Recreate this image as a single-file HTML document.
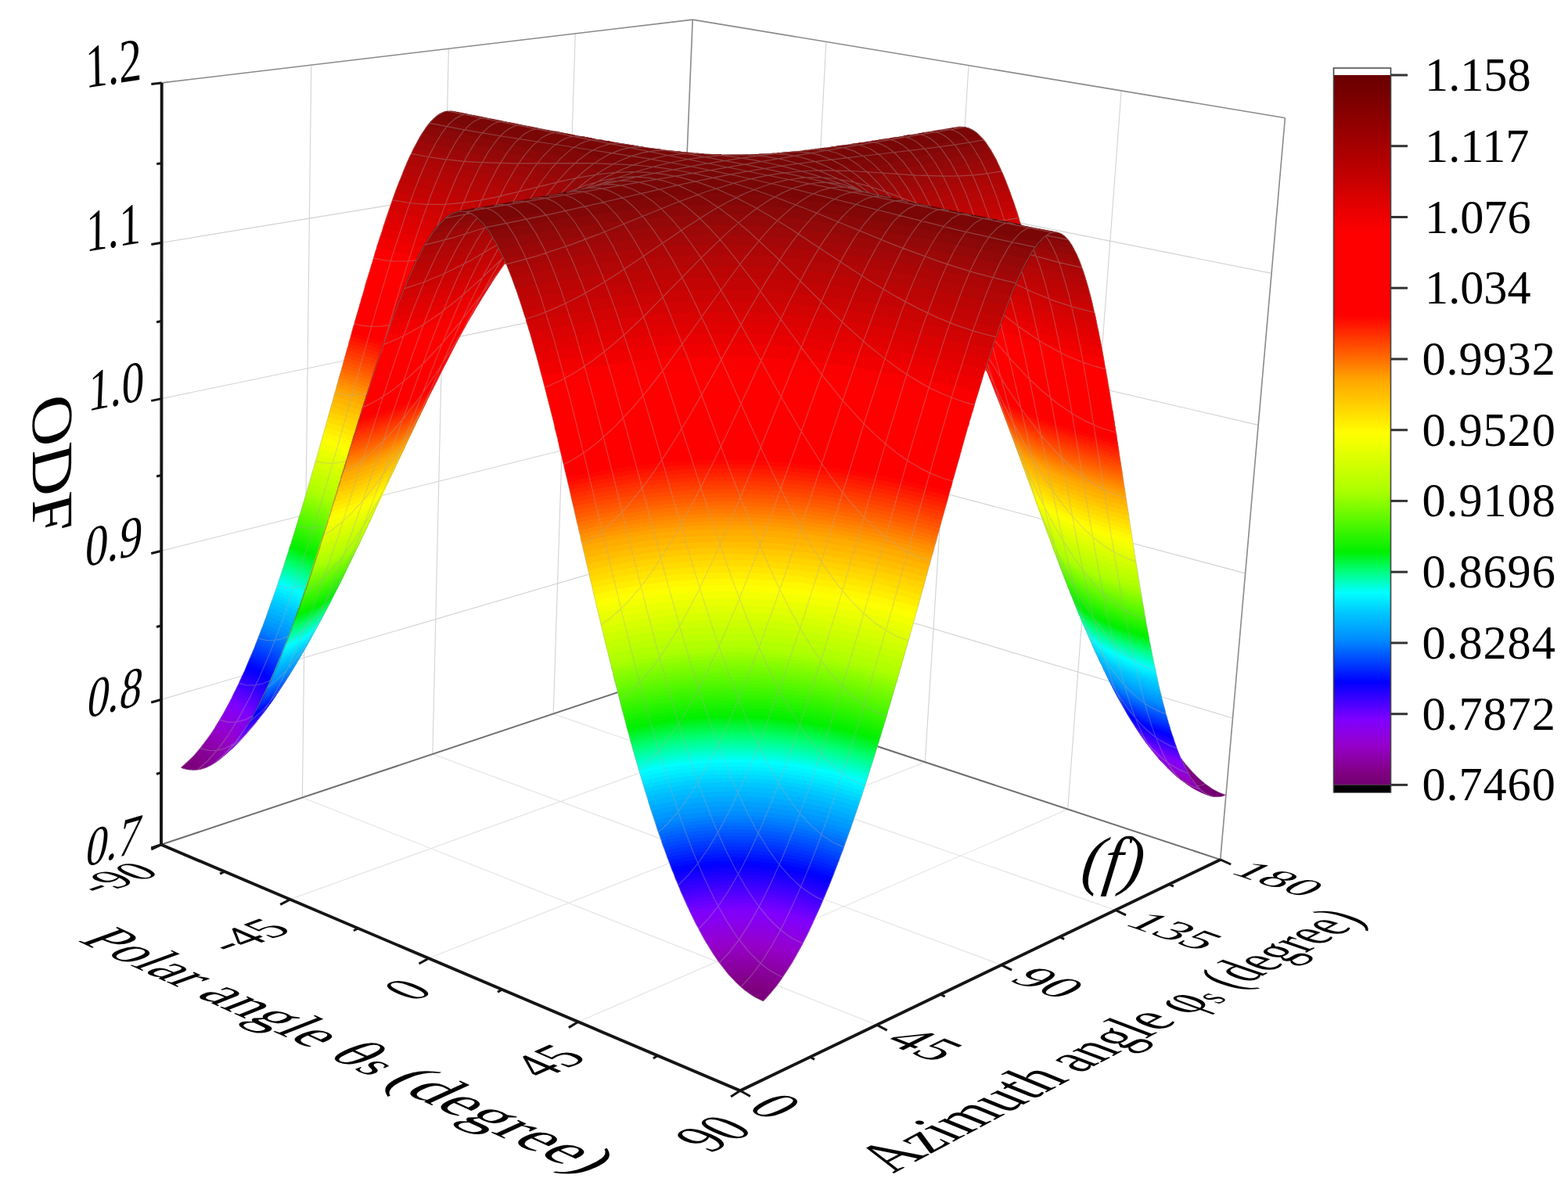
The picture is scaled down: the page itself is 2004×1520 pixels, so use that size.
<!DOCTYPE html>
<html lang="en"><head><meta charset="utf-8"><title>ODF surface plot (f)</title>
<style>html,body{margin:0;padding:0;background:#fff}svg{display:block}text{font-family:"Liberation Serif","Times New Roman",Times,serif}</style></head>
<body>
<svg xmlns="http://www.w3.org/2000/svg" width="2004" height="1520" viewBox="0 0 2004 1520">
<rect width="2004" height="1520" fill="#fff"/>
<g id="frame"><g fill="none"><line x1="206.2" y1="894.2" x2="857.2" y2="703.6" stroke="#d2d2d2" stroke-width="1.1"/><line x1="857.2" y1="703.6" x2="1575.5" y2="918" stroke="#d2d2d2" stroke-width="1.1"/><line x1="206.3" y1="704.2" x2="864" y2="539.2" stroke="#d2d2d2" stroke-width="1.1"/><line x1="864" y1="539.2" x2="1591.6" y2="732.9" stroke="#d2d2d2" stroke-width="1.1"/><line x1="206.5" y1="509.6" x2="870.9" y2="371.4" stroke="#d2d2d2" stroke-width="1.1"/><line x1="870.9" y1="371.4" x2="1608.1" y2="543.4" stroke="#d2d2d2" stroke-width="1.1"/><line x1="206.6" y1="310.2" x2="878" y2="200" stroke="#d2d2d2" stroke-width="1.1"/><line x1="878" y1="200" x2="1625" y2="349.4" stroke="#d2d2d2" stroke-width="1.1"/><line x1="386.4" y1="1019.6" x2="397.8" y2="83.1" stroke="#d2d2d2" stroke-width="1.1"/><line x1="1011.2" y1="917.8" x2="1055.8" y2="53.4" stroke="#d2d2d2" stroke-width="1.1"/><line x1="370.7" y1="1149.8" x2="1011.2" y2="917.8" stroke="#e2e2e2" stroke-width="1.1"/><line x1="386.4" y1="1019.6" x2="1120.5" y2="1310.2" stroke="#e2e2e2" stroke-width="1.1"/><line x1="552.9" y1="964" x2="573.4" y2="62.2" stroke="#d2d2d2" stroke-width="1.1"/><line x1="1182.3" y1="974.3" x2="1238" y2="83.6" stroke="#d2d2d2" stroke-width="1.1"/><line x1="547.9" y1="1225.1" x2="1182.3" y2="974.3" stroke="#e2e2e2" stroke-width="1.1"/><line x1="552.9" y1="964" x2="1279.8" y2="1233.6" stroke="#e2e2e2" stroke-width="1.1"/><line x1="707.2" y1="912.6" x2="735.3" y2="42.9" stroke="#d2d2d2" stroke-width="1.1"/><line x1="1364.7" y1="1034.5" x2="1433.1" y2="116" stroke="#d2d2d2" stroke-width="1.1"/><line x1="739.1" y1="1306.3" x2="1364.7" y2="1034.5" stroke="#e2e2e2" stroke-width="1.1"/><line x1="707.2" y1="912.6" x2="1425.6" y2="1163.4" stroke="#e2e2e2" stroke-width="1.1"/></g>
<g fill="none"><line x1="206.7" y1="105.9" x2="885.2" y2="25.1" stroke="#8a8a8a" stroke-width="1.6"/><line x1="885.2" y1="25.1" x2="1642.4" y2="150.7" stroke="#8a8a8a" stroke-width="1.6"/><line x1="850.5" y1="864.7" x2="885.2" y2="25.1" stroke="#8a8a8a" stroke-width="1.6"/><line x1="1559.7" y1="1098.9" x2="1642.4" y2="150.7" stroke="#8a8a8a" stroke-width="1.6"/><line x1="206" y1="1079.8" x2="850.5" y2="864.7" stroke="#6e6e6e" stroke-width="2.0"/><line x1="850.5" y1="864.7" x2="1559.7" y2="1098.9" stroke="#6e6e6e" stroke-width="2.0"/></g></g>
<g id="surface"><path fill="#720072" d="M959.8 1271.2l0 0.6l6.4 4l8.6 4l1 0l3.4-3.6l0-0.4l-1.4 0l-1.6-1l-6.4-2zM1531.2 1003.8l0 3l4.6 4.4l5.4 4l4 2l5.6 1.6l9 0l4-1l3-1.6l-9-3.4l-7.6-4l-9-6l-4.4-4l-4 2.4zM231.2 981.2l3 1.6l8.6 1.4l-1.6-2.4l-6-3.6z"/>
<path fill="#770077" d="M947.8 1262.2l3 3l12 8.6l12 6l1 0l10-11l-1.6 0l-6-2.6l-2 0l-8.4-2.4l-11.6-1l-0.4-0.6zM1524.8 996.8l0 2l2.4 3.4l8.6 9l4 3l-0.6 0.6l0.6 0.4l8.4 3l5.6 0.6l-1-1l-5.6-2l-5-4.6l0.6-3l3-2.4l-6.6-4.6l-9-8l-2.4 1zM231.2 981.2l3 1.6l6.6 1.4l5 0l0.4 0.6l5.6-0.6l0-3.4l-1.6-2.6l-5-4l-3.4-1.4l-1 0z"/>
<path fill="#7c007c" d="M940.2 1255.8l10.6 9.4l9 6.6l9 1.4l10 3.6l11.4-13.6l-14-4.4l-10.4-2l-8-0.6l-0.6-0.4l-10 0l-0.4-0.6zM1531.8 1011.2l8 4l8.4 3l0-1l-6.4-3l-2 0zM1524.2 988.8l-3.4 2.4l0 1.6l6.4 9.4l3.6 4l1 0l0-1.4l1.4-2.6l4-3l-4.4-3.4l-7-7zM234.2 978.8l6 3.4l1.6 2l4 0l0.4 0.6l10-1l1.6-1l0.4-1.6l-0.4-4.4l-2-3l-3-2.6l-7-3.4z"/>
<path fill="#800081" d="M934.8 1249.8l13 13l7 0l0.4 0.4l11.6 1l8.4 2.6l2 0l6 2.4l2 0l9-11l-9.4-3.4l-15.6-3.6l-13-1l-0.4-0.4zM1526.2 1008.2l10 5.6l8 3l-0.4-1.6l-4-2.4l-2 0zM1519.8 984.8l-2 1.4l0 1l6.4 10.6l1 0l2-2l3.6-2l-9-9.6zM240.2 973.2l2 0.6l5 3l3.6 4l0.4 3.4l2.6 0l7.4-2l2-3l0-5l-2.4-4l-4.6-3.4l-6-3z"/>
<path fill="#830089" d="M930.2 1244.8l10.6 11.4l15.4 0l0.6 0.6l8 0.4l10.4 2l2 1l7 1.6l4.6 2l1 0l2-2l6-8.6l-11-4l-19.6-4l-8.4-0.4l-0.6-0.6l-9.4 0l-0.6-0.4l-8.4 0l-0.6 0.4l-8.4 0zM1517.8 1003.2l9.4 6l9 4.6l5 1.4l0-1.4l-4-3l-2.4 0l-5.6-2l-9-4.6l-1 0l-0.4-1zM1515.2 981.2l0 1.6l5 9l1.6 0l3.4-2.6l1 0l-8-9zM253.2 959.8l-8 9l4 1.4l6 4.6l1.6 2l1 3l-1 3.4l1.4 0l7-2.4l2-2.6l1-2.4l0-3.6l-2-4.4l-6-5z"/>
<path fill="#850090" d="M925.8 1239.2l5.4 7l4 4l19.6 0l0.4 0.6l13 1l15.6 3.4l9 3.6l1 0l7.4-10.6l-5-2l-14.4-4l-5-0.4l-2.6-1l-3.4 0l-3-1l-3.6 0l-0.4-0.6l-16.6-0.4l-0.4-0.6l-8.6 0l-0.4 0.6zM1514.2 1000.8l13 8.4l5 2.6l4.6 1.4l2 0l0-1l-4-3.4l-2 0l-8.6-3l-9-5zM1512.8 976.8l0 1l4.4 9l1.6 0l3.4-2l-7.4-8.6zM256.2 955.8l-7 8.4l9 5l3.6 4l1 2l0 3l-1.6 2.6l0 1.4l4-1.4l5-3l2-3.6l0.6-4.4l-1-3.6l-4.6-5l-3.4-2.4l-5-2.6z"/>
<path fill="#870098" d="M921.8 1234.2l9 11l1-0.4l15.4-0.6l0.6 0.6l9.4 0l0.6 0.4l8.4 0.6l19.6 4l11 4l1.4-1l6-9.6l-1.4 0l-5.6-2.4l-13-3.6l-5-0.4l-5.4-1.6l-10.6-1l-0.4-0.4l-5.6 0l-0.4-0.6l-25 0l-0.6 0.6zM1508.8 996.8l15 10.4l8.4 3.6l4 1l0-1.6l-3.4-3.4l-2 0l-8.6-3l-4.4-2.6l-1 0l-5.6-3.4l-1 0l-0.4-1zM1510.8 972.2l4 9.6l2 0l2-1l-3-3l-4-5.6zM259.2 951.8l-6.4 8.4l6.4 3l6.6 5.6l1.4 3l0.6 3l-1 2.4l-2 2.6l0 1l6.4-3l3.6-3.6l2-4l0-4.4l-2-4.6l-4-4l-9-5z"/>
<path fill="#8a009f" d="M918.2 1229.2l8 10.6l16.6-0.6l0.4-0.4l19.6 1l0.4 0.4l3.6 0l3 1l11 1.6l14.4 4l4.6 2l1 0l6.4-9.6l0-0.4l-3.4-1.6l-11.6-3.4l-11-2.6l-2.4 0l-9.6-2l-3.4 0l-0.6-0.4l-13.4-0.6l-0.6-0.4l-16 0l-0.4 0.4l-8 0l-0.6 0.6zM1505.8 994.2l12.4 9.6l5 2.4l11 3.6l0-1.6l-3-3l-12-4l-9-4.4l-3.4-2.6zM1509.8 969.8l0.4 2.4l2.6 5l2.4-0.4zM262.2 947.8l-6.4 8.4l8.4 4l7 7l1 4l-0.4 2l-3.6 5l0 1l7.6-4.4l3.4-4l1.6-4l0-4.6l-2-4l-4.6-4.4l-5.4-3.6z"/>
<path fill="#8c00a7" d="M914.8 1224.8l7.4 10l10-0.6l0.6-0.4l29 0.4l0.4 0.6l3.6 0l0.4 0.4l6.6 0.6l5.4 1.4l5 0.6l13 3.4l7.6 3l6.4-10l-8-3l-1.4 0l-11-3.4l-4.6-0.6l-5-1.4l-3 0l-10.4-2l-4.6 0l-0.4-0.6l-29.6-0.4l-0.4 0.4l-7 0l-0.6 0.6l-4.4 0zM1502.2 991.2l7 6l6.6 4.6l1 0l7 3.4l5.4 1.6l1.6 1l1.4 0l0-1.6l-3-3.4l-2 0l-12-4.6l-7-3.4l-5-3.6zM265.2 943.8l-6 8.4l10.6 5.6l5.4 6l1 3l0 2.4l-2 4l-3 3l0 1l8-5l3.6-4l1.4-3l0-7l-1.4-3l-5-5l-5.6-3.4z"/>
<path fill="#8e00ae" d="M911.8 1219.8l7 10.4l0.4-0.4l8-0.6l0.6-0.4l9 0l0.4-0.6l13 0l0.6 0.6l13.4 0.4l0.6 0.6l7 0.4l17.4 3.6l13.6 4l4 2l6-9.6l-0.6-1l-15.4-5l-2 0l-2-1l-2 0l-9.6-2.4l-3 0l-0.4-0.6l-10-1l-0.6-0.4l-11.4-0.6l-0.6-0.4l-25.4 0l-0.6 0.4l-5.4 0l-0.6 0.6zM1498.2 987.8l11 9.4l14 6.6l7.6 2l-0.6-2l-2.4-3l-2 0l-1.6-1l-10.4-3.6l-9-4.4l-5.6-4zM267.8 940.2l-3.6 5.6l-2 2l0 1l5.6 2l8 5.4l3.4 4.6l1 2.4l-0.4 4.6l-2.6 4l-3 3l0 1l7-5l4.6-4.6l2-4l0.4-5l-1.4-4.4l-4.6-5l-5-3.6l-6-3z"/>
<path fill="#9000b6" d="M908.8 1215.2l6.4 10l5-0.4l0.6-0.6l4.4 0l0.6-0.4l7 0l0.4-0.6l20 0l0.6 0.6l12 0.4l0.4 0.6l13 1.4l5 1.6l4.6 0.4l11 3.6l1.4 0l7.6 3l1 0l1-1l5-8.6l-12.6-4.4l-14-3.6l-8-1.4l-3 0l-0.4-0.6l-3 0l-3.6-1l-3 0l-0.4-0.4l-4.6 0l-0.4-0.6l-33.6-0.4l-0.4 0.4l-6 0l-0.6 0.6l-4.4 0l-0.6 0.4l-3.4 0zM1495.8 985.2l8.4 8l3 2l14.6 6.6l4.4 1.4l2.6 0l0-1l-2.6-3.4l-6-1.6l-10-4l-7-3.4l-6.4-4.6zM270.8 936.2l-5.6 7.6l0 1l6 2.4l5.6 3.6l5.4 5.4l1.6 3l0 5l-3 5l-3.6 3l0 1.6l8-6.6l5-5.4l1.6-5.6l-0.6-4l-2-4l-4.4-4.4l-7-4.6z"/>
<path fill="#9300bd" d="M905.8 1210.8l6.4 10l3.6-1l14.4-1l0.6-0.6l30.4 0.6l0.6 0.4l4.4 0l0.6 0.6l13.4 1.4l9.6 2.6l2 0l2 1l7.4 1.4l1.6 1l1.4 0l7.6 3l1 0l5.4-9.4l-9-3.6l-17-4.4l-13.4-2l-0.6-0.6l-10-1l-0.4-0.4l-5 0l-0.6-0.6l-33-0.4l-0.4 0.4l-6.6 0l-0.4 0.6l-8.6 0.4zM1490.8 980.2l9.4 9.6l3.6 2.4l14 6.6l5.4 1.4l1.6 1l2.4 0l0-1l-3-4l-7.4-2l-11-4.4l-1-1l-1 0l-4.6-2.6zM272.8 932.8l-5 8l8.4 4l5 3.4l5 5.6l1.6 4.4l-1 4.6l-1.6 2.4l-5.4 5l0 1.6l4.4-3.6l9.6-10l1-2.4l0-6l-2.6-5l-4.4-4.6l-7-4.4l-4-2z"/>
<path fill="#9500c5" d="M902.8 1205.2l6.4 10.6l9-1l0.6-0.6l4.4 0l0.6-0.4l6 0l0.4-0.6l31.6 0.6l0.4 0.4l4.6 0l0.4 0.6l3 0l0.6 0.4l17.4 2.6l14 3.4l12 4.6l1.6-0.6l5.4-10l-6.4-2l-1.6-1l-1.4 0l-1.6-1l-5.4-1l-7.6-2.4l-12.4-2.6l-9-1l-0.6-0.4l-13.4-1l-0.6-0.6l-30.4-0.4l-0.6 0.4l-17.4 1zM1488.2 977.8l10 10l4 2.4l13 6l7 2.6l3.6 0.4l-0.6-2l-2.4-3.4l-10-3l-11.6-5l-7-4l-5-4zM275.8 928.2l-5.6 9l6.6 2.6l7 4.4l5 5l2 4l0 5l-2 3.6l0 1.4l-6.6 5l0 1l0.6 0l9-7.4l-0.6-0.6l7-8l0.6-7l-3.6-6.4l-5-4.6l-9.4-5.4z"/>
<path fill="#9400cc" d="M899.2 1199.8l7 11.4l8-1.4l9.6-0.6l0.4-0.4l7.6 0l0.4-0.6l29 0.6l0.6 0.4l5 0l0.4 0.6l10 1l0.6 0.4l13.4 2l17 4.6l8.6 3.4l1.4-0.4l5.6-10l0-1l-22.6-7l-2 0l-12-3l-3 0l-10-2l-9-0.6l-0.4-0.4l-18.6-0.6l-0.4-0.4l-21.6 0.4l-0.4 0.6l-10.6 0.4l-0.4 0.6l-6.6 0.4zM1483.2 972.2l9.6 10.6l5.4 4l13.6 6.4l10 3.6l2 0l0-1.6l-2.6-4l-17-6l-12.4-6.4zM294.2 959.2l-1 0l-1.4 1.6l-2 0.4l-5 5l0 1l2.4-1.4zM278.2 923.8l-5.4 9.4l10.4 5l3.6 2.6l5 5l2.4 5l0 4l-1 2l0 1l1 0l8-9.6l0.6-3.4l-1-4.6l-2.6-4l-4-4l-7-4.4l-6-3z"/>
<path fill="#9200d3" d="M896.2 1194.2l6.6 11.6l7.4-1.6l3 0l0.6-0.4l17.4-1l0.6-0.6l0.4 0.6l1.6-0.6l17.4 0l0.6 0.6l14 0.4l0.4 0.6l4 0l10.6 2l3 0l12.4 2.4l7.6 2.6l5.4 1l10 4l2-0.6l5.6-10l-1-1l-7-2.4l-1.6 0l-3-1.6l-17.4-4.4l-5-0.6l-8.6-2l-15-1.4l-0.4-0.6l-5 0l-0.6-0.4l-33-0.6l-0.4 0.6l-8.6 0l-0.4 0.4l-9 0.6l-0.6 0.4l-3.4 0zM1479.8 968.2l3.4 4.6l10 9.4l7 4l1 0l8 4l8 2.6l1.6 1l3.4 0.4l0-1.4l-3-5l-2.4 0l-18-7l-10-5.6zM299.2 954.8l-1 0l-3.4 3l-2.6 0.4l-5 5.6l0 1l1 0zM281.2 919.2l-6 9.6l4.6 1.4l1 1l5.4 2.6l5.6 4l3 3l3.4 6.4l-0.4 5.6l1 0l7.4-10l-1-6.6l-3-4.4l-5-4.6l-4.4-3z"/>
<path fill="#8f00da" d="M893.2 1188.8l6.6 11.4l7.4-1.4l6.6-0.6l0.4-0.4l5 0l0.6-0.6l5 0l0.4-0.4l18.6 0l1-0.6l0.4 0.6l18.6 0.4l0.4 0.6l12.6 1l0.4 0.4l16.6 2.6l10.4 3l2 0l1.6 1l5 1l11 4l6-11.6l-1.6 0l-3-1.4l-7.4-2l-1.6-1l-5.4-1l-2-1l-2 0l-2-1l-2 0l-2-1l-16-3l-19-2l-0.6-0.6l-22-0.4l-0.4-0.6l-1.6 0.6l-2.4 0l-0.6-0.6l-1.4 0.6l-12.6 0l-0.4 0.4l-5.6 0l-0.4 0.6l-13 1l-3 1zM1476.8 964.8l6.4 8l4.6 4.4l3 2l16 8l14 4.6l0-1.6l-3-5l-7.6-2l-12.4-5l-12-6.4zM303.2 950.8l-1 0l-5.4 4.4l-2 0.6l-4.6 5l0 1.4l1 0zM283.8 914.8l-5.6 9.4l9 4l7 4.6l4.6 4.4l2 3l1 2.6l0 4.4l1 0l7-9.4l-0.6-3.6l-1.4-3.4l-3.6-4.6l-6.4-5l-7.6-4l-1 0l-1-1z"/>
<path fill="#8c00e1" d="M890.8 1183.8l6 11l7.4-1.6l3 0l0.6-0.4l3.4 0l0.6-0.6l10-0.4l0.4-0.6l7.6 0l0.4-0.4l31 0.4l0.6 0.6l5 0l0.4 0.4l15 1.6l8.6 2l5 0.4l17.4 4.6l3 1.4l6 1.6l4 2l6-11.6l-5.4-1.4l-1.6-1l-1.4 0l-1.6-1l-1.4 0l-3-1.6l-18-4.4l-2.6 0l-5.4-1.6l-9-1l-3.6-1l-4 0l-0.4-0.4l-8-0.6l-0.6-0.4l-6 0l-0.4-0.6l-8.6 0l-0.4-0.4l-1.6 0.4l-2.4-0.4l-24.6 0.4l-0.4 0.6l-15.6 1l-0.4 0.4l-6.6 0.6l-2.4 1l-3 0zM1474.8 962.2l5 6.6l5 5l3 2l14.4 7.4l9 3.6l7.6 2l0-2l-2.6-4.6l-2 0l-6-2l-14.4-6l-8.6-4.4zM307.2 946.8l-1 0l-7.4 6l-2 0.4l-4 4.6l0 1.4l1.4 0l2.6-2zM286.2 910.8l-5.4 9l11 5l6.4 4.4l5 5.6l1.6 2.4l1 5l1 0l6-9l0-2.4l-1.6-3.6l-5.4-6.4l-5-3.6l-7-4l-3.6-1l-2.4-1.4z"/>
<path fill="#8900e8" d="M887.8 1178.2l6 11l3 0l9-2l13-1l0.4-0.4l5.6 0l0.4-0.6l32 0l0.6 0.6l6.4 0l0.6 0.4l19 2l16 3l2 1l2 0l2 1l2 0l2 1l5.4 1l1.6 1l3 0.6l7.4 3l2.6-0.6l5-10l-9.6-3.4l-1.4 0l-3-1.6l-17.6-4.4l-16-3l-3.4 0l-3.6-1l-12.4-1l-0.6-0.6l-5 0l-0.4-0.4l-9 0l-0.6-0.6l-31.4 0.6l-0.6 0.4l-6 0l-0.4 0.6l-12.6 1l-0.4 0.4zM1470.8 957.2l6 8l4.4 4.6l3.6 2.4l15.4 8l15 5.6l2 0l0-1.6l-2.4-4.4l-16-5.6l-14.6-7l-7-4.4zM308.2 945.2l-1 0l-5 4l-3 1l-3.4 4l-0.6 2.6l1 0l3-2zM288.8 906.2l-4 6.6l-1 3l3.4 1l1 1l6 2.4l6 4l6 6l2 3.6l0.6 3l1.4 0l5.6-8.6l0-2l-2-4l-4.6-5l-4.4-3.4l-9-5z"/>
<path fill="#8700ef" d="M885.2 1173.2l5.6 11l4-1l3 0l2.4-1l6.6-0.4l0.4-0.6l15.6-1l0.4-0.4l11 0l0.6-0.6l24 0.6l0.4 0.4l6 0l0.6 0.6l4 0l4.4 1l4 0l3.6 1l9 1l5.4 1.4l2.6 0l18 4.6l3 1.4l1.4 0l1.6 1l6 1.6l1.4 1l2-0.6l4.6-9.4l0-1l-1.6 0l-2.4-1.6l-1.6 0l-4.4-2l-25-6.4l-16.6-2.6l-0.4-0.4l-12.6-1l-4.4-1l-5.6 0l-0.4-0.6l-8 0l-0.6-0.4l-33.4 0.4l-0.6 0.6l-6.4 0l-0.6 0.4l-8.4 0.6l-3 1l-4 0zM1467.2 952.8l7.6 10l3 3l6.4 4.4l8.6 4.6l10.4 4.4l12.6 4l0-2l-2.6-4.4l-15-5l-15-7l-8-5zM313.8 939.2l-6 5l-6.6 3.6l-3 3.4l-1 2.6l1.6 0l4-2.6zM290.8 901.8l-5 9.4l8 3l11 7l5 5.6l2.4 5.4l1 0l5.6-8.4l0-1.6l-1.6-3.4l-5-5.6l-6-4.4l-12-6z"/>
<path fill="#8400f5" d="M882.8 1168.2l5.4 10.6l2.6 0l11.4-2.6l12.6-1l0.4-0.4l6 0l0.6-0.6l9.4 0l0.6-0.4l29 0.4l0.4 0.6l5 0l0.6 0.4l4 0l0.4 0.6l8 0.4l3.6 1l3.4 0l16 3l17.6 4.6l13.4 5l1.6-0.6l0.4-2l4-7.4l0-1l-28-8.6l-23.4-4.4l-15-1.6l-0.6-0.4l-4.4 0l-0.6-0.6l-15.4-0.4l-0.6-0.6l-2 0.6l-2.4-0.6l-26 0.6l-0.6 0.4l-6.4 0l-0.6 0.6l-4 0l-4.4 1l-4.6 0zM1464.2 948.8l8.6 11.4l8 6l17 8.6l15.4 5.4l1.6 0l-2.6-6.4l-1.4 0l-9-3l-16.6-7l-12.4-7.6zM315.8 937.2l-1 0l-2.6 2.6l-6 4l-2.4 0.4l-3.6 4.6l-0.4 2l1.4 0l5.6-3.6zM293.2 897.8l-5 9l6.6 2.4l9 5l8 7l3.4 6.6l1 0l5-8.6l0-2l-2-3.4l-5.4-5.6l-6.6-4.4l-8-4z"/>
<path fill="#8100fc" d="M880.8 1163.8l5 10l12-2.6l4 0l3-1l9.4-0.4l0.6-0.6l5.4 0l0.6-0.4l8 0l0.4-0.6l31.6 0.6l0.4 0.4l5.6 0l4.4 1l12.6 1l0.4 0.6l16.6 2.4l6.4 2l8 1.6l2 1l2 0l17.6 6l4.4-10l-3.4-1.6l-1.6 0l-11-4l-24.4-6l-3 0l-3-1l-9-1l-3.6-1l-4.4 0l-0.6-0.4l-14.4-1l-0.6-0.6l-8 0l-0.4-0.4l-1.6 0.4l-0.4-0.4l-33.6 0.4l-0.4 0.6l-5.6 0l-0.4 0.4l-16.6 1.6zM1463.2 947.2l5.6 8l3 3l5.4 4l17.6 9l13.4 5l5 1l0-1.4l-2.4-4.6l-11.6-3.4l-11-4.6l-9-4.4l-8-5zM317.8 934.8l-1.6 0.4l-6.4 5l-3.6 2l-1 0l-3.4 4.6l0 1.4l1 0l6-3.4zM295.2 893.8l-4.4 8.4l12 5.6l6 4l6 5.4l2 2.6l1 3l1.4 0l4.6-8l-0.6-2l-2.4-3.6l-4-4l-6.6-4.4z"/>
<path fill="#7a00ff" d="M878.8 1159.2l4.4 9.6l11.6-2.6l3.4 0l3-1l4.6 0l0.4-0.4l8-0.6l0.6-0.4l18-0.6l0.4-0.4l26 0.4l0.6 0.6l6.4 0l4.6 1l9.4 0.4l3.6 1l9 1l5.4 1.6l2.6 0l2.4 1l7 1l2 1l5.6 1l21.4 7l0-1l4-8l-18.4-6.6l-18.6-4.4l-2.4 0l-5-1.6l-3 0l-3-1l-6.6-0.4l-3.4-1l-4 0l-0.6-0.6l-4 0l-5-1l-5.4 0l-0.6-0.4l-8 0l-0.4-0.6l-38.6 0.6l-0.4 0.4l-5.6 0l-4.4 1l-8 0.6l-0.6 0.4l-6 0.6zM1460.8 943.8l5 7.4l4 4l9 6l18 8.6l13 4.4l2 0l0-1.4l-2.6-4l-12.4-4l-15-6.6l-12-7zM320.8 931.2l-9 6.6l-3 1.4l-1.6 0l-2.4 3.6l-0.6 2.4l3-1l6-4zM296.8 890.8l-4 7.4l5.4 2l12 6.6l8.6 8l1.4 3l1.6 0.4l4-7l0-1.4l-2-3l-5-5l-6.6-4.6l-11-5.4z"/>
<path fill="#7000ff" d="M876.8 1155.2l4.4 9l15-3l8-0.4l0.6-0.6l8-0.4l0.4-0.6l5.6 0l0.4-0.4l9 0l0.6-0.6l32.4 0.6l0.6 0.4l5.4 0l0.6 0.6l4.4 0l0.6 0.4l11.4 1l12.6 2.6l3 0l24.4 6l11 4l1.6 0l4 2l4.4-9.6l-10-3.4l-1.4 0l-1.6-1l-23-6l-16-3l-2.4 0l-0.6-0.6l-6-0.4l-0.4-0.6l-4.6 0l-4-1l-5 0l-0.4-0.4l-5 0l-0.6-0.6l-7.4 0l-0.6-0.4l-40 0.4l-0.4 0.6l-5.6 0l-0.4 0.4l-13 1l-12 2.6l-3 0zM1457.2 938.8l7 10.4l10.6 8l16 8l18 6.6l2 0l0-1l-1.6-1.6l-1-3l-12.4-4l-19-8.4l-11-7l-7.6-6.6l-0.4-1.4zM323.2 928.2l-9 6.6l-4.4 2.4l-1 0l-2.6 3.6l-0.4 2l2.4-0.6l7-4.4zM298.8 886.8l-4 8l10 4l9 5.4l6.4 6l2.6 4l1 0l4-6.4l0-2l-3-4l-9.6-7.6l-5.4-3z"/>
<path fill="#6600ff" d="M874.8 1150.8l4.4 9.4l13-3l3 0l7-1.4l8.6-0.6l0.4-0.4l6.6 0l0.4-0.6l6.6 0l0.4-0.4l1 0.4l1.6-0.4l34.4 0.4l0.6 0.6l5.4 0l0.6 0.4l16 1.6l10 2l3 0l5 1.4l2.4 0l6.6 2l2 0l10 2.6l14 4.4l4 2l1.4-0.4l3.6-7.6l-0.6-1.4l-3.4-1.6l-1.6 0l-6.4-2.4l-1.6 0l-1.4-1l-13-3.6l-2 0l-2-1l-20.6-4l-6.4-0.4l-3.6-1l-4.4 0l-4-1l-10.6-0.6l-0.4-0.4l-7 0l-0.6-0.6l-43 0.6l-0.4 0.4l-18 1.6zM1456.2 937.2l5.6 8.6l7 6l5.4 3.4l19 9l11 3.6l1.6 1l3.4 0.4l-2.4-6l-1.6 0l-13-4.4l-18.4-8.6l-8-5zM325.8 925.2l-1.6 0.6l-3 3l-10 6l-1 0l-2.4 4l0 1.4l5-2l5-3.4zM300.2 883.2l-4 8l7.6 2.6l11.4 6.4l8 7.6l1.6 2.4l1.4 0l3.6-6.4l0-1.6l-2-3l-3.6-3.4l-7-5l-11-5.6z"/>
<path fill="#5d00ff" d="M873.2 1146.2l0.6 2.6l3.4 7l20.6-4l13-1l0.4-0.6l5.6 0l0.4-0.4l8.6 0l0.4-0.6l37 0.6l5 1l6 0l4 1l4.6 0l0.4 0.4l6 0.6l0.6 0.4l2.4 0l16 3l23 6l1.6 1l1.4 0l9 3.6l2-0.6l3.6-7.4l0-1l-13-4.6l-25-6.4l-13-2l-0.6-0.6l-3 0l-6-1.4l-13-1l-4.4-1l-5.6 0l-0.4-0.6l-7 0l-0.6-0.4l-36 0l-0.4 0.4l-12.6 0.6l-0.4 0.4l-12.6 1l-9.4 2l-3 0l-7 2zM1453.2 932.8l6 9.4l3 3l7.6 5.6l6 3.4l14 6.6l17 6l1.4 0l-2.4-6l-1.6 0l-13-4.6l-19.4-9l-12-8zM329.8 920.2l-1 0.6l-0.6 1.4l-1 0l-3 3l-6.4 4.6l-4 2l-1.6 0l-3 4.4l0 1.6l1.6 0l9-5.6l3.4-3.4zM302.2 879.8l-4 7.4l16 7.6l7.6 5.4l5.4 6.6l1 0l2.6-5.6l1-1l0-2l-1.6-2l-6-5.4l-7-4.6l-12.4-6z"/>
<path fill="#5300ff" d="M871.2 1142.2l4 9l12.6-2.4l8.4-1l0.6-0.6l13-1l0.4-0.4l6 0l0.6-0.6l7.4 0l0.6-0.4l39 0.4l0.4 0.6l4.6 0l0.4 0.4l5.6 0l4 1l4.4 0l3.6 1l9.4 1l8 2l2.6 0l24 6l1.4 1l1.6 0l1.4 1l1.6 0l9 3.6l1 0l4-9l-19.6-6.6l-20-5l-10.4-2l-3 0l-2.6-1l-10-1l-0.4-0.4l-9.6-0.6l-0.4-0.4l-9.6-0.6l-0.4-0.4l-7.6 0l-0.4-0.6l-35.6 0l-0.4 0.6l-13 0.4l-4.6 1l-8 0.6l-3.4 1l-9.6 1zM1451.2 929.8l6 9.4l3.6 3.6l7 5l15 8l12.4 5l10.6 3.4l1.4 0l-2.4-6l-3-0.4l-1.6-1l-1.4 0l-1.6-1l-5.4-1.6l-10-4l-11-5.4l-11-7l-7.6-6.6l-0.4-1.4zM331.8 917.8l-8.6 7l-7.4 4.4l-2 0.6l-2.6 3.4l-0.4 2l1.4 0l10-6l3.6-3.4zM303.8 876.2l-3.6 7.6l16 7.4l7 5l4 4l1.6 2.6l1.4 0l3.6-6.6l-0.6-2.4l-7-6.6l-7-4.4l-11.4-5.6z"/>
<path fill="#4900ff" d="M869.2 1138.2l4 9l19.6-4l11-1l0.4-0.4l4.6 0l0.4-0.6l12.6-0.4l0.4-0.6l34 0l0.6 0.6l7 0l0.4 0.4l5.6 0l4.4 1l5 0l0.6 0.6l3.4 0l3.6 1l3.4 0l3 1l6 0.4l3 1l5 0.6l2 1l7 1l2 1l2 0l2 1l2 0l2 1l8.6 2l14 5l3.4-8.6l0-1l-5.4-1.4l-4.6-2l-3.4-0.6l-3-1.4l-7.6-1.6l-3.4-1.4l-6-1l-4.6-1.6l-2.4 0l-10.6-2.4l-3 0l-10-2l-8-0.6l-4-1l-11.4-0.4l-0.6-0.6l-7 0l-0.4-0.4l-43.6 0.4l-0.4 0.6l-5 0l-0.6 0.4l-4.4 0l-0.6 0.6l-11.4 1l-0.6 0.4l-16 2.6zM1449.2 926.8l6 9.4l3.6 3.6l7 5l19.4 10l9 3l1.6 1l10.4 3l-2.4-6l-20.6-7l-15.4-7.6l-10-6.4zM333.2 915.8l-7.4 6l-10.6 5.4l-2.4 4l0 1.6l6-2.6l6.4-4.4zM305.2 872.8l0 1l-3.4 6.4l11 4.6l8.4 5l4.6 3.4l5.4 6l1 0l0-1l1-1l2.6-6l-5-5.4l-5.6-4l-7-4l-1 0l-1-1l-5.4-2.6z"/>
<path fill="#3f00ff" d="M867.8 1133.8l3.4 9l5-0.6l10-2.4l9.6-1l0.4-0.6l13-1l0.6-0.4l5 0l0.4-0.6l6.6 0l0.4-0.4l33.6 0l0.4 0.4l7.6 0l0.4 0.6l5.6 0l0.4 0.4l8 0.6l0.6 0.4l5 0l0.4 0.6l10 1l2.6 1l3 0l10.4 2l8.6 2.4l4.4 0.6l1.6 1l2 0l7 2.4l5 1l7.4 3l1.6 0l1.4 1l1.6-0.4l3.4-8l-1-1l-1.4 0l-14-5l-23.6-6l-7.4-1.6l-3 0l-11.6-2.4l-4 0l-4-1l-14-1l-0.4-0.6l-5 0l-0.6-0.4l-8.4 0l-0.6-0.6l-40.4 0.6l-0.6 0.4l-12 0.6l-7.4 1.4l-4 0l-3 1l-12 1.6l-2 1l-2.6 0zM1446.8 922.8l6.4 10.4l5.6 5l7.4 5l14.6 7.6l14 5.4l1.4 0l1.6 1l7.4 2l-2-6l-3-0.4l-14-5l-19.4-9l-11.6-7.6zM336.8 911.2l-8 7l-6.6 4l-5.4 2.6l-2.6 4l0 1.4l2.6-0.4l11.4-7.6zM306.8 869.8l-3 7l7.4 3l9.6 5l7 5l5 5.4l1.4 0l3-6l0-2l-3.4-4l-10-7l-15-7z"/>
<path fill="#3600ff" d="M865.8 1129.8l4 9l16-3.6l9.4-1l3.6-1l4.4 0l0.6-0.4l19.4-1l0.6-0.6l31 0l0.4 0.6l8 0l0.6 0.4l11.4 0.6l4 1l8 0.4l10 2l3 0l10.6 2.6l2.4 0l4.6 1.4l6 1l3.4 1.6l7.6 1.4l3 1.6l3.4 0.4l11 4l3.6-8l0-1l-9-3.4l-5-1l-1.6-1l-3.4-0.6l-3.6-1.4l-2 0l-2-1l-12.4-2.6l-2.6-1l-7.4-1.4l-3 0l-6-1.6l-9-1l-0.6-0.4l-4 0l-0.4-0.6l-4 0l-5-1l-5 0l-0.6-0.4l-5.4 0l-0.6-0.6l-40.4-0.4l-0.6 0.4l-14 0.6l-0.4 0.4l-17.6 1.6l-3 1l-3 0l-0.4 0.4l-10.6 1.6zM1444.2 918.8l7 11.4l5.6 5l5 3.6l20.4 10.4l22 7.6l-2-6l-15.4-5l-21-9.6l-14-9.4l-6-5.6l0-1zM338.2 909.2l-8 6.6l-7.4 4.4l-4 1.6l-3 4.4l0 1.6l7-3l8.4-6zM308.2 866.2l-3 7l9 3.6l7.6 4l8 5.4l5 5.6l1.4-0.6l3-6.4l-0.4-2l-7.6-6.6l-7.4-4.4l-13.6-6z"/>
<path fill="#2c00ff" d="M864.2 1125.2l3.6 9l12-2l2.4-1l6.6-0.4l3-1l4 0l3.4-1l5 0l0.6-0.6l10.4-0.4l0.6-0.6l8 0l0.4-0.4l28.6 0l0.4 0.4l10 0l0.6 0.6l15 1l0.4 0.4l15 1.6l3 1l8.6 1l12 3l2 0l2 1l8 1.4l3.4 1.6l10 2.4l4.6 2l4.4 1l1.6 1l4-9l-20.6-7l-20.4-5l-13-2.4l-3 0l-2.6-1l-6.4-0.6l-0.6-0.4l-17.4-1.6l-4.6-1l-7.4 0l-0.6-0.4l-35.4-0.6l-0.6 0.6l-16.4 0.4l-0.6 0.6l-5 0l-0.4 0.4l-8.6 0.6l-10.4 2l-3 0l-3 1l-2.6 0l-2 1l-2.4 0l-4.6 1.4zM1442.8 916.2l6 10l5.4 5.6l8 5.4l18 9l19 7l4 0.6l-2-5.6l-16.4-5.4l-18-8l-14.6-9zM341.2 905.2l-8 7l-7 4.6l-6 2.4l-3 4.6l0 1.4l6-2.4l8.6-5.6l3.4-3.4zM310.2 862.2l-3.4 7.6l7 2.4l9 4.6l7 4.4l6.4 6.6l2-0.6l0-1l2.6-4.4l0-2l-4.6-4.6l-9-6l-14-6.4z"/>
<path fill="#2200ff" d="M862.2 1121.2l4 9l16-3.4l6-0.6l3-1l8-0.4l0.6-0.6l4 0l0.4-0.4l5.6 0l0.4-0.6l5.6 0l0.4-0.4l9 0l0.6-0.6l25.4 0l0.6 0.6l10.4 0l0.6 0.4l11 0.6l0.4 0.4l13 1l6.6 1.6l6 0.4l3 1l3 0l14.4 3.6l2 0l8 2.4l2 0l3.6 1.6l8 2l1.4 1l3.6 0.4l5.4 2.6l1.6 0l3.4-8l0-1l-11.4-3.6l-1.6-1l-5.4-1l-5-2l-8-1.4l-2-1l-2 0l-2-1l-2.6 0l-10-2.6l-2.4 0l-12.6-2.4l-3 0l-0.4-0.6l-22.6-2l-0.4-0.4l-7 0l-0.6-0.6l-32.4-0.4l-0.6 0.4l-18 0.6l-0.4 0.4l-5 0l-0.6 0.6l-4 0l-0.4 0.4l-14.6 1.6zM1441.2 913.8l5.6 9.4l6.4 6l8 5.6l17 8.4l22 8l2 0l-1.4-5l-1-1l-6-1.4l-1.6-1l-12-4l-18-8.6l-13-8.4zM342.2 903.8l-10.4 8l-10 5l-2.6 3.4l-0.4 2l2 0l12-7l4-3.4zM311.8 858.8l-3.6 7.4l2.6 0.6l12 5.4l9.4 6l6 6l1.6-0.4l2.4-5l0.6-2.6l-4-4l-11.6-7.4l-1 0l-11.4-5.6z"/>
<path fill="#1800ff" d="M860.8 1117.2l3.4 9l7.6-2l2.4 0l2-1l6-0.4l6-1.6l11.6-1l4.4-1l5 0l0.6-0.4l7 0l0.4-0.6l10.6 0l0.4-0.4l19 0l0.6 0.4l2.4 0l0.6-0.4l0.4 0.4l17 0.6l4.6 1l10 0.4l3.4 1l11 1l2.6 1l6 0.6l12.4 3l4.6 0.4l2 1l6 1l10.4 3.6l1.6 0l12 4l1.4 1l1.6-0.6l3.4-8.4l-11.4-3.6l-1.6-1l-3.4-0.4l-12.6-4l-6.4-1l-2-1l-2 0l-10-2.6l-2.6 0l-2.4-1l-2.6 0l-6.4-1.4l-3.6 0l-3.4-1l-18-1.6l-0.6-0.4l-5.4 0l-0.6-0.6l-7.4 0l-0.6-0.4l-14.4 0l-0.6-0.6l-2 0.6l-0.4-0.6l-1.6 0.6l-0.4-0.6l-2.6 0l-1 0.6l-2.4-0.6l-0.6 0.6l-13 0l-0.4 0.4l-14 0.6l-0.6 0.4l-9 0.6l-3.4 1l-8 0.4l-2.6 1l-3 0l-8 2l-2.4 0zM1439.8 911.2l5.4 9.6l6 5.4l6.6 4.6l13 7l10.4 4.4l18.6 6.6l1.4 0l-2-6l-14.4-4.6l-23.6-10.4l-10.4-6.6zM345.2 899.8l-10.4 8.4l-5 3l-7 3l-2.6 4.6l0 1l2 0l5-2.6l9-6l3.6-3.4zM310.2 862.8l8 3l1 1l7 3l6.6 4l7.4 7l1 0l3-6.6l0-2l-2-2l-12.4-8.4l-16-7z"/>
<path fill="#0f00ff" d="M859.2 1112.8l3.6 9l22.4-4.6l14.6-1.4l0.4-0.6l4 0l0.6-0.4l12.4-0.6l0.6-0.4l14 0l0.4-0.6l1.6 0.6l1.4-0.6l7.6 0.6l2-0.6l0.4 0.6l14 0l0.6 0.4l17.4 1l0.6 0.6l7.4 0.4l4 1l7.6 0.6l2.4 1l9 1l12 3l4.6 0.4l2 1l8 1.6l5 2l5.4 1l1.6 1l6 1.4l6.4 2.6l3.6-9l-11-4l-1.6 0l-3.4-1.6l-2 0l-3-1.4l-4-0.6l-1.6-1l-2 0l-2-1l-2 0l-11-3l-13-2l-0.4-0.4l-3 0l-3-1l-6-0.6l-0.6-0.4l-12-1l-4.4-1l-5 0l-0.6-0.6l-6 0l-0.4-0.4l-9 0l-0.6-0.6l-34.4 0l-0.6 0.6l-8 0l-0.4 0.4l-11.6 0.6l-0.4 0.4l-8 0.6l-3.6 1l-7.4 0.4zM1437.8 907.8l5 9l5.4 5.4l9.6 6.6l19 9.4l14.4 5l1.6 1l8 2l-2-6l-14.6-4.4l-20-8.6l-14.4-8.4l-4.6-3.6zM347.8 896.2l-5.6 5l-7 5l-11 5.6l-2.4 4.4l0 1l1.4 0l7-3.4l10-7zM311.8 859.2l14.4 6l11.6 7.6l4 4l1.4-0.6l2-4l0.6-3.4l-3.6-3.6l-9-6l-1 0l-4-2.4l-13-5.6z"/>
<path fill="#0500ff" d="M857.8 1108.2l0.4 3l3 6.6l18-4l6.6-0.6l3-1l4 0l3.4-1l9-0.4l0.6-0.6l15-0.4l0.4-0.6l36 0l0.6 0.6l7.4 0l0.6 0.4l5.4 0l0.6 0.6l13.4 1l0.6 0.4l20 2.6l2.4 1l2.6 0l10 2.4l2 0l2 1l6.4 1l12.6 4l3.4 0.6l1.6 1l4.4 1l6 2.4l2-0.4l3-7.6l0-1l-10.4-3.4l-1.6 0l-3-1.6l-2 0l-6.4-2.4l-2 0l-10-3l-2.6 0l-2-1l-7-1l-5-1.6l-15-2l-3-1l-4 0l-0.4-0.4l-12.6-1l-0.4-0.6l-11-0.4l-0.6-0.6l-44-0.4l-0.4 0.4l-15.6 0.6l-0.4 0.4l-4.6 0l-4.4 1l-8.6 0.6l-6.4 1.4l-3.6 0l-2.4 1l-12.6 2l-2 1zM1435.8 904.2l5.4 10l6 5.6l7 5l6 3.4l16 7.6l11.6 4.4l1.4 0l10.6 3.6l-2.6-6.6l-6-1.4l-3-1.6l-1.4 0l-5.6-2.4l-4-1l-16.4-7.6l-9.6-5.4l-7-5zM349.8 893.2l-6 5.6l-8 5.4l-7.6 4l-2.4 0.6l-2.6 4.4l0 1.6l1.6 0l6-3l11-7.6l3.4-4zM316.2 848.2l-3 7.6l9.6 3.4l2 1.6l4 1.4l10 6.6l5 4.4l1 0l3-7l0-1l-2-2l-10-7l-10-5l-6-2l-1-1l-1.6-0.4z"/>
<path fill="#0005ff" d="M855.8 1104.2l2.4 7l1.6 2.6l6.4-2l10.6-1.6l5-1.4l7.4-0.6l0.6-0.4l11-1l0.4-0.6l5 0l0.6-0.4l16.4-0.6l0.6-0.4l29 0l0.4 0.4l10.6 0l0.4 0.6l4.6 0l0.4 0.4l6.6 0l0.4 0.6l8.6 0.4l0.4 0.6l13.6 1.4l3 1l6 0.6l3 1l2.4 0l2 1l10 1.4l5.6 2l4.4 0.6l1.6 1l2 0l5 2l2 0l3.4 1.4l1.6 0l10.4 4l1.6-0.4l3.4-8.6l-21.4-7l-5.6-1l-8-2.4l-2 0l-2-1l-12.4-2.6l-2.6 0l-2.4-1l-12-1.4l-0.6-0.6l-20-2l-0.4-0.4l-11-0.6l-0.6-0.4l-43.4-0.6l-0.6 0.6l-17 0.4l-0.4 0.6l-4 0l-4 1l-15.6 1.4zM1433.8 900.8l5.4 10l5 5l7.6 5.4l11.4 6.6l1 0l2 1.4l4.6 1.6l3.4 2l17.6 6l1.4 1l5.6 1l-2-6l-19.6-6.6l-19-8.4l-15-9.6zM353.2 888.2l-3.4 4l-8 6.6l-8.6 5l-6 2.4l-2.4 4.6l0 1.4l1 0l8-4l9.4-6.4l4.6-5zM317.8 844.8l-3 7.4l6 2l10.4 5.6l1 0l9 6l4 4l1 0l3-6.6l0-2l-1.4-1.4l-10-7l-1 0l-1-1l-11.6-5.6l-5.4-2z"/>
<path fill="#000eff" d="M854.2 1100.2l3.6 9l15.4-3.4l12-1.6l3-1l8.6-0.4l4.4-1l5.6 0l0.4-0.6l5.6 0l0.4-0.4l40-0.6l0.6 0.6l9.4 0l0.6 0.4l12 0.6l0.4 0.4l8.6 0.6l0.4 0.4l14 1.6l24 4.4l2 1l2.6 0l2 1l13.4 3l3 1.6l2 0l3 1.4l6.6 1.6l2.4 1.4l1.6 0l2.4 1l3.6-9l-10.6-4l-5-1l-1.4-1l-25.6-6.4l-12.4-2l-5.6-1.6l-12.4-1.4l-0.6-0.6l-8-0.4l-0.4-0.6l-8-0.4l-0.6-0.6l-12-0.4l-0.4-0.6l-43.6-0.4l-0.4 0.4l-16.6 0.6l-4.4 1l-5 0l-4 1l-11.6 1l-5.4 1.4l-10.6 1.6zM1431.8 897.2l7 12l8.4 7l7 4.6l22 10.4l4 1l10 4l7.6 2l-2-6.4l-5-1l-1.6-1l-12.4-4l-20-9l-15-9.6zM355.2 885.2l-4 4.6l-5.4 4.4l-10.6 6.6l-6.4 2.4l-2.6 6l3-0.4l7.6-4l8-5.6l4-4zM319.2 841.2l-3 7l8.6 3.6l10 5l7 4.4l5 4.6l1.4-0.6l2.6-5.4l0-2.6l-5-4l-9-5.4l-12-5.6l-4.6-1.4z"/>
<path fill="#0018ff" d="M852.8 1095.8l3.4 9l2.6 0l2-1l2 0l4.4-1.6l5.6-0.4l2.4-1l9-1l3.6-1l9-0.6l4-1l11.4-0.4l0.6-0.6l9.4 0l0.6-0.4l30.4 0l0.6 0.4l9.4 0l0.6 0.6l5.4 0l0.6 0.4l6 0l0.4 0.6l12.6 1l0.4 0.4l3.6 0l0.4 0.6l15.6 2l2.4 1l2.6 0l12.4 2.4l2 1l2 0l8 2.6l5.6 1l14.4 4.4l1.6 1l1.4 0l3 1.6l2-0.6l0.6-2.4l2.4-6l-13-4.6l-1.4 0l-1.6-1l-2 0l-1.4-1l-24-6l-2.6 0l-10-2.4l-3 0l-3-1l-3 0l-10.4-2l-3.6 0l-0.4-0.6l-7.6-0.4l-0.4-0.6l-5 0l-0.6-0.4l-5 0l-0.4-0.6l-6.6 0l-0.4-0.4l-41-0.6l-0.6 0.6l-17 0.4l-0.4 0.6l-5.6 0l-0.4 0.4l-7.6 0.6l-4.4 1l-4.6 0l-0.4 0.4l-16.6 2.6zM1429.8 893.8l6 11l6.4 6l8 5.4l7 4l14 6.6l23.6 8.4l2 0l-1.6-6l-7.4-2l-1.6-1l-3-0.4l-1.4-1l-6.6-2l-13-5.6l-6-3.4l-1 0l-15-9.6zM357.2 882.2l-0.4 0l-0.6 1.6l-8.4 7.4l-11.6 7l-4.4 2l-1.6 0l-2.4 5l0 1.6l2.4-0.6l4-2l12-7.4l4.6-4.6zM320.8 837.8l-3 7l0.4 0.4l5 1.6l11.6 5.4l1 1l1 0l7.4 5l4 3.6l1.6 0l2.4-5.6l0-2.4l-7-5.6l-12-6.4l-11.4-4.6z"/>
<path fill="#0022ff" d="M851.2 1091.2l1.6 5.6l2 4l9.4-2.6l2.6 0l13.4-3l11.6-1l4-1l16.4-1l0.6-0.4l9 0l0.4-0.6l30 0l0.6 0.6l11 0l0.4 0.4l16.6 1l0.4 0.6l12 1l0.6 0.4l20.4 3l35.6 8.6l1.4 1l11 3l4 2l1.6-0.6l3-8l-2-1.4l-10.6-3.6l-1.4 0l-1.6-1l-5.4-1l-13-4l-6.6-1l-2-1l-2.4 0l-12.6-3l-3 0l-16-3l-13-1l-4.4-1l-12.6-0.4l-0.4-0.6l-40.6-0.4l-0.4 0.4l-18 0.6l-0.6 0.4l-5.4 0l-4 1l-5 0l-0.6 0.6l-13.4 1.4zM1428.2 890.8l5.6 10.4l4.4 4.6l10.6 7.4l14 7.6l10.4 4.4l15 5l1.6 1l6.4 1.6l-1.4-5.6l-1-1l-4.6-1l-1.4-1l-3-0.4l-11-4l-20-9l-15-9.6zM358.2 880.8l-6 5.4l-7 5l-11.4 6l-2 0l0 1l-2.6 4l0 1.6l1.6 0l4.4-2.6l1 0l12.6-8l3.4-3zM322.2 834.2l-3 7l0.6 0.6l4 1l12 5.4l9 5.6l5.4 4.4l1 0l2.6-5.4l0.4-2.6l-3.4-3l-15.6-9l-11.4-4.4z"/>
<path fill="#002cff" d="M849.8 1087.2l3 9l2 0l14-3.4l5.4-0.6l3-1l3.6 0l2.4-1l4.6 0l0.4-0.4l8-0.6l4-1l12.6-0.4l0.4-0.6l10 0l0.6-0.4l27 0l1.4 0.4l0.6-0.4l0.4 0.4l9.6 0l0.4 0.6l17.6 1l3.4 1l4.6 0l0.4 0.4l3.6 0l10.4 2l3 0l5.6 1.6l5.4 0.4l5 1.6l7 1l2 1l4 0.4l2 1l11.6 2.6l1.4 1l2 0l1.6 1l1.4 0l13.6 5l4-9.6l-29.6-9l-2 0l-8-2.4l-14.4-2.6l-2.6-1l-3 0l-3-1l-6-0.4l-10-2l-3.4 0l-0.6-0.6l-5 0l-0.4-0.4l-4.6 0l-0.4-0.6l-9-0.4l-0.6-0.6l-7 0l-0.4-0.4l-39.6-0.6l-0.4 0.6l-17.6 0.4l-0.4 0.6l-5 0l-0.6 0.4l-4.4 0l-0.6 0.6l-15.4 1.4l-0.6 0.6l-16 2.4l-2.4 1l-2.6 0l-2 1l-2.4 0zM1426.2 887.2l5.6 10.6l5 5l10.4 7.4l7 4l1 0l1 1l13 6l13 5l3 0.6l1.6 1l1.4 0l5 2l2 0l-2-6l-8.4-3l-1.6 0l-19.4-7.6l-18.6-9.4l-10.4-7.6zM361.2 876.2l-7 7l-9.4 6.6l-11.6 5.4l-1.4 2l-1 4l5.4-2l6.6-3.4l8-5.6l4.4-4.4zM320.8 837.8l0.4 0.4l4 1l14 6.6l8 5l4.6 4l1 0l3-7l0-1l-8.6-6.6l-9.4-5l-13.6-5.4z"/>
<path fill="#0035ff" d="M848.2 1083.2l3 9l12.6-3l2.4 0l2-1l3.6 0l5-1.4l3 0l0.4-0.6l3 0l7.6-1.4l5 0l0.4-0.6l16-1l0.6-0.4l2 0.4l0.4-0.4l8.6 0l0.4-0.6l26 0l0.6 0.6l11 0l0.4 0.4l6 0l0.6 0.6l7 0l4.4 1l13 1l6.6 1.4l3.4 0l3 1l6 0.6l2.6 1l7.4 1l2.6 1l2.4 0l2 1l6.6 1l13 4l5.4 1l1.6 1l8 2l5.4 2.4l1.6 0l3.4-9l-25-8l-2 0l-2-1l-10-2.4l-4.4-0.6l-4.6-1.4l-8-1l-2-1l-6-0.6l-13-2.4l-7.4-0.6l-0.6-0.4l-13.4-1l-0.6-0.6l-5.4 0l-0.6-0.4l-7.4 0l-0.6-0.6l-36.4-0.4l-0.6 0.4l-25 1l-0.4 0.6l-8 0.4l-0.6 0.6l-7.4 0.4l-10 2l-6 0.6l-12 3l-2.6 0zM1424.8 884.2l5 10l8 7.6l8 5.4l13 7l14 6l11 4l3 0.6l1.4 1l6.6 1.4l-2.6-6.4l-22.4-7.6l-22.6-10.4l-14-9.6zM364.2 871.8l-7 7.4l-4.4 3.6l-9 5.4l-9 4l-2.6 4.6l0 1.4l1.6 0l10-5l9.4-6.4l4-4zM322.2 834.2l12 4.6l11 6l1.6 1.4l3 1.6l3.4 3l1.6-0.6l2.4-6l-0.4-2l-7-5l-9.6-5l-1 0l-1-1l-1 0l-7-3.4l-1.4 0l-3-1.6z"/>
<path fill="#003fff" d="M846.2 1078.8l3.6 9l9-1.6l7-2l2.4 0l2.6-1l2.4 0l6.6-1.4l3.4 0l3.6-1l8.4-0.6l0.6-0.4l18-1l0.4-0.6l11 0l0.6-0.4l23.4 0l0.6 0.4l11 0l0.4 0.6l6.6 0l0.4 0.4l6.6 0l0.4 0.6l8.6 0.4l0.4 0.6l5 0l0.6 0.4l3.4 0l2.6 1l4 0l12.4 2.6l3 0l2.6 1l14.4 2.4l2 1l8 1.6l9 3l2 0l1.6 1l1.4 0l1.6 1l6.4 1.4l6.6 2.6l2-0.6l0.4-2.4l2.6-5.6l-8-3l-4.6-1l-1.4-1l-3.6-0.4l-1.4-1l-2 0l-3.6-1.6l-2 0l-3.4-1.4l-4.6-0.6l-6-2l-4.4-0.4l-12-3l-3 0l-3-1l-19-2.6l-0.6-0.4l-3.4 0l-0.6-0.6l-10-0.4l-0.4-0.6l-10-0.4l-0.6-0.6l-7.4 0l-0.6-0.4l-32-0.6l-0.4 0.6l-14 0l-0.6 0.4l-12.4 0.6l-0.6 0.4l-14 1l-0.4 0.6l-6.6 0.4l-6.4 1.6l-3 0zM1423.2 881.2l5 10l5.6 5.6l10.4 7.4l18.6 9.6l19.4 7.4l1.6 0l8 3l2 0l-2-6l-19.6-6.4l-15.4-6.6l-10-5l-7.6-4.4l-7.4-5.6zM364.8 870.8l-5 5l-9 6.4l-9 5l-5.6 2l-3 5.6l0 1l1.6 0l11-5.6l9.4-6.4l4-4zM326.8 822.8l-0.6 2.4l-2.4 5.6l13 5l9.4 5l8.6 6.4l1.4-0.4l1-3.6l1.6-2.4l0-1.6l-1.6-1.4l-14-8.6l-11.4-5l-1.6 0z"/>
<path fill="#0049ff" d="M845.2 1074.2l0 1.6l3 8l19.6-4.6l6-0.4l10-2l12-1l0.4-0.6l19-1l0.6-0.4l28-0.6l0.4 0.6l15 0l0.6 0.4l14.4 0.6l0.6 0.4l4.4 0l0.6 0.6l16.4 1.4l13 2.6l6 0.4l2 1l5.6 0.6l2 1l2.4 0l2.6 1l4.4 0.4l10 2.6l2 1l2 0l5 2l2 0l1.6 1l3.4 0.4l6 2.6l4.6 1l1.4 1l2-0.6l0.6-2.4l2.4-5.6l-1.4-1l-3-0.4l-1.6-1l-3-0.6l-5-2l-1.4 0l-4.6-2l-4-0.4l-11-3.6l-4.4-0.4l-11-3l-3 0l-5-1.6l-15-2l-3.6-1l-4 0l-0.4-0.4l-11.6-1l-0.4-0.6l-16-1l-0.6-0.4l-27-0.6l-0.4-0.4l-1.6 0.4l-4-0.4l-1 0.4l-1.4-0.4l-0.6 0.4l-12.4 0l-0.6 0.6l-17 0.4l-0.4 0.6l-5.6 0l-8 1.4l-15 1.6zM1420.8 876.8l5.4 11l6 6l9 6.4l22.6 11.6l2.4 0.4l10.6 4.6l16 5l-1.6-6.6l-1.4 0l-3-1.4l-1.6 0l-6-2.6l-3-0.4l-8-3.6l-1.4 0l-19.6-9l-8.4-5l-9-6.4l-6-6zM367.8 866.2l-4 4.6l-8 6.4l-5.6 3.6l-13 6l-2.4 6l1.4 0l13-6.6l9-6.4l3-3zM328.2 819.2l-3 8l4 1l7 3.6l1 0l1 1l1 0l9.6 5l7.4 5.4l1.6-0.4l2.4-6l0-1l-2-2l-15.4-9l-2.6-0.6l-5.4-3l-3-0.4l-1-1z"/>
<path fill="#0053ff" d="M843.8 1070.2l3 9l6.4-1l6.6-2l8.4-1l2.6-1l3 0l6.4-1.4l11-1l0.6-0.6l4.4 0l0.6-0.4l4.4 0l0.6-0.6l6 0l0.4-0.4l24-0.6l0.6-0.4l1 0.4l5 0l0.4-0.4l2 0.4l0.6-0.4l0.4 0.4l16 0l0.6 0.6l14.4 0.4l5 1l14 1l0.6 0.6l10 1l0.4 0.4l19.6 3l2 1l9.4 1.6l4 1.4l6.6 1l3.4 1.6l2 0l3.6 1.4l2 0l1.4 1l9.6 2.6l7.4 3l1.6-0.6l3-8.4l-6.6-2l-1.4-1l-5-1l-5-2l-2 0l-6.6-2.6l-2 0l-10-3l-2.4 0l-2-1l-2 0l-10-2.4l-2.6 0l-3-1l-2.4 0l-12.6-2.6l-15-1.4l-0.4-0.6l-15-1l-0.6-0.4l-6.4 0l-0.6-0.6l-8.4 0l-0.6-0.4l-36.4 0l-0.6 0.4l-17.4 0.6l-0.6 0.4l-10 0.6l-0.4 0.4l-4 0l-0.6 0.6l-17 2l-2.4 1l-8 1l-11 2.4l-2 1zM1419.2 873.8l5.6 11l6 6l7.4 5.4l7.6 4.6l18 8.4l11.4 4.6l15 5l2 0l-2.4-6.6l-3-0.4l-22.6-8l-12.4-6l-1 0l-11-6l-7-4.6l-5.6-4.4l-5-5zM370.2 862.2l-0.4 0l0 1l-1 0.6l-0.6 1.4l-10 8.6l-8 5l-6 2.4l-1 1l-4.4 1.6l-2 3.4l-0.6 2.6l2 0l6.6-3l7-4l9-6.6l2.4-2.4zM329.8 815.8l-3 8l4 1l11.4 5l10.6 6l5 4l1.4-0.6l1-3.4l1.6-2.6l0-1.4l-5.6-4l-7-4l-8.4-4z"/>
<path fill="#005cff" d="M842.2 1066.2l3 9l28-6l4 0l2.6-1l4 0l0.4-0.4l4 0l0.6-0.6l8.4-0.4l5-1l6 0l0.6-0.6l47-0.4l0.4 0.4l10 0l0.6 0.6l16 1l4 1l4.4 0l0.6 0.4l7.4 0.6l3.6 1l9.4 1l5 1.4l2.6 0l12.4 2.6l4.6 1.4l2.4 0l5.6 2l4 0.6l3.4 1.4l4 0.6l1.6 1l11 3l7.4 3l1-0.6l3-8.4l-4.4-2l-3.6-0.6l-6.4-2.4l-1.6 0l-1.4-1l-5.6-1l-7-2.6l-2 0l-8-2.4l-5-0.6l-14-3.4l-9.4-1l-2-1l-4 0l-10-2l-14.6-1l-4-1l-12.4-0.6l-0.6-0.4l-10.4 0l-0.6-0.6l-1.4 0.6l-1-0.6l-28.6 0l-1 0.6l-1.4-0.6l-0.6 0.6l-16.4 0.4l-0.6 0.6l-10 0.4l-0.4 0.6l-4 0l-0.6 0.4l-4 0l-0.4 0.6l-10 1l-0.6 0.4l-2.4 0l-16 3zM1417.8 870.8l5.4 11l8 7.4l10.6 7l12.4 6.6l1 0l4.6 2.4l2.4 0.6l3.6 2l1.4 0l8 3.4l3 0.6l1.6 1l11.4 3.4l-2-7l-2 0l-3.4-1.4l-1.6 0l-18-6.6l-21.4-10l-14-9l-7.6-7zM371.8 859.8l-6 6.4l-5 4l-8 5l-13 6l-2 4l0 2l2.4-0.4l11-5.6l9.6-6.4l4-3.6zM330.8 812.8l-2.6 6.4l0.6 1l5 1.6l5.4 3l2.6 0.4l1 1l4 1.6l10.4 6.4l2 2l1 0l3-7l0-1l-7-5l-10.4-5.4l-14-5.6z"/>
<path fill="#0066ff" d="M840.8 1062.2l3 8.6l3 0l2-1l6.4-1l2-1l5-0.6l6-1.4l3 0l2.6-1l3 0l0.4-0.6l3 0l7.6-1.4l4 0l0.4-0.6l18-1l0.6-0.4l43-0.6l0.4 0.6l10 0l0.6 0.4l5 0l0.4 0.6l6.6 0l0.4 0.4l5 0l0.6 0.6l4 0l0.4 0.4l7.6 0.6l4 1l3.4 0l3.6 1l3 0l2.4 1l6 0.4l5 1.6l8 1l24.6 6l3 1.4l2 0l17.4 6l1.6-0.4l2-6.6l1-2l-3-0.4l-1.6-1l-4.4-1l-5-2l-1.6 0l-4.4-2l-2 0l-5.6-2l-2 0l-2-1l-2 0l-2-1l-4-0.6l-11-3l-2.4 0l-5.6-1.4l-8.4-1l-9-2l-10.6-1l-0.4-0.6l-19-1.4l-0.6-0.6l-5.4 0l-0.6-0.4l-7 0l-0.4-0.6l-38-0.4l-0.6 0.4l-25.4 1l-0.6 0.6l-9 0.4l-0.4 0.6l-7.6 0.4l-3.4 1l-13 1.6l-7.6 2l-5 0.4zM1416.2 867.8l5.6 11l10 9l7 4.4l11 6l1 0l12.4 6l13.6 4.6l1.4 1l12 3.4l-1.4-6.4l-4.6-1l-20-7l-20-9l-12-7l-5.4-4l-6.6-6zM373.2 857.2l-7.4 7.6l-5.6 4l-7.4 4.4l-11.6 5l-2.4 6l2 0l10.4-5l10-6.4l6.6-6zM332.2 809.2l-2.4 6l0.4 1.6l9.6 3.4l8.4 4l7 4l5 4l2-0.4l1-3.6l1.6-2.4l0-1l-6-4.6l-8.6-4.4l-1 0l-1-1l-11.4-5l-1.6 0l-1.4-1z"/>
<path fill="#0070ff" d="M839.2 1057.8l3 9l1.6 0l11-3l7.4-1.6l3 0l2.6-1l2.4 0l3.6-1l3 0l7.4-1.4l4 0l0.6-0.6l4 0l0.4-0.4l4.6 0l0.4-0.6l6 0l0.6-0.4l19.4-0.6l0.6-0.4l25 0l0.4 0.4l12 0l0.6 0.6l5.4 0l0.6 0.4l6.4 0l0.6 0.6l22 2l7 1.4l4 0l2 1l6.4 0.6l2.6 1l3 0l4.4 1.4l2.6 0l4.4 1.6l5 0.4l8 2.6l2 0l7 2.4l5.6 1l1.4 1l9.6 2.6l6 2.4l1.4-0.4l3-8.6l-4-1l-1.4-1l-1.6 0l-3-1.4l-1.4 0l-1.6-1l-1.4 0l-12.6-4l-4-0.6l-1.4-1l-2.6 0l-8-2.4l-9.4-1.6l-5-1.4l-5.6-0.6l-5.4-1.4l-6.6-0.6l-3-1l-11-1l-0.4-0.4l-4.6 0l-0.4-0.6l-8-0.4l-0.6-0.6l-11.4-0.4l-0.6-0.6l-8 0l-0.4-0.4l-26.6-0.6l-0.4 0.6l-19 0l-0.6 0.4l-7 0l-0.4 0.6l-5.6 0l-0.4 0.4l-6.6 0l-3.4 1l-5.6 0l-0.4 0.6l-3.6 0l-3.4 1l-3.6 0l-3 1l-8.4 1l-8 2l-2.6 0l-10 3zM1414.8 864.8l4.4 9.4l1.6 2l7 6.6l8 5.4l16 8.6l11.4 5l18 6.4l8.6 2l-1.6-6l-11.4-3.4l-3-1.6l-1.6 0l-13-5l-23.4-11.4l-12-8.6zM375.8 853.2l-7 7.6l-4.6 3.4l-9 5.6l-10 5l-2.4 0.4l-2.6 5l0 1.6l4.6-1.6l9-4.4l10-6.6l5.4-5zM333.8 805.2l-3 7.6l0.4 0.4l1.6 0l12 5l10.4 5.6l7 5l1 0l2.6-6l0-2l-1-1l-15-8.6l-14.6-6z"/>
<path fill="#007aff" d="M837.8 1053.8l3 9l11.4-3l8-1l4.6-1.6l3 0l3.4-1l6.6-0.4l3.4-1l4 0l4-1l5.6 0l0.4-0.6l10.6-0.4l0.4-0.6l22-0.4l0.6-0.6l1 0.6l1.4-0.6l13 0l0.6 0.6l16 0l0.4 0.4l13 0.6l0.6 0.4l10 0.6l0.4 0.4l4.6 0l0.4 0.6l14.6 1.4l9 2l8.4 1l7.6 2l5 0.6l6.4 2l4 0.4l2 1l2 0l2 1l2 0l5.6 2l2 0l1.4 1l1.6 0l1.4 1l8 2l8 3l3.6-9l-26.6-8.4l-14-3.6l-2.4 0l-2-1l-4.6-0.4l-2-1l-2.4 0l-2.6-1l-8.4-1l-15-3l-11-1l-0.6-0.6l-5 0l-0.4-0.4l-14.6-1l-0.4-0.6l-6.6 0l-0.4-0.4l-9 0l-0.6-0.6l-39 0l-0.4 0.6l-9.6 0l-0.4 0.4l-5 0l-0.6 0.6l-6 0l-0.4 0.4l-13.6 1l-0.4 0.6l-10.6 1l-3 1l-3 0zM1412.8 860.8l5 10.4l2 2.6l6 5.4l9.4 6.6l8 4.4l10.6 5l3.4 1l1 1l2.6 0.6l10.4 4.4l18 5.6l-2-6.6l-25.4-8.4l-15-6.6l-13-7l-11.6-8l-6.4-6.4zM378.2 849.2l-9 9.6l-5.4 4l-8.6 5l-11.4 5l-2 4l0 2l1.4 0l8.6-4l1-1l1 0l13-8.6l5-5zM334.8 802.2l-2.6 7l15 6l1 1l1 0l8.6 4.6l6 4.4l1 0l2.4-6l0-2l-1-1l-15-8.4l-14.4-6z"/>
<path fill="#0083ff" d="M836.2 1048.2l3.6 10.6l8.4-2.6l4.6-0.4l10-2.6l8.4-1l3-1l3.6 0l3.4-1l9.6-0.4l4.4-1l20-1l0.6-0.6l40 0l0.4 0.6l10 0l0.6 0.4l6 0l0.4 0.6l6 0l0.6 0.4l4 0l4.4 1l4.6 0l0.4 0.6l11 1l3 1l3 0l9 2l5.6 0.4l2 1l2.4 0l10 2l8 2.6l2.6 0l1.4 1l2 0l14.6 4.4l1.4 0l1.6 1l1.4 0l9.6 3.6l1.4-0.6l2-6.4l1-1.6l0-1.4l-15-5l-1.4 0l-1.6-1l-2 0l-1.4-1l-2 0l-9-3l-6.6-1l-4-1.6l-5-0.4l-4.4-1.6l-2.6 0l-2-1l-3 0l-2.4-1l-6.6-0.4l-5.4-1.6l-22-2.4l-0.6-0.6l-15.4-1l-0.6-0.4l-6 0l-0.4-0.6l-8 0l-0.6-0.4l-22.4 0l-1.6-0.6l-0.4 0.6l-16 0l-0.6 0.4l-11 0l-0.4 0.6l-12.6 0.4l-0.4 0.6l-4.6 0l-0.4 0.4l-3.6 0l-7.4 1.6l-10.6 1l-3 1l-13 2zM1410.2 855.8l6 12.4l9.6 9l9 6l23.4 11.6l13 5l1.6 0l7.4 3l8 2l-1-4.6l-1.4-3l-3-0.4l-1.6-1l-1.4 0l-22.6-8l-1-1l-2.4-0.6l-3.6-2l-5.4-2l-14.6-8l-11-8l-5-5l-3.4-5.4zM379.8 846.8l-7.6 7.4l-8.4 6l-7 4l-7.6 3l-1 1l-2.4 0.6l-3 7l3.4-0.6l10-5l11-7l6-5.4zM336.8 797.2l-3 8.6l15 6l12 6.4l4.4 3.6l1 0l3-8l0-1l-1-1l-14-8l-4.4-1.6l-1-1l-2.6-0.4l-3.4-2z"/>
<path fill="#008eff" d="M834.2 1042.2l4 12l14.6-3.4l4.4-0.6l2.6-1l3.4 0l2-1l3 0l3-1l15-1.4l0.6-0.6l4 0l0.4-0.4l4.6 0l0.4-0.6l6 0l0.6-0.4l15-0.6l0.4-0.4l2 0.4l1.6-0.4l32 0l0.4 0.4l9.6 0l0.4 0.6l6 0l0.6 0.4l6.4 0l0.6 0.6l4.4 0l0.6 0.4l4 0l5 1l4.4 0l3.6 1l4 0l15 3l8.4 1l2.6 1l2.4 0l2 1l4.6 0.6l2 1l2.4 0l14 3.4l5 2l2 0l1.6 1l11.4 3l6 2.6l1.6-0.6l4-11.4l-29-9l-2 0l-6-2l-2 0l-16-4l-5-0.6l-2.6-1l-2.4 0l-9.6-2l-3.4 0l-2.6-1l-10.4-1l-0.6-0.4l-14.4-1l-5-1l-5.6 0l-0.4-0.6l-6.6 0l-0.4-0.4l-46-0.6l-0.6 0.6l-10 0l-0.4 0.4l-13 0.6l-0.6 0.4l-9.4 0.6l-4 1l-4 0l-3 1l-7.6 0.4l-3 1l-2.4 0l-5.6 1.6l-10 1.4l-2 1l-4.4 0.6l-1.6 1zM1409.2 853.2l0.6 2l5.4 10.6l6 6l11.6 8l13 7l15 6.4l20 7l6.4 1.6l-2-8.6l-11-3l-12.4-5l-1.6 0l-3.4-2l-5-1.4l-13-6l-9-5l-9.6-6.6zM382.8 841.8l-8.6 8.4l-7 5l-8 4.6l-12 5l-2.4 5.4l-0.6 3l3.6-1l6.4-3l1-1l1 0l14-9l5.6-5.4zM338.8 791.8l-3 9l-1 1.4l15.4 6l1 1l1 0l7.6 4l6.4 4.6l1.6 0l3.4-9l0-1.6l-8-5l-11-5.4z"/>
<path fill="#0097ff" d="M832.2 1036.2l4 12.6l4.6-0.6l10.4-3l5-0.4l8.6-2l3 0l6-1.6l4 0l0.4-0.4l10.6-1l0.4-0.6l6 0l0.6-0.4l12.4-0.6l0.6-0.4l9.4 0l0.6-0.6l35.4 0l1.6 0.6l0.4-0.6l0.6 0.6l9 0l0.4 0.4l17.6 1l0.4 0.6l4 0l0.6 0.4l22 2.6l5.4 1.4l6.6 0.6l2.4 1l7.6 1l4.4 1.4l5 0.6l4 1.4l6.6 1l9 3l2 0l1.4 1l2 0l1.6 1l8 2l9 3.6l1-1l2.4-8.6l1.6-3l-1-1l-3-0.4l-1.6-1l-1.4 0l-1.6-1l-5-1l-5-2l-3.4-0.6l-5-2l-2 0l-6-2l-2.6 0l-3.4-1.4l-2.6 0l-2-1l-7-1l-5-1.6l-2.4 0l-5-1.4l-3 0l-2.6-1l-17-2l-3.4-1l-8.6-0.6l-4.4-1l-6 0l-4.6-1l-14.4-0.4l-0.6-0.6l-16 0l-0.4-0.4l-19 0l-1.6 0.4l-1.4-0.4l-0.6 0.4l-26.4 1l-0.6 0.6l-9.4 0.4l-0.6 0.6l-7.4 0.4l-0.6 0.6l-19 2.4l-13 3l-2.4 0l-2 1l-1.6 0l-2 1l-2.4 0zM1405.8 846.2l4 8l0 1l4 7l7.4 7l8 5.6l11.6 6.4l12 5.6l2.4 0.4l1 1l6.6 2l4 2l19.4 6l0-2l-1-2l-1-5l-28.4-9.4l-23.6-11l-12-7.6l-5-4l-5.4-5.4l-3.6-5.6zM386.2 835.8l-6.4 7.4l-10 7.6l-8 4.4l-3 1l-1 1l-7 3l-1.6 0l-3.4 9l3.4-0.4l1-1l7.6-3l7-4l8.4-6l5-5zM340.8 786.8l-4 10.4l0.4 1l1.6 0l6.4 3l2.6 0.6l1 1l8.4 3.4l11 7l1.6-0.4l3.4-9.6l0-1l-1-1l-15.4-8.4z"/>
<path fill="#00a0ff" d="M830.2 1030.2l4 12.6l27.6-6l6-0.6l3.4-1l3.6 0l3-1l7.4-0.4l0.6-0.6l23-1.4l0.4-0.6l0.6 0.6l1.4-0.6l8 0l0.6-0.4l0.4 0.4l2-0.4l28.6 0l0.4 0.4l10.6 0l0.4 0.6l7.6 0l0.4 0.4l5 0l0.6 0.6l11.4 0.4l0.6 0.6l8.4 0.4l7 1.6l4 0l2.6 1l6.4 0.4l3 1l3 0l2.6 1l8 1l4.4 1.6l2.6 0l2.4 1l10.6 2l4 1.4l2 0l7 2.6l10 2.4l11 4l2-0.4l4-11.6l-5.6-2.4l-1.4 0l-4.6-2l-2 0l-3-1.6l-3.4-0.4l-1.6-1l-2 0l-5.4-2l-8-1.6l-4-1.4l-4.6-0.6l-2-1l-17.4-3.4l-9-1l-2.6-1l-6-0.6l-0.4-0.4l-10.6-1l-0.4-0.6l-14.6-1l-5-1l-5.4 0l-0.6-0.4l-6 0l-0.4-0.6l-9.6 0l-0.4-0.4l-43 0l-0.6 0.4l-8.4 0l-0.6 0.6l-5.4 0l-0.6 0.4l-6 0l-4 1l-9.4 0.6l-0.6 0.4l-7 0.6l-0.4 0.4l-15 2l-2.6 1l-3 0l-2.4 1l-7 1zM1404.2 842.8l0.6 2l5 9.4l0 1l1.4 2l8 7.6l9.6 6.4l10 5.6l1 0l11 5.4l5 1.6l3.4 2l1.6 0l12.4 5l1.6 0l10.4 3.4l-1.4-8l-1-1.4l-3-0.6l-22-7.4l-2.6-1.6l-13-5l-12-6l-12-7.4l-5-4l-6-6zM388.2 832.2l-6.4 7l-9.6 7l-11 6l-10 4l-3.4 7.6l0 1.4l1.4 0l10-5l1 0l8-4.4l7-5l6-6zM342.2 782.2l-3.4 10.6l12.4 4.4l11 5.6l7.6 5l2-0.6l3.4-10.4l-10-6l-1 0l-7.4-4l-13.6-5z"/>
<path fill="#00aaff" d="M828.2 1024.2l4 12.6l3.6-1l2.4 0l5.6-2l2.4 0l10.6-2.6l3 0l2.4-1l9.6-1l3.4-1l4 0l7.6-1.4l6 0l0.4-0.6l4.6 0l0.4-0.4l7.6 0l0.4-0.6l6.6 0l0.4-0.4l16.6 0l0.4-0.6l30 0.6l0.6 0.4l7.4 0l0.6 0.6l4.4 0l0.6 0.4l1.4-0.4l4.6 1l10 0.4l0.4 0.6l4 0l0.6 0.4l7 0.6l7.4 1.4l3.6 0l0.4 0.6l6 0.4l2.6 1l3 0l5 1.6l5 0.4l2.4 1l7 1l4 1.6l2 0l2 1l2.6 0l6 2l2 0l5 2l13.4 3.4l9 3.6l4.6-12.6l-1-1l-3-0.4l-11-4l-3.6-0.6l-1.4-1l-4-0.4l-11-3.6l-2.6 0l-1.4-1l-6.6-1l-4.4-1.4l-2.6 0l-7-2l-5.4-0.6l-2.6-1l-15-2l-3.4-1l-4 0l-3.6-1l-13.4-1l-5-1l-18.6-1l-0.4-0.4l-42.6-0.6l-0.4 0.6l-12 0l-0.6 0.4l-19.4 1l-0.6 0.6l-8.4 0.4l-3.6 1l-8 0.6l-15 3l-5.4 0.4l-13 3.6l-4.6 0.4zM1401.8 837.8l3 7l4.4 8l5 5l11 8l18 9.4l11.6 5l24.4 8.6l5 1l-2-9l-4.4-1l-20.6-7l-13.4-5.6l-13.6-6.4l-11-6.6l-8-6l-6-6zM391.8 826.2l-7.6 8.6l-6.4 5l-10 6l-10.6 5l-4.4 1.4l-2.6 5.6l-0.4 3.4l13-5.4l8-4.6l7-5l5-4.4zM341.8 783.2l0 1.6l-1 1.4l0.4 1.6l14.6 5.4l12.4 6.6l4 3l1 0l3.6-9l0-2.6l-14.6-8l-17.4-7z"/>
<path fill="#00b4ff" d="M826.8 1018.2l3.4 12.6l9.6-2.6l2.4 0l2-1l7.6-1l13.4-3l10.6-1l4-1l4 0l0.4-0.4l5 0l4-1l7 0l0.6-0.6l14.4-0.4l0.6-0.6l40 0l0.4 0.6l9.6 0l0.4 0.4l12 0.6l5 1l14.6 1l10.4 2l4 0l5.6 1.4l3.4 0l13.6 3l2.4 0l2.6 1l4.4 0.6l2 1l4.6 0.4l4 1.6l8 1.4l5.4 2l2 0l4.6 2l11.4 3l5.6 2.6l1-0.6l4-12.4l-2.6-1l-1.4 0l-3-1.6l-1.6 0l-10-3.4l-4-0.6l-3-1.4l-4-0.6l-3.4-1.4l-2 0l-6.6-2l-4-0.6l-2-1l-5-0.4l-9.4-2.6l-8.6-1l-2.4-1l-3.6 0l-2.4-1l-13.6-1.4l-0.4-0.6l-4.6 0l-4-1l-14.4-1l-0.6-0.4l-5.4 0l-0.6-0.6l-15.4-0.4l-0.6-0.6l-29-0.4l-0.4 0.4l-17 0l-0.6 0.6l-20.4 1l-4.6 1l-5.4 0l-3.6 1l-4.4 0l-3 1l-7 0.4l-3 1l-3.6 0l-8 2l-5 0.6l-2 1l-5 0.4l-6 2l-2 0zM1399.2 832.2l5.6 11.6l0 1l2 3l5.4 5.4l9.6 7l7.4 4.6l16.6 8l16.4 6.4l21 6.6l-2-9l-27-9l-14.4-6l-8.6-4.6l-1 0l-10.4-6l-8.6-6l-8-7.4l-3.4-5.6zM392.8 824.2l-5.6 5.6l-10 7.4l-12 6.6l-1 0l-7 3.4l-2.4 0.6l-3 6.4l-0.6 2.6l2 0l8-4l1 0l2-1.6l1 0l14.6-9l6.4-6zM346.2 771.2l-4 11l0.6 0.6l3 0.4l10 4l7.4 4l1 0l9.6 6l1.4 0l3.6-9l-0.6-2.4l-15-8z"/>
<path fill="#00bdff" d="M824.8 1012.2l4 12.6l23-5.6l11.4-1.4l6-1.6l15-1.4l0.6-0.6l11-0.4l0.4-0.6l5 0l0.6-0.4l7.4 0l0.6-0.6l12 0l0.4-0.4l0.6 0.4l4 0l0.4-0.4l22 0l0.6 0.4l11 0l0.4 0.6l1.6-0.6l0.4 0.6l5.6 0l0.4 0.4l12.6 0.6l0.4 0.4l9.6 0.6l4 1l4.4 0l3.6 1l4 0l3.4 1l9.6 1l8 2l8 1l4.4 1.4l2.6 0l4.4 1.6l4.6 0.4l3.4 1.6l2.6 0l11 3.4l2 0l1.4 1l5.6 1l6 2.6l1.4 0l7 2.4l1.6 0l4-12l-17-5.4l-1.6 0l-1.4-1l-4-0.6l-5-2l-38.6-8.4l-2.4 0l-5.6-1.6l-9.4-1l-3.6-1l-11-1l-0.4-0.4l-9-0.6l-5-1l-5.6 0l-0.4-0.4l-5.6 0l-0.4-0.6l-7.6 0l-0.4-0.4l-46.6-0.6l-0.4 0.6l-25 1l-0.6 0.4l-5 0l-5 1l-5 0l-3 1l-4 0l-0.4 0.6l-3.6 0l-3.4 1l-9 1zM1397.2 827.8l4.6 10.4l3 5l5.4 5.6l8 6l11 6.4l20.6 9.6l27 9.4l5.4 1l-2-8.4l-27.4-9l-2.6-1.6l-2.4-0.4l-3.6-2l-8-3l-12-6l-9-5.6l-8.4-6.4l-6-6l-3-5zM396.8 817.2l-0.6 0l-0.4 2l-7.6 7.6l-7.4 5.4l-16 8.6l-7 3l-1.6 0l-3 7l0 2l1.6 0l14-6.6l13.4-8.4l6.6-6zM347.8 766.8l-3.6 10.4l9 3l1 1l7 2.6l1 1l10.6 5l2.4 2l2 0.4l3.6-9.4l0-1l-1-1l-17.6-9l-3.4-1l-5-2.6z"/>
<path fill="#00c6ff" d="M823.2 1007.2l3.6 11.6l8.4-2.6l9.6-1.4l2-1l14-2l3-1l4 0l6-1.6l4.4 0l3.6-1l5.4 0l0.6-0.4l5 0l5-1l7 0l0.4-0.6l8 0l0.6-0.4l42 0l0.4 0.4l10.6 0l0.4 0.6l4.6 0l0.4 0.4l7 0l0.6 0.6l14.4 1l0.6 0.4l11.4 1l0.6 0.6l10 1l2.4 1l3.6 0l2.4 1l8.6 1l9.4 2.4l5 0.6l2 1l4 0.4l6.6 2l2 0l3.4 1.6l4 0.4l3 1.6l2 0l5 2l2 0l6 2.4l5 1l1.6 1l2 0l3.4-11l-1.4 0l-9-3.4l-2 0l-15.6-5l-8-1.6l-1.4-1l-4.6-0.4l-6.4-2l-4.6-0.6l-2-1l-2.4 0l-10.6-2.4l-3 0l-2.4-1l-6.6-0.6l-3-1l-17.4-2l-0.6-0.4l-9-0.6l-5-1l-5.4 0l-0.6-0.4l-12-0.6l-0.4-0.4l-9.6 0l-0.4-0.6l-39.6 0l-0.4 0.6l-11 0l-0.6 0.4l-7.4 0l-0.6 0.6l-16.4 1l-0.6 0.4l-7.4 0.6l-3.6 1l-7 0.4l-3 1l-3 0l-6 1.6l-5.4 0.4l-11 3l-2.6 0l-2 1zM1395.8 824.2l3.4 8.6l3.6 6l7.4 7l8.6 6l10.4 6l1 0l15.6 7.4l11.4 4.6l5.6 1.4l1.4 1l4.6 1l1.4 1l1.6 0l8 3l1.4 0l-1.4-8l-4.6-1l-1.4-1l-1.6 0l-13.4-4.4l-1.6-1l-1.4 0l-1-1l-10.6-3.6l-15.4-7.4l-1 0l-9-5l-11-7.6l-7.6-7zM398.8 813.8l-6.6 7.4l-7.4 6l-14 8l-1 0l-9 4.6l-2.6 0.4l-1.4 2l-2 6l3.4-0.4l14-6.6l13-8.4l6.6-6zM349.2 762.2l0 1.6l-3 7l0 1.4l16 6l10 5.6l1 0l4.6 3l1.4 0l3-8.6l-0.4-1.4l-14.6-7.6z"/>
<path fill="#00d0ff" d="M821.8 1002.8l3 10l2.4 0l1.6-1l14-2.6l1.4-1l8.6-1l2-1l3.4 0l9-2l8-0.4l0.6-0.6l12-1l0.4-0.4l20-1l0.6-0.6l10 0l0.4-0.4l1 0.4l1.6-0.4l30.4 0l0.6 0.4l10 0l0.4 0.6l7 0l0.6 0.4l17.4 1l4 1l9.6 0.6l0.4 0.4l13.6 1.6l3 1l3.4 0l2 1l3 0l10.6 2l2.4 1l3 0l9 2.4l4.6 0.6l1.4 1l10.6 2l5 2l2 0l1.4 1l3.6 0.4l6.4 2.6l6.6 1.4l3 1.6l2-0.6l3-9l-0.6-1l-3-0.4l-3-1.6l-1.4 0l-8.6-3l-1.4 0l-1.6-1l-9.4-2l-2-1l-3.6-0.4l-1.4-1l-2.6 0l-8-2.6l-2.4 0l-2-1l-2.6 0l-7.4-2l-2.6 0l-5.4-1.4l-3 0l-2.6-1l-6.4-0.6l-2.6-1l-3.4 0l-3-1l-7-0.4l-0.6-0.6l-4 0l-0.4-0.4l-4 0l-0.6-0.6l-8.4-0.4l-0.6-0.6l-18.4-1l-0.6-0.4l-8.4 0l-0.6-0.6l-1.4 0.6l-0.6-0.6l-41.4 0l-0.6 0.6l-10 0l-0.4 0.4l-13.6 0.6l-4 1l-10.4 0.4l-0.6 0.6l-7 0.4l-0.4 0.6l-15.6 2l-5.4 1.4l-5 0.6l-2.6 1l-2.4 0l-2 1l-2.6 0zM1394.8 821.8l2 5.4l3.4 6.6l8.6 8l9.4 6.4l17 9l8 3l3.6 2l12 4l1.4 1l10.6 3.6l1.4 0l1.6 1l6.4 1.4l-1.4-7.4l-4.6-1l-1.4-1l-1.6 0l-8-3l-1.4 0l-9.6-4l-4-1l-22.4-10l-9-5l-9-6l-6.6-5.6zM399.8 811.8l-8 8l-8.6 6l-12 6.4l-11.4 4.6l-3 5.4l0 2l2 0l18-8.4l10-6.6l7.4-7zM350.8 758.2l-1.6 5.6l-1.4 3l0.4 1l4.6 1l5 2.4l3.4 1l10.6 5l8 5l1 0l3-8l0-1l-1-1l-17-8.4z"/>
<path fill="#00daff" d="M820.2 997.8l3 9l0 1.4l5-1.4l2 0l2-1l4.6-0.6l2-1l7.4-1l2.6-1l15-2l3.4-1l3 0l3.6-1l7.4-0.4l0.6-0.6l16.4-1l0.6-0.4l7.4 0l0.6-0.6l11 0l0.4-0.4l33.6 0l0.4 0.4l2-0.4l0.6 0.4l17 0.6l0.4 0.4l6 0l0.6 0.6l4.4 0l0.6 0.4l10 0.6l0.4 0.4l8 0.6l0.6 0.4l13.4 1.6l3 1l6.6 0.4l2.4 1l3 0l7.6 2l2.4 0l2.6 1l7 1l6.4 2l4.6 0.6l1.4 1l8 1.4l17 5.6l5 1l4.6 2l2.4 0l3-9l0-1l-4-1l-1.4-1l-1.6 0l-6.4-2.6l-2 0l-1-1l-5.6-1l-1.4-1l-2 0l-3.6-1.4l-6-1.6l-2.4 0l-1.6-1l-4.4-0.4l-18-4.6l-3 0l-16.6-3.4l-3 0l-7.4-1.6l-4 0l-2.6-1l-13.4-1l-5-1l-5 0l-0.6-0.4l-12-0.6l-0.4-0.4l-9.6 0l-0.4-0.6l-21 0l-0.6-0.4l-2.4 0l-0.6 0.4l-22.4 0l-0.6 0.6l-22 1l-0.4 0.4l-9 0.6l-4 1l-4.6 0l-0.4 0.4l-13.6 1.6l-3 1l-11 1.4l-5 1.6l-2.4 0l-2 1l-2.6 0zM1392.8 817.2l4 10l3 4l7 6.6l11 7.4l9 5l1 0l7.4 4l1 0l7 3.6l2.6 0.4l2.4 1.6l1.6 0l1.4 1l2.6 0.4l1 1l1.4 0l1.6 1l13.4 4.6l1.6 0l1.4 1l5.6 1l-1.6-7.6l-8-2l-7.4-3l-4.6-1l-9.4-4l-1.6 0l-25.4-11.4l-11-6.6l-8-6l-7.6-7.4l-2-3.6zM402.2 807.2l-7.4 8l-7.6 5.6l-16.4 9l-10.6 4l-2.4 7.4l4-1l12-5.4l8-4.6l8-5.4l6-5.6zM352.2 754.2l-3 9l9 3l1 1l7 2.6l5.6 3l1 0l8.4 5l1.6-0.6l2.4-8.4l-16.4-8.6z"/>
<path fill="#00e4ff" d="M819.2 992.8l0 2l1.6 3.4l1 5l7.4-1.4l4-1.6l2.6 0l2-1l8-1l7.4-2l15.6-2l0.4-0.4l7-0.6l0.6-0.4l4 0l0.4-0.6l6 0l0.6-0.4l17-1l0.4-0.6l11 0l0.6-0.4l36.4 0l0.6 0.4l1.4-0.4l0.6 0.4l9.4 0l0.6 0.6l19.4 1l4.6 1l4.4 0l0.6 0.4l16 1.6l3 1l3.4 0l2.6 1l12 1.4l5.4 1.6l7.6 1l2.4 1l2.6 0l2 1l2.4 0l8 2.4l2.6 0l1.4 1l13 3l1.6 1l3.4 0.6l16.6 5.4l1 0l3-9l0-1.4l-3-0.6l-7.6-3l-2 0l-5-2l-3.4-0.4l-1.6-1l-2 0l-1.4-1l-2.6 0l-2-1l-5.4-1l-1.6-1l-5-0.6l-3.4-1.4l-2.6 0l-9.4-2.6l-5-0.4l-4.6-1.6l-2.4 0l-18.6-3.4l-4 0l-7-1.6l-7.4-0.4l-0.6-0.6l-16.4-1l-0.6-0.4l-4.4 0l-0.6-0.6l-6 0l-0.4-0.4l-9 0l-0.6-0.6l-15.4 0l-0.6-0.4l-1.4 0.4l-1-0.4l-3 0l-0.6 0.4l-0.4-0.4l-26.6 0.4l-0.4 0.6l-16 0.4l-5 1l-5.6 0l-0.4 0.6l-16 1.4l-6.6 1.6l-12.4 1.4l-10.6 2.6l-2.4 0l-2 1l-4.6 0.4l-2 1zM1391.2 813.8l4.6 11l4 4.4l7 6l9 6l9 5l3 1l1 1l18.4 8l4 1l9.6 4l11 3l1.4 1l5.6 1l-1.6-7.4l-9.4-2.6l-24-8.4l-24-11l-8.6-5l-8.4-6l-8.6-8zM404.8 802.8l-9 9.4l-10 7l-12.6 6.6l-11.4 4.4l-2 4.6l-0.6 3l5-1.6l14-6.4l14.6-9.6l6-6zM353.8 750.2l-3 9l1.4 0l1 1l1.6 0l10 4l13.4 6.6l4.6 3l1 0l3-8l-0.6-1.6l-18-9l-2.4-0.4l-1-1l-1.6 0l-5.4-2.6l-1.6 0l-1-1z"/>
<path fill="#00eeff" d="M817.2 987.8l3.6 10.4l5.4-1l6-2l2.6 0l2-1l8-1l5-1.4l12.4-1.6l10-2l13-1l0.6-0.4l18-1l0.4-0.6l8 0l0.6-0.4l41.4 0l0.6 0.4l1.4-0.4l0.6 0.4l10 0l0.4 0.6l4.6 0l0.4 0.4l8 0l0.6 0.6l19 1.4l7 1.6l4 0l0.4 0.4l13 1.6l13.6 3l3 0l4.4 1.4l7 1l6.6 2l4.4 0.6l1.6 1l2.4 0l6 1.4l3.6 1.6l2 0l1.4 1l3.6 0.4l3 1.6l2 0l3.4 1.4l1.6 0l1.4 1l1.6 0l5 2l1.4 0l3.6-10l-13.6-4.4l-3.4-0.6l-3-1.4l-7.6-1.6l-3.4-1.4l-6.6-1l-1.4-1l-2.6 0l-1.4-1l-7-1l-4.6-1.6l-2.4 0l-6.6-2l-2.4 0l-9-2l-3 0l-12-2.4l-3.6 0l-3.4-1l-4.6 0l-4-1l-14-1l-4.4-1l-7 0l-0.6-0.6l-14-0.4l-0.4-0.6l-35.6-0.4l-0.4 0.4l-15.6 0l-0.4 0.6l-8 0l-0.6 0.4l-17.4 1l-0.6 0.6l-4.4 0l-0.6 0.4l-11.4 1l-6.6 1.6l-9.4 1l-2.6 1l-8.4 1l-4 1.4l-2.6 0l-2 1zM1389.2 809.8l5.6 12l9.4 9l12 8l8.6 4.4l1 0l2 1.6l18.4 8l1.6 0l9.4 4l4.6 1l7.4 3l1.6 0l5.4 2l2 0l-1.4-7.6l-3.6-0.4l-3-1.6l-8-2l-1.4-1l-1.6 0l-1.4-1l-11-3.4l-2.6-1.6l-4-1l-21.4-10l-8-4.4l-8-5.6l-7-6l-4.6-5l-1-2zM407.2 798.2l-3 4l-5.4 5.6l-9 6.4l-16 8.6l-6 2l-2.6 1.4l-2 0l-2.4 6.6l0 1.4l4-1l15-7l13.4-8.4l7-6.6zM354.8 746.8l-1 4l-1.6 3l0.6 1.4l15 5.6l11.4 5.4l4.6 3l1.4 0l2.6-6.4l0-2.6l-16.6-8.4l-1.4 0l-1-1l-2.6-0.6l-6.4-3l-1.6 0l-2-1z"/>
<path fill="#00f7ff" d="M816.8 984.8l2 8l1 1l1.4-1l12.6-2.6l2-1l5-0.4l2.4-1l2.6 0l12.4-2.6l3 0l6.6-1.4l16-1.6l0.4-0.4l19-1l0.6-0.6l9 0l0.4-0.4l54.6 0.4l0.4 0.6l6 0l0.6 0.4l11.4 0.6l0.6 0.4l17.4 1.6l3 1l11 1l22.6 4.4l2.4 0l14 3.6l2.6 0l1.4 1l5 0.4l1.6 1l5.4 1l2 1l2.6 0l1.4 1l2 0l1.6 1l3.4 0.6l18 6l1-1l2.6-7.6l-1.6 0l-4-2l-3.4-0.4l-3-1.6l-8.6-2l-1.4-1l-4-0.4l-5-2l-2 0l-4-1.6l-2.6 0l-1.4-1l-2 0l-7-2l-2.6 0l-1.4-1l-2.6 0l-2.4-1l-5-0.4l-8-2l-15-2l-3-1l-7.6-0.6l-3.4-1l-12-1l-0.6-0.4l-6 0l-5-1l-20.4-1l-0.6-0.6l-16.4 0l-0.6-0.4l-23.4 0l-0.6 0.4l-1.4-0.4l-0.6 0.4l-10.4 0l-0.6 0.6l-9 0l-0.4 0.4l-5.6 0l-0.4 0.6l-12 0.4l-0.6 0.6l-4 0l-2.4 1l-5 0l-0.6 0.4l-7 0.6l-3 1l-4 0l-5.4 1.4l-3 0l-2.6 1l-10 1.6l-6 2zM1387.8 806.2l3.4 8.6l2.6 4l10.4 9.4l11 7l10.6 5.6l1 0l2 1.4l14 6l24 8.6l1.4 0l7 2.4l2 0l-1-6l-1-0.4l-2 0l-3-1.6l-1.4 0l-21-7l-2.6-1.4l-2.4-0.6l-12-5l-11.6-5.4l-4.4-3l-1 0l-11-7l-5.6-4.6l-5-5zM408.2 796.2l-7.4 8.6l-9.6 7l-9.4 5.4l-1 0l-12.6 6l-3.4 1l-2 3l-0.6 3.6l1.6 0l10.4-4.6l12.6-6.4l7.4-5l8.6-8zM355.8 743.8l-1 4l-1 1.4l0 1.6l1.4 1l1.6 0l5.4 2.4l1.6 0l1 1l2.4 0.6l14.6 7l1 1l1 0l2 1.4l1 0l2-5.4l-0.6-2.6l-18.4-9l-2.6-0.4l-8-3.6z"/>
<path fill="#00ffff" d="M815.8 982.8l1.4 5l2.6 0.4l4.4-1.4l2.6 0l6.4-2l2.6 0l2-1l3 0l10-2.6l9.4-1l3-1l4.6 0l3-1l4 0l4-1l4.4 0l0.6-0.4l6.4 0l0.6-0.6l11.4-0.4l0.6-0.6l11 0l0.4-0.4l44.6 0l0.4 0.4l8 0l0.6 0.6l6.4 0l0.6 0.4l7 0l4.4 1l5.6 0l0.4 0.6l15.6 1.4l3.4 1l4.6 0l12 2.6l3 0l2.4 1l3.6 0l12 3l5 0.4l2 1l7 1l1.4 1l2.6 0l1.4 1l6.6 1l3.4 1.6l2 0l5 2l7 1.4l4.6 2l3.4 0.6l4.6 2l2-0.6l1.4-5l-5-2l-13-3.4l-3-1.6l-8-1.4l-2-1l-5.4-1l-1.6-1l-2.4 0l-6-2l-5-0.6l-2-1l-7-1l-2-1l-2.6 0l-5.4-1.4l-3 0l-2.6-1l-3 0l-6.4-1.6l-3.6 0l-3-1l-7-0.4l-8-1.6l-14.4-1l-0.6-0.4l-5.4 0l-0.6-0.6l-5.4 0l-0.6-0.4l-6 0l-0.4-0.6l-9 0l-0.6-0.4l-45 0l-0.4 0.4l-9.6 0l-0.4 0.6l-13.6 0.4l-0.4 0.6l-4.6 0l-4.4 1l-13.6 1l-0.4 0.4l-7 0.6l-3 1l-9 1l-15 3l-6.6 2l-2.4 0l-1.6 1l-2.4 0zM1387.2 804.8l3.6 8.4l2.4 3l8.6 7.6l10.4 7l14.6 7.4l1 0l11.4 5.6l4 1l2.6 1.4l11 3.6l1.4 1l1.6 0l1.4 1l8 2l3 1.4l4.6 0.6l-1-4l-9-2.6l-6-2.4l-1.6 0l-1.4-1l-10-3l-15-6l-17.6-8.6l-13.4-8.4l-5-4l-6-6l-3-5zM408.2 796.2l-8 8l-10 7l-8 4.6l-1 0l-10 5l-5 2l-1.4 0l-1 2.4l0 2l11-4l11-5.4l9.4-6l9.6-8.6zM356.2 742.2l-1.4 4.6l8 2.4l2.4 1.6l2.6 0.4l1 1l1.4 0l10.6 5l6.4 4l1 0l0.6-2.4l1-1.6l0-1l-1-1l-10.6-5.4l-7-2.6l-2.4-1.4l-11-4z"/>
<path fill="#00fff3" d="M815.2 980.8l1 4l1 1l2-1l9-1.6l11-3l3 0l2.6-1l2.4 0l3-1l9-1l6.6-1.4l9-0.6l2.4-1l5.6 0l5-1l13-0.4l0.4-0.6l8 0l0.6-0.4l17 0l0.4-0.6l32.6 0.6l0.4 0.4l16 0.6l0.6 0.4l5.4 0l5 1l14.6 1l0.4 0.6l3.6 0l3.4 1l3 0l3.6 1l3.4 0l9.6 2l6 0.4l10 2.6l3 0l4 1.4l14 2.6l1.4 1l2.6 0l4 1.4l2 0l5 2l4 0.6l1.4 1l8.6 2l3 1.4l3.4 0.6l4 2l2 0l1.6-3.6l0-1l-1.6-1l-2.4-0.4l-1.6-1l-3.4-0.6l-6-2.4l-4-0.6l-1.6-1l-7.4-1.4l-3.6-1.6l-6-1l-2-1l-2 0l-4-1.4l-4.4-0.6l-7-2l-2.6 0l-2.4-1l-2.6 0l-7.4-2l-2.6 0l-12.4-2.4l-3.6 0l-3.4-1l-3 0l-0.6-0.6l-7-0.4l-0.4-0.6l-9-0.4l-0.6-0.6l-9-0.4l-0.4-0.6l-5.6 0l-0.4-0.4l-14.6-0.6l-0.4-0.4l-45.6-0.6l-0.4 0.6l-11.6 0l-0.4 0.4l-7.6 0l-0.4 0.6l-17.6 1l-0.4 0.4l-8.6 0.6l-3.4 1l-3.6 0l-0.4 0.4l-3 0l-0.6 0.6l-3 0l-0.4 0.4l-3 0l-9 2l-2.6 0l-2.4 1l-16.6 3l-1.4 1l-2.6 0l-1.4 1zM1386.2 802.8l3.6 8l2 2.4l10 9l11 7l1 0l4.4 3l11.6 5.6l12 5l2.4 0.4l2.6 1.6l21 7l1.4 0l3 1.4l4 0.6l-0.4-3l-1-1l-8-2l-1.6-1l-3-0.6l-20-7l-17.4-7.4l-12.6-6.6l-9.4-6l-7.6-6l-5-5l-3.4-5.4zM409.2 794.2l-5.4 6l-10.6 8l-5 3l-11 5.6l-1 0l-1 1l-10 3.4l-1 4l5-1.4l12.6-6l1 0l14-8.6l8.4-7.4zM357.2 739.8l-1.4 4.4l13 4.6l4.4 2.4l2.6 0.6l12 6.4l1.4 0l1-4l-2-1.4l-12-6l-7-2.6l-1-1l-1.4 0l-5.6-2.4z"/>
<path fill="#00ffe9" d="M814.8 978.2l1 4.6l2 0.4l2-1l2.4 0l1.6-1l2.4 0l6.6-2l15-3l12.4-1.4l7-1.6l17.6-1.4l0.4-0.6l5.6 0l0.4-0.4l5 0l0.6-0.6l8.4 0l0.6-0.4l10 0l0.4-0.6l39 0l0.6 0.6l10 0l0.4 0.4l5.6 0l0.4 0.6l18.6 1l4 1l5.4 0l0.6 0.4l14.4 1.6l3 1l3.6 0l0.4 0.4l5.6 0.6l2.4 1l6.6 0.4l5.4 1.6l2.6 0l2 1l7 1l2 1l5 0.4l6 2l2.4 0l1.6 1l5.4 1l2 1l6 1l1.6 1l16.4 4.6l5.6 2.4l2-5.4l-29-9l-4-0.6l-2-1l-4-0.4l-8-2.6l-7.6-1l-1.4-1l-10.6-1.4l-2-1l-3 0l-5.4-1.6l-3 0l-12.6-2.4l-20-2l-4-1l-24-1.6l-0.4-0.4l-8 0l-0.6-0.6l-33-0.4l-0.4 0.4l-17 0l-0.6 0.6l-22 1l-4 1l-14.4 1l-3.6 1l-4 0l-12.4 2.4l-3 0l-2.6 1l-12.4 2l-2 1l-6.6 1.6l-2.4 0l-1.6 1zM1385.8 801.2l3 7.6l7 7.4l5 4l13.4 8.6l17.6 8.4l15 6l10 3l1.4 1l1.6 0l6 2.6l10 2.4l-1-4l-6.6-1.4l-1.4-1l-1.6 0l-23-8l-14.4-6l-13-6.6l-1-1l-1 0l-9-5.4l-8.6-6.6l-5.4-5.4l-3.6-5.6zM410.8 791.8l-8 8.4l-4.6 3.6l-9.4 6l-12 6l-11 4l-1 3.4l2.4 0l15-7l1 0l15.6-9.4l8.4-8zM357.8 737.8l-1.6 4.4l4 1l2.6 1.6l2.4 0.4l12 5l11.6 6.6l1 0l1-5l-5.6-3l-1 0l-1-1l-5.4-2l-2-1.6z"/>
<path fill="#00ffdf" d="M814.2 976.2l1 4.6l1.6 0.4l3.4-1.4l2.6 0l1.4-1l7-1l10-2.6l2.6 0l5-1.4l3.4 0l6-1.6l10.6-1l3.4-1l8.6-0.4l0.4-0.6l19-1l0.6-0.4l6 0l0.4-0.6l13.6 0l0.4-0.4l0.6 0.4l1.4-0.4l38.6 0.4l0.4 0.6l15.6 0.4l0.4 0.6l10.6 0.4l0.4 0.6l4 0l4.6 1l5 0l0.4 0.4l7 0.6l7 1.4l9.6 1l3 1l6 0.6l2 1l8 1l4.4 1.4l3 0l4.6 1.6l6.4 1l2 1l2 0l2 1l6 1l3.6 1.4l2 0l5 2l3.4 0.6l5 2l2 0l1.6 1l1.4 0l7.6 3l1 0l1.4-4.6l-0.4-1l-2.6-0.4l-1.4-1l-6.6-1.6l-10-3.4l-3.4-0.6l-3.6-1.4l-2.4 0l-11.6-3.6l-4.4-0.4l-6.6-2l-20-4l-6-0.6l-9-2l-3.4 0l-3-1l-12-1l-0.6-0.4l-12-1l-0.4-0.6l-6 0l-5-1l-14-0.4l-0.6-0.6l-10 0l-0.4-0.4l-1.6 0.4l-1-0.4l-37 0l-0.4 0.4l-9 0l-0.6 0.6l-1.4-0.6l-0.6 0.6l-6.4 0l-0.6 0.4l-5.4 0l-0.6 0.6l-5 0l-0.4 0.4l-6 0l-0.6 0.6l-7.4 0.4l-7.6 1.6l-4 0l-3 1l-12 1.4l-5.4 1.6l-5 0.4l-2 1l-2.6 0l-4.4 1.6l-2.6 0zM1384.8 799.2l1.4 4l3.6 6l8 7.6l13.4 9l12.6 6.4l17.4 7.6l20 7l3 0.4l1.6 1l10 2.6l-1-4l-14.6-4l-1.4-1l-1.6 0l-1.4-1l-7-2l-4-2l-1.6 0l-2.4-1.6l-11-4l-1-1l-1 0l-9.6-4.4l-1-1l-3-1l-8.4-5l-11-8l-5.6-5.6zM411.8 789.8l-9.6 10l-12 8l-12 6l-11.4 4.4l-1 1.6l0 2l1.4 0l6.6-3l2.4-0.6l1-1l1 0l11-5.4l9.6-6l7.4-6.6l2-2.4zM358.2 736.2l-1 4.6l3 0.4l5.6 2.6l1.4 0l1 1l7 2.4l8.6 4l4.4 3l2 0.6l1.6-3.6l-0.6-1.4l-17.4-8.6l-4-1l-8-3.4z"/>
<path fill="#00ffd6" d="M813.2 973.8l1.6 5l2.4 0l3.6-1.6l5-0.4l6-2l2.4 0l16-3.6l16-2l0.6-0.4l17.4-1.6l4-1l22-1l0.6-0.4l57 0.4l0.4 0.6l18.6 1l0.4 0.4l13 1l4 1l4.6 0l0.4 0.6l16.6 2l16.4 3.4l2.6 0l5 1l2 1l10 1.6l1.4 1l4.6 0.4l8 2.6l4 0.4l5.4 2l3.6 0.6l3 1.4l8.4 2l7.6 3l2-0.4l1-3l0-1.6l-2.6-1l-3-0.4l-1.4-1l-1.6 0l-1.4-1l-1.6 0l-7-2.6l-3.4-0.4l-1.6-1l-4-0.6l-7.4-2.4l-2 0l-12.6-3.6l-9.4-1.4l-7.6-2l-2.4 0l-2.6-1l-3 0l-15-3l-15-1.6l-7.4-1.4l-5.6 0l-4.4-1l-11.6-0.6l-0.4-0.4l-15.6-0.6l-0.4-0.4l-39-0.6l-0.6 0.6l-13 0l-0.4 0.4l-21 1l-0.6 0.6l-22.4 2l-3 1l-10 1l-3 1l-15.6 2.4l-2.4 1l-2.6 0l-4 1l-1.4 1l-3 0l-1.6 1zM1384.2 797.8l3 7.4l7 7.6l8.6 6.4l9 5.6l1 0l1 1l13 6.4l14.4 6l23 8l1.6 0l1.4 1l8 2l-1-4l-28.4-9l-1-1l-1.6 0l-17-7l-2-1.4l-1 0l-11-6l-1 0l-9-5.6l-9-7l-4.4-4.4zM412.2 788.8l-6.4 7l-10 7.4l-15 8l-10.6 4.6l-3 0.4l-1 4l3-0.4l8.6-3.6l12-6l9.4-6l9.6-8.4zM358.8 734.8l-1 4l5.4 1.4l9 4l2.6 0.6l2 1.4l5.4 2l1 1l1 0l1 1l6 2.6l1-4.6l-8.4-4.4l-1 0l-3-2l-13.6-5.6l-6-2z"/>
<path fill="#00ffcc" d="M812.8 971.8l1.4 5l9-2.6l2.6 0l4.4-1.4l2.6 0l4.4-1.6l2.6 0l5.4-1.4l19-2.6l0.6-0.4l3.4 0l3.6-1l7.4-0.6l0.6-0.4l6 0l0.4-0.6l12-0.4l0.6-0.6l7.4 0l0.6-0.4l9 0l0.4-0.6l1 0.6l2-0.6l44 0.6l0.6 0.4l15 0.6l5 1l15 1l0.4 0.4l15.6 1.6l3 1l3.4 0l9 2l6 0.4l10 2.6l10 1.4l6.6 2l4.4 0.6l11.6 3.4l2.4 0l3.6 1.6l5 1l1.4 1l2 0l5 2l6.6 1.4l4.4 2l1 0l1.6-5l-3.6-1.4l-2 0l-6-2.6l-5-1l-7-2.4l-4-0.6l-5-2l-6-1l-12.4-3.4l-2.6 0l-17.4-4l-8.6-1l-6-1.6l-6.4-0.4l-3.6-1l-3 0l-0.4-0.6l-4.6 0l-3-1l-18.4-1.4l-0.6-0.6l-5 0l-0.4-0.4l-13.6-0.6l-0.4-0.4l-51-0.6l-0.6 0.6l-12.4 0l-0.6 0.4l-13.4 0.6l-0.6 0.4l-26.4 2.6l-6.6 1.4l-9.4 1l-7.6 2l-8 1l-2 1l-2 0l-4.4 1.6l-2.6 0l-1.4 1zM1383.2 795.8l3.6 8l7 7.4l6.4 5l13 8l3 1l1 1l9.6 4.6l1 0l1 1l11 4l2.4 1.4l1.6 0l4 2l7 2l1.4 1l1.6 0l1.4 1l6.6 1.6l1.4 1l7.6 1.4l-0.6-3.4l-6-1.6l-8-3l-1.4 0l-1.6-1l-1.4 0l-10-3.4l-4-2l-1.6 0l-1-1l-11-4l-1-1l-4.4-1.6l-10-5l-11.6-7l-8.4-6.4l-5.6-5.6l-3.4-5.4zM413.2 786.8l-8 8.4l-4.4 3.6l-8.6 5.4l-11 5.6l-12 5l-1.4 0l-1 4l1.4 0l11-4.6l12-6l12-8l6.6-6.4zM359.8 732.2l-1.6 4.6l14.6 5l5.4 3l3.6 1l9 5l1 0l1-2.6l0-2l-18.6-9z"/>
<path fill="#00ffc2" d="M812.2 969.2l1.6 5.6l4.4-1l1.6-1l3 0l3.4-1.6l3 0l4-1.4l10.6-1.6l8-2l4 0l3-1l7-0.4l3.4-1l14-1l4.6-1l14-0.6l0.4-0.4l6.6 0l0.4-0.6l19.6 0l0.4-0.4l2.6 0.4l1.4-0.4l1 0.4l1.6-0.4l1.4 0.4l1.6-0.4l0.4 0.4l1.6-0.4l0.4 0.4l2.6-0.4l1 0.4l15 0l0.4 0.6l15.6 0.4l0.4 0.6l4.6 0l0.4 0.4l5.6 0l0.4 0.6l4.6 0l5 1l4.4 0l0.6 0.4l7.4 0.6l7 1.4l4 0l15 3l3 0l2.6 1l2.4 0l7.6 2l9.4 1.6l12.6 3.4l2 0l5.4 2l4 0.6l1.6 1l14 3.4l1.4 1l1.6 0l8 3l1.4-4l0-1.4l-12.4-4l-8.6-2l-1.4-1l-4-0.6l-3.6-1.4l-4-0.6l-3.4-1.4l-6.6-1l-4-1.6l-7.4-1l-1.6-1l-2.4 0l-2.6-1l-5.4-0.4l-2-1l-3 0l-14.6-3l-7-0.6l-3.4-1l-4 0l-0.6-0.4l-10-1l-0.4-0.6l-11-0.4l-0.6-0.6l-10-0.4l-0.4-0.6l-15-0.4l-0.6-0.6l-40.4-0.4l-0.6 0.4l-14.4 0l-0.6 0.6l-8 0l-0.4 0.4l-5.6 0l-0.4 0.6l-12 0.4l-0.6 0.6l-4.4 0l-2.6 1l-5 0l-0.4 0.4l-10.6 1l-3 1l-3 0l-3 1l-3 0zM1382.2 793.2l3.6 8.6l2.4 3l7 6.4l6 4.6l9 5.4l1 0l1 1l10 5l1 0l2 1.6l17 7l1.6 0l1 1l22.4 7.4l1.6 0l3.4 1.6l2 0l-0.4-3.6l-5.6-1.4l-9.4-3.6l-1.6 0l-1.4-1l-1.6 0l-1.4-1l-12.6-4l-15.4-6.4l-14-7l-13.6-8.6l-5-4l-5.4-5.4l-3-4l-1-2.6zM413.8 785.8l-9 9l-5.6 4l-16.4 9l-13 5.4l-1.6 0l-1 3.6l1.6 0.4l13-5.4l15-8l6.4-4.6l7-6.4zM360.2 730.2l-1.4 4.6l6.4 2l13.6 5.4l2 1.6l9 4l1 1l2-0.6l0.4-4l-15-7.4l-1.4 0l-6-3z"/>
<path fill="#00ffb8" d="M811.2 967.2l1.6 5l6-1l1.4-1l2.6 0l4.4-1.4l7.6-1l2-1l2.4 0l5.6-1.6l3 0l15-3l11.4-1l0.6-0.4l5 0l0.4-0.6l10.6-0.4l0.4-0.6l6.6 0l0.4-0.4l6.6 0l0.4-0.6l11 0l0.6-0.4l35.4 0l0.6 0.4l2-0.4l0.4 0.4l9.6 0l0.4 0.6l30.6 2l0.4 0.4l3.6 0l7.4 1.6l4.6 0l7 1.4l9.4 1l3 1l3 0l2 1l8.6 1l5 1.6l10 1.4l12.4 3.6l6 1l5 2l2 0l9 3l5 1l11 4l1.6 0l0.4-3l1-1.6l-1-1l-3.4-0.4l-2.6-1.6l-3.4-0.4l-19-6l-2.6 0l-11.4-3.6l-2 0l-6.6-2l-3 0l-1.4-1l-8-1l-10-2.4l-6-0.6l-5.6-1.4l-3 0l-0.4-0.6l-3 0l-0.6-0.4l-3 0l-7.4-1.6l-3.6 0l-0.4-0.4l-9-0.6l-0.6-0.4l-4 0l-5-1l-19-1l-0.4-0.6l-9.6 0l-0.4-0.4l-45.6 0l-0.4 0.4l-24 1l-0.6 0.6l-4 0l-5 1l-5.4 0l-3.6 1l-4.4 0l-3.6 1l-4 0l-3 1l-9.4 1zM1382.2 793.2l3 7l6.6 7l8.4 6.6l11.6 7l10 5l4.4 1.4l1 1l11 4l1 1l1.6 0l9.4 4l6 1.6l1.6 1l1.4 0l8 3l1.6 0l3.4 1.4l2 0l-0.4-3l-1-1l-9.6-2.4l-4.4-2l-1.6 0l-13-5l-5.4-1.6l-26.6-12l-11-6.4l-7-5l-7.4-7l-3.6-5zM415.8 782.2l-3 4l-5 5l-6.6 5l-8 5l-1 0l-11 6l-12 4.6l-1 1.4l0 2l2 0l12-5l11-5.4l8.6-5.6l4.4-3.4l5.6-5.6zM359.8 731.8l0.4 1.4l13 4.6l3.6 2l4.4 1.4l10 5.6l2 0l1-4l-3-2l-19-8.6l-4-1l-7-3z"/>
<path fill="#00ffae" d="M810.8 965.2l1.4 5l13-3.4l5-0.6l2-1l8-1l5-1.4l3 0l3-1l6.6-0.6l6.4-1.4l9-0.6l2.6-1l4.4 0l0.6-0.4l26.4-1.6l0.6-0.4l19 0l0.4-0.6l33 0.6l0.6 0.4l7.4 0l0.6 0.6l6.4 0l0.6 0.4l17 1l0.4 0.6l8.6 0.4l0.4 0.6l11.6 1l3.4 1l3.6 0l9.4 2l3 0l2.6 1l10.4 1.4l4.6 1.6l3.4 0l1.6 1l2.4 0l6.6 2l9 1.4l3.4 1.6l4 0.4l3.6 1.6l4 0.4l1.4 1l13.6 3.6l8.4 3l1.6-4.6l-0.6-1l-3-0.4l-3-1.6l-1.4 0l-3-1.4l-2 0l-6.6-2.6l-6-1l-1.4-1l-3.6-0.4l-6-2l-2.4 0l-1.6-1l-2.4 0l-3.6-1.6l-7-1l-2.4-1l-9.6-1.4l-5-1.6l-3 0l-5.4-1.4l-3 0l-3-1l-10-1l-3.6-1l-4 0l-7-1.6l-26-2l-0.4-0.4l-5.6 0l-0.4-0.6l-7.6 0l-0.4-0.4l-17 0l-0.6-0.6l-26.4 0l-0.6 0.6l-2-0.6l-0.4 0.6l-10.6 0l-0.4 0.4l-9 0l-0.6 0.6l-5 0l-0.4 0.4l-6.6 0l-3.4 1l-10 0.6l-0.6 0.4l-3.4 0l-7.6 1.6l-3.4 0l-3 1l-6.6 0.4l-25 5l-2 1l-6 1zM1380.8 789.8l3 7.4l2.4 3.6l5 5l5 4l13.6 8.4l14 7l15.4 6.6l5.6 1.4l8.4 3.6l1.6 0l1.4 1l1.6 0l9.4 3.4l6.6 1.6l-1-4l-11-3l-4.6-2l-2 0l-2.4-1.6l-3-0.4l-11-4l-15.6-6.6l-14-7l-10-6l-6-4.4l-7.4-7l-4.6-7zM416.2 781.2l-9 9.6l-4 3l-10.4 6.4l-8 4l-15 6l-1 2l0 1.6l2 0l13-5.6l16.4-9l5.6-4l7-7zM361.2 726.8l-1 4.4l9.6 3l6 3l1.4 0l12.6 6l3 2l1 0l1-3l-0.6-2l-16.4-8l-10.6-3.4l-5.4-2.6z"/>
<path fill="#00ffa4" d="M810.2 962.8l1 4.4l2 0.6l6.6-2l4.4-0.6l4.6-1.4l2.4 0l2-1l10.6-1.6l8.4-2l10-1l3.6-1l4.4 0l3.6-1l5.4 0l0.6-0.4l15.4-1l0.6-0.6l20-0.4l0.4-0.6l36.6 0l0.4 0.6l2-0.6l0.6 0.6l24.4 1l0.6 0.4l19.4 1.6l0.6 0.4l11.4 1l0.6 0.6l13.4 1.4l5.6 1.6l6 0.4l2 1l3 0l5 1.6l8 1l1.4 1l3 0l18 4.4l2 1l2.6 0l3.4 1.6l4 0.4l3 1.6l10 2.4l4.6 2l2 0l3 1.6l1.4-4l-0.4-1.6l-5-2l-3.6-0.4l-3-1.6l-16-4l-5.4-2l-6.6-1l-1.4-1l-2 0l-4.6-1.4l-4.4-0.6l-2-1l-2.6 0l-7.4-2l-2.6 0l-11-2.4l-3 0l-5.4-1.6l-3 0l-0.6-0.4l-3 0l-0.4-0.6l-3 0l-7.6-1.4l-3.4 0l-0.6-0.6l-9-0.4l-4.4-1l-5.6 0l-0.4-0.6l-5 0l-0.6-0.4l-5.4 0l-0.6-0.6l-6 0l-0.4-0.4l-8.6 0l-0.4-0.6l-18.6 0l-0.4-0.4l-1.6 0.4l-0.4-0.4l-7.6 0.4l-1.4-0.4l-0.6 0.4l-29 0.6l-0.4 0.4l-18.6 1l-0.4 0.6l-4.6 0l-0.4 0.4l-7.6 0.6l-4 1l-4.4 0l-9.6 2l-6 0.4l-2.4 1l-13 2l-4 1.6l-7 1l-2 1zM1380.8 789.2l3 7.6l5.4 6l8 6.4l14 8.6l26.6 12l5.4 1.4l13 5l1.6 0l4.4 2l11.6 3l-1-4l-6.6-1.4l-1.4-1l-1.6 0l-26-9l-17.4-7.6l-13.6-7l-8-5l-9.4-7.4l-3.6-3.6zM417.2 779.2l-4 5l-8 7l-8.4 5.6l-9.6 5l-1 0l-1 1l-10.4 4.4l-4 1l-1 1l-0.6 3l3-0.4l10-4l1-1l1 0l9-5l1 0l8-5l6.6-5l4.4-4.6zM362.2 724.8l-1.4 4.4l4 1l2.4 1.6l11.6 4l14.4 7.4l1 0l1-2.4l-0.4-2.6l-4.6-2.4l-6.4-2.6l-1-1l-6-2l-1-1z"/>
<path fill="#00ff9b" d="M809.8 960.8l1 4.4l1 0.6l2.4-1l6-1l2-1l25-5l3.6 0l6-1.6l3.4 0l0.6-0.4l10.4-1l0.6-0.6l10-0.4l3.4-1l21.6-1l0.4-0.6l14.6 0l0.4-0.4l38 0.4l0.6 0.6l9 0l0.4 0.4l6.6 0l0.4 0.6l21 1.4l0.6 0.6l8 0.4l3.4 1l4 0l3.6 1l3.4 0l9.6 2l3 0l32.4 6.6l3.6 1.4l2.4 0l1.6 1l6.4 1l2 1l3.6 0.6l1.4 1l6 1l1 1l2 0l16.6 5.4l1 0l1.4-5l-4-1.4l-1.4 0l-8-3l-3.6-0.6l-10.4-3.4l-2 0l-1.6-1l-2 0l-6-2l-2.4 0l-1.6-1l-4.4-0.6l-6.6-2l-7.4-1l-4.6-1.4l-2.4 0l-5.6-1.6l-3 0l-2.4-1l-3.6 0l-9-2l-18-2l-0.4-0.4l-4.6 0l-0.4-0.6l-19.6-1.4l-0.4-0.6l-14.6-0.4l-0.4-0.6l-48-0.4l-0.6 0.4l-12 0l-0.4 0.6l-21 1l-4 1l-17.6 1.4l-3.4 1l-3.6 0l-2.4 1l-9 1l-3 1l-10 1.6l-2 1l-7.6 1l-1.4 1l-2.6 0l-1.4 1zM1379.8 787.2l2.4 6.6l6 7l10 8l10 6l14 7l15.6 6.4l11 4l3 0.6l2.4 1.4l2 0l4.6 2l1.4 0l11 3.6l-1-4l-6-1.6l-1.4-1l-1.6 0l-9.4-3.4l-1.6 0l-5.4-2.6l-7-2l-18-7.4l-13-6.6l-1-1l-1 0l-15-10l-7-6.4zM417.8 778.2l-7 7.6l-7 5.4l-17 9.6l-10.6 4.4l-5.4 1.6l-1 4l1.4 0l14.6-6l8-4l10.4-6.6l4-3l6-6zM362.8 722.8l-1.6 4.4l19 7l13.6 7l1.4-0.4l0.6-1.6l0-2.4l-17.6-8.6z"/>
<path fill="#00ff91" d="M809.2 958.2l1 5l2 0l6.6-2l7-1l2-1l9.4-2l5.6-0.4l2.4-1l3.6 0l9-2l4 0l0.4-0.6l11-1l4-1l11.6-0.4l0.4-0.6l5 0l0.6-0.4l7.4 0l0.6-0.6l9.4 0l0.6-0.4l42.4 0l0.6 0.4l1.4-0.4l0.6 0.4l9 0l0.4 0.6l7 0l0.6 0.4l5.4 0l0.6 0.6l5 0l0.4 0.4l5.6 0l4.4 1l9 0.6l3 1l4.6 0l0.4 0.4l13.6 1.6l5.4 1.4l6 0.6l10 2.4l3 0l2.6 1l5 0.6l8 2.4l5 0.6l1.4 1l6.6 1l5.4 2l12.6 3l3 1.4l2 0l1.4 1l1.6 0l7.4 3l1 0l1.6-4.4l-0.6-1l-2.4-1l-2 0l-4.6-2l-1.4 0l-6.6-2.6l-2.4 0l-1-1l-4-0.4l-1.6-1l-2 0l-2-1l-2 0l-2-1l-2 0l-1.4-1l-4.6-0.6l-6-2l-5-0.4l-2-1l-2.4 0l-18-4l-2.6 0l-12.4-2.6l-3.6 0l-6.4-1.4l-7.6-0.6l-0.4-0.4l-9-0.6l-4.6-1l-5.4 0l-5-1l-22.6-1l-0.4-0.4l-14.6 0l-0.4-0.6l-1.6 0.6l-1.4-0.6l-2 0.6l-0.6-0.6l-9 0l-0.4 0.6l-0.6-0.6l-4.4 0l-0.6 0.6l-14 0l-0.4 0.4l-18 0.6l-0.6 0.4l-4.4 0l-0.6 0.6l-10.4 0.4l-0.6 0.6l-8.4 0.4l-3.6 1l-3.4 0l-3.6 1l-9.4 1l-3 1l-3 0l-2.6 1l-12.4 2l-2 1l-7 1l-2 1zM1378.2 783.8l4 9.4l2.6 3l6.4 6l14 9.6l13.6 7l17.4 7.4l26 9l1.6 0l1.4 1l7.6 1.6l-0.6-3.6l-10.4-3l-6.6-2.4l-1.4 0l-1.6-1l-16.4-5.6l-18.6-8l-11.4-6.4l-1 0l-11.6-7.6l-6-5l-5.4-6l-3-5.4zM418.8 776.2l-8.6 9l-4.4 3.6l-17.6 10l-14 6l-3 0.4l-1 4l5.6-1.4l10.4-4.6l1-1l1 0l9.6-5l8.4-5.4l7.6-6.6l2-2.4zM363.2 720.8l-1 5l3 0.4l4 2l5.6 1.6l1 1l6 2l1 1l6.4 2.4l5 3l1.6 0l1-4l-2-1.4l-16-7.6z"/>
<path fill="#00ff87" d="M808.2 956.8l1.6 4.4l6-1l1.4-1l2.6 0l1.4-1l7.6-1l2-1l7.4-1.4l6-0.6l2.6-1l6-0.4l3.4-1l4 0l2-1l1.6 0.4l7-1.4l14-1l0.4-0.6l21-1l0.6-0.4l10.4 0l0.6-0.6l1 0.6l1.4-0.6l42.6 0.6l0.4 0.4l7.6 0l0.4 0.6l5.6 0l0.4 0.4l1.6-0.4l4.4 1l6 0l0.6 0.4l17.4 1.6l4 1l11 1l9 2l3.6 0l7.4 2l6 0.4l4.6 1.6l7.4 1l6.6 2l4.4 0.4l1.6 1l2.4 0l6 2l2 0l3 1.6l4 0.4l3.6 1.6l5 1l1.4 1l2 0l6.6 2.4l1.4 0l4.6 2l1.4-3.4l0-1.6l-1.4-1l-2 0l-1.6-1l-3-0.4l-6.4-2.6l-2 0l-3-1.4l-5.6-1l-2-1l-2 0l-1.4-1l-8-2l-6.6-1l-1.4-1l-7-1l-12-3l-2.6 0l-11-2.6l-3 0l-2.4-1l-4 0l-5.6-1.4l-18.4-2l-0.6-0.6l-14.4-1l-0.6-0.4l-4.4 0l-0.6-0.6l-6 0l-0.4-0.4l-16.6-0.6l-0.4-0.4l-36-0.6l-0.6 0.6l-13 0l-0.4 0.4l-10 0l-0.6 0.6l-13.4 0.4l-0.6 0.6l-9.4 0.4l-3.6 1l-5.4 0l-0.6 0.6l-20 2.4l-3 1l-13 2l-2.4 1l-2.6 0zM1378.2 783.8l2.6 6.4l6.4 7.6l7.6 6l11 7l1 0l1 1l13 6.4l18 7.6l7 2l5.4 2.4l1.6 0l9.4 3.6l1.6 0l1.4 1l1.6 0l3.4 1.4l2.6 0l-0.6-2.4l-1.4-1.6l-11.6-3l-3-1.4l-6-1.6l-4-2l-1.4 0l-14.6-6l-2.4-0.4l-19-9l-3.6-2.6l-1 0l-13.4-9l-7.6-7zM420.8 772.8l-0.6 0l-0.4 2l-1 0.4l-2 3l-9.6 8.6l-9.4 6l-10 5l-1 0l-1 1l-13.6 5l-1 1.4l0 2l2 0l14.6-6l17-9.4l7-5.6l4-4zM363.8 719.8l-1 4l3 0.4l2.4 1.6l9 3l7 3l11 6l1 0l1-3l-0.4-2l-1 0l-5-3l-17.6-7.6l-5.4-1.4l-3-1.6z"/>
<path fill="#00ff7d" d="M807.8 954.8l1 3.4l1 1l8-2.4l7-1l2-1l3 0l4.4-1.6l3 0l10.6-2.4l3.4 0l3-1l14-1.6l4-1l4 0l0.6-0.4l16.4-1l0.6-0.6l7.4 0l0.6-0.4l10 0l0.4-0.6l44.6 0l0.4 0.6l9.6 0l0.4 0.4l7 0l0.6 0.6l17.4 1l4.6 1l17 1.4l6.4 1.6l3.6 0l9 2l6 0.4l10 2.6l3 0l2.4 1l5 0.4l2 1l5 0.6l6 2l4.6 0.4l1.4 1l2 0l7.6 2.6l6 1l1 1l5.4 1l6.6 2.4l1.4 0l1.6 1l2 0l3 1.6l1 0l1.4-4.6l-17-5.4l-2 0l-1.4-1l-5.6-1l-1.4-1l-2.6 0l-3.4-1.6l-8-1.4l-2-1l-7-1l-4-1.6l-2.6 0l-4.4-1.4l-3 0l-2-1l-5-1l-3 0l-3-1l-3 0l-2.6-1l-3 0l-9.4-2l-7.6-0.6l-0.4-0.4l-10.6-1l-0.4-0.6l-4.6 0l-0.4-0.4l-14.6-1l-0.4-0.6l-13.6-0.4l-0.4-0.6l-8.6 0l-0.4-0.4l-18 0l-0.6-0.6l-1.4 0.6l-0.6-0.6l-1.4 0.6l-0.6-0.6l-27 0.6l-0.4 0.4l-9.6 0l-0.4 0.6l-6.6 0l-0.4 0.4l-7 0l-4.6 1l-6 0l-3.4 1l-9 0.6l-0.6 0.4l-16 2l-3 1l-3 0l-2.4 1l-2.6 0l-2.4 1l-2.6 0l-7 2l-6.4 1l-2 1l-2.6 0zM1377.2 781.2l3 7.6l4.6 5.4l7.4 6.6l11.6 7.4l1 0l11.4 6.6l18.6 8l16.4 5.4l1.6 1l1.4 0l6.6 2.6l11.4 3l-0.4-3.6l-6.6-1.4l-8-3l-1.4 0l-18.6-6.6l-18-7.4l-13-6.6l-13.4-8.4l-5.6-4.6l-5.4-5.4l-3-4l-1-2.6zM421.2 771.8l-0.4 0l-2 3.4l-10 9.6l-8.6 5.4l-11.4 6l-16.6 6.6l-0.4 3l3.4-0.6l14-6l17.6-10l4.4-3.4l6-6zM364.2 718.2l-1 3.6l14.6 5l3.4 2l4.6 1.4l10 5.6l1 0l1-4l-6-3.6l-16.6-7l-4-1l-2.4-1.4l-1.6 0l-2-1z"/>
<path fill="#00fe74" d="M807.2 952.8l1 4l1.6 0.4l10-3l14.4-2.4l4.6-1.6l5.4-0.4l3-1l3.6 0l6.4-1.6l4 0l6.6-1.4l5.4 0l3.6-1l5.4 0l0.6-0.6l17.4-1l0.6-0.4l10 0l0.4-0.6l19 0l0.6-0.4l1 0.4l25.4 0l0.6 0.6l10 0l0.4 0.4l14 0.6l0.6 0.4l4.4 0l4.6 1l1.4-0.4l3.6 1l9.4 0.4l10.6 2l7.4 0.6l2.6 1l4 0l2.4 1l8.6 1l7.4 2l10 1.4l4.6 1.6l5 0.4l1.4 1l6.6 1l8 2l1.4 1l7.6 1.6l5 2l2 0l3 1.4l6.4 1.6l1.6 1l2 0l1.4 1l1 0l1.6-4.6l-4.6-1l-3-1.4l-3.4-0.6l-5-2l-1.6 0l-1.4-1l-2 0l-1.6-1l-8-1.4l-3.4-1.6l-6.6-1l-1.4-1l-2 0l-6.6-2l-5-0.4l-2-1l-15-3l-2.4 0l-3-1l-2.6 0l-12.4-2.6l-3.6 0l-3-1l-4.4 0l-3-1l-7.6-0.4l-0.4-0.6l-10.6-0.4l-4-1l-19-1l-0.4-0.6l-10.6 0l-0.4-0.4l-45.6 0l-0.4 0.4l-10 0l-0.6 0.6l-8 0l-0.4 0.4l-5 0l-0.6 0.6l-11 0.4l-0.4 0.6l-12 1l-7.6 1.4l-4 0l-5.4 1.6l-3.6 0l-15.4 3.4l-2.6 0l-4.4 1.6l-2.6 0l-5.4 2zM1377.2 781.2l3 7l5 5.6l8.6 7l14 8.4l19 9l2.4 0.6l14.6 6l1.4 0l4 2l1.6 0l7.4 3l13.6 3.4l0-2l-1-1.4l-9.6-2.6l-28.4-10l-14-6l-14-7l-2.6-2l-5-2.4l-9-6.6l-7.4-7.4l-2.6-4zM421.8 770.8l-3.6 4.4l-9.4 8.6l-9.6 6l-12 6l-12 5l-2.4 0.4l-0.6 3l3.6-0.4l11-4.6l1-1l1 0l10-5l9.4-6l9-8zM364.8 716.2l0 1.6l-1 2l0.4 0.4l15.6 5.6l9 4.4l1 0l6.4 3.6l1.6-0.6l0.4-3.4l-2-0.6l-7-4l-3.4-1l-1-1l-8.6-3l-2.4-1.4l-4.6-1l-1-1z"/>
<path fill="#00fd6c" d="M807.2 950.8l0.6 4l1 0.4l4.4-1.4l2.6 0l2-1l2 0l11.4-3l2.6 0l2.4-1l2.6 0l12.4-2.6l3 0l2.6-1l16-1.4l3.4-1l6 0l0.6-0.6l19-1l0.4-0.4l9.6 0l0.4-0.6l44.6 0l0.4 0.6l9.6 0l0.4 0.4l6.6 0l0.4 0.6l13 0.4l4.6 1l10 0.6l0.4 0.4l7.6 0.6l3.4 1l3.6 0l3.4 1l13 1.4l2.6 1l3 0l5.4 1.6l3 0l4.6 1.4l5.4 0.6l8.6 2.4l7 1l2 1l8 1.6l3.4 1.4l2.6 0l1.4 1l3.6 0.6l6.4 2.4l5.6 1l1.4 1l1.6 0l6.4 2.6l2-0.6l1-3.4l-5-2l-1.4 0l-1.6-1l-1.4 0l-1.6-1l-1.4 0l-10.6-3.6l-4-0.4l-3.4-1.6l-2 0l-12-3.4l-2.6 0l-1.4-1l-5-0.6l-2-1l-2.6 0l-4.4-1.4l-5-0.6l-3-1l-5.6-0.4l-5-1.6l-3 0l-13-2.4l-3.4 0l-3.6-1l-4.4 0l-4-1l-7.6-0.6l-0.4-0.4l-5.6 0l-4.4-1l-7 0l-0.6-0.6l-12-0.4l-0.4-0.6l-10 0l-0.6-0.4l-1.4 0.4l-0.6-0.4l-41 0l-0.4 0.4l-11.6 0l-0.4 0.6l-8.6 0l-0.4 0.4l-16 1l-0.6 0.6l-12.4 1l-7 1.4l-13.6 1.6l-8 2l-7.4 1l-6.6 2l-7 1l-3.4 1.4zM1376.2 778.8l3 7.4l7 7.6l5.6 4.4l13.4 8.6l13 6.4l18 7.6l28 9.4l7.6 1.6l-1-3.6l-7-1.4l-1.6-1l-3-0.6l-13.4-4.4l-1.6-1l-3-0.6l-21-8.4l-16-8l-16-10.6l-5-4.4zM422.2 769.8l-5 6l-7 6l-8.4 5.4l-12.6 6.6l-4.4 1.4l-3.6 2l-8 2.6l-0.4 3.4l6.4-2l10.6-4.4l11.4-6l8.6-5.6l9-8.4zM365.2 714.8l-1 3.4l0.6 0.6l3 0.4l5 2.6l1.4 0l5 2.4l5 1.6l1 1l4.6 1.4l7 4l1.4-0.4l0.6-3.6l-18-8.4l-6.6-2l-4-2z"/>
<path fill="#00fc63" d="M806.2 948.8l1 4l2 0.4l10-3l2.6 0l2.4-1l2.6 0l10-2.4l5.4-0.6l8.6-2l17.4-2l0.6-0.4l8-0.6l0.4-0.4l11-0.6l0.6-0.4l5 0l0.4-0.6l8 0l0.6-0.4l12 0l0.4-0.6l50.6 0.6l0.4 0.4l21 1l4 1l5.6 0l0.4 0.6l3.6 0l4.4 1l4.6 0l3 1l4.4 0l3 1l7 0.4l20 4l2.6 0l5 1.6l4.4 0.4l2 1l9.6 1.6l2 1l2 0l1.4 1l2.6 0l13.4 4l2 0l3 1.4l3.6 0.6l16.4 5.4l1.6-4.4l-3.6-1.6l-2 0l-1.4-1l-1.6 0l-1.4-1l-3-0.4l-5-2l-2 0l-11-3.6l-8-1.4l-1.6-1l-3 0l-1.4-1l-4.6-0.6l-16-4l-3 0l-10.4-2.4l-3 0l-9.6-2l-3.4 0l-6-1.6l-8-0.4l-0.6-0.6l-3.4 0l-8-1.4l-5.6 0l-0.4-0.6l-11-0.4l-0.6-0.6l-5 0l-0.4-0.4l-7.6 0l-0.4-0.6l-52.6-0.4l-0.4 0.4l-11.6 0l-0.4 0.6l-6.6 0l-0.4 0.4l-1.6-0.4l-0.4 0.4l-10.6 0.6l-0.4 0.4l-4.6 0l-0.4 0.6l-5 0l-0.6 0.4l-3.4 0l-0.6 0.6l-3.4 0l-0.6 0.4l-3.4 0l-3.6 1l-10 1l-5.4 1.6l-2.6 0l-5.4 1.4l-10 1.6l-10.6 3zM1376.2 778.2l2.6 6.6l8.4 9l6 4.4l10.6 6.6l14 7l14 6l28.4 10l11 3l-0.4-3.6l-6-1.4l-1.6-1l-1.4 0l-6.6-2.6l-1.4 0l-1.6-1l-1.4 0l-8.6-3l-4-2l-1.4 0l-2.6-1.4l-4-1l-2.4-1.6l-6-2l-10.6-5l-1-1l-3-1l-8-4.4l-11.4-8l-7-6.6zM423.2 767.8l-3 4l-5.4 5.4l-4.6 3.6l-8.4 5.4l-8.6 4.6l-1 0l-11.4 5.4l-6.6 2l-1 1.6l0 2l3-0.6l12-5l12-6l9.6-6l9-8zM365.8 713.2l-1 3.6l8 2.4l2.4 1.6l8.6 3l1 1l3.4 1l7 4l3.6 0.4l0.4-1.4l-0.4-2.6l-21-9.4l-1.6 0l-6.4-3l-1.6 0l-2-1z"/>
<path fill="#00fb5a" d="M805.8 947.2l1 3.6l1 1l7.4-2.6l7-1l16.6-4l6-0.4l3-1l3.4 0l3-1l3.6 0l3-1l16.4-1.6l0.6-0.4l18-1l0.4-0.6l8 0l0.6-0.4l10 0l0.4-0.6l50.6 0.6l0.4 0.4l7.6 0l0.4 0.6l5 0l0.6 0.4l7 0l4.4 1l13.6 1l4 1l4.4 0l0.6 0.6l10 1l2.4 1l3.6 0l11.4 2.4l11 1.6l2 1l7.6 1l4 1.4l7 1l4 1.6l10 2l3.4 1.4l4 0.6l3 1.4l4 0.6l15.6 5.4l1.4-0.4l1-3l-0.4-1.6l-2 0l-6-2.4l-3.6-0.6l-10-3.4l-4-0.6l-1.4-1l-2 0l-2-1l-3.6-0.4l-4-1.6l-2.4 0l-6-2l-11.6-2l-2-1l-3 0l-7.4-2l-3 0l-2-1l-2.6 0l-12.4-2.4l-3.6 0l-3.4-1l-4 0l-3.6-1l-12-1l-0.4-0.6l-13.6-1l-0.4-0.4l-13-0.6l-0.6-0.4l-7 0l-0.4-0.6l-11 0l-0.6-0.4l-2.4 0.4l-1-0.4l-33 0l-0.6 0.4l-0.4-0.4l-2.6 0l-0.4 0.4l-11.6 0l-0.4 0.6l-19.6 1l-0.4 0.4l-14 1l-0.6 0.6l-11 1l-6.4 1.4l-3.6 0l-13.4 3l-3 0l-2 1l-13.6 2.6zM1375.2 776.2l2.6 6.6l5 6l10 8l10.4 6.4l16 8l21 8.6l3 0.4l1.6 1l13.4 4.6l1.6 0l3 1.4l8.4 2l-0.4-3l-1.6-1l-10-2.4l-13.4-4.6l-1.6-1l-1.4 0l-6.6-3l-3-0.4l-1-1l-2.4-0.6l-13-5.4l-1-1l-1 0l-9-5l-2-0.6l-12-7.4l-7-5.6l-5.6-5.4l-3.4-5.6zM423.8 766.8l-6 7l-8 6.4l-8 5l-11 5.6l-16.6 6.4l-0.4 3l4.4-1l12-5l9-4.4l12-7.6l6.6-5.4l3-3.6zM366.2 711.8l-1 3.4l14.6 5l17.4 8.6l2 0l0.6-4l-1 0l-3-2l-12-5.6l-6.6-2l-1-1l-1.4 0l-7.6-3z"/>
<path fill="#00fa51" d="M805.2 945.2l1.6 4.6l12.4-3.6l7.6-1l2-1l8-1l2.4-1l3.6 0l2-1l3.4 0l12.6-2.4l8.4-0.6l3.6-1l5 0l0.4-0.4l4.6 0l0.4-0.6l21-1l0.6-0.4l10 0l0.4-0.6l2 0.6l1.6-0.6l46 0.6l0.4 0.4l14 0.6l0.6 0.4l6 0l0.4 0.6l4.6 0l5 1l5 0l7 1.4l5 0l10 2l10 1l3 1l3 0l2 1l3 0l5.4 1.6l3 0l2.6 1l4.4 0.4l2 1l2.6 0l4.4 1.6l4.6 0.4l1.4 1l3 0l1.6 1l8 1.6l14 4.4l5.4 1l11 4l1.6 0l1-3l0-1.4l-22.6-7l-4-0.6l-1.4-1l-2 0l-5.6-2l-4.4-0.4l-6-2l-2.6 0l-6.4-2l-2.6 0l-2-1l-7.4-1l-5-1.6l-8.6-1l-2.4-1l-6-0.4l-3.6-1l-7.4-0.6l-6.6-1.4l-8.4-0.6l-4-1l-20.6-1.4l-0.4-0.6l-15-0.4l-0.6-0.6l-10.4 0l-0.6-0.4l-1.4 0.4l-4.6 0l-0.4-0.4l-29 0l-1.6 0.4l-1.4-0.4l-0.6 0.4l-9.4 0l-0.6 0.6l-8.4 0l-0.6 0.4l-12 0.6l-0.4 0.4l-18.6 1.6l-3.4 1l-4 0l-13 2.4l-3 0l-2.6 1l-10.4 1.6l-2 1l-7.6 1l-4 1.4l-4.4 0.6zM1374.8 774.8l3 7.4l5.4 6l7.6 6l15.4 9.6l3 1l1 1l10.6 5l6 2l2.4 1.4l4 1l2.6 1.6l1.4 0l9.6 4l4.4 1l1.6 1l1.4 0l6.6 2.4l1.4 0l1.6 1l1.4 0l3.6 1.6l2 0l0-1.6l-1-2l-8-2l-1.6-1l-3-0.4l-1.4-1l-1.6 0l-17.4-6l-15-6l-18.6-9l-11.4-7l-7-5.6l-6.6-6.4l-3-5zM424.2 765.8l-8.4 9l-9 6.4l-7 4l-6 2.6l-1 1l-14.6 6l-3 0.4l-1 2l0 1.6l2 0l11.6-4.6l17.4-9l10.6-7.4l5-5zM366.8 710.2l-1 3.6l3 0.4l6.4 3l1.6 0l13 5.6l8.4 4.4l1.6 0l0.4-4l-9-4.4l-7-2.6l-3.4-2l-1.6 0l-1-1l-3-0.4l-7.4-3z"/>
<path fill="#00f848" d="M804.8 943.2l1 4l1.4 0.6l8-2.6l7-1l12-3l3 0l2-1l6-0.4l12-2.6l9-0.4l7-1.6l5 0l0.6-0.4l9.4-0.6l0.6-0.4l2 0.4l0.4-0.4l6 0l0.6-0.6l7 0l0.4-0.4l9.6 0l0.4-0.6l1 0.6l2.6-0.6l31 0l0.4 0.6l2.6 0l0.4-0.6l0.6 0.6l9.4 0l0.6 0.4l6 0l0.4 0.6l15.6 0.4l0.4 0.6l4.6 0l0.4 0.4l8.6 0.6l0.4 0.4l3.6 0l4.4 1l4 0l3.6 1l4 0l3.4 1l3.6 0l17 3.6l3 0l2.4 1l2.6 0l2.4 1l16.6 3l6 2l2.4 0l9.6 3l2 0l1.4 1l4 0.4l3 1.6l2 0l5 2l3.6 0.4l6 2.6l3.4 0.4l1-2.4l0-2l-23-7l-4-0.6l-1.4-1l-4-0.4l-10-3l-2.6 0l-3.4-1.6l-7-1l-2-1l-2.6 0l-7.4-2l-5-0.4l-2.6-1l-3 0l-9-2l-6.4-0.6l-3-1l-11.6-1l-3.4-1l-9-0.4l-4-1l-10-0.6l-0.6-0.4l-21-1l-0.4-0.6l-44.6-0.4l-0.4 0.4l-13.6 0l-0.4 0.6l-9 0l-0.6 0.4l-12 0.6l-0.4 0.4l-14 1l-0.6 0.6l-27.4 3.4l-8 2l-7.6 1zM1373.8 772.8l2.4 6.4l2.6 3.6l5 5l7 5.4l12 7.6l2 0.4l11 6l13 5.6l2.4 0.4l1 1l3 0.6l6.6 3l1.4 0l1.6 1l13.4 4.4l1.6 0l9 3l2 0l-0.6-2.4l-1-1l-6.4-1.6l-1.6-1l-8-2l-1.4-1l-3-0.4l-4.6-2l-5.4-1.6l-17.6-7l-18.4-9l-7-4l-11-8l-7.6-7.4l-3-5zM425.2 763.8l-7 8l-7 5.4l-8 5l-12 6l-15.4 6l-1 1.6l0 2l6.4-2l10.6-4.6l11-5.4l8-5l9.4-8l2-2.6zM367.2 708.8l-1 3l0.6 0.4l16 5.6l4.4 2.4l5.6 2l5 3l2.4 0.6l1-4l-11.4-5l-1-1l-10-4l-5.6-1.6l-1.4-1l-1.6 0l-1-1z"/>
<path fill="#00f73f" d="M804.2 941.2l1 4.6l18.6-4.6l3 0l2-1l5.4-0.4l2.6-1l5.4-0.6l3-1l9-1l0.6-0.4l4 0l0.4-0.6l6.6-0.4l4-1l14-1l0.4-0.6l21-1l0.6-0.4l1 0.4l1.4-0.4l12 0l0.6-0.6l0.4 0.6l1.6-0.6l40.4 0.6l0.6 0.4l5 0l0.4 0.6l8 0l0.6 0.4l17.4 1l0.6 0.6l15.4 1.4l7.6 1.6l4 0l3 1l3.4 0l6 1.4l11.6 1.6l2 1l10.4 1.4l2 1l2.6 0l6.4 2l4.6 0.6l4 1.4l4.4 0.6l2 1l5.6 1l1.4 1l4 0.4l3 1.6l2 0l5 2l5 1l1.6 1l1.4 0l5 2l1-1l0-1.6l1-2l-18.4-6l-7.6-1.4l-1.4-1l-2 0l-4-1.6l-6-1l-1.6-1l-2.4 0l-2-1l-4.6-0.4l-6.4-2l-2.6 0l-2-1l-7.4-1l-5-1.6l-3 0l-3-1l-3 0l-3-1l-2.6 0l-6.4-1.4l-3.6 0l-3.4-1l-7.6-0.6l-3.4-1l-14-1l-4-1l-12-0.4l-0.6-0.6l-15.4-0.4l-0.6-0.6l-43-0.4l-0.4 0.4l-13 0l-0.6 0.6l-22 1l-0.4 0.4l-9.6 0.6l-0.4 0.4l-4 0l-0.6 0.6l-7 0.4l-4 1l-3.4 0l-3 1l-4 0l-8 2l-3.6 0l-2.4 1l-7 1l-2.6 1l-3 0l-6 2l-2.4 0l-5.6 2zM1372.8 770.2l3.4 8.6l7.6 8l7 5.4l11.4 7l18.6 9l15 6l17.4 6l1.6 0l1.4 1l3 0.6l1.6 1l3.4 0.4l6 2l-0.4-3.4l-6-1.6l-1.6-1l-1.4 0l-6.6-2.4l-1.4 0l-13-4.6l-1.6-1l-5.4-1.4l-20-8.6l-12.6-6.4l-11-7l-9-7.6l-4-4.4l-3-5.6zM425.8 762.8l-8.6 9l-9 6.4l-15 8l-17 6.6l-1 3l2.6 0l11.4-4.6l18.6-9.4l9-6.6l6-6zM367.8 707.2l-1 3l0.4 0.6l1.6 0l5.4 2.4l3 0.6l1 1l1.6 0l3.4 2l7 2.4l9.6 5l1 0l1-4l-9-4.4l-3.6-1l-2-1.6l-1.4 0l-8.6-4l-4.4-1l-3-1.4z"/>
<path fill="#00f637" d="M803.8 939.2l1 4.6l2 0l8.4-2.6l2 0l14-3.4l5.6-0.6l2.4-1l6.6-0.4l9-2l3.4 0l0.6-0.6l15-1.4l0.4-0.6l9.6-0.4l0.4-0.6l1.6 0.6l0.4-0.6l4.6 0l0.4-0.4l7.6 0l0.4-0.6l6.6 0l0.4-0.4l1.6 0.4l1.4-0.4l10.6 0l0.4-0.6l0.6 0.6l3 0l0.4-0.6l37.6 0.6l0.4 0.4l15 0.6l0.6 0.4l5.4 0l5 1l15 1l4 1l8 0.6l3.6 1l4 0l3 1l6.4 0.4l5.6 1.6l3 0l2.4 1l3 0l5 1.4l2.6 0l5.4 1.6l2.6 0l2 1l7 1l3.4 1.4l2.6 0l2 1l12 2.6l1.4 1l11 2.4l17 5.6l1.6-4l-1-1l-2 0l-6-2.6l-5-1l-5-2l-7.6-1.4l-1.4-1l-2 0l-5.6-2l-8.4-1.6l-2-1l-4-0.4l-4.6-1.6l-9.4-1.4l-2.6-1l-5.4-0.6l-2.6-1l-2.4 0l-15-3l-6.6-0.4l-3-1l-8.4-0.6l-3-1l-14-1l-5-1l-6.6 0l-5-1l-1.4 0.6l-0.6-0.6l-15-0.4l-0.4-0.6l-39.6-0.4l-0.4 0.4l-14 0l-0.6 0.6l-9 0l-0.4 0.4l-6.6 0l-0.4 0.6l-4.6 0l-0.4 0.4l-6 0l-0.6 0.6l-17.4 1.4l-0.6 0.6l-6.4 0.4l-9.6 2l-3 0l-3 1l-10.4 1.6l-2 1l-3 0l-2 1l-4.6 0.4l-6.4 2zM1372.8 770.2l2.4 6.6l8.6 9l5 4l13 8l18.4 9l17.6 7l5.4 1.4l4.6 2l3 0.6l1.4 1l8 2l1.6 1l8.4 2l-0.4-2.6l-1.6-1.4l-3.4-0.6l-4.6-2l-2 0l-26-9l-18-7.4l-1-1l-1 0l-2-1.6l-1 0l-7-3.4l-6-4l-2.4-1l-8.6-6l-8-7.6zM426.2 761.8l-7 7.4l-11 8l-16.4 8.6l-13.6 5.4l-1.4 0l-1 2l0 1.6l2 0l14.4-6l17-9l7-5l5.6-5l2-2.6zM368.8 704.8l-1.6 4l20.6 7.4l1 1l5.4 2l4 2.6l3 0.4l1-3.4l-20.4-9.6z"/>
<path fill="#00f52e" d="M803.2 937.8l1 2.4l0 2l8.6-2.4l2.4 0l6-2l3 0l12-3l3.6 0l8-2l4 0l3-1l3.4 0l0.6-0.6l15-1.4l0.4-0.6l11.6-0.4l0.4-0.6l4.6 0l0.4-0.4l15-0.6l0.6-0.4l1 0.4l2.4-0.4l16 0l0.6-0.6l32 0.6l0.4 0.4l9.6 0l0.4 0.6l6 0l0.6 0.4l1.4-0.4l5 1l11 0.4l0.6 0.6l9.4 0.4l4 1l18.6 2l12 2.6l3 0l5.4 1.4l2.6 0l3 1l2.4 0l2 1l3 0l2 1l2.6 0l2 1l9 1.6l2 1l2.4 0l1.6 1l6 1l4 1.4l2 0l1.4 1l7.6 1.6l18 6l1.4-0.6l1-3l-0.4-1l-14-4l-5-2l-5.6-1l-1.4-1l-2 0l-1.6-1l-2.4 0l-3.6-1.4l-6.4-1l-1.6-1l-5-0.6l-1.4-1l-3 0l-4-1.4l-2.6 0l-15-3.6l-6-0.4l-2.4-1l-2.6 0l-6.4-1.6l-4 0l-6-1.4l-16-1.6l-4.6-1l-22.4-1.4l-0.6-0.6l-6.4 0l-0.6-0.4l-8.4 0l-0.6-0.6l-16.4 0l-0.6-0.4l-1.4 0.4l-1-0.4l-1.6 0.4l-0.4-0.4l-11 0l-1 0.4l-0.6-0.4l-2.4 0l-0.6 0.4l-24.4 0.6l-0.6 0.4l-24.4 1.6l-0.6 0.4l-12 1l-0.4 0.6l-3 0l-3.6 1l-3.4 0l-0.6 0.4l-3 0l-3 1l-11.4 1.6l-9.6 2l-2 1l-3 0l-1.4 1l-5 0.4l-3.6 1.6zM1371.8 767.8l3 7.4l4.4 5.6l9 7.4l11 7l12.6 6.6l20 8.4l5.4 1.6l1.6 1l13 4.4l9.4 2.6l1.6 1l1.4 0l3.6 1.4l2 0l-1-3.4l-8-2l-1.6-1l-3-0.6l-6.4-2.4l-1.6 0l-16.4-6.6l-4-1l-14-6l-1-1l-1 0l-10-5l-8.6-5l-11-8l-5.4-5.4l-3.6-4.6l-1-2.4zM427.2 759.8l-8.4 9l-9 6.4l-15 8l-18 7l-0.6 3l2 0l16-6.4l15-8l9-6.6l6-6zM369.2 703.2l-1.4 4l8.4 2.6l8.6 4l1.4 0l2 1.4l3.6 1l8.4 4.6l1.6 0l1-3.6l-1-1l-1 0l-1-1l-1 0l-10-5z"/>
<path fill="#00f425" d="M802.8 935.8l1 4l1 0.4l2-1l15-3l2-1l3 0l8-2l2.4 0l2.6-1l3 0l9-2l3.4 0l3-1l12-1l4.6-1l18-1l0.4-0.4l7 0l0.6-0.6l11 0l0.4-0.4l17 0l0.6-0.6l2.4 0.6l1.6-0.6l2.4 0.6l1.6-0.6l0.4 0.6l1.6-0.6l0.4 0.6l2-0.6l0.6 0.6l15.4 0l0.6 0.4l10.4 0l0.6 0.6l5.4 0l0.6 0.4l12 0.6l0.4 0.4l5 0l0.6 0.6l4.4 0l0.6 0.4l8 0.6l4 1l8.4 0.4l3 1l6.6 0.6l15 3l2.4 0l2.6 1l5.4 0.4l2.6 1l16 3l4 1.6l4.4 0.4l9.6 3l2 0l1.4 1l7.6 1.6l18.4 6l1.6 0l1-4.6l-2 0l-4.6-2l-5-1l-1.4-1l-3.6-0.4l-3.4-1.6l-5.6-1l-1.4-1l-2 0l-2-1l-2 0l-10-3l-2.6 0l-1.4-1l-4.6-0.4l-4-1.6l-2.4 0l-2.6-1l-7.4-1l-5-1.4l-11-1.6l-3-1l-3.6 0l-3-1l-3.4 0l-3-1l-23-2.4l-0.6-0.6l-5 0l-0.4-0.4l-5 0l-0.6-0.6l-5 0l-0.4-0.4l-7 0l-0.6-0.6l-5.4 0l-0.6-0.4l-10.4 0l-0.6-0.6l-18.4 0l-0.6-0.4l-1.4 0.4l-0.6-0.4l-1.4 0.4l-2.6-0.4l-5.4 0.4l-1.6-0.4l-0.4 0.4l-17 0l-0.6 0.6l-29 1.4l-0.4 0.6l-13.6 1l-0.4 0.4l-7 0.6l-0.6 0.4l-9.4 1l-6.6 1.6l-3 0l-2.4 1l-2.6 0l-10 2.4l-7.4 1l-4 1.6zM1371.8 767.8l3 7l6.4 7l7 5.4l13 8l7 3.6l1 0l4 2.4l18 7.6l27.6 9.4l10.4 2.6l-0.4-3.6l-7-1.4l-1.6-1l-1.4 0l-5-2l-1.6 0l-1.4-1l-4.6-1l-1.4-1l-1.6 0l-9.4-4l-1.6 0l-19-8l-14-7l-10.4-6.6l-6.6-5l-7-7l-2.4-4zM427.8 758.8l-7 7.4l-11 8l-13 7l-19 7.6l-1 1.4l0 1.6l2.4 0l13.6-5.6l16.4-8.4l8.6-6l6-5.6zM369.2 702.2l-0.4 3.6l4 1l16.4 6.4l10.6 5l1 1l1.4 0l1-3.4l-7-4l-22.4-9l-1.6 0l-2-1z"/>
<path fill="#00f31c" d="M802.2 933.8l1 4.4l2 0l7.6-2.4l5-0.6l16-4l6.4-0.4l8-2l7-0.6l3.6-1l4.4 0l3-1l4 0l4.6-1l18-1l0.4-0.4l7 0l0.6-0.6l9 0l0.4-0.4l58 0.4l0.6 0.6l13 0.4l0.4 0.6l11 0.4l0.6 0.6l4.4 0l0.6 0.4l8 0.6l4.4 1l4 0l9.6 2l10 1l2.4 1l2.6 0l3.4 1l3 0l2 1l15.6 2.4l4 1.6l17.4 3.4l3.6 1.6l6 1l1.4 1l5.6 1l5 2l7 1.4l2.4 1.6l2 0l3 1.4l1 0l0-1.4l1-2l0-1l-3.4-1.6l-2 0l-4.6-2l-14-3.4l-1.4-1l-4.6-0.6l-3-1.4l-2.4 0l-1.6-1l-2 0l-2-1l-2.4 0l-2-1l-2 0l-4.6-1.6l-2.4 0l-4-1.4l-5-0.6l-7.6-2l-8.4-1l-2.6-1l-6-0.4l-3-1l-6.4-0.6l-3-1l-5 0l-2-1l-9-0.4l-4-1l-5 0l-0.6-0.6l-4 0l-5-1l-7 0l-0.4-0.4l-13-0.6l-0.6-0.4l-9 0l-0.4-0.6l-1.6 0.6l-0.4-0.6l-45 0l-0.6 0.6l-11 0l-0.4 0.4l-24 1.6l-0.6 0.4l-4 0l-0.4 0.6l-11.6 1l-4 1l-3.4 0l-2.6 1l-10 1l-2.4 1l-5.6 0.4l-4.4 1.6l-3 0l-2 1l-2 0l-2.6 1l-6.4 1l-5.6 2zM1370.8 765.2l3 7.6l7.4 8l5 4l14.6 9l10 5l1 0l1 1l14 6l4 1l16.4 6.4l1.6 0l6.4 2.6l3 0.4l1.6 1l3.4 0.6l6 2l-0.4-3.6l-9-2.4l-24-8l-16.6-6.6l-16-7.4l-12-7l-9.4-7l-7.6-7.6l-3-5zM428.8 756.8l-9 9.4l-8.6 6l-15 8l-15.4 6.6l-2.6 0.4l-1 2l0 1.6l1.6 0l6.4-3l5-1.6l20.6-10.4l9-6.6l6-6zM369.8 700.8l-0.6 3.4l18.6 6.6l4.4 2.4l6.6 2.6l3 2l1 0l1-4l-7-3.6l-1 0l-2-1.4l-22.6-8.6z"/>
<path fill="#00f213" d="M801.8 931.8l1 4.4l1.4 0l12.6-3.4l2.4 0l12.6-3l3 0l4.4-1.6l4 0l2.6-1l3.4 0l9.6-2l4.4 0l0.6-0.4l11-1l0.4-0.6l4.6 0l0.4-0.4l12.6-0.6l0.4-0.4l9.6 0l0.4-0.6l6 0l0.6-0.4l57.4 0.4l0.6 0.6l5 0l0.4 0.4l6.6 0l0.4 0.6l1.6-0.6l0.4 0.6l16 1l7.6 1.4l8 0.6l3.4 1l4.6 0l9.4 2l3.6 0l40 8l1.4 1l2.6 0l2 1l4 0.4l8 2.6l2 0l1.4 1l5.6 1l5 2l2 0l1.4 1l5 1l6 2.4l1.6 0l1-3l0-1.4l-15.6-5l-2 0l-3.4-1.6l-1.6 0l-1.4-1l-4-0.4l-9.6-3l-4.4-0.6l-6-2l-2 0l-9.6-2.4l-2.4 0l-7-2l-5.6-0.6l-5.4-1.4l-2.6 0l-3-1l-6-0.6l-6.4-1.4l-4.6 0l-0.4-0.6l-3 0l-0.6-0.4l-6.4-0.6l-4-1l-9-0.4l-0.6-0.6l-9-0.4l-0.4-0.6l-20.6-1l-0.4-0.4l-52-0.6l-0.6 0.6l-12.4 0l-0.6 0.4l-15 0.6l-0.4 0.4l-15.6 1l-0.4 0.6l-3.6 0l-0.4 0.4l-24 3l-0.6 0.6l-5.4 0.4l-2.6 1l-8 1l-2.4 1l-2.6 0l-2.4 1l-2 0l-1.6 1l-2.4 0l-2 1zM1370.2 763.8l3 7.4l8 8.6l6.6 5l10.4 6.4l14 7l19 8l1.6 0l1.4 1l4 1l10 4l1.6 0l1.4 1l1.6 0l5 2l1.4 0l1.6 1l8.4 2l-0.4-2.4l-1.6-1.6l-10-2.4l-30-10.6l-18.4-8l-2-1.4l-1 0l-8.6-4.6l-15.4-10.4l-5-4.6zM431.2 752.2l-0.4 0l-1 3l-1 0.6l-1.6 2.4l-5 5l-8.4 6.6l-9.6 5.4l-10.4 5l-15 5.6l-1 2l0 1.4l3-0.4l17-7l13-7l6-4l8.4-7.6zM370.2 699.2l-1 3l0.6 0.6l3 0.4l7 3l1.4 0l1 1l2.6 0.6l3.4 2l7 2.4l7 4l1 0l1-2.4l-0.4-2l-8-4l-19-7.6l-5-1.4z"/>
<path fill="#00f10a" d="M800.8 929.2l1.4 5.6l8.6-2.6l11-2l2-1l5.4-0.4l2-1l12-1.6l12.6-2.4l4 0l7.4-1.6l8-0.4l0.6-0.6l12.4-0.4l0.6-0.6l5.4 0l0.6-0.4l8 0l0.4-0.6l9 0l0.6-0.4l1.4 0.4l1.6-0.4l50.4 0.4l0.6 0.6l20.4 1l0.6 0.4l4 0l5 1l5 0l4 1l8 0.6l3 1l14.4 1.4l5.6 1.6l14.4 2l2 1l3 0l2.6 1l2.4 0l1.6 1l2.4 0l4.6 1.4l7 1l2 1l2.4 0l2 1l2 0l1.6 1l2.4 0l3 1.6l4.6 0.4l1.4 1l3.6 0.6l6.4 2.4l2 0l6.6 2.6l2 0l3 1.4l1.4 0l1.6-5l-5.6-2l-1.4 0l-1.6-1l-3.4-0.4l-3.6-1.6l-7-1.4l-11-3.6l-4.4-0.4l-3-1.6l-7-1l-1.6-1l-14.4-2.4l-2-1l-2.6 0l-10.4-2.6l-2.6 0l-12.4-2.4l-3 0l-0.6-0.6l-3 0l-3.4-1l-3 0l-0.6-0.4l-4.4 0l-0.6-0.6l-12-1l-4.4-1l-5.6 0l-0.4-0.4l-11.6-0.6l-0.4-0.4l-7.6 0l-0.4-0.6l-7 0l-0.6-0.4l-41.4-0.6l-0.6 0.6l-14.4 0l-0.6 0.4l-8.4 0l-0.6 0.6l-7 0l-0.4 0.4l-4.6 0l-0.4 0.6l-6 0l-0.6 0.4l-9 0.6l-0.4 0.4l-3.6 0l-0.4 0.6l-24 3l-3 1l-10.6 1.4l-2 1l-2.4 0l-4.6 1.6l-5 0.4l-2 1l-4.4 0.6zM1369.8 762.2l2.4 7l8.6 9l9.4 7l12 7l16 7.6l16.6 6.4l24 8l10 2.6l-0.6-3.6l-1.4-1l-10-2.4l-6-2.6l-1.6 0l-16-5.4l-2.4-1.6l-4-1l-8.6-4l-3.4-1l-15.6-7.4l-17-11l-8.4-8l-3.6-5.6zM431.8 751.2l-0.6 0l-3.4 5.6l-4 4l-7 5.4l-8 5l-13 6.6l-15 6l-1.6 0l-1 4l3.6-0.6l15.4-6.4l9-4.6l10.6-6.4l4-3l6.4-6.6zM371.2 696.2l-1.4 4.6l19.4 7l13 6.4l2-0.4l0.6-4l-3.6-2l-17.4-7.6l-1.6 0l-2.4-1.4z"/>
<path fill="#00f000" d="M799.8 925.2l2 7.6l7-2l2 0l2-1l2.4 0l1.6-1l10-1.6l2-1l3 0l11-2.4l3 0l3.4-1l7-0.6l0.6-0.4l3 0l7.4-1.6l3.6 0l0.4-0.4l23-1.6l0.6-0.4l20.4-0.6l0.6-0.4l34.4 0l0.6 0.4l3-0.4l0.4 0.4l9.6 0l0.4 0.6l7.6 0l0.4 0.4l19.6 1l0.4 0.6l8.6 0.4l4.4 1l4 0l0.6 0.6l6.4 0.4l4 1l4.6 0l2.4 1l3.6 0l6 1.6l6 0.4l5.4 1.6l5.6 0.4l7 2l2.4 0l2 1l3 0l12.6 3.6l6.4 1l3.6 1.4l6 1l1.4 1l14 3.6l1.6 1l1.4 0l1.6 1l1.4 0l5 2l1-1l0-1.6l1.6-3.4l0-2l-2.6-0.6l-1.4-1l-2 0l-1.6-1l-1.4 0l-6.6-2.4l-2 0l-7-2.6l-7.4-1.4l-7.6-2.6l-5-0.4l-1.4-1l-7-1l-4.6-1.6l-2.4 0l-2-1l-10-2l-2.6 0l-11.4-2.4l-3 0l-6-1.6l-14-1.4l-3-1l-4.6 0l-4.4-1l-10-0.6l-0.6-0.4l-10-0.6l-0.4-0.4l-6 0l-0.6-0.6l-6 0l-0.4-0.4l-9 0l-0.6-0.6l-40-0.4l-0.4 0.4l-12.6 0l-0.4 0.6l-1.6-0.6l-0.4 0.6l-23 1l-0.6 0.4l-18.4 1.6l-0.6 0.4l-11 1l-6.4 1.6l-3.6 0l-11 2.4l-8 1l-2 1l-5 0.6zM1367.8 757.8l4 10l4.4 5.4l9 7.6l11 7l8.6 4.4l1 0l2 1.6l18.4 8l30 10.4l12 3l-0.4-5l-1-1l-6.6-1.4l-1.4-1l-2 0l-1.6-1l-3-0.6l-3-1.4l-1.4 0l-3-1.6l-1.6 0l-1.4-1l-1.6 0l-1.4-1l-1.6 0l-1.4-1l-4-1l-2.6-1.4l-4-1l-13-6l-3.4-1l-1-1l-2-0.6l-1-1l-1 0l-8.6-4.4l-14.4-9.6l-7.6-7l-2.4-3l-2.6-4.4zM433.2 748.2l-0.4 0l-2 3.6l-7.6 7.4l-8.4 6l-14 7.6l-1 0l-8 4l-11.6 4l-1.4 5.4l3.4-0.4l12.6-5l10.4-5l9.6-5.6l8.4-6.4l4.6-4.6zM372.2 692.8l0 1.4l-2 5l15 5l4.6 2.6l5 1.4l8.4 4.6l1 0l2-5.6l-0.4-1.4l-16.6-7.6l-2.4-0.4l-8-3.6l-1.6 0l-1.4-1z"/>
<path fill="#07f100" d="M798.8 920.8l2 8.4l2 0.6l4-1.6l11.4-2l4.6-1.4l2.4 0l4.6-1.6l3 0l2.4-1l6-0.4l3-1l3.6 0l6-1.6l12.4-1l3-1l4.6 0l5-1l27.4-1.4l0.6-0.6l1 0.6l2.4-0.6l19 0l0.6-0.4l30.4 0.4l0.6 0.6l16 0.4l0.4 0.6l6.6 0l0.4 0.4l4.6 0l5 1l9.4 0.6l3.6 1l9.4 0.4l9.6 2l10 1l2.4 1l2.6 0l3.4 1l3 0l2 1l8.6 1l2 1l5 0.6l2 1l3 0l2.4 1l2 0l1.6 1l7 1l3 1.4l4.4 0.6l2 1l16 4l3.6 1.4l3.4 0.6l7.6 3l2 0l2.4-8l-0.4-1.6l-2.6-1l-2 0l-1.4-1l-1.6 0l-8.4-3l-2 0l-2-1l-5.6-1l-5-2l-2.4 0l-3.6-1.4l-6-1l-2-1l-2.4 0l-1.6-1l-9.4-1.6l-12-3l-2.6 0l-2.4-1l-3 0l-17.6-3.4l-4.4 0l-2.6-1l-23-2.6l-0.4-0.4l-11.6-0.6l-0.4-0.4l-11.6-0.6l-0.4-0.4l-6.6 0l-0.4-0.6l-8.6 0l-0.4-0.4l-39.6-0.6l-0.4 0.6l-12.6 0l-0.4 0.4l-11 0l-0.6 0.6l-14 0.4l-4 1l-6 0l-3.4 1l-9.6 0.6l-7 1.4l-3.4 0l-6.6 1.6l-3 0l-3 1l-13 2l-2.4 1l-2.6 0l-2.4 1l-2.6 0l-4 1.4l-8.4 1.6zM1366.8 755.2l3 8l3.4 5.6l10 9l15 9.4l15.6 7.6l3.4 1l8.6 4l4 1l2.4 1.4l16 5.6l1.6 0l6 2.4l1.4 0l9 3l2 0l-1.4-7l-8-2l-6.6-2.4l-1.4 0l-3-1.6l-1.6 0l-21-7.4l-15.4-6.6l-16-8l-15.6-10.4l-5-4.6l-5-6l-0.4-1.4zM435.2 744.2l-0.4 0l-3.6 5.6l-5 5l-10.4 7.4l-7 4l-6 2.6l-1 1l-18.6 7.4l-1.4 0l-2 5l0 2l2 0l15-6l13-6.4l11.4-7.6l7-6.4zM373.8 688.8l-2.6 8.4l1.6 0l3 1.6l3 0.4l2.4 1.6l1.6 0l15.4 6.4l5 3l2 0l2-6l0-2l-8-4l-3.4-1l-1-1z"/>
<path fill="#10f100" d="M797.8 916.2l2 9l1.4 0.6l9.6-3l2 0l7-2l2.4 0l2-1l2.6 0l3-1l2.4 0l15-3l3 0l0.6-0.6l3 0l0.4-0.4l6.6-0.6l4-1l8.4-0.4l0.6-0.6l24-1.4l0.4-0.6l11.6 0l0.4-0.4l18 0l0.6-0.6l3 0l0.4 0.6l2.6 0l0.4-0.6l2.6 0l0.4 0.6l1.6-0.6l0.4 0.6l2-0.6l0.6 0.6l4 0l0.4-0.6l0.6 0.6l11 0l0.4 0.4l10.6 0l0.4 0.6l6 0l0.6 0.4l6 0l0.4 0.6l5.6 0l5 1l5 0l0.4 0.4l19.6 2l3.4 1l7.6 0.6l6 1.4l3 0l2.4 1l3.6 0l7.4 2l3 0l16.6 4l7 1l1.4 1l5 0.6l9 3l6 1l8.6 3l2 0l3 1.4l3.4 0.6l1.6 1l2 0l4.4 2l1.6-2l0.4-3.6l1.6-3.4l-9-3.6l-16-4l-1.6-1l-4-0.4l-3.4-1.6l-2.6 0l-7.4-2.4l-9-1.6l-6.6-2l-2.4 0l-2-1l-5.6-0.4l-2.4-1l-2.6 0l-8-2l-3 0l-2.4-1l-3.6 0l-9.4-2l-3.6 0l-0.4-0.6l-7.6-0.4l-3.4-1l-12.6-1l-0.4-0.6l-5.6 0l-4.4-1l-7 0l-0.6-0.4l-5 0l-0.4-0.6l-7 0l-0.6-0.4l-8 0l-0.4-0.6l-38-0.4l-0.6 0.4l-26 0.6l-0.4 0.4l-18.6 1l-4.4 1l-9.6 0.6l-4 1l-11 1l-0.4 0.4l-3 0l-3 1l-11.6 1.6l-2.4 1l-8 1l-4.6 1.4l-4.4 0.6l-1.6 1l-2.4 0l-5.6 2l-3 0zM1364.8 750.2l4 10.6l4 5.4l9 8l12.4 8l8.6 4.6l1 0l1 1l2 0.4l1 1l3.4 1l13 6l4 1l2.6 1.6l4 1l1.4 1l1.6 0l1.4 1l1.6 0l1.4 1l1.6 0l3 1.4l1.4 0l3 1.6l3 0.4l1.6 1l2 0l1.4 1l8.6 2l-2-7.4l-7-1.6l-1.6-1l-8-2l-17.4-6l-1.6-1l-1.4 0l-2.6-1.4l-10-3.6l-1-1l-2.4-0.4l-17.6-8.6l-1-1l-1 0l-10.4-6.4l-6.6-5l-7.4-7.6l-3.6-6zM436.8 741.2l-6 7.6l-11.6 9l-19 10l-17.4 6.4l-2 5l0 2l5.4-1.4l15.6-6.6l8-4l10.4-6.4l4-3l7-7zM374.8 685.2l-2.6 8l16 5.6l3.6 2l5 1.4l8.4 4.6l1 0l2.6-7l-0.6-1.6l-13-6l-2.4-0.4l-13.6-5.6z"/>
<path fill="#19f200" d="M796.2 911.8l2.6 9.4l1 0l2-1l8.4-1.4l4-1.6l2.6 0l2.4-1l2.6 0l10-2.4l6.4-0.6l2-1l3 0l0.6-0.4l9.4-1l7-1.6l1.6 0.6l3-1l5 0l3.4-1l6 0l5-1l1.6 0.4l4.4-1l1.6 0.6l0.4-0.6l7 0l0.6-0.4l9 0l0.4-0.6l20 0l0.6-0.4l0.4 0.4l4.6 0l0.4-0.4l1.6 0.4l2.4 0l0.6-0.4l0.4 0.4l2-0.4l0.6 0.4l16 0l0.4 0.6l9.6 0l0.4 0.4l13 0.6l0.6 0.4l5 0l0.4 0.6l6.6 0l4 1l5 0l3 1l13 1l6 1.4l7.4 0.6l6 1.4l5.6 0.6l32.4 6.4l1.6 1l2.4 0l2 1l6 1l3.6 1.6l2.4 0l5 2l5.6 1l3.4 1.4l2 0l7 2.6l1.6 0l1.4 1l2 0l3 1.4l1 0l2.6-8l0-1.4l-5-1l-2.6-1.6l-5.4-1l-6.6-2.4l-2 0l-1.4-1l-46.6-11l-3 0l-2.4-1l-3 0l-5.6-1.6l-6-0.4l-2.4-1l-7-0.6l-2.6-1l-4 0l-0.4-0.4l-10.6-1l-4-1l-5 0l-4-1l-5.4 0l-0.6-0.6l-17-1l-0.4-0.4l-17-0.6l-0.6-0.4l-15 0l-0.4-0.6l-1.6 0.6l-1.4-0.6l-1.6 0.6l-0.4-0.6l-11 0l-1 0.6l-0.6-0.6l-2.4 0l-0.6 0.6l-27 0.4l-0.4 0.6l-5.6 0l-0.4 0.4l-18 1l-8 1.6l-12 1l-7 1.4l-3.6 0l-5.4 1.6l-16 2.4l-4.6 1.6l-9 1.4l-8 2.6zM1364.2 748.8l3.6 9.4l5 6l9 7.6l11 7l16 8l15.4 6.4l2.6 0.6l9.4 4l1.6 0l1.4 1l7.6 2l3 1.4l9.4 2.6l1.6 1l6 1l-0.6-4.6l-1-2.4l-8-2l-6.4-2.6l-1.6 0l-3-1.4l-1.4 0l-20-7l-6-3l-4-1l-8-4l-1 0l-16.6-8.6l-15.4-11l-6-6l-2.6-4zM438.2 738.2l-8.4 9.6l-6.6 5l-6.4 4l-19.6 9.4l-7.4 2.6l-4 2l-2 0l-2 7l2.4 0l18.6-7.6l1-1l1 0l1-1l1 0l7.4-4l8.6-5.4l9-8l1.4-2zM375.8 681.8l-2 8l1.4 0l1 1l1.6 0l1.4 1l14.6 5l1 1l3.4 1l6.6 3l1 1l2 0l2-7.6l-1-1l-19.6-8.4l-1.4 0l-4-2l-1.6 0l-6-2.6z"/>
<path fill="#22f300" d="M795.2 907.8l2.6 9l1 0l0.4-0.6l3 0l5.6-2l2.4 0l1.6-1l4.4-0.4l2.6-1l3 0l2-1l2.4 0l5-1.6l2.6 0l6.4-1.4l3.6 0l5.4-1.6l8-0.4l3.6-1l4.4 0l0.6-0.6l8-0.4l4.4-1l21.6-1l0.4-0.6l9.6 0l0.4-0.4l46.6 0l0.4 0.4l1.6-0.4l0.4 0.4l16.6 0.6l0.4 0.4l5 0l0.6 0.6l7 0l0.4 0.4l8 0.6l0.6 0.4l5.4 0l0.6 0.6l8 0.4l3.4 1l11.6 1l9.4 2l3.6 0l2.4 1l8.6 1l2.4 1l2.6 0l2.4 1l2.6 0l2.4 1l5 0.6l6.6 2l9 1.4l7.4 2.6l2.6 0l3.4 1.4l4 0.6l1.6 1l3.4 0.4l2 1l2 0l3.6 1.6l3 0.4l1.4 1l8 2l1.6 1l1-0.4l2.4-9l-5.4-2l-8.6-2l-1-1l-2 0l-9-3l-4-0.6l-3.4-1.4l-2.6 0l-2-1l-6-1l-6-2l-4.4-0.6l-4.6-1.4l-2.4 0l-10-2.6l-2.6 0l-2-1l-12-1.4l-2.4-1l-3 0l-3-1l-14.6-1.6l-3-1l-5 0l-3.4-1l-9-0.4l-0.6-0.6l-9-0.4l-0.4-0.6l-7 0l-0.6-0.4l-13-0.6l-0.4-0.4l-9.6 0l-0.4-0.6l-19 0l-0.6-0.4l-1.4 0.4l-1.6-0.4l-7.4 0.4l-2.6-0.4l-0.4 0.4l-28 0.6l-0.6 0.4l-7 0l-0.4 0.6l-6.6 0l-0.4 0.4l-4.6 0l-0.4 0.6l-10.6 0.4l-0.4 0.6l-8 0.4l-0.6 0.6l-3 0l-3.4 1l-3.6 0l-3.4 1l-15 2l-5 1.4l-5.6 0.6l-2 1l-16 3zM1362.2 743.8l3.6 9.4l2.4 4l9.6 9l14.4 9.6l1 0l1 1l17.6 8.4l2.4 0.6l1 1l10 3.4l2.6 1.6l1.4 0l7 3l3 0.4l1.6 1l14 4.6l1.4 0l1.6 1l8.4 2l-1.4-7.6l-15.6-4l-3-1.4l-1.4 0l-3-1.6l-1.6 0l-1.4-1l-1.6 0l-12.4-5l-4-1l-17.6-7.4l-1-1l-2-0.6l-11.4-6l-8-5l-8.6-6.4l-5-5l-4.4-7zM440.2 734.2l-0.4 0l-2 3.6l-8 8l-9.6 6.4l-16.4 8.6l-13.6 5.4l-5.4 1.6l-2 7l6-1.6l12.4-5l13-6.4l11-7l6.6-5.6l3-3.4zM376.8 678.2l0 1.6l-2 5l0.4 1.4l3 0.6l1.6 1l14.4 5l4.6 2.4l2.4 0.6l4 2.4l3.6 1l2-6l-0.6-2.4l-14-6.6l-3-0.4l-1-1l-4-1l-7-3l-1.4 0l-2-1z"/>
<path fill="#2bf400" d="M794.2 903.2l1 5.6l1.6 4l12.4-3.6l7-1l4.6-1.4l2.4 0l5.6-1.6l3 0l2.4-1l9-1l9.6-2l12-1l8-1.4l2 0.4l0.4-0.4l8-0.6l0.6-0.4l2.4 0.4l0.6-0.4l5 0l0.4-0.6l18.6-0.4l0.4-0.6l45 0l0.6 0.6l11.4 0l0.6 0.4l5.4 0l0.6 0.6l24.4 1.4l4 1l4 0l0.6 0.6l12 1l3.4 1l4 0l2.6 1l15.4 2l8 2l6 0.4l9 2.6l5 0.4l11 3l2 0l10 3l5.6 1l1.4 1l3.6 0.6l2 1l2 0l18.4 6l1-1l2.6-8.6l-5-1l-1.6-1l-1.4 0l-15.6-5l-5.4-1l-2-1l-2 0l-3.6-1.4l-4.4-0.6l-1.6-1l-5-0.4l-1.4-1l-2.6 0l-4.4-1.6l-4.6-0.4l-2-1l-15.4-2.6l-8-2l-6-0.4l-3-1l-3.6 0l-2.4-1l-11.6-1l-3.4-1l-8.6-0.6l-4-1l-4.4 0l-0.6-0.4l-9.4-0.6l-0.6-0.4l-6.4 0l-0.6-0.6l-5 0l-0.4-0.4l-18-0.6l-0.6-0.4l-1.4 0.4l-0.6-0.4l-48 0l-0.4 0.4l-9.6 0l-0.4 0.6l-7.6 0l-0.4 0.4l-17 1l-4.6 1l-13.4 1l-3.6 1l-3 0l-0.4 0.6l-3 0l-6.6 1.4l-9 1l-5 1.6l-5.4 0.4l-6.6 2l-5 0.6l-2 1l-4.4 0.4zM1361.2 741.2l3.6 9.6l2.4 3.4l8.6 8l12.4 8.6l16.6 8.4l1 0l8 4l4 1l6 3l20 7l1.4 0l3 1.6l1.6 0l6.4 2.4l3.6 0.6l6 2l-1.6-7.6l-10-2.4l-1.4-1l-3-0.6l-3.6-1.4l-1.4 0l-1.6-1l-4.4-1l-10-4l-5.6-1.6l-5-2.4l-1.4 0l-4.6-2.6l-6-2l-17-8.4l-6-3.6l-10.4-7.4l-6-5.6l-4-5l-0.6-1.4zM441.8 731.2l-3 4l-6 6l-11.6 8l-18 9l-16.4 6l-2 3.6l-0.6 3.4l2.6 0l19.4-8l18-10l6.6-5l6-6.4zM378.2 674.2l-2.4 8l19 6.6l3.4 2l5.6 2l5 3l1 0l2.4-7l0-1l-1-1l-16-7l-5.4-1.6l-7-3l-1.6 0l-1.4-1z"/>
<path fill="#34f500" d="M793.2 898.8l0 2l2 7.4l1.6 0l5.4-2l4.6-0.4l4.4-1.6l2.6 0l6.4-2l5.6-0.4l2.4-1l3 0l2.6-1l6-0.6l3-1l4 0l2.4-1l3.6 0l7-1.4l4.4 0l4-1l16.6-1l0.4-0.6l6.6 0l0.4-0.4l7.6 0l0.4-0.6l11.6 0l0.4-0.4l55.6 0.4l0.4 0.6l25.6 1.4l0.4 0.6l4 0l4.6 1l5 0l3.4 1l5 0l3 1l11 1l9 2l15 2l6.6 2l3 0l12 3l4.4 0.4l2 1l2 0l10 3l2.6 0l3.4 1.6l4 0.4l3 1.6l2.6 0l6.4 2.4l8.6 2l4.4 2l2 0l2.6-9l-2-1l-3.6-0.4l-1.4-1l-1.6 0l-8.4-3l-9-2l-1.6-1l-4-0.6l-2-1l-2 0l-12-3.4l-2.4 0l-6-2l-3.6 0l-4-1.6l-15.4-2.4l-7.6-2l-3.4 0l-12.6-2.6l-4 0l-6.4-1.4l-4 0l-3.6-1l-9.4-0.6l-0.6-0.4l-8-0.6l-0.4-0.4l-6 0l-0.6-0.6l-12-0.4l-0.4-0.6l-7.6 0l-0.4-0.4l-10 0l-0.6-0.6l-1.4 0.6l-0.6-0.6l-46.4 0l-0.6 0.6l-17.4 0.4l-0.6 0.6l-17.4 1l-4 1l-6 0l-0.6 0.4l-14.4 1.6l-3 1l-3.6 0l-17.4 3.4l-2.6 0zM1359.8 737.2l3.4 9.6l3.6 5l9.4 8.4l11.6 7.6l11.4 6l2 0.4l1 1l17.6 7.6l4 1l11 4.4l3 0.6l6 2.4l1.4 0l3 1.6l17 4.4l-1-3.4l0-2.6l-1.4-1.4l-8-2l-1.6-1l-2 0l-9.4-3.6l-1.6 0l-15.4-5.4l-4-2l-1.6 0l-1-1l-1.4 0l-14-6l-1-1l-6.6-2.6l-1-1l-5.4-2.4l-6-3.6l-12-8.4l-7.6-7.6l-3-5zM443.2 728.2l-9.4 10l-11.6 8l-19.4 9.6l-15.6 5.4l-2 5.6l0 1.4l1.6 0l8.4-3l15-6.4l16.6-9.6l4-3l7.4-7.4zM379.2 670.2l-2.4 8l0.4 0.6l3 0.4l1.6 1l9.4 3l1 1l3 0.6l14.6 7l1.4 0l2-8l-7-3l-2-1.6l-2.4-0.4l-18.6-7.6z"/>
<path fill="#3df500" d="M791.8 894.8l2.4 9l1.6 0l6-2l4.4-0.6l2-1l5-0.4l6.6-2l9-1l4.4-1.6l6-0.4l3.6-1l3.4 0l6.6-1.6l8-0.4l3.4-1l9-0.6l0.6-0.4l12.4-0.6l5-1l2.6 0.6l0.4-0.6l5.6 0l0.4-0.4l10.6 0l0.4-0.6l44 0l0.6 0.6l10 0l0.4 0.4l8 0l0.6 0.6l19 1l0.4 0.4l12.6 1l4 1l8 0.6l4 1l4 0l3 1l16 2l2 1l11.4 1.4l2.6 1l5 0.6l1.4 1l2.6 0l9.4 2.4l2.6 0l1.4 1l5 0.6l1.6 1l2.4 0l5.6 2l2 0l2 1l5.4 1l22.6 7l2-0.6l2-6.4l0-2l-5.6-2l-3.4-0.6l-1.6-1l-3.4-0.4l-5-2l-6-1l-1.6-1l-7.4-1.6l-6-2l-2 0l-2-1l-2 0l-13.6-3.4l-2.4 0l-2-1l-7.6-1l-2.4-1l-5.6-0.6l-11.4-2.4l-3 0l-3-1l-4 0l-2.6-1l-18-2l-0.4-0.6l-5.6 0l-8-1.4l-11.4-0.6l-0.6-0.4l-4.4 0l-0.6-0.6l-1.4 0.6l-0.6-0.6l-5.4 0l-0.6-0.4l-6.4 0l-0.6-0.6l-54.4-0.4l-0.6 0.4l-13.4 0l-0.6 0.6l-25.4 1.4l-4 1l-17.6 1.6l-0.4 0.4l-7 0.6l-2.6 1l-10 1l-2.4 1l-10.6 1.4l-9 2.6l-2.4 0l-2 1l-2.6 0zM1357.8 732.2l4.4 12l4 5l10 8.6l12 7.4l17 8.6l6 2l4.6 2.4l1.4 0l5 2.6l5.6 1.4l10 4l4.4 1l1.6 1l1.4 0l3.6 1.6l3 0.4l1.4 1l11.6 3l-1.6-7.4l-15-4l-1.4-1l-3-0.6l-1.6-1l-2 0l-11.4-4.4l-3-0.6l-2.6-1.4l-2.4-0.6l-16-6.4l-14.6-7l-1-1l-1 0l-13-8l-7.4-6l-5-5l-3-4l-1.6-3.6zM444.2 725.8l-7.4 8l-12 8.4l-21.6 10.6l-9 3l-1.4 1l-4.6 1l-2 7.4l2.6-0.4l5.4-2.6l1.6 0l13-5.4l10-5l10.4-6.6l4.6-3.4l5.4-5.6zM380.2 667.2l-2 7.6l16 5.4l2.6 1.6l2.4 0.4l1 1l6 2l5 3l1 0l2-6l0-2.4l-15.4-7l-4-1l-1.6-1l-1.4 0l-7-3l-1.6 0l-2-1z"/>
<path fill="#46f600" d="M790.8 890.2l2 8.6l1 1l7.4-2.6l9.6-1.4l2.4-1l7-1l2-1l2.6 0l3-1l5.4-0.6l3-1l3.6 0l9-2l4.4 0l4-1l3.6 0l3-1l6 0l4-1l12.4-0.4l0.6-0.6l5.4 0l0.6-0.4l17.4-0.6l0.6-0.4l3 0l0.4 0.4l1.6-0.4l35 0l0.4 0.4l3-0.4l0.6 0.4l9.4 0l0.6 0.6l2-0.6l0.4 0.6l14.6 0.4l0.4 0.6l16 1l8 1.4l5 0l0.6 0.6l8 0.4l6.4 1.6l4 0l6 1.4l3.6 0l3 1l5.4 0.6l10.6 2.4l3 0l5 1.6l2.4 0l4 1.4l3.6 0l6 2l2.4 0l2 1l4 0.6l6 2l6 1l1.6 1l5.4 1l2 1l3.6 0.4l3.4 1.6l6.6 1.4l1.4 1l2 0l3 1.6l1.6 0l2.4-9l-5-2l-20.4-6l-4-0.6l-1.6-1l-6.4-1l-10-3l-2.6 0l-1.4-1l-4.6-0.4l-4.4-1.6l-3 0l-2-1l-2.6 0l-10-2.4l-15-2l-2.4-1l-10-1l-6.6-1.6l-11-1l-0.4-0.4l-4.6 0l-0.4-0.6l-14-1l-0.6-0.4l-6.4 0l-0.6-0.6l-4.4 0l-0.6-0.4l-14-0.6l-0.4-0.4l-14.6 0l-0.4-0.6l-37 0l-0.6 0.6l-0.4-0.6l-3 0l-0.6 0.6l-10.4 0l-0.6 0.4l-21 1l-0.4 0.6l-4.6 0l-4.4 1l-17.6 1.4l-3.4 1l-3.6 0l-3.4 1l-12 1.6l-2.6 1l-3 0l-12 3l-9.4 1.4l-5.6 2l-3 0zM1357.2 730.8l3 8.4l2.6 4l7 7l4.4 3.6l13.6 8.4l5.4 2.6l1 1l6.6 2.4l1 1l14 6l1.4 0l1 1l1.6 0l8 3.6l24 8l12 3l-1-7l-17.6-5l-3-1.6l-1.4 0l-23-8l-1-1l-1.6 0l-18.4-8l-1-1l-1 0l-10.6-5.4l-15-10l-6-5.6zM446.2 721.8l-9 9.4l-12.4 8.6l-18.6 9l-17 6l0 1.4l-1 1.6l-1 4l2 0l1.6-1l4-1l18-7.6l16-9l6-4.4l7-7l0-1l1.4-2zM381.2 663.8l-2 7.4l3 0.6l8 3.4l1.6 0l9 4l2.4 0.6l2 1.4l5.6 2l1 1l2-0.4l2-6l-0.6-2l-4.4-1.6l-8-4l-13.6-4.4l-2.4-1.6l-2 0l-2-1z"/>
<path fill="#4ff700" d="M789.8 885.8l2 9l1.4 0.4l10-3l2.6 0l2-1l2.4 0l11.6-3l3.4 0l5-1.4l5.6-0.6l3-1l3.4 0l3.6-1l3 0l3.4-1l17.6-1.4l4-1l12.4-0.6l0.6-0.4l5.4 0l0.6-0.6l8 0l0.4-0.4l13 0l0.6-0.6l50.4 0.6l0.6 0.4l32.4 2l8 1.6l5.6 0l0.4 0.4l3 0l7.6 1.6l7.4 0.4l2.6 1l4 0l3 1l3 0l2.4 1l3.6 0l5.4 1.6l2.6 0l4.4 1.4l8.6 1l2 1l9.4 1.6l6.6 2l2 0l2 1l6 1l2 1l2 0l5 2l16.4 4l1.6 1l5 1l4.4 2l1-1l2.6-8l-1-1l-2 0l-3-1.6l-6.6-1.4l-1.4-1l-2 0l-1.6-1l-2 0l-2-1l-7.4-1.6l-1.6-1l-6-1l-3.4-1.4l-9-1.6l-2-1l-9-1.4l-2-1l-3 0l-1.6-1l-13.4-2l-8-2l-9.6-1l-6-1.6l-3.4 0l-3-1l-11.6-1l-3.4-1l-10-0.4l-0.6-0.6l-9.4-0.4l-0.6-0.6l-4.4 0l-0.6-0.4l-7 0l-0.4-0.6l-14.6-0.4l-0.4-0.6l-11 0l-0.6-0.4l-2.4 0.4l-2-0.4l-35 0l-0.6 0.4l-29 1l-0.4 0.6l-10 0.4l-4.6 1l-10 0.6l-0.4 0.4l-3.6 0l-3.4 1l-4 0l-10 2l-6.6 0.6l-2.4 1l-3 0l-2.6 1l-10.4 1.4l-4.6 1.6l-2.4 0l-2 1l-2.6 0l-5.4 2l-3 0zM1355.2 725.8l3.6 9.4l3.4 5.6l4.6 4.4l7.4 6l13 8l1 0l1 1l14.6 7l16 6.6l2.4 0.4l2.6 1.6l1.4 0l8.6 3.4l3 0.6l1.4 1l2 0l1.6 1l1.4 0l8 3l3.6 0.4l5.4 2l2 0l-1-7l-20-5.4l-1.4-1l-1.6 0l-21.4-7.6l-2.6-1.4l-2.4-0.6l-14-6l-15-7.4l-2.6-2l-6.4-3.6l-8-6l-7.6-7.4l-3.4-6zM448.2 717.8l-7.4 8.4l-12.6 9l-19 9.6l-15.4 6l-3 0.4l-1.6 3.6l-0.4 3.4l5-1l18.4-7.4l9-4.6l10-6l6.6-5l4.4-4.4zM382.8 659.2l-2.6 8l0.6 0.6l3 0.4l7 3l1.4 0l1.6 1l4 1l3.4 2l2.6 0.6l1 1l1.4 0l7.6 4l1 0l2-6.6l0-2l-17.6-7.4l-3-0.6l-1-1l-3-0.4l-4-2l-3.4-0.6l-1-1z"/>
<path fill="#58f800" d="M788.8 881.8l2 9l1.4 0l2-1l3 0l10-3l5-0.6l4.6-1.4l5.4-0.6l5.6-1.4l5.4-0.6l2.6-1l3.4 0l6-1.4l7.6-0.6l7.4-1.4l9.6-0.6l4.4-1l4.6 0l0.4-0.4l1.6 0.4l0.4-0.4l5.6 0l0.4-0.6l14.6-0.4l0.4-0.6l13 0l0.6-0.4l47.4 0.4l0.6 0.6l6.4 0l0.6 0.4l7.4 0l0.6 0.6l1.4-0.6l0.6 0.6l4.4 0l0.6 0.4l6.4 0l0.6 0.6l5 0l0.4 0.4l7.6 0.6l0.4 0.4l9 0.6l7 1.4l4 0l12.6 2.6l9.4 1l5.6 1.4l3.4 0l2.6 1l10 1.6l2 1l3 0l4.4 1.4l4.6 0.6l1.4 1l2.6 0l10 3l2.4 0l3 1.4l6.6 1l2 1l8.4 2l3 1.6l3.6 0.4l1.4 1l2 0l4.6 2l1.4 0l2.6-8l0-1.4l-3.6-0.6l-1.4-1l-11.6-3l-3.4-1.4l-2 0l-1.6-1l-7.4-1.6l-2-1l-2 0l-6-2l-2 0l-2-1l-4.6-0.4l-2-1l-2.4 0l-9-2.6l-2.6 0l-2-1l-8-1l-2.4-1l-8.6-1l-6-1.4l-3 0l-6-1.6l-4 0l-2.4-1l-4 0l-3.6-1l-11-1l-0.4-0.4l-4.6 0l-0.4-0.6l-8.6-0.4l-0.4-0.6l-6.6 0l-0.4-0.4l-10-0.6l-0.6-0.4l-15.4-0.6l-0.6-0.4l-49-0.6l-0.4 0.6l-13 0l-0.6 0.4l-8.4 0l-0.6 0.6l-19 1l-3.4 1l-5 0l-0.6 0.4l-5 0l-7.4 1.6l-4 0l-0.6 0.4l-16 2l-5.4 1.6l-3 0l-3 1l-2.6 0l-2 1l-10 1.4l-1.4 1l-5 0.6l-1.6 1l-2.4 0zM1354.8 724.2l3.4 9.6l4.6 5.4l9.4 8l11 7l10.6 5.6l1 0l1 1l1 0l12.4 6l2.6 0.4l2.4 1.6l1.6 0l1 1l23 8l1.4 0l3 1.4l18.6 5l-1-7l-4.6-1l-5-2l-6.4-1.4l-3-1.6l-5-1l-13-5l-3-0.4l-21-8.6l-12.6-6l-1-1l-3-1l-13-8l-7-5.4l-5.4-5.6l-3-4.4zM450.2 713.8l-3 4l-6.4 6.4l-10 7l-16.6 8.6l-12 5l-10.4 3.4l-2 5l0 2l1.4 0l3-1.4l5.6-1.6l16.4-7l1-1l1 0l7.6-4l10-6.4l9-8.6zM383.8 655.8l-2.6 8l2.6 1l2 0l2.4 1.4l13.6 4.6l13 6l1.4-0.6l2-7.4l-13.4-6l-5.6-1.6l-1-1l-1.4 0l-2.6-1.4l-4.4-1l-4.6-2z"/>
<path fill="#61f900" d="M787.8 877.2l0 2.6l1 2l1 4.4l2 0l2-1l3 0l5.4-2l2.6 0l2-1l2.4 0l4.6-1.4l10.4-1.6l2.6-1l3 0l12-2.4l8-0.6l10.4-2l5 0l0.6-0.4l20.4-1.6l0.6-0.4l16-0.6l0.4-0.4l11 0l0.6-0.6l1 0.6l2-0.6l30 0l0.4 0.6l3.6 0l0.4-0.6l0.6 0.6l10 0l0.4 0.4l7.6 0l0.4 0.6l7.6 0l0.4 0.4l17.6 1l0.4 0.6l17.6 1.4l0.4 0.6l3 0l7.6 1.4l7.4 0.6l12.6 2.4l3 0l2 1l16.4 2.6l2 1l5.6 0.4l2 1l7 1l4 1.6l7 1l5.4 2l6 1l1.6 1l7.4 1.4l2 1l2 0l3 1.6l1.6 0l12.4 4l1.6 0l0-1.6l2.4-7.4l-2.4-1l-8.6-2l-1.4-1l-3-0.6l-3.6-1.4l-2 0l-11.4-3.6l-2 0l-1.6-1l-4.4-0.4l-8-2.6l-2.6 0l-2-1l-4.4-0.4l-6.6-2l-5.4-0.6l-12.6-3l-3 0l-17.4-3.4l-4 0l-3-1l-4 0l-3.6-1l-16-1.6l-4.4-1l-5.6 0l-0.4-0.4l-17-1l-0.6-0.6l-7 0l-0.4-0.4l-9 0l-0.6-0.6l-13.4 0l-0.6-0.4l-3 0l-0.4 0.4l-1-0.4l-24.6 0l-0.4 0.4l-2-0.4l-0.6 0.4l-13.4 0l-0.6 0.6l-7.4 0l-0.6 0.4l-8 0l-0.4 0.6l-11 0.4l-0.6 0.6l-9 0.4l-0.4 0.6l-5.6 0l-0.4 0.4l-7 0.6l-4 1l-4 0l-9 2l-9 1l-3 1l-3 0l-5 1.4l-2.6 0l-9.4 2.6l-2 0zM1352.8 719.2l3.4 9.6l2.6 4l9.4 9l14.6 9.4l15 7.6l23 9.4l1.4 0l1.6 1l14.4 5l1.6 0l1.4 1l10 2.6l1.6 1l1.4 0l5.6 2l2.4 0l-1.4-7l-10-2.6l-1.6-1l-5-1l-8-3l-1.4 0l-4-2l-1.6 0l-1.4-1l-1.6 0l-11-4l-23.4-10l-10.6-6l-1 0l-15-10l-6-5.4zM452.8 708.8l-0.6 0l-2 4l-5.4 6l-13 9.4l-21.6 10.6l-13 4.4l-1.4 1l-3 0.6l-2 7l4-0.6l20-8l11-5.4l11-7l5-4l5-5.6zM384.8 652.2l-0.6 3l-1.4 3.6l0 1l1 1l3.4 0.4l4 2l3 0.6l1 1l3 0.4l5 2.6l6 2l5.6 3l2.4 0l2-6l-0.4-2l-15-6.6l-4-1l-1.6-1l-1.4 0l-2.6-1.4l-6-1.6l-1-1l-2-0.4z"/>
<path fill="#6af900" d="M786.2 872.8l2.6 9.4l1.4 0l1.6-1l6.4-1l1.6-1l5-0.4l1.4-1l10-1.6l2-1l2.6 0l3-1l6.4-0.4l2-1l13.6-1.6l3-1l8.4-0.4l3-1l10.6-0.6l3.4-1l7 0l0.6-0.4l4.4 0l0.6-0.6l1.4 0.6l0.6-0.6l15-0.4l0.4-0.6l11.6 0l0.4-0.4l1 0.4l1.6-0.4l1 0.4l2.4 0l0.6-0.4l38 0.4l0.4 0.6l16.6 0.4l0.4 0.6l6 0l0.6 0.4l12 0.6l0.4 0.4l4.6 0l4.4 1l4.6 0l0.4 0.6l11 1l3.6 1l4 0l6 1.4l3.4 0l12 2.6l3 0l5 1.4l15.6 2.6l4.4 1.4l13.6 2.6l2 1l10 2l2 1l3.4 0.4l1.6 1l16.4 4l1.6 1l1.4 0l3 1.6l2 0l2 1l1-1l1-5l1.6-3.6l-3.6-0.4l-18.4-6l-4-0.6l-1.6-1l-4-0.4l-1.4-1l-15-3l-1.6-1l-2.4 0l-2-1l-2.6 0l-7-2l-3 0l-2-1l-7-1l-2.4-1l-5.6-0.6l-3-1l-2.4 0l-3-1l-23-3l-7-1.4l-4.6 0l-4-1l-4.4 0l-0.6-0.6l-9.4-0.4l-0.6-0.6l-4.4 0l-0.6-0.4l-7 0l-0.4-0.6l-5 0l-0.6-0.4l-6.4 0l-0.6-0.6l-9.4 0l-0.6-0.4l-41.4-0.6l-0.6 0.6l-14.4 0l-0.6 0.4l-10 0l-0.4 0.6l-20 1l-4 1l-10.6 0.4l-0.4 0.6l-7 0.4l-3.6 1l-8 0.6l-6 1.4l-9 1l-8 2l-2.4 0l-4.6 1.6l-7.4 1l-2 1l-5 0.4l-7.6 2.6zM1351.2 715.2l4 11l3 4l10 9l10.6 7l14.4 7.6l1 0l1 1l25.6 10.4l3 0.6l1.4 1l11.6 4l5 1l3 1.4l6.4 1.6l5 2l5.6 1l-1-6l-1-1.6l-18.6-5l-1.4-1l-1.6 0l-1.4-1l-1.6 0l-4.4-2l-1.6 0l-4.4-2l-5.6-1.4l-20-8l-18.4-9l-7.6-4.6l-10.4-7.4l-7.6-7.6l-3.4-6zM453.2 707.8l-8 8.4l-11 8l-10 5.6l-1 0l-9 4.4l-20.4 7.6l-2 7l6-1.6l17.4-7l6.6-3.4l1 0l1-1l1 0l11-6.6l6-4.4l6-6zM385.8 648.8l-2 7.4l5 2l4.4 1l2.6 1.6l1.4 0l1 1l2.6 0.4l1.4 1l1.6 0l2.4 1.6l7 2.4l2 1.6l3 0.4l2-6l0-2l-21.4-9l-4.6-1l-2.4-1.4l-3.6-0.6l-1-1z"/>
<path fill="#73fa00" d="M785.2 868.8l2 8.4l1 1l5-2l2.6 0l2-1l10.4-2l2.6-1l8-1l2-1l3 0l3-1l12.4-1.4l0.6-0.6l6-0.4l7-1.6l4.4 0l3-1l5.6 0l0.4-0.4l10-0.6l5-1l6.6 0l0.4-0.4l7 0l0.6-0.6l10 0l0.4-0.4l16.6 0l0.4-0.6l1.6 0.6l1.4-0.6l2 0.6l1.6-0.6l30 0.6l0.4 0.4l24.6 1l0.4 0.6l10.6 0.4l4.4 1l1.6-0.4l0.4 0.4l16.6 1.6l7 1.4l4 0l3 1l13 1.6l11 2.4l8 1l5 1.6l5.4 0.4l6.6 2l4.4 0.6l2 1l2.6 0l8 2.4l2.4 0l3.6 1.6l2 0l2 1l7.4 1.4l5 2l4 0.6l3 1.4l3.6 0.6l7 2.4l1.4 0l0-1.4l2.6-7l-0.6-1l-2 0l-4.4-2l-3.6-0.6l-1.4-1l-3.6-0.4l-3.4-1.6l-2 0l-2-1l-7.6-1.4l-1.4-1l-2 0l-2-1l-2 0l-4-1.6l-11-2l-2-1l-4.6-0.4l-4.4-1.6l-2.6 0l-2.4-1l-10-1.4l-3-1l-3 0l-5.6-1.6l-6-0.4l-9-2l-18.4-2l-8-1.6l-21-1.4l-5-1l-14-0.6l-0.6-0.4l-10 0l-0.4-0.6l-20 0l-0.6-0.4l-17 0l-0.4 0.4l-14 0l-0.6 0.6l-2-0.6l-0.4 0.6l-10 0l-0.6 0.4l-13.4 0.6l-0.6 0.4l-14 1l-0.4 0.6l-6 0l-0.6 0.4l-22 2.6l-3 1l-3 0l-12 2.4l-2.4 0l-2 1l-3 0l-4.6 1.6l-2.4 0l-4.6 1.4l-7 1zM1350.8 713.2l3.4 10l4.6 5.6l7.4 6.4l13 8.6l1 0l4.6 3l1 0l3 2l1 0l1 1l1 0l9 4.4l21.4 8.6l4.6 1l1.4 1l1.6 0l4 2l6.4 1.4l3 1.6l5 1l1.6 1l3.4 0.4l5.6 2l2.4 0l-1.4-7l-16.6-4.4l-29.4-10l-2.6-1.6l-11-4l-9-4.4l-1 0l-7-4l-1 0l-12-7l-7-5l-8.4-8l-3.6-5.6zM454.8 704.2l-9.6 10l-14.4 9.6l-1 0l-8 4.4l-10.6 4.6l-16 5.4l-2 5l0 2l2 0l16-6l21.6-10.4l9.4-6.6l6-5.4l2-2.6zM387.2 644.8l-2.4 8l1.4 0l1 1l1.6 0l7 3l1.4 0l1.6 1l4 1l2.4 1.4l14 5.6l2.6-8l-13.6-6l-4-1l-1-1l-3-0.6l-4-2l-3.4-0.4l-1-1z"/>
<path fill="#7bfb00" d="M784.2 864.2l1.6 7.6l1 2l10-3l5-0.6l2-1l2.4 0l17.6-4l6-0.4l2.4-1l3 0l3-1l11-1l0.6-0.6l4 0l6.4-1.4l10.6-0.6l4-1l30.4-1.4l0.6-0.6l20.4 0l0.6-0.4l2 0.4l4-0.4l0.4 0.4l37 0.6l0.6 0.4l5 0l0.4 0.6l14 0.4l0.6 0.6l4.4 0l5 1l5 0l0.6 0.4l8 0.6l3.4 1l5 0l3.6 1l13 1.4l3 1l9.4 1l2.6 1l6 0.6l2.4 1l10 1.4l2 1l3 0l4.6 1.6l5 0.4l2 1l2.4 0l1.6 1l4.4 0.6l2 1l4 0.4l6 2l2 0l1.6 1l7.4 1.6l3.6 1.4l7 1.6l1.4 1l7.6 2l2-0.6l0-1.4l2-5.6l-0.6-1.4l-2.4-0.6l-1.6-1l-13.4-3.4l-7-2.6l-6-1l-9.6-3l-13-2.4l-9-2.6l-7.4-1l-2-1l-5.6-0.4l-2.4-1l-8.6-1l-2.4-1l-9.6-1l-9.4-2l-11-1l-0.6-0.6l-12-1l-4-1l-5 0l-0.4-0.4l-4.6 0l-0.4-0.6l-4.6 0l-0.4-0.4l-22-1l-0.6-0.6l-9.4 0l-0.6-0.4l-2 0.4l-0.4-0.4l-18 0l-0.6-0.6l-1.4 0.6l-2.6-0.6l-1.4 0.6l-24 0l-0.6 0.4l-11.4 0l-0.6 0.6l-7 0l-0.4 0.4l-18.6 1l-4 1l-10 0.6l-7 1.4l-3.4 0l-0.6 0.6l-16.4 2l-2.6 1l-3 0l-2.4 1l-11 1.4l-6.6 2l-2 0l-2 1l-5 0.6l-5.4 2zM1349.2 709.8l3 8.4l2.6 4l7 7l4.4 3.6l13.6 8.4l18.4 9l20 8l5.6 1.6l4.4 2l1.6 0l4.4 2l1.6 0l1.4 1l1.6 0l1.4 1l20 5.4l-1-7.4l-14-3.6l-26-8.4l-2.4-1.6l-3-0.4l-1-1l-12.6-4.6l-7-3l-1-1l-5.4-2l-4-2.4l-1 0l-2.6-2l-1 0l-4.4-2.6l-13-9l-5-4.4zM456.8 700.2l-3 4l-5 5l-9.6 7l-6 3.6l-12 6l-9.4 3.4l-2.6 1.6l-5.4 1.4l-2.6 1.6l-4.4 1l-1 1l-1.6 4.4l0 2l1.6 0l1.4-1l14.6-5l12.4-6l1 0l16-9.4l10-9zM388.2 641.2l-2.4 7.6l1.4 1l3.6 0.4l2.4 1.6l4.6 1l1.4 1l9 3l10.6 5l2 0l2-7.6l-1-1l-21-8.4l-1.6 0l-6-2.6z"/>
<path fill="#84fc00" d="M783.2 859.8l0 2l2 7.4l9-2.4l7-1l4.6-1.6l2.4 0l4.6-1.4l6-0.6l7.4-2l12.6-1.4l3.4-1l15.6-1.6l3-1l6 0l0.4-0.4l15.6-1l0.4-0.6l6 0l0.6-0.4l18.4-0.6l0.6-0.4l60.4 0.4l0.6 0.6l12 0.4l0.4 0.6l1.6-0.6l5 1l5.4 0l5 1l14.6 1l4 1l18.4 2l11.6 2.6l3.4 0l5.6 1.4l3 0l5 1.6l3 0l7.4 2l2.6 0l4.4 1.4l4.6 0.6l2 1l9 1.4l10 3l2 0l1.4 1l7.6 1.6l3.4 1.4l2 0l3 1.6l5.6 1l1.4 1l2 0l4.6 2l2 0l0-1.6l2.4-7.4l-9-3l-3.4-0.6l-3-1.4l-2 0l-2-1l-3.6-0.6l-2-1l-5.4-1l-1.6-1l-2 0l-12-3.4l-5-0.6l-2-1l-2.4 0l-1.6-1l-2 0l-2.4-1l-5-0.4l-2.6-1l-5-0.6l-2.4-1l-8-1l-5.6-1.4l-3 0l-6-1.6l-10-1l-2.4-1l-4 0l-0.6-0.4l-15.4-1.6l-4-1l-15-1l-0.6-0.4l-4.4 0l-0.6-0.6l-6 0l-0.4-0.4l-15-0.6l-0.6-0.4l-10.4 0l-0.6-0.6l-2.4 0.6l-0.6-0.6l-45.4 0l-0.6 0.6l-10 0l-0.4 0.4l-8.6 0l-0.4 0.6l-11.6 0.4l-0.4 0.6l-5 0l-4.6 1l-5.4 0l-3.6 1l-1.4-0.6l-7.6 1.6l-14 1.4l-12 2.6l-3 0l-12 3l-8 1l-1.4 1l-4.6 0.4l-2 1zM1347.8 705.8l3.4 10l3 4l8 7.4l7 5l12 7l1 0l1 1l11.6 5.6l13 5.4l2.4 0.6l2.6 1.4l29.4 10l5 1l1.6 1l3.4 0.6l5.6 2l2 0l-1-7l-6.6-1.6l-6.4-2.4l-2 0l-15.6-5.6l-1.4 0l-1.6-1l-1.4 0l-1-1l-6-1.4l-22.6-9l-13.4-6.6l-1-1l-1 0l-17.6-11l-10-9.4l-3-5zM459.2 695.2l-0.4 0l-2.6 4.6l-7 7l-10 7l-9 5l-3 1l-1 1l-4.4 1.4l-1 1l-16.6 6.6l-7 2l-2 5.4l0 1.6l3.6-0.6l24-9.4l8-4.6l1 0l10.4-6.4l4-3l7-7zM389.2 637.2l-0.4 3l-1.6 3.6l0 2l3.6 0.4l1 1l2 0l5.4 2.6l3 0.4l1 1l4 1l13 6l1.6 0l2-6.4l-0.6-2l-8-3l-3.4-2l-1.6 0l-1.4-1l-4-1l-1-1l-1.6 0l-1.4-1l-6-1.6l-1-1z"/>
<path fill="#8dfc00" d="M781.8 855.8l1 2l1.4 7.4l2-1l2.6 0l5.4-2l5-0.4l2-1l2 0l6.6-2l3.4 0l2-1l9-1l2.6-1l5.4-0.6l3-1l3.6 0l0.4-0.4l10-1l7-1.6l1.6 0.6l3.4-1l5 0l4-1l18.6-1l0.4-0.6l19-0.4l0.6-0.6l46 0l0.4 0.6l11 0l0.6 0.4l8 0l0.4 0.6l7 0l0.6 0.4l7 0l0.4 0.6l9.6 0.4l0.4 0.6l13 1l3.6 1l4.4 0l4 1l7.6 0.4l5.4 1.6l10.6 1l2 1l6 0.4l2.4 1l3.6 0l2.4 1l2.6 0l2 1l5.4 0.6l2 1l3 0l9 2.4l11 2l5.6 2l10 2l1.4 1l2 0l5.6 2l8.4 2l9.6 3.6l1 0l1-4.6l2-5l-1.6 0l-3-1.4l-2 0l-1.4-1l-2 0l-1.6-1l-1.4 0l-5.6-2l-2 0l-3.4-1.6l-7.6-1.4l-1.4-1l-4.6-0.6l-5.4-2l-2 0l-4.6-1.4l-2.4 0l-2.6-1l-2.4 0l-3.6-1.6l-5.4-0.4l-11.6-3l-9-1l-2-1l-6-0.6l-2.4-1l-4 0l-2.6-1l-7.4-0.4l-2.6-1l-4 0l-3.4-1l-3.6 0l-0.4-0.6l-3.6 0l-4.4-1l-4.6 0l-4-1l-18-1l-0.4-0.4l-11.6-0.6l-0.4-0.4l-7.6 0l-0.4-0.6l-55.6-0.4l-0.4 0.4l-12.6 0l-0.4 0.6l-14.6 0.4l-0.4 0.6l-5 0l-0.6 0.4l-7 0l-0.4 0.6l-4.6 0l-0.4 0.4l-4.6 0l-0.4 0.6l-7.6 0.4l-4 1l-3.4 0l-0.6 0.6l-13.4 1.4l-8.6 2l-3 0l-7.4 2l-3 0l-2.6 1l-4.4 0.6l-2 1l-2.6 0l-2 1l-6 1.4l-3 0l-1.4 1zM1345.8 700.8l4 11l2 3l8 8l13 9l4.4 2.4l1 0l2.6 2l1 0l4 2.6l1 0l12.4 6l12.6 4.4l1 1l3 0.6l2.4 1.4l16.6 5.6l1.4 0l3 1.4l20 5.6l-0.4-5l-1-2.6l-8.6-2l-6.4-2.4l-2 0l-1.6-1l-3-0.6l-1.4-1l-1.6 0l-20.4-7l-23-9.4l-15-7.6l-16-10.4l-7-6.6l-4-5l-1.6-3.4zM459.8 693.8l-4 5l-5.6 5l-14.4 9.4l-17 8l-17 6.6l-3.6 0.4l-2 7.6l6-1.6l2.6-1.4l5.4-1.6l2.6-1.4l9.4-3.6l18-9.4l9.6-7l4.4-4.6l5-9.4zM390.2 633.8l-2 8l5.6 1.4l4.4 2l1.6 0l23 9.6l2-6l0-2.6l-21-8.4l-5.6-1.6l-1.4-1l-2 0l-1-1z"/>
<path fill="#96fd00" d="M780.8 851.8l2.4 9l4.6-1.6l2.4 0l4-1.4l4.6-0.6l1.4-1l5.6-0.4l12-3l3 0l5.4-1.6l9.6-1l3-1l4 0l10-2l0.4 0.6l5-0.6l3.6-1l5.4 0l4.6-1l12.4-0.4l0.6-0.6l5 0l0.4-0.4l1.6 0.4l0.4-0.4l18-0.6l0.6-0.4l41.4 0l0.6 0.4l2.4-0.4l0.6 0.4l9.4 0l0.6 0.6l7 0l0.4 0.4l6.6 0l0.4 0.6l1.6-0.6l0.4 0.6l5 0l0.6 0.4l11.4 0.6l3.6 1l6 0l4 1l20 2l2.4 1l6.6 0.4l12 2.6l3 0l8 2l3 0l2.4 1l12.6 2l2.4 1l2 0l1.6 1l2.4 0l2 1l5 0.4l8 2.6l6 1l1.6 1l5.4 1l2 1l3.6 0.4l19 6l1.4-0.4l2.6-8.6l-2-1l-2 0l-3-1.4l-35-9.6l-2.6 0l-2-1l-6.4-1l-2-1l-5-0.4l-6.6-2l-7.4-1l-2.6-1l-10.4-1.6l-3-1l-5.6-0.4l-3-1l-3 0l-3-1l-4 0l-6-1.6l-8-0.4l-7.4-1.6l-18-1.4l-0.6-0.6l-6 0l-5-1l-6.4 0l-0.6-0.4l-6.4 0l-0.6-0.6l-21-0.4l-0.4-0.6l-1.6 0.6l-1.4-0.6l-33.6 0l-0.4 0.6l-0.6-0.6l-2.4 0l-0.6 0.6l-12 0l-0.4 0.4l-16.6 0.6l-0.4 0.4l-6 0l-4.6 1l-11 0.6l-0.4 0.4l-8.6 0.6l-0.4 0.4l-7 0.6l-0.6 0.4l-3 0l-0.4 0.6l-3 0l-3.6 1l-12 1.4l-8 2l-8 1l-4 1.6l-10 1.4l-1.4 1l-3 0l-3 1.6l-2.6 0zM1345.2 699.2l3 8.6l2.6 4l6.4 6.4l5 4l15.6 9.6l1 0l1 1l13.4 6.4l22.6 9l1.4 0l3 1.6l1.6 0l1 1l1.4 0l1.6 1l1.4 0l15.6 5.4l2 0l6.4 2.6l7.6 1.4l-1-7l-4.6-1l-15-5l-3.4-0.4l-1.6-1l-4.4-1l-1.6-1l-1.4 0l-3-1.6l-12.6-4l-4-2l-1.4 0l-18.6-8l-1-1l-1 0l-7-4l-2-0.4l-12.4-7.6l-6.6-5l-8-8l-2-3.4zM461.2 690.8l-10.4 10.4l-11.6 7.6l-1 0l-1 1l-18 8.4l-20 7l-2 7l8-2l16.6-6.4l1-1l4.4-1.6l1-1l2-0.4l10-5.6l10-7l6.6-6.4zM391.2 630.2l-2 8l3.6 0.6l1 1l1.4 0l6 2.4l1.6 0l1 1l4 1l1.4 1l1.6 0l12 5.6l1.4-0.6l2-7.4l-21-8.6l-1.4 0l-11.6-4.4z"/>
<path fill="#9ffe00" d="M779.2 845.8l1 2l1.6 8l1.4 0.4l2.6-0.4l1.4-1l3 0l8-2.6l2.6 0l2-1l4.4-0.4l2.6-1l3 0l7.4-2l9.6-1l9-2l4 0l3-1l8-0.6l0.4-0.4l3.6 0l0.4-0.6l3.6 0l4.4-1l4.6 0l0.4-0.4l7 0l0.6-0.6l5 0l0.4-0.4l16-0.6l0.6-0.4l0.4 0.4l1.6-0.4l10 0l0.4-0.6l2 0.6l1.6-0.6l47.4 0.6l0.6 0.4l8 0l0.4 0.6l12.6 0.4l0.4 0.6l11.6 0.4l0.4 0.6l4.6 0l4.4 1l9.6 0.4l0.4 0.6l7.6 0.4l3.4 1l4 0l2.6 1l9.4 1l3 1l6.6 0.6l5.4 1.4l5.6 0.6l2.4 1l3 0l2 1l2.6 0l5 1.4l5.4 0.6l3.6 1.4l2.4 0l2.6 1l2.4 0l4.6 1.6l2 0l5.4 2l2 0l2 1l9.6 2l5 2l7.4 1.4l1.6 1l2 0l6.4 2.6l2.6-0.6l0.4-3.4l2-5.6l-1-1l-4-1l-1.4-1l-4-0.4l-1.6-1l-22-5.6l-3.4-1.4l-2 0l-10.6-3l-2.4 0l-2-1l-3 0l-4-1.6l-5-0.4l-2.6-1l-2.4 0l-2-1l-8-1l-8-2l-3 0l-8.6-2l-7-0.6l-3.4-1l-11-1l-0.6-0.4l-10.4-1l-4-1l-5.6 0l-4.4-1l-16.6-1l-0.4-0.6l-14.6-0.4l-0.4-0.6l-10.6 0l-0.4-0.4l-17 0l-0.6-0.6l-1.4 0.6l-0.6-0.6l-1.4 0.6l-0.6-0.6l-2.4 0l-0.6 0.6l-1-0.6l-3 0l-0.4 0.6l-0.6-0.6l-1.4 0.6l-1.6-0.6l-1 0.6l-1.4-0.6l-0.6 0.6l-29 0.4l-0.4 0.6l-26 1.4l-4 1l-5.6 0l-0.4 0.6l-3.6 0l-4.4 1l-4 0l-0.6 0.4l-6.4 0.6l-6.6 1.4l-3.4 0l-6 1.6l-3 0l-5.6 1.4l-2.4 0l-4.6 1.6l-3 0l-3.4 1.4l-3.6 0l-1.4 1l-7 1l-2 1l-2.6 0zM1343.2 693.8l3.6 10l4.4 6.4l10.6 9l12 7.6l15 7.4l23 9.6l20.4 7l1.6 0l1.4 1l3 0.4l1.6 1l2 0l6.4 2.6l10 2.4l-1.4-8.4l-12-3l-3-1.6l-3.6-0.4l-1.4-1l-1.6 0l-9.4-3.6l-1.6 0l-1.4-1l-1.6 0l-1.4-1l-12.6-4l-1-1l-1.4 0l-2.6-1.4l-5-1.6l-3.4-2l-8-3l-9-5l-4-1.4l-11.6-7l-6.4-5l-5-4.6zM464.2 684.8l-3 4l-6 6l-14 9.4l-21 10l-1.4 0l-9 4l-3 0.6l-4.6 2l-1.4 0l-2 6l0 2l4-0.6l25-10l9-4.4l12-7.6l6.4-5.4l3.6-4zM392.8 625.2l0 1.6l-2.6 7.4l18 6l14.6 6.6l2.4 0.4l0-1.4l2.6-6.6l-0.6-1.4l-11.4-5l-1.6 0l-4-2l-1.4 0l-1-1l-1.6 0l-3-1.6z"/>
<path fill="#a9ff00" d="M777.2 836.8l4 15.4l2-1l2.6 0l3-1.4l3 0l1.4-1l3.6 0l1.4-1l5-0.6l4-1.4l2.6 0l13.4-3l12-1.6l3.6-1l3 0l0.4-0.4l4.6 0l3-1l4.4 0l0.6-0.6l12-1l0.4-0.4l6 0l4.6-1l24.4-1l0.6-0.6l10.4 0l0.6-0.4l1 0.4l2.4-0.4l1 0.4l1.6-0.4l29 0l0.4 0.4l23 0.6l0.6 0.4l19 1l0.4 0.6l4.6 0l0.4 0.4l15 1l4 1l4.6 0l0.4 0.6l13.6 1.4l6.4 1.6l7 0.4l2 1l6.6 0.6l5 1.4l3.4 0l1.6 1l3.4 0l2.6 1l2.4 0l2 1l3 0l6.6 2l5 0.6l2 1l2.4 0l6 2l2.6 0l4 1.4l10 2l3 1.6l4 0.4l21 6.6l1-0.6l4-14.4l-4.6-1.6l-2 0l-1.4-1l-14-3.4l-3.6-1.6l-10-2l-1.4-1l-2.6 0l-5.4-2l-21-4l-4-1.4l-2.6 0l-10.4-2.6l-5.6-0.4l-2.4-1l-6-0.6l-9.6-2l-3.4 0l-3.6-1l-3 0l-6.4-1.4l-4.6 0l-0.4-0.6l-16-1.4l-0.6-0.6l-5 0l-0.4-0.4l-10.6-0.6l-0.4-0.4l-5 0l-0.6-0.6l-6.4 0l-0.6-0.4l-18-0.6l-0.4-0.4l-19 0l-0.6-0.6l-1.4 0.6l-0.6-0.6l-4 0l-0.4 0.6l-1-0.6l-6 0l-1 0.6l-0.6-0.6l-4 0l-0.4 0.6l-27 0.4l-0.6 0.6l-8 0l-0.4 0.4l-4.6 0l-0.4 0.6l-12.6 0.4l-0.4 0.6l-9 0.4l-0.6 0.6l-15.4 1.4l-4 1l-3.6 0l-3 1l-3 0l-3 1l-6.4 0.6l-2.6 1l-5.4 0.4l-2 1l-3 0l-7.6 1.6l-1.4 1l-8 1l-5.6 2l-2.4 0l-1.6 1zM1340.8 687.2l5 14l2 3l7.4 7.6l12 8.4l7 4l1 0l2 1.6l7 3l1 1l18.6 8l1.4 0l4 2l12.6 4l3 1.4l1.4 0l1.6 1l4.4 1l1.6 1l3.4 0.6l15 5l5.6 1l-2-11.6l-6-2l-3.6-0.4l-5-2l-2 0l-14-5l-3-0.6l-1.4-1l-3-0.4l-4-2l-4.6-1l-9-4l-4-1l-15-7l-1 0l-1-1l-2-0.6l-12-6.4l-8.4-5.6l-8.6-7l-5-5.4l-1.4-3zM467.2 678.2l-4 5l-6 5.6l-12 8l-8.4 4l-1 1l-11.6 5l-21 7.4l-3.4 9.6l0 2l4.4-1l7-3l1.6 0l14.4-6l11-5.6l1-1l1 0l8-5l6.6-5l5.4-6zM394.8 618.2l-0.6 3.6l-3 8.4l0.6 0.6l22 7.4l9.4 4.6l3 0.4l3.6-10.4l0-2l-1-1l-17.6-7l-7.4-2.6l-1.6 0l-6-2.4z"/>
<path fill="#b1ff00" d="M775.2 828.2l4.6 18l6.4-1l3.6-1.4l7-1l1.4-1l3.6 0l19-4.6l7-0.4l2-1l7.4-0.6l0.6-0.4l10-1l3.4-1l4.6 0l3.4-1l5.6 0l4-1l6 0l0.4-0.6l6 0l0.6-0.4l6 0l0.4-0.6l18-0.4l0.6-0.6l48.4 0l0.6 0.6l2-0.6l0.4 0.6l9.6 0l0.4 0.4l7 0l0.6 0.6l6 0l0.4 0.4l1.6-0.4l0.4 0.4l16.6 1l0.4 0.6l17 1.4l0.6 0.6l11 1l0.4 0.4l6.6 0.6l6.4 1.4l9.6 1l5.4 1.6l3 0l2.6 1l5.4 0.4l2 1l3.6 0l2 1l10 1.6l4 1.4l3 0l2 1l2.4 0l12 3.6l2 0l2 1l9.6 2l5 2l4 0.4l5 2l11.4 3l0-1.4l5-16l-0.4-1l-2 0l-4.6-2l-2 0l-1.4-1l-9-2l-5.6-2l-2 0l-1.4-1l-8.6-1.6l-1.4-1l-2.6 0l-2-1l-15-3l-2-1l-4.4-0.4l-4.6-1.6l-3 0l-2.4-1l-7.6-1.4l-3 0l-5-1.6l-9-1l-9.4-2l-7-0.4l-2.6-1l-7.4-0.6l-4-1l-4.6 0l-3.4-1l-5 0l-0.6-0.4l-14.4-1l-0.6-0.6l-5.4 0l-0.6-0.4l-4.4 0l-0.6-0.6l-7.4 0l-0.6-0.4l-6 0l-0.4-0.6l-10 0l-0.6-0.4l-1.4 0.4l-0.6-0.4l-18 0l-0.4-0.6l-1.6 0.6l-0.4-0.6l-31 0.6l-0.6 0.4l-0.4-0.4l-2.6 0l-0.4 0.4l-8.6 0l-0.4 0.6l-22.6 1l-3.4 1l-5.6 0l-0.4 0.4l-17.6 1.6l-3.4 1l-4 0l-0.6 0.4l-12.4 1.6l-2.6 1l-6.4 0.4l-2.6 1l-5 0.6l-7.4 2l-2.6 0l-2 1l-2.4 0l-6 2l-3 0l-3.6 1.4zM1337.8 679.2l6 16.6l2 3.4l8 8l5 4l9.4 6l16.6 8.6l8 3l3.4 2l5 1.4l2.6 1.6l1.4 0l1 1l12.6 4l1.4 1l1.6 0l1.4 1l1.6 0l9.4 3.4l1.6 0l1.4 1l3.6 0.6l3 1.4l5.4 1l5.6 2l2 0l-2-14l-12-3l-3.6-1.4l-2 0l-4.4-2l-5-1l-1.6-1l-1.4 0l-9-3.6l-1.6 0l-13.4-5.4l-4-1l-18.6-8l-17-9l-9.4-6.6l-8-7zM470.2 671.8l-8 8.4l-13 9l-10.4 5.6l-4.6 1.4l-1 1l-3.4 1l-2.6 1.6l-2.4 0.4l-6.6 3l-1.4 0l-1.6 1l-10 3l-4 12l0 2l2 0l3-1.4l4.6-1l17.4-7l14-7l9.6-6l4.4-3.6l5.6-5.4l8-16zM397.2 610.2l-3 11.6l-1.4 3.4l0.4 1l3 0.6l9 3.4l1.6 0l1 1l1.4 0l4 2l1.6 0l13 5.6l4.4-14l0-2l-12-5l-4-1l-3-1.6l-1.4 0l-2.6-1.4l-1.4 0l-3-1.6z"/>
<path fill="#bbff00" d="M773.2 819.2l0 2l1 2l0.6 4l3 10.6l2.4-0.6l1.6-1l6.4-1l1.6-1l8-1l1.4-1l7.6-1.4l3 0l2-1l2.4 0l3.6-1l3 0l2.4-1l3 0l3-1l9.6-1l0.4-0.6l11.6-1l4-1l4.4 0l4-1l4.6 0l0.4-0.4l12.6-0.6l0.4-0.4l6 0l0.6-0.6l1.4 0.6l0.6-0.6l7 0l0.4-0.4l8.6 0l0.4-0.6l50.6 0l0.4 0.6l10 0l0.6 0.4l8 0l0.4 0.6l5.6 0l0.4 0.4l2-0.4l0.6 0.4l5 0l0.4 0.6l5.6 0l0.4 0.4l4.6 0l0.4 0.6l4 0l5 1l9 0.4l3 1l8.6 0.6l3.4 1l19 2.4l3 1l3.6 0l1.4 1l6.6 0.6l7.4 2l5.6 0.4l4 1.6l10 1.4l1.4 1l3 0l4.6 1.6l4 0.4l3.4 1.6l2.6 0l1.4 1l10 2l3.6 1.4l3.4 0.6l17.6 5.4l2 0l5-18l-5.6-1l-6-2.4l-5.4-1l-7.6-2.6l-2 0l-1.4-1l-8-1.4l-1.6-1l-5-0.6l-8-2.4l-5-0.6l-1.4-1l-2.6 0l-9-2.4l-2.4 0l-13-3l-3 0l-5-1.6l-12.6-1.4l-12.4-2.6l-4.6 0l-3-1l-11-1l-0.4-0.4l-4.6 0l-0.4-0.6l-7.6-0.4l-0.4-0.6l-5 0l-5-1l-1.6 0.6l-0.4-0.6l-10.6-0.4l-0.4-0.6l-14-0.4l-0.6-0.6l-11 0l-0.4-0.4l-20.6 0l-0.4-0.6l-10.6 0l-0.4 0.6l-5-0.6l-0.6 0.6l-15 0l-0.4 0.4l-0.6-0.4l-2.4 0l-0.6 0.4l-24.4 1l-5 1l-7.6 0l-0.4 0.6l-17.6 1.4l-7.4 1.6l-10.6 1l-3 1l-6.4 0.4l-5 1.6l-8.6 1l-4.4 1.4l-5.6 0.6l-6.4 2l-2 0l-4.6 1.4l-2.4 0zM1335.2 672.2l5.6 15.6l2 4l8.4 8.4l13 9l11 6l3 1l1 1l25 10.6l34 11.4l2 0l3 1.6l12.6 3l-2-14l-13-3.6l-8.6-3l-1.4 0l-11-4l-1.6 0l-1.4-1l-3-0.4l-4-2l-4.6-1l-18-7l-17.4-8.6l-1 0l-4.6-3l-1 0l-16.4-11l-5-4.4zM474.2 663.8l-5.4 6.4l-4.6 4l-7 5l-9.4 5.6l-1 0l-5 3l-14 6l-20.6 7l-3.4 10.4l-0.6 3.6l1.6 0l3-1.6l12.4-4l16.6-7l1-1l8.4-4l10-6.4l5.6-4.6l4-4.4zM399.2 602.8l-1.4 7l-3 8.4l15.4 5l9 4l6.6 2l3 2l1.4 0l4.6-16l-20.6-8l-1.4 0l-3-1.4l-1.6 0l-3-1.6l-2 0l-1-1z"/>
<path fill="#c4ff00" d="M770.8 810.8l4.4 18l2 0l7.6-2.6l3 0l6-2l2.4 0l2-1l2.6 0l7.4-2l2.6 0l3-1l2.4 0l12.6-2.4l7-0.6l6.4-1.4l3.6 0l3.4-1l10-0.6l4-1l5.6 0l3.4-1l7.6 0l0.4-0.4l5.6 0l0.4-0.6l1.6 0.6l0.4-0.6l6.6 0l0.4-0.4l12 0l0.6-0.6l47.4 0l0.6 0.6l1.4-0.6l0.6 0.6l10 0l0.4 0.4l32.6 2l0.4 0.6l4.6 0l0.4 0.4l25 2.6l3 1l10.6 1l3 1l15.4 2l9.6 2.4l3.4 0l2 1l6 0.6l4.6 1.4l4.4 0.6l2 1l7 1l10 3l2.6 0l1.4 1l6.6 1l1.4 1l4 0.4l26 7.6l5-18l-4.4-1.6l-2 0l-3-1.4l-9-2l-9-3l-10-2l-8-2.6l-7-1l-4-1.4l-2.6 0l-2-1l-7-1l-7.4-2l-5.6-0.6l-7-2l-6.4-0.4l-3-1l-3 0l-15-3l-11.6-1l-3.4-1l-4 0l-8-1.6l-19-1.4l-0.6-0.6l-6 0l-0.4-0.4l-4.6 0l-0.4-0.6l-1.6 0.6l-0.4-0.6l-5.6 0l-0.4-0.4l-18-0.6l-0.6-0.4l-1.4 0.4l-0.6-0.4l-17.4 0l-0.6-0.6l-5.4 0l-0.6 0.6l-1-0.6l-27 0.6l-0.4 0.4l-1.6-0.4l-0.4 0.4l-18 0.6l-0.6 0.4l-6.4 0l-0.6 0.6l-6.4 0l-0.6 0.4l-15 1l-4 1l-15.4 1.6l-3.6 1l-7.4 0.4l-2.6 1l-5.4 0.6l-5.6 1.4l-8 1l-2.4 1l-8 1l-4 1.6l-9.6 1.4zM1332.2 664.2l5.6 15.6l2.4 5l8 8l12 8.4l17 9l21 9l1.6 0l13.4 5.6l1.6 0l1.4 1l7.6 2.4l1.4 0l1.6 1l5 1l4.4 2l2 0l10.6 3.6l6 1l-2-13.6l-0.6-0.4l-10-2.6l-5-2l-2 0l-6.4-2.4l-1.6 0l-1.4-1l-2 0l-7.6-3l-1.4 0l-8.6-3.6l-1.4 0l-1.6-1l-4-1l-4-2l-1.4 0l-3.6-2l-1.4 0l-1-1l-5-1.4l-2-1.6l-2.6-0.4l-2-1.6l-4.4-1.4l-11.6-6l-14-9l-10-9.6l-3.4-6zM477.8 656.2l-3 4l-5.6 5.6l-13 9l-19.4 9.4l-2.6 0.6l-2.4 1.4l-4 1l-9.6 4l-1.4 0l-7 2.6l-4.6 14l2 0l9-3l1.6-1l1.4 0l15-6l1-1l4.6-1.6l10.4-5.4l10-6.6l9.6-9.4l0-1zM401.8 595.2l-4.6 15l0.6 1l6 1.6l7 3l1.4 0l3 1.4l4 1l11 5l2.6-0.4l4-13l0-2l-12-5l-4.6-1l-1-1l-3-0.6l-4-2l-5-1l-1.4-1z"/>
<path fill="#ceff00" d="M768.8 801.8l4.4 18.4l2.6-0.4l1.4-1l7-1l13-3.6l5.6-0.4l2.4-1l3 0l10-2.6l12.6-1.4l3-1l8.4-0.6l2.6-1l4 0l0.4-0.4l8-0.6l0.6-0.4l5.4 0l3-1l7.6 0l0.4-0.6l20.6-1l0.4-0.4l11.6 0l0.4-0.6l62 0.6l0.6 0.4l14 0.6l0.4 0.4l5.6 0l0.4 0.6l10 0.4l0.6 0.6l4.4 0l0.6 0.4l5.4 0l4 1l4.6 0l0.4 0.6l11 1l3 1l4.6 0l12.4 2.4l12.6 1.6l5 1.4l3 0l7.4 1.6l2 1l3 0l2 1l3 0l4.6 1.4l5 0.6l1.4 1l5 0.4l6 2l10.6 2l7.4 2.6l2 0l3.6 1.4l2 0l3 1.6l2.4 0l4.6 2l2 0l1.4 1l2 0l4.6 1.4l0-1.4l5-16.6l-21.6-6.4l-2 0l-5.4-2l-8-1.6l-1.6-1l-5-0.4l-10-3l-5-0.6l-2-1l-5-0.4l-7-2l-10.4-1.6l-10-2.4l-6-0.6l-3-1l-9-1l-3.6-1l-3.4 0l-3.6-1l-3.4 0l-3.6-1l-4 0l-3.4-1l-4.6 0l-4.4-1l-4.6 0l-4-1l-6 0l-0.4-0.4l-23-1.6l-0.6-0.4l-20.4-0.6l-0.6-0.4l-19 0l-0.4-0.6l-1.6 0.6l-1.4-0.6l-1.6 0.6l-2-0.6l-3 0l-0.4 0.6l-2-0.6l-1.6 0.6l-18.4 0l-0.6 0.4l-1.4-0.4l-0.6 0.4l-10.4 0l-0.6 0.6l-8 0l-0.4 0.4l-7 0l-5 1l-11.6 0.6l-0.4 0.4l-8.6 0.6l-4 1l-16.4 1.4l-3 1l-12 1.6l-5.6 1.4l-6 0.6l-4.4 1.4l-8 1l-4 1.6l-4.6 0.4l-2.4 1l-3 0l-1.6 1l-2.4 0l-1.6 1zM1330.2 658.2l5.6 16l2 3.6l8 8l15.4 10.4l2 0.6l4.6 3l1 0l17.4 8.4l22 8.6l1.6 0l3 1.4l3 0.6l1.4 1l1.6 0l3 1.4l13 3.6l5 2l14 3.4l-2-13l-1-1.4l-1.6 0l-3.4-1.6l-2 0l-1.6-1l-3.4-0.4l-1.6-1l-2 0l-21-7l-1.4 0l-8.6-3.6l-1.4 0l-1.6-1l-5.4-1.4l-2.6-1.6l-1.4 0l-2.6-1.4l-5-1.6l-3.4-2l-9-3.4l-16.6-8.6l-8.4-5.4l-6.6-5l-6.4-6.6l-3-5zM480.8 649.8l-11.6 11.4l-15.4 9.6l-8.6 3.4l-1 1l-17.4 7l-1.6 0l-4.4 2l-7.6 2.6l-1.4 0l-4 12.4l0 2l13-4l22-9l18.4-10.4l7.6-6l4-4.6zM403.8 587.8l-3 11.4l-1.6 3.6l0.6 1l1.4 0l1 1l2 0l1.6 1l7.4 2l1.6 1l12 4l1 1l1.4 0l2.6 1.4l3 0.6l4.4-14l0-1.6l-6-2l-1-1l-2.4-0.4l-1.6-1l-1.4 0l-7-3l-1.6 0l-2.4-1.6z"/>
<path fill="#d7ff00" d="M766.8 793.2l4.4 18l5-1.4l2 0l2-1l9.6-1.6l4-1.4l8-1l2.4-1l3 0l2.6-1l2.4 0l11.6-2.6l7-0.4l6-1.6l8-0.4l3.4-1l10-0.6l4-1l5.6 0l4-1l6.4 0l0.6-0.4l6.4 0l0.6-0.6l1.4 0.6l0.6-0.6l7.4 0l0.6-0.4l11 0l0.4-0.6l49 0l0.6 0.6l10.4 0l0.6 0.4l28.4 1.6l4 1l6.6 0l0.4 0.4l8.6 0.6l8 1.4l4 0l3.4 1l4 0l3 1l4.6 0l5.4 1.6l3 0l15 3l6 0.4l5 1.6l5.6 0.4l2 1l3 0l2.4 1l7 1l2 1l2.6 0l4 1.6l2 0l4.4 1.4l2.6 0l2 1l8 1.6l1.4 1l8 1.4l9 3l3.6 0.6l1.4 1l2 0l1.6 1l2 0l5 2l5-16.6l0-2l-4.6-1.4l-2 0l-1.4-1l-2 0l-1.6-1l-9-2l-3.4-1.6l-2 0l-10.6-3l-2 0l-1.4-1l-2 0l-4-1.4l-3 0l-2-1l-4.6-0.6l-1.4-1l-7.6-1l-2-1l-5-0.4l-2.4-1l-7.6-1l-8-2l-11.4-1.6l-11.6-2.4l-8-0.6l-10-2l-8.4-0.4l-0.6-0.6l-11-1l-0.4-0.4l-4.6 0l-0.4-0.6l-9.6-0.4l-0.4-0.6l-8 0l-0.6-0.4l-4.4 0l-0.6-0.6l-7 0l-0.4-0.4l-19-0.6l-0.6-0.4l-2.4 0.4l-1-0.4l-61.6 0.4l-0.4 0.6l-14.6 0.4l-0.4 0.6l-5.6 0l-0.4 0.4l-21 1.6l-0.6 0.4l-7.4 0.6l-7 1.4l-7.6 0.6l-3 1l-3.4 0l-5.6 1.4l-9 1l-2 1l-3.4 0l-2.6 1l-5 0.6l-2 1l-3 0l-8.4 2.4l-3 0l-1.6 1l-2.4 0l-1.6 1l-2 0zM1327.2 650.8l6 16.4l2.6 4l9.4 9l14 9l11.6 6l4.4 1.6l2 1.4l2.6 0.6l2 1.4l5 1.6l1 1l1.4 0l3.6 2l1.4 0l4 2l4 1l2.6 1.4l1.4 0l7.6 3l1.4 0l7.6 3l2 0l1.4 1l1.6 0l1.4 1l1.6 0l5 2l2 0l1.4 1l13.6 3.6l-2.6-14.6l-6-2l-4-0.4l-1.4-1l-3.6-0.6l-8.4-3l-1.6 0l-1.4-1l-2 0l-1.6-1l-9.4-2.4l-1-1l-1.6 0l-6-2.6l-1.4 0l-17-6.4l-6-3l-2.6-0.6l-4.4-2.4l-1 0l-1-1l-6.6-2.6l-12.4-7l-1.6-1.4l-1 0l-7-5l-9-8.6l-3.4-5.4zM484.2 642.2l-3.4 4.6l-7 6.4l-16 10l-13 5.6l-1 1l-7.6 2.4l-4 2l-14.4 4.6l-1.6 1l-2 0l-2.4 6.4l-2 8l9.4-2.4l22-8.6l16-8l8.6-5.4l9.4-8.6zM405.8 580.2l0 1.6l-4 12.4l0 2l1.4 0l3 1.6l3.6 0.4l5.4 2.6l3 0.4l1 1l4.6 1l11 5l2.4 0l4.6-15.4l-6-2l-2.6-1.6l-3-0.4l-4-2l-3-0.6l-1-1l-1.4 0l-1.6-1z"/>
<path fill="#e1ff00" d="M764.8 784.2l2 10l2.4 8.6l2-1l4.6-0.6l3-1.4l3 0l11-3l8-1l2.4-1l3 0l2.6-1l2.4 0l11.6-2.6l7-0.4l3-1l3.4 0l0.6-0.6l11.4-1l0.6-0.4l7.4-0.6l0.6-0.4l4 0l0.4-0.6l4.6 0l0.4-0.4l6.6 0l0.4-0.6l13-0.4l0.6-0.6l19.4-0.4l0.6-0.6l46.4 0l0.6 0.6l2.4-0.6l0.6 0.6l10.4 0l0.6 0.4l7.4 0l0.6 0.6l6 0l0.4 0.4l8 0l0.6 0.6l10 0.4l0.4 0.6l4.6 0l4.4 1l4.6 0l4.4 1l5.6 0l3.4 1l4 0l3.6 1l3.4 0l6.6 1.4l7 0.6l8 2l12 1.4l5 1.6l5.4 0.4l2 1l3 0l4.6 1.6l7.4 1l2 1l5 0.4l10 3l2.6 0l1.4 1l4.6 0.6l11.4 3.4l2 0l2 1l5 1l1.6 1l7.4 1.6l5 2l1.6-0.6l1-5l4-12.4l-4.6-1.6l-2 0l-1.4-1l-2 0l-1.6-1l-5.4-1l-1.6-1l-2 0l-7.4-2.4l-2 0l-8-2.6l-4-0.4l-2-1l-2.6 0l-6-2l-7.4-1l-1.6-1l-3 0l-4-1.6l-8-1l-2-1l-5.4-0.4l-7.6-2l-3 0l-11.4-2.6l-10-1l-6.6-1.4l-4.4 0l-3-1l-7.6-0.6l-3.4-1l-5 0l-0.6-0.4l-3.4 0l-4.6-1l-4 0l-0.4-0.6l-11.6-0.4l-0.4-0.6l-11.6-0.4l-0.4-0.6l-8 0l-0.6-0.4l-6 0l-0.4-0.6l-11.6 0l-0.4-0.4l-2 0.4l-1.6-0.4l-46.4 0l-0.6 0.4l-2-0.4l-0.4 0.4l-19 0.6l-0.6 0.4l-6.4 0l-0.6 0.6l-7 0l-0.4 0.4l-15.6 1l-0.4 0.6l-16.6 1.4l-3.4 1l-3.6 0l-3.4 1l-7 0.6l-5.6 1.4l-9.4 1l-2 1l-3 0l-7.6 1.6l-2 1l-3 0l-4 1.4l-5.4 0.6l-3.6 1.4l-5 0.6l-1.4 1zM1324.8 643.8l6 17l2.4 3.4l8.6 8l12.4 8.6l16.6 8.4l9 3.6l3.4 2l5 1.4l2.6 1.6l1.4 0l2.6 1.4l5.4 1.6l1.6 1l1.4 0l8.6 3.4l1.4 0l9.6 3.6l1.4 0l1.6 1l3.4 0.4l6.6 2.6l5.4 1l1.6 1l2 0l3.4 1.4l3 0.6l0-3l-0.4-0.6l-1.6-11l-12.4-3l-1.6-1l-2 0l-6.4-2.4l-8.6-2l-1.4-1l-3-0.6l-12-4.4l-1.6 0l-8-3.6l-1.4 0l-6.6-3l-2.4-0.4l-17.6-7.6l-1-1l-11.4-5.4l-10.6-6.6l-8-6.4l-4.4-4.6l-3.6-5.4zM487.2 635.8l-8.4 9l-8.6 6l-11.4 6.4l-26.6 11l-1.4 0l-4.6 2l-10 3l-4.4 14l2.4 0l9-3.4l4.6-1l17.4-7l1-1l8.6-3.6l12-7l6-4.4l6.4-6.6zM407.8 573.2l-4 15.6l11 3l2.4 1.4l1.6 0l7 3l5.4 1.6l1 1l5 2l2.6-0.6l2-8l1.4-3.4l0.6-3.6l-19.6-7.4l-1.4 0l-1.6-1l-13-4z"/>
<path fill="#eaff00" d="M762.8 775.8l4 18l5.4-1l1.6-1l2.4 0l1.6-1l7.4-1l4-1.6l3 0l2-1l2.6 0l5-1.4l3.4 0l5-1.6l3.6 0l8-2l7-0.4l3-1l5 0l6-1.6l4 0l4-1l1.4 0.6l0.6-0.6l4 0l4.4-1l12-0.4l5-1l1.6 0.4l0.4-0.4l6 0l0.6-0.6l20.4-0.4l0.6-0.6l45 0l0.4 0.6l2.6 0l0.4-0.6l0.6 0.6l26.4 1l0.6 0.4l4.4 0l0.6 0.6l8 0l4 1l1.4-0.6l3.6 1l5 0l0.4 0.6l9 0.4l3.6 1l8.4 0.6l3 1l11 1l3.6 1l9 1l3 1l3 0l8 2l3 0l5.4 1.4l2.6 0l2 1l3 0l2.4 1l5 0.6l2 1l7.6 1l1.4 1l4.6 0.4l4 1.6l3 0l2 1l2 0l1.4 1l2 0l12 3.4l2 0l5.6 2l5.4 1l1.6 1l2 0l1.4 1l2 0l5 2l1-1l3.6-13.4l1-2l0-2l-4-0.6l-1.6-1l-10.4-2.4l-1.6-1l-4-0.6l-2-1l-2 0l-5.4-2l-10.6-2l-1.4-1l-2.6 0l-4-1.4l-5-0.6l-1.4-1l-10-1.4l-4-1.6l-7.6-1l-2.4-1l-2.6 0l-8-2l-6-0.4l-21-4l-3.4 0l-10-2l-12.6-1l-4-1l-19-1.6l-5-1l-29.4-1.4l-0.6-0.6l-14 0l-0.4-0.4l-43.6 0l-0.4 0.4l-3 0l-1.6-0.4l-0.4 0.4l-19 0.6l-0.6 0.4l-7 0l-0.4 0.6l-16 1l-0.6 0.4l-6 0l-0.4 0.6l-4 0l-4 1l-9 0.4l-7 1.6l-7 0.4l-12.6 2.6l-3.4 0l-2 1l-3 0l-6.6 2l-6.4 0.4l-2 1l-5.6 0.6l-6.4 2l-2.6 0zM1322.2 636.8l6 17l2.6 3.4l8.4 8l7 5l1 0l1.6 1.6l6 3.4l19.4 9.6l2.6 0.4l6 3l17 6.6l1.4 0l1.6 1l6 1.4l1 1l6.4 1.6l4.6 2l2 0l1.4 1l13.6 3.4l1.4 1l4 0.6l5 2l2 0l-1.4-12l-1-2.6l-9-2l-1.6-1l-14-3.4l-1.4-1l-1.6 0l-14.4-5l-1.6 0l-4-2l-1.4 0l-8.6-3l-8-3.6l-2.4-0.4l-9.6-4.6l-2.4-0.4l-2-1.6l-1 0l-12.6-6l-16-10l-9-8zM490.8 628.2l-9 9.6l-14.6 9.4l-11 5.6l-3.4 1l-1 1l-2.6 0.4l-5 2.6l-4 1l-1 1l-1.4 0l-3 1.4l-16.6 5l-4 12.6l0 1.4l3 0l1.6-1l6-1.4l1.4-1l7-2l4-2l7.6-2.6l1-1l13-5.4l11-6.6l8.4-6.4l5-5.6l0-1l7.6-15zM410.2 565.2l-4.4 16l3.4 0.6l1 1l2 0l3 1.4l6 1.6l1 1l3 0.4l4 2l3 0.6l5 2.4l4.6 1l4.4-15.4l-3.4-1.6l-1.6 0l-5-2.4l-1.4 0l-1.6-1l-5.4-1.6l-1.6-1l-1.4 0l-1.6-1l-4.4-1.4l-2 0z"/>
<path fill="#f4ff00" d="M760.8 766.8l0 2l4 16l6.4-1l1.6-1l2.4 0l3.6-1.6l5.4-0.4l2-1l5-0.6l2-1l5-1l3.6 0l2.4-1l12-1.4l5.6-1.6l7-0.4l2.4-1l4.6 0l4-1l8-0.6l0.4-0.4l8-0.6l0.6-0.4l8-0.6l0.4-0.4l20-1l0.6-0.6l1.4 0.6l0.6-0.6l8 0l0.4-0.4l11 0l0.6-0.6l44.4 0l0.6 0.6l12.4 0l0.6 0.4l17 0.6l0.4 0.4l6 0l0.6 0.6l5 0l0.4 0.4l6 0l4 1l1.6-0.4l4 1l4.4 0l4.6 1l5 0l3.4 1l7.6 0.4l3 1l4.4 0l6.6 1.6l3 0l2.4 1l7 0.4l19.6 4l5.4 0.6l2 1l8 1l4 1.4l3 0l1.6 1l7.4 1l6 2l2.6 0l2 1l4 0.6l9.4 3l6 1l3.6 1.4l7.4 1.6l1.6 1l2 0l1.4 1l2 0l3.6 1.4l2-0.4l4.4-17l-6-2l-2 0l-1.4-1l-2 0l-1.6-1l-5.4-1l-5.6-2l-2 0l-14-4l-2 0l-2-1l-2.4 0l-4-1.6l-5-0.4l-1.6-1l-9.4-1.6l-2-1l-7.6-1.4l-3 0l-2.4-1l-2.6 0l-19-4l-3 0l-9-2l-17.4-2l-3.6-1l-13-1l-0.4-0.6l-3.6 0l-4.4-1l-28-2l-0.6-0.4l-6 0l-0.4-0.6l-7 0l-0.6-0.4l-11 0l-0.4-0.6l-1.6 0.6l-0.4-0.6l-17.6 0l-0.4-0.4l-20 0l-0.6 0.4l-29 0.6l-0.4 0.4l-8 0l-0.6 0.6l-18.4 1l-0.6 0.4l-9.4 0.6l-0.6 0.4l-25 2.6l-3 1l-12.4 1.4l-3 1l-3.6 0l-2.4 1l-15.6 2.6l-4 1.4l-2.4 0l-5 1.6l-3 0l-2 1zM1319.2 628.8l6 17l3 4.4l8 7.6l11 7.4l9 5l6 2.6l1 1l17.6 7.4l2.4 0.6l6.6 3l1.4 0l2.6 1.4l13 4l1.4 1l1.6 0l3 1.6l3 0.4l1.4 1l3.6 0.6l1.4 1l3.6 0.4l6.4 2.6l2 0l1.6 1l7.4 1.4l6 2l-2-14.4l-3.4-0.6l-3.6-1.4l-2 0l-1.4-1l-5.6-1l-8.4-3l-3.6-0.6l-1.4-1l-3.6-0.4l-6-2.6l-1.4 0l-1.6-1l-1.4 0l-7.6-3l-1.4 0l-4-2l-3-0.4l-6.6-3l-9-3l-3.4-2l-10-4l-16-8.6l-9-6l-9.6-8.4l-3.4-4.6l-1-2.4zM494.2 621.2l-10.4 10.6l-15 9.4l-1 0l-5 3l-18 7.6l-12.6 4.4l-1.4 0l-1.6 1l-1.4 0l-7.6 2.6l-1.4 6l-2.6 6.4l0 1.6l5-1l1.6-1l3-0.6l6-2.4l1.4 0l4-2l9-3l3.6-2l10-4l16-9.6l4-3l6-6zM412.2 558.2l-4.4 15.6l1.4 0l11 3.4l1.6 1l1.4 0l19 7.6l2-0.6l4-13l-0.4-2l-7.6-2.4l-2.4-1.6l-1.6 0l-1.4-1l-4-1l-1.6-1l-1.4 0l-7.6-3l-2 0l-1.4-1z"/>
<path fill="#fdff00" d="M758.8 759.2l4 17l5-1l1.4-1l5-0.4l8-2.6l5.6-0.4l2-1l6.4-0.6l6.6-2l3 0l6-1.4l9.4-1l2.6-1l8-0.6l3.4-1l11.6-1l0.4-0.4l7.6-0.6l0.4-0.4l6 0l0.6-0.6l5.4 0l0.6-0.4l11-0.6l0.4-0.4l8 0l0.6-0.6l8 0l0.4-0.4l13.6 0l0.4-0.6l41.6 0l0.4 0.6l22 0.4l0.6 0.6l6 0l0.4 0.4l15 0.6l4 1l5.6 0l4.4 1l10 0.4l4 1l4 0l7.6 1.6l7.4 0.4l3.6 1l6.4 0.6l3 1l6.6 0.4l8.4 2l3 0l2.6 1l3 0l5 1l2 1l3 0l2 1l3.4 0l6.6 2l10 1.6l1.4 1l5 0.4l4 1.6l2.6 0l1.4 1l4.6 0.4l3.4 1.6l2.6 0l2 1l18.4 4.4l1.6 1l2 0l3 1.6l4.4 1l1-1l1.6-7l2.4-7.6l0-1.4l-4-0.6l-3.4-1.4l-5-1l-1.6-1l-5.4-1l-2-1l-2 0l-3.6-1.6l-2 0l-10.4-3l-4.6-0.4l-2-1l-4-0.6l-8.4-2.4l-3 0l-2-1l-2.6 0l-2.4-1l-5-0.6l-6.6-2l-8.4-1l-5-1.4l-3 0l-3-1l-3 0l-5.6-1.6l-3.4 0l-3-1l-3 0l-10-2l-3.6 0l-7.4-1.4l-4.6 0l-3.4-1l-4.6 0l-0.4-0.6l-9-0.4l-0.6-0.6l-9-0.4l-0.4-0.6l-5 0l-0.6-0.4l-5 0l-0.4-0.6l-7.6 0l-0.4-0.4l-15.6-0.6l-0.4-0.4l-64-0.6l-0.6 0.6l-12 0l-0.4 0.4l-21.6 1l-0.4 0.6l-9.6 0.4l-0.4 0.6l-6.6 0l-4 1l-24 2.4l-3 1l-3.4 0l-0.6 0.6l-17.4 2.4l-5 1.6l-5.6 0.4l-7 2l-2.4 0l-4.6 1.6l-3 0l-2 1l-2.4 0l-2 1zM1317.2 623.2l5.6 15.6l4 5.4l8.4 7.6l16 10l3 1l5 3l5.6 2l2 1.4l2.4 0.6l9.6 4.4l2.4 0.6l13.6 5.4l4.4 1l4 2l1.6 0l9.4 3.6l6.6 1.4l1.4 1l26 7l-2-13.4l-5-1.6l-2 0l-1.4-1l-2 0l-3.6-1.4l-2 0l-3-1.6l-2 0l-5-2l-14.4-4l-1.6-1l-1.4 0l-16-5.4l-25-10l-11.6-5.6l-1-1l-1 0l-13.4-8l-9-7zM497.8 613.8l-0.6 0l-2 3.4l-6.4 6.6l-4.6 3.4l-10.4 6.6l-1 0l-1 1l-12.6 6l-16.4 6.4l-1.6 0l-1.4 1l-15 5l-2 0l-1 1.6l-0.6 3l-2.4 6.4l0 2.6l1.4 0l15.6-5l3-1.6l1.4 0l1-1l11.6-4l1-1l3.4-1l11-5.4l10.6-6.6l4-3l7-7zM413.8 552.2l-2 8.6l-1.6 3.4l0 2l4 1l1.6 1l2 0l6 2.6l1.4 0l8.6 3.4l1.4 0l9 4l2 0l4-12.4l-0.4-2l-8.6-3.6l-1.4 0l-1.6-1l-8.4-2.4l-1.6-1l-2 0l-4.4-2l-4.6-1l-1.4-1z"/>
<path fill="#fff800" d="M756.8 751.2l4 16.6l7-1.6l2-1l5-0.4l4.4-1.6l5-0.4l4-1.6l5.6-0.4l7.4-2l2.6 0l6.4-1.6l3.6 0l5.4-1.4l3.6 0l0.4-0.6l10.6-1l7.4-1.4l4 0l4-1l4 0l0.6-0.6l5 0l0.4-0.4l9.6-0.6l0.4-0.4l14.6-0.6l0.4-0.4l19.6-0.6l0.4-0.4l52.6 0l0.4 0.4l9.6 0l0.4 0.6l2-0.6l0.6 0.6l5.4 0l0.6 0.4l8.4 0l0.6 0.6l4.4 0l0.6 0.4l7.4 0l4.6 1l6 0l4.4 1l13.6 1l7.4 1.6l4 0l10.6 2l4 0l2.4 1l3.6 0l5.4 1.4l9.6 1l2.4 1l3 0l8 2l2.6 0l2.4 1l3 0l7.6 1.6l4.4 1.4l5 0.6l3.6 1.4l5 0.6l4 1.4l2.4 0l2 1l4 0.6l1.6 1l6.4 1l2 1l4 0.4l5.6 2l3.4 0.6l1.6 1l4 0.4l1.4 1l2 0l5 2l2 0l4-14l0-2l-12-3.4l-7.4-1.6l-5.6-2l-2 0l-4-1.4l-12-2.6l-2-1l-2.4 0l-4-1.4l-7.6-1l-3.4-1.6l-3 0l-2-1l-2.6 0l-10-2.4l-3 0l-2-1l-2.4 0l-5.6-1.6l-3 0l-2.4-1l-9-1l-3-1l-3.6 0l-2.4-1l-6.6-0.4l-3.4-1l-4 0l-6.6-1.6l-5 0l-0.4-0.4l-6.6-0.6l-0.4-0.4l-13.6-1l-4.4-1l-6 0l-0.6-0.6l-17.4-1l-0.6-0.4l-17-0.6l-0.4-0.4l-54-0.6l-0.6 0.6l-26.4 0.4l-0.6 0.6l-6 0l-0.4 0.4l-1.6-0.4l-5 1l-17.4 1l-0.6 0.4l-13 1l-4.4 1l-4 0l-3.6 1l-3.4 0l-10 2l-3 0l-3 1l-6.6 0.6l-2.4 1l-3 0l-2.6 1l-5.4 0.4l-2 1l-3 0l-2 1l-5 0.6l-4 1.4l-6 0.6l-1.6 1zM1314.8 616.2l5 14.6l4 6l6.4 6l6 4.4l13.6 8l21.4 10l9 3l6.6 3l3 0.6l4 2l1.4 0l1.6 1l7.4 2l9 3.4l3.6 0.6l1.4 1l15.6 4l1.4 1l4 0.4l3.6 1.6l4.4 0.4l-2-12.4l-10-3l-5.4-1l-2-1l-3.6-0.6l-6.4-2.4l-5-1l-18.6-6l-5.4-2.6l-1.6 0l-1.4-1l-3-0.4l-1-1l-5.6-1.6l-23.4-10l-10.6-6l-1 0l-13-8.4l-8-7l-2.4-3l-2.6-4.6zM500.2 608.2l-9.4 10l-12 8l-23.6 11l-2.4 0.6l-5.6 2.4l-1.4 0l-5.6 2.6l-4.4 1l-1.6 1l-10 2.4l-3 9l-0.4 4l1.4 0l1.6-1l1.4 0l6.6-2.4l4.4-1l19.6-7.6l7-3.4l1 0l1-1l2-0.6l10-5.4l10.4-7.6l5-5zM415.8 545.2l-2 8.6l-1.6 3.4l0 2l3.6 0.6l1.4 1l2 0l1.6 1l7.4 2l19 7.4l1.6-0.4l3.4-11.6l0-2l-13-5l-6-1.4l-1.4-1l-8-2l-4.6-2z"/>
<path fill="#ffee00" d="M755.2 743.8l3.6 16l6-1l2.4-1l2.6 0l3.4-1.6l3 0l4.6-1.4l2.4 0l4.6-1.6l5.4-0.4l5-1.6l3 0l2.6-1l6.4-0.4l3-1l3 0l13-2.6l4.6 0l0.4-0.4l15-1.6l0.6-0.4l4 0l0.4-0.6l5.6 0l0.4-0.4l16.6-1l0.4-0.6l1.6 0.6l0.4-0.6l6 0l0.6-0.4l22.4-0.6l0.6-0.4l44 0l0.4 0.4l12.6 0l0.4 0.6l7.6 0l0.4 0.4l7 0l0.6 0.6l9 0l0.4 0.4l5 0l4 1l1.6-0.4l4.4 1l19.6 1.4l7 1.6l4.4 0l0.6 0.4l7 0.6l6.4 1.4l6.6 0.6l3 1l12 1.4l5 1.6l11.4 1.4l2 1l3 0l4.6 1.6l10 1.4l2 1l3 0l4.4 1.6l2 0l3.6 1.4l2.4 0l2 1l6.6 1l1.4 1l2.6 0l1.4 1l2.6 0l3.4 1.6l6 1l1.6 1l7.4 1.4l11.6 3.6l1-1l2-9l2-6l-1.6 0l-5-2l-2 0l-1.4-1l-2 0l-1.6-1l-7.4-1.6l-3.6-1.4l-4.4-0.6l-12-3.4l-2 0l-2-1l-2 0l-16-4l-2.6 0l-2-1l-8-1l-1.4-1l-3 0l-2.6-1l-2.4 0l-2.6-1l-2.4 0l-11-2.6l-3.6 0l-5.4-1.4l-9.6-1l-6.4-1.6l-3.6 0l-3.4-1l-16-1.4l-0.6-0.6l-7.4-0.4l-0.6-0.6l-4 0l-0.4-0.4l-4 0l-0.6-0.6l-5.4 0l-0.6-0.4l-17-1l-0.4-0.6l-6.6 0l-0.4-0.4l-17.6-0.6l-0.4-0.4l-13.6 0l-0.4-0.6l-2 0.6l-2-0.6l-48 0.6l-0.6 0.4l-10 0l-0.4 0.6l-7 0l-0.6 0.4l-6 0l-0.4 0.6l-4.6 0l-0.4 0.4l-18 1l-4 1l-13 1l-3.6 1l-14 1.6l-2.4 1l-12 1.4l-2.6 1l-3.4 0l-3 1l-2.6 0l-1.4 1l-3 0l-2 1l-5.6 0.6l-4.4 1.4l-2.6 0l-2 1l-5 0.6l-3.4 1.4zM1312.8 610.8l5 14.4l5 6.6l11 9l13.4 8l1 0l1 1l11.6 5.4l9.4 3.6l1 1l2.6 0.4l17.4 7l1.6 0l1.4 1l17 5.6l1.6 0l1.4 1l5 1l6.6 2.4l2 0l1.4 1l7.6 1.6l3 1.4l6.4 1l-1.4-11.4l-1-1.6l-2 0l-7.6-2.4l-3.4-0.6l-1.6-1l-5.4-1l-23-7.4l-1.6 0l-23-8l-3.4-2l-1.6 0l-6-3l-2.4-0.6l-1-1l-6-2l-1-1l-5.6-2l-1-1l-1 0l-18-10.4l-6.4-5l-7-7zM503.2 601.8l-3.4 4.4l-6.6 6l-6.4 4.6l-10.6 6l-23 10l-5.4 1.4l-1.6 1l-1.4 0l-4.6 2l-1.4 0l-1.6 1l-1.4 0l-4.6 2l-5 1l-1.4 3.6l-2.6 9.4l3.6-0.4l15-5l1.4-1l1.6 0l16.4-6.6l12.6-6l1-1l1 0l7.4-4.4l7.6-5.6l6-6zM417.8 538.8l-4 13.4l7 2l4.4 2l2 0l11.6 4.6l1.4 0l9 4l1.6-0.6l0.4-3l2.6-6.4l0.4-4l-8.4-3.6l-1.6 0l-1.4-1l-7-2l-1.6-1l-2 0l-4.4-2z"/>
<path fill="#ffe500" d="M753.2 735.8l4 16.4l4.6-1.4l7-1l2-1l3 0l4-1.6l2.4 0l4.6-1.4l3 0l2-1l5.4-0.6l2.6-1l3 0l9.4-2l16.6-2l3-1l12.4-1l3.6-1l5 0l0.4-0.4l4.6 0l0.4-0.6l4.6 0l0.4-0.4l4.6 0l0.4-0.6l6 0l0.6-0.4l6 0l0.4-0.6l9.6 0l0.4-0.4l9.6 0l0.4-0.6l53-0.4l0.6 0.4l10.4 0l0.6 0.6l25 1l0.4 0.4l4.6 0l0.4 0.6l16.6 1l4.4 1l9.6 0.4l3 1l9.4 0.6l3 1l10.6 1l3 1l12.4 1.4l3 1l3.6 0l5.4 1.6l3 0l5.6 1.4l2.4 0l2 1l3 0l10 2.6l2.6 0l2 1l3 0l1.4 1l9 2l2.6 0l2 1l2.4 0l2 1l4 0.4l1.6 1l6.4 1l2 1l4 0.6l5.6 2l7.4 1.4l6.6 2.6l2.4 0l3.6 1.4l1-1l4-15l-3-0.4l-4.6-2l-2 0l-1.4-1l-2 0l-11.6-3.6l-2 0l-3.4-1.4l-2.6 0l-2-1l-10.4-2l-8-2.6l-3 0l-8.6-2.4l-8-1l-1.4-1l-8-1l-2.6-1l-2.4 0l-2.6-1l-5.4-0.6l-5.6-1.4l-9-1l-3-1l-9.4-1l-10-2l-19.6-2l-3.4-1l-6 0l-3.6-1l-5.4 0l-5-1l-12-0.6l-0.6-0.4l-5.4 0l-0.6-0.6l-15-0.4l-0.4-0.6l-11.6 0l-0.4-0.4l-17 0l-0.6-0.6l-2.4 0l-0.6 0.6l-0.4-0.6l-16.6 0l-2 0.6l-2-0.6l-0.4 0.6l-28.6 0.4l-0.4 0.6l-7 0l-0.6 0.4l-1.4-0.4l-0.6 0.4l-5.4 0l-0.6 0.6l-6.4 0l-4.6 1l-7 0l-3.4 1l-1.6-0.6l-4.4 1l-13 1l-3.6 1l-3.4 0l-10.6 2l-3 0l-2.4 1l-6.6 0.6l-2.4 1l-3 0l-2 1l-4 0l-1.6 1l-6 0.4l-2 1l-2.4 0l-7.6 2l-3 0l-2 1l-2 0l-8.4 2.6zM1309.8 602.8l5.4 15.4l2 3.6l4 4.4l6 5l13 8.6l1 0l10.6 6l23.4 10l5.6 1.4l1 1l1.4 0l10 4l18.6 6l5 1l6.4 2.6l9 2l1.6 1l4 0.4l3.4 1.6l4 0.4l-2-13l-11.4-2.4l-1.6-1l-12.4-3l-3-1.6l-5.6-1l-7.4-3l-2 0l-1.6-1l-7.4-2l-2.6-1.4l-1.4 0l-3-1.6l-8.6-2.4l-24-10l-5.4-3l-1 0l-6.6-4l-1 0l-10.4-6.6l-6.6-5l-6.4-6.4l-3.6-6zM505.8 596.2l-10 10l-12.6 8l-23 10.6l-8 2.4l-4 2l-6 1.6l-1.4 1l-1.6 0l-3.4 1.4l-3 0.6l-1.6 1l-3 0.4l-3.4 9.6l-0.6 3l2.6 0l7-2.6l1.4 0l1.6-1l3-0.4l7-3l1.4 0l1.6-1l6.4-2l11.6-5l17-9l7-5l7-7l7-14.6zM419.2 532.8l-3.4 13l22.4 7l12.6 5l2 0l2.4-9.6l1-1.4l0-2.6l-0.4-0.4l-6.6-2l-1.4-1l-1.6 0l-4-2l-4.4-1l-1.6-1l-9.4-2.6l-1.6-1l-2 0l-2.4-1z"/>
<path fill="#ffdb00" d="M751.8 728.2l0 2l1.4 4.6l2 10l7-2l2 0l1.6-1l2.4 0l2-1l12.6-2l2-1l3 0l1.4-1l12.6-1.6l2-1l10-1l2.4-1l2.6 0l3.4-1l8-0.4l0.6-0.6l10.4-1l0.6-0.4l9.4-0.6l4-1l1.6 0.6l4.4-1l6.6 0l0.4-0.6l4.6 0l0.4-0.4l25-1l0.6-0.6l2 0.6l0.4-0.6l12.6 0l0.4-0.4l1 0.4l2.6-0.4l0.4 0.4l1.6-0.4l16 0l0.4 0.4l1.6-0.4l3 0.4l0.4-0.4l2 0.4l0.6-0.4l0.4 0.4l26.6 0.6l0.4 0.4l15.6 0.6l0.4 0.4l12 0.6l0.6 0.4l4.4 0l0.6 0.6l5.4 0l0.6 0.4l13 1l4 1l4 0l3.4 1l8.6 0.6l16 3l3.4 0l3 1l3 0l3 1l6 0.4l2.6 1l8.4 1l9.6 2.6l10.4 1.4l2 1l9.6 1.6l6 2l2.4 0l2 1l4.6 0.4l10 2.6l3.4 1.4l4.6 0.6l23.4 7l4.6-15l0-1.6l-1.6-0.4l-2.4 0l-3.6-1.6l-7.4-1.4l-1.6-1l-9.4-2l-5.6-2l-2.4 0l-4-1.6l-6.6-1l-2-1l-6.4-1l-6.6-2l-7.4-1l-1.6-1l-3 0l-2-1l-7.4-1.4l-3 0l-5.6-1.6l-2.4 0l-2-1l-3 0l-3-1l-8.6-1l-3-1l-3 0l-0.4-0.4l-12.6-1.6l-3.4-1l-7.6-0.4l-3.4-1l-4 0l-0.6-0.6l-12.4-1l-0.6-0.4l-8-0.6l-0.4-0.4l-23-1.6l-0.6-0.4l-4.4 0l-0.6-0.6l-28.4-1l-0.6-0.4l-3 0l-0.4 0.4l-1-0.4l-45.6 0l-0.4 0.4l-2.6-0.4l-0.4 0.4l-22 0.6l-0.6 0.4l-5.4 0l-0.6 0.6l-7.4 0l-3.6 1l-1.4-0.6l-5 1l-0.6-0.4l-6.4 0.4l-0.6 0.6l-4 0l-0.4 0.4l-20 2l-6 1.6l-3.6 0l-16 3l-3 0l-2.4 1l-8 1.4l-3 0l-2 1l-5 0.6l-5 1.4l-3 0l-2 1l-2.6 0l-1.4 1zM1307.8 597.2l5.4 15.6l2 3l6.6 6.4l6.4 5l17 10l13 6l2.6 0.6l1 1l2.4 0.4l6 3l1.6 0l3.4 2l5.6 1.6l7 3l1.4 0l9 3.4l1.6 0l24.4 8l2 0l1.6 1l16.4 4l-1-9.4l-1-3.6l-5.4-1l-5.6-2l-3.4-0.4l-1.6-1l-2 0l-2-1l-7-1.6l-1.4-1l-5-1l-3-1.4l-5-1l-1.6-1l-1.4 0l-27.6-9.6l-21.4-9l-1-1l-16.6-8l-7-4.4l-6-4.6l-7-7l-3-5zM509.2 589.2l-8 8.6l-4.4 3.4l-10.6 6.6l-11 5.4l-18.4 7.6l-27 8.4l-3.6 11l0 1.6l6-1l28.6-10l11.4-5.6l1 0l14.6-8l6.4-4.4l6-5.6l1.6-2zM421.2 525.8l-3.4 13.4l7.4 2.6l1.6 0l4.4 2l2 0l19.6 7.4l2 0l3.4-11.4l-0.4-2.6l-6.6-2l-5.4-2.4l-10.6-3l-3-1.6l-3.4-0.4l-1.6-1l-2 0l-3-1.6z"/>
<path fill="#ffd200" d="M749.8 720.8l3.4 14l0 2l1.6 0l6.4-2l2 0l2-1l2 0l2-1l3 0l2.6-1l7.4-1l2-1l11.6-1.6l2-1l3 0l2.4-1l4 0l3-1l6-0.4l6-1.6l4 0l3.6-1l22-2l4.4-1l1.6 0.6l0.4-0.6l4 0l4.6-1l16-0.4l0.4-0.6l6.6 0l0.4-0.4l0.6 0.4l1.4-0.4l8.6 0l0.4-0.6l1.6 0.6l0.4-0.6l26 0l0.6-0.4l0.4 0.4l25 0l0.6 0.6l2-0.6l0.4 0.6l9.6 0l0.4 0.4l9.6 0l0.4 0.6l5.6 0l0.4 0.4l7 0l0.6 0.6l6 0l0.4 0.4l5.6 0l0.4 0.6l9 0.4l4.6 1l4.4 0l0.6 0.6l7.4 0.4l4.6 1l4.4 0l3 1l8 0.6l0.6 0.4l9.4 1l9 2l3 0l2.6 1l11.4 1.6l2.6 1l5.4 0.4l4.6 1.6l3.4 0l4 1.4l8 1l4 1.6l9.6 1.4l6 2l6.4 1l9.6 3l2 0l2 1l2 0l4 1.6l5.4 1l5.6 2l2 0l5 2l2 0l3.4-14l1-2l-5.4-1l-3.6-1.6l-2 0l-1.4-1l-4-0.4l-2-1l-3.6-0.6l-4-1.4l-2 0l-4-1.6l-12.4-2.4l-2-1l-4.6-0.6l-4-1.4l-3 0l-2.4-1l-4.6-0.6l-1.4-1l-2.6 0l-2.4-1l-2.6 0l-2-1l-7.4-1l-8-2l-5.6-0.4l-2.4-1l-6.6-0.6l-8.4-2l-3 0l-6.6-1.4l-3.4 0l-3-1l-15-1.6l-7.6-1.4l-4 0l-0.4-0.6l-4 0l-5-1l-5 0l-4.6-1l-11-0.4l-0.4-0.6l-14-0.4l-0.6-0.6l-6.4 0l-0.6-0.4l-9 0l-0.4-0.6l-58.6-0.4l-0.4 0.4l-14.6 0l-0.4 0.6l-16.6 0.4l-0.4 0.6l-6.6 0l-0.4 0.4l-9.6 0.6l-0.4 0.4l-2-0.4l-4.6 1l-4.4 0l-0.6 0.4l-4.4 0l-4.6 1l-12 1l-0.4 0.6l-6.6 0.4l-2.4 1l-1.6-0.4l-6 1.4l-3.4 0l-8 2l-3.6 0l-5 1.6l-3.4 0l-6.6 2l-3 0l-2.4 1l-10 1.4l-2 1l-2 0zM1305.8 591.8l5 14l2.4 4l6 6l6.6 5l18 10.4l1 0l17 8l7.4 2.6l9 4l4.6 1l4 2l1.4 0l1.6 1l6 1.4l3 1.6l2 0l7.4 3l5.6 1l1.4 1l3 0.4l3.6 1.6l2 0l2 1l3.4 0.4l1.6 1l4 0.6l3.4 1.4l5.6 1l-0.6-0.4l-1.4-12.6l-1.6 0l-3.4-1.4l-2 0l-2-1l-2 0l-1.6-1l-5.4-1l-3.6-1.6l-4-0.4l-3-1.6l-3.4-0.4l-11.6-4l-1.4 0l-1.6-1l-3-0.6l-9-3.4l-1.4 0l-8.6-3.6l-1.4 0l-26.6-11l-6-3.4l-6-2.6l-13.4-8.4l-4.6-3.6l-6-6l-2.4-4zM512.8 581.8l-0.6 0l-2 3.4l-9 8.6l-16.4 10l-1 0l-7.6 4l-19 7.4l-3 0.6l-1.4 1l-3 0.4l-3 1.6l-3 0.4l-10 3.6l-2 0l-3.6 11l0 2l4-0.6l3-1.4l6.6-1.6l1.4-1l6-1.4l4-2l8-2.6l14-6l15-8l6.6-4.4l7-6.6l2-3l0-1zM423.2 518.8l-4 14l5 1l1.6 1l3 0.4l5 2l1.4 0l1.6 1l4.4 1l12.6 5l3 0.6l1-4.6l2.4-6.4l0-2.6l-0.4-0.4l-25.6-9l-3.4-0.6l-1.6-1l-2 0l-1.4-1z"/>
<path fill="#ffc800" d="M748.2 712.8l0 2.4l3.6 14l6.4-2l7-1l2-1l2.6 0l4.4-1.4l7.6-1l2-1l6-0.6l7.4-2l3 0l6.6-1.4l3.4 0l2.6-1l4 0l6-1.6l8.4-0.4l2.6-1l14-1l4.4-1l12-0.6l3.6-1l16.4-0.4l0.6-0.6l8 0l0.4-0.4l13.6 0l0.4-0.6l43.6 0l0.4 0.6l4-0.6l0.6 0.6l11 0l0.4 0.4l7.6 0l0.4 0.6l7.6 0l0.4 0.4l24.6 1.6l0.4 0.4l9 0.6l0.6 0.4l12.4 1l4.6 1l4 0l3.4 1l10.6 1l3 1l3.4 0l3 1l3.6 0l3 1l3 0l0.4 0.6l5.6 0.4l2.4 1l3 0l5.6 1.6l5.4 0.4l5 1.6l3 0l4.6 1.4l5.4 0.6l1.6 1l2.4 0l11.6 3l2.4 0l3.6 1.4l9 1.6l7.4 2.4l2.6 0l5.4 2l6 1l1.6 1l4 0.6l12 3.4l1-3l0.4-3.4l3-9.6l-3-1l-2 0l-3.4-1.4l-2 0l-1.6-1l-4-0.6l-1.4-1l-6-1l-16.6-4.4l-2 0l-6-2l-2.4 0l-8.6-2.6l-10-1.4l-2-1l-3 0l-1.4-1l-5-0.6l-5-1.4l-3 0l-5-1.6l-12-1.4l-2-1l-6.6-0.6l-3-1l-3.4 0l-16-3l-8-0.4l-3.6-1l-8-0.6l-4-1l-10-0.4l-0.4-0.6l-20-1.4l-0.6-0.6l-22-1l-0.4-0.4l-9.6 0l-0.4-0.6l-17 0l-0.6-0.4l-2 0.4l-0.4-0.4l-27.6 0l-0.4 0.4l-0.6-0.4l-4 0l-0.4 0.4l-14 0l-0.6 0.6l-18.4 0.4l-0.6 0.6l-11.4 0.4l-0.6 0.6l-5 0l-0.4 0.4l-7 0l-0.6 0.6l-4 0l-4 1l-4.4 0l-0.6 0.4l-9 0.6l-3.4 1l-4 0l-9.6 2l-16 2l-2 1l-10 1l-1 1l-4 0l-1.4 1l-2.6 0l-5.4 1.4l-3 0l-2 1l-2.6 0l-2 1l-4.4 0.6zM1302.8 583.8l5.4 15.4l2.6 4l6.4 6.6l13 9l22 11l28 11l16.6 5.4l1.4 0l1.6 1l5 1l3 1.6l5 1l1.4 1l28.6 7.4l-2-13l-5-1.4l-2 0l-3-1.6l-2 0l-4-1.4l-3.6-0.6l-15.4-5l-3.6-0.4l-6-2.6l-1.4 0l-1.6-1l-1.4 0l-18-6l-14.6-6l-2.4-0.4l-2.6-1.6l-2.4-0.4l-18-8.6l-16.6-10l-10-9l-3-4l-1-2.4zM515.2 576.2l-3.4 4.6l-8 7l-6 4l-14 7.4l-23.6 9.6l-1.4 0l-1.6 1l-9 3l-1.4 0l-4.6 2l-8.4 2l-3.6 10.4l0 2.6l14.6-4l1.4-1l7.6-2l8-3.6l6.4-2l23.6-11.4l10.4-7.6l5-5zM425.2 512.2l-4 13.6l3 1.4l2 0l1.6 1l3.4 0.6l3 1.4l3 0.6l1.6 1l1.4 0l10 4l5.6 1.4l1.4 1l1.6 0l3.4-11l0-3l-6.4-2l-2.6-1.4l-9.4-2.6l-1-1l-2 0l-4.6-2l-3.4-0.4l-1.6-1l-2 0l-1-1z"/>
<path fill="#ffbe00" d="M746.2 705.2l3.6 16l6-1l4-1.4l5-0.6l2-1l7-1l2.4-1l3 0l6.6-2l3.4 0l5-1.4l3.6 0l2.4-1l4 0l5.6-1.6l4 0l6.4-1.4l10.6-1l4-1l4.4 0l3.6-1l16-1l0.4-0.6l5 0l0.6-0.4l6 0l0.4-0.6l13.6-0.4l0.4-0.6l11.6 0l0.4-0.4l10.6 0l0.4-0.6l4.6 0l0.4 0.6l1.6-0.6l31.4 0l0.6 0.6l16.4 0l0.6 0.4l17.4 0.6l0.6 0.4l6 0l0.4 0.6l13 0.4l4.6 1l1.4-0.4l3.6 1l19.4 1.4l7.6 1.6l4 0l6 1.4l11.4 1l9 2l12 1.6l2.6 1l9 1l2 1l3 0l3 1l7.4 1l2 1l7.6 1l1.4 1l4.6 0.4l2.4 1l3 0l4 1.6l4.6 0.4l2 1l10 2l2 1l2.4 0l2 1l4 0.6l2 1l7.6 1.4l1.4 1l5.6 1l6 2l2.4-0.4l3-12.6l1-2l-1-1l-5.4-1l-3-1.4l-4-0.6l-2-1l-5.6-1l-4-1.4l-2 0l-2-1l-4-0.6l-2-1l-2.4 0l-1.6-1l-11-2l-2-1l-2.4 0l-2-1l-7.6-1l-4-1.4l-5-0.6l-12-3l-3 0l-2.4-1l-8.6-1l-5-1.4l-3 0l-9-2l-3 0l-0.4-0.6l-12.6-1.4l-3.4-1l-7-0.6l-0.6-0.4l-4 0l-3.4-1l-12-1l-0.6-0.6l-25-2l-0.4-0.4l-7.6 0l-0.4-0.6l-4.6 0l-0.4-0.4l-27-1l-0.6-0.6l-1.4 0.6l-1-0.6l-16.6 0l-0.4-0.4l-1.6 0.4l-1.4-0.4l-17.6 0l-0.4 0.4l-2-0.4l-0.6 0.4l-15.4 0l-0.6 0.6l-1.4-0.6l-0.6 0.6l-11 0l-0.4 0.4l-8 0l-0.6 0.6l-7.4 0l-0.6 0.4l-5.4 0l-0.6 0.6l-5 0l-0.4 0.4l-6.6 0l-0.4 0.6l-4 0l-4.6 1l-4.4 0l-0.6 0.4l-4.4 0l-4 1l-7.6 0.6l-13 2.4l-13.4 1.6l-5 1.4l-11.6 1.6l-2 1l-5 0.4l-2.4 1l-3.6 0l-3.4 1.6l-7.6 1zM1300.8 578.2l5.4 15.6l2.6 3.4l5.4 5.6l4.6 3.4l13.4 8.6l1 0l11 6l15 6.4l6.6 2l5 2.6l1.4 0l1.6 1l5.4 1.4l1.6 1l1.4 0l1.6 1l7.4 2.6l1.6 0l11 4l8.4 2l3 1.4l4 0.6l3.6 1.4l3.4 0.6l1.6 1l4 0.4l2 1l2 0l3.4 1.6l2.6 0l-1.6-7.6l0-3l-1-2.4l-7.4-1.6l-9-3l-2 0l-1.6-1l-2 0l-2-1l-5-1l-1.4-1l-5.6-1l-9.4-3.4l-1.6 0l-1.4-1l-3-0.6l-15-5.4l-1.6 0l-4-2l-1.4 0l-2.6-1.6l-4-1l-1-1l-11-4l-11-5.4l-1 0l-3-2l-1 0l-15-9l-7.4-6zM517.8 570.8l-6 6.4l-7 5.6l-9 5.4l-10 5l-26.6 10.6l-1.4 0l-8 3l-1.6 0l-1.4 1l-11.6 3l0 1.4l-3.4 11l3 0l3.4-1.4l9.6-2.6l3-1.4l3-0.6l1.4-1l3-0.4l19-7.6l17.6-9l10-7l6-6l7-14.4zM426.8 505.8l-1.6 7l-2 5.4l0.6 1.6l2.4 1l2 0l1.6 1l3.4 0.4l4.6 2l1.4 0l1.6 1l1.4 0l7.6 3l1.4 0l8 3.6l1.6 0l1.4-6l2.6-6.6l-0.6-1.4l-6.4-2l-2.6-1.6l-1.4 0l-3-1.4l-4.6-1l-1.4-1l-2 0l-4.6-2z"/>
<path fill="#ffb500" d="M744.2 697.8l4 16l6.6-2l3 0l1.4-1l5-0.6l3.6-1.4l1.4 0.4l2-1l7.6-1l1.4-1l4 0l1-1l10-1l2-1l10-1l3-1l7-0.4l3-1l10.6-1l4-1l9.4-0.6l0.6-0.4l8.4-0.6l0.6-0.4l11.4-0.6l0.6-0.4l11.4-0.6l0.6-0.4l2.4 0.4l0.6-0.4l7.4 0l0.6-0.6l23.4-0.4l0.6-0.6l1 0.6l2.4-0.6l1 0.6l1.6-0.6l5 0.6l0.4-0.6l15 0.6l0.6-0.6l1.4 0.6l0.6-0.6l0.4 0.6l29.6 0.4l0.4 0.6l5.6 0l0.4 0.4l7.6 0l0.4 0.6l1.6-0.6l0.4 0.6l4.6 0l0.4 0.4l12 0.6l5 1l10 0.4l4.6 1l12.4 1l7 1.6l4.6 0l0.4 0.4l9 1l9.6 2l10 1l2 1l3 0l8 2l5.4 0.6l2.6 1l3.4 0l2.6 1l5 0.4l1.4 1l3 0l2 1l2.6 0l7.4 1.6l4 1.4l2.6 0l2 1l2.4 0l1.6 1l6.4 1l6 2l6.6 1l5.4 2l10 2l1.6 1l2 0l9 3l4.4-15.4l-0.4-1l-5.6-1l-7-2.6l-11.4-2.4l-2-1l-2 0l-2-1l-4-0.6l-6-2l-18-3.4l-6.6-2l-5-0.6l-2-1l-3.4 0l-1.6-1l-5-0.4l-19-4l-8.4-1l-2.6-1l-3.4 0l-12.6-2.6l-11-1l-3-1l-5 0l-3-1l-3.4 0l-8-1.4l-15-1l-0.6-0.6l-14-1l-0.4-0.4l-21.6-1l-0.4-0.6l-9 0l-0.6-0.4l-64.4-0.6l-0.6 0.6l-21.4 0.4l-0.6 0.6l-5.4 0l-0.6 0.4l-2-0.4l-0.4 0.4l-11.6 0.6l-5 1l-1.4-0.6l-4 1l-5.6 0l-0.4 0.6l-13.6 1l-4 1l-4 0l-0.4 0.4l-6.6 0.6l-6.4 1.4l-3.6 0l-6 1.6l-6.4 0.4l-5 1.6l-11.6 1.4l-1.4 1l-22.6 4zM1298.8 572.2l5 14.6l3 4.4l9.4 8.6l16.6 10l18 8.4l2.4 0.6l12.6 5.4l15.4 5l1.6 1l1.4 0l17 6l3.6 0.6l15.4 5l3.6 0.4l9 3l4 0.6l2 1l2 0l-2-13l-7.6-1.6l-16-5l-4-0.4l-1.4-1l-3.6-0.6l-1.4-1l-2 0l-3-1.4l-11.6-3l-1.4-1l-9-2.6l-10-4l-3-0.4l-5-2.6l-4-1l-5-2.4l-2.6-0.6l-1-1l-2.4-0.4l-20.6-10l-9-5.6l-8.4-6.4l-3.6-3.6zM522.2 561.8l-0.4 0l-3 5l-5.6 5.4l-13.4 9l-11 5.6l-1 0l-1 1l-13.6 5.4l-5.4 1.6l-7 3l-6 1.4l-1.6 1l-2 0l-1.4 1l-1.6 0l-5 2l-2 0l-1.4 1l-2.6 0l-3.4 13l2.4 0l1.6-1l5.4-1l1.6-1l4.4-1l21.6-7.4l14-6l14-7.6l8-5.4l5.4-5l1.6-2zM428.8 499.2l-3.6 12l0.6 2l1.4 0l1 1l2 0l1.6 1l3.4 0.6l4.6 2l2 0l1 1l1.4 0l18.6 6.4l4-12.4l0-1.6l-15.6-5.4l-3-0.6l-1.4-1l-10-2.4l-1.6-1l-2 0l-1-1z"/>
<path fill="#ffab00" d="M743.2 691.8l3 14l1.6 0l2.4-1l6.6-1l2-1l5-0.6l2-1l3 0l4.4-1.4l5-0.6l2-1l6.6-0.4l2-1l3 0l3-1l6.4-0.6l5.6-1.4l3.4 0l0.6-0.6l13-1.4l3.4-1l4.6 0l8-1.6l1.4 0.6l7.6-1.6l1.4 0.6l0.6-0.6l10-0.4l0.4-0.6l10-0.4l0.6-0.6l29.4-1l0.6-0.4l1 0.4l1.4-0.4l51.6 0l0.4 0.4l12 0l0.6 0.6l8 0l0.4 0.4l7 0l0.6 0.6l6 0l0.4 0.4l7.6 0l4 1l1.4-0.4l4.6 1l15.4 1l0.6 0.4l3.4 0l4.6 1l4 0l3.4 1l7.6 0.6l0.4 0.4l12.6 1.6l3.4 1l3.6 0l8.4 2l7 0.4l5 1.6l8.6 1l2.4 1l3 0l12 3l5 0.4l2 1l9.6 1.6l2 1l2.4 0l6 2l2 0l6.6 2l2.4 0l2 1l4 0.4l2 1l2 0l1.6 1l2 0l1.4 1l2.6 0l1.4 1l4 0.6l11.6 3.4l1.4 0l2-9l1.6-4.4l-4.6-1.6l-2 0l-3.4-1.4l-4-0.6l-1.6-1l-2 0l-2-1l-6-1l-12-3.4l-4.4-0.6l-6-2l-5-0.4l-2-1l-2.6 0l-8.4-2.6l-5.6-0.4l-2-1l-3 0l-1.4-1l-5.6-0.6l-5-1.4l-3 0l-2-1l-3 0l-8-2l-3 0l-12-2.6l-7-0.4l-9.4-2l-4 0l-3.6-1l-20-2l-0.4-0.6l-4 0l-4-1l-5 0l-0.6-0.4l-10.4-0.6l-0.6-0.4l-5 0l-0.4-0.6l-13-0.4l-0.6-0.6l-16-0.4l-0.4-0.6l-13.6 0l-0.4-0.4l-47.6 0l-0.4 0.4l-0.6-0.4l-2.4 0l-0.6 0.4l-30 1l-0.4 0.6l-4.6 0l-0.4 0.4l-7 0l-0.6 0.6l-5 0l-0.4 0.4l-4.6 0l-0.4 0.6l-5.6 0l-4.4 1l-17 1.4l-0.6 0.6l-16.4 2l-9.6 2l-3 0l-5.4 1.4l-5.6 0.6l-1.4 1l-4 0l-6.6 2l-3.4 0l-2.6 1l-2.4 0l-2 1zM1296.8 567.2l5 14l3.4 4.6l10 8.4l15 9l1 0l2 1.6l13 6l24 9.4l1.6 0l3 1.6l1.4 0l1.6 1l4.4 1l1.6 1l4.4 1l3 1.4l1.6 0l9.4 3.6l5.6 1l1.4 1l5 1l7 2.4l7.6 1.6l3.4 1.4l7.6 1.6l-1.6-11l-30-8l-15-5l-2 0l-1.4-1l-9-3l-1.6 0l-7-3l-1.4 0l-4.6-2l-5.4-1.6l-17.6-7l-22.4-11l-1.6-1.4l-2.4-1l-6-4l-10-9l-3.6-5.6zM523.2 559.2l-8.4 9l-7 5l-11.6 6.6l-25 10.4l-16.4 5.6l-1.6 0l-3 1.4l-11.4 3l-3 9l0 2l12-3l1.4-1l1.6 0l8-3l1.4 0l4-2l3-0.4l2.6-1.6l1.4 0l2.6-1.4l13-5l13.4-7l9-6l6-5.6l2-2.4zM429.8 495.2l-3 11l2.4 0.6l1 1l2 0l1.6 1l3.4 0.4l4.6 2l2 0l1.4 1l4.6 1l4 2l1.4 0l1.6 1l8 2.6l3.4-12l-6.4-2.6l-1.6 0l-2.4-1.4l-6.6-1.6l-4.4-2l-8.6-2l-1.4-1l-2 0l-1-1l-2-0.4z"/>
<path fill="#ffa200" d="M741.8 687.2l2.4 10.6l1 0.4l6-2l2.6 0l4.4-1.4l5-0.6l2-1l3 0l2.6-1l5-0.4l1.4-1l11.6-1.6l5-1.4l1.4 0.4l2-1l3 0l3.6-1l3.4 0l10-2l3 0l7.6-1.4l4 0l0.4-0.6l4.6 0l4.4-1l15-1l5-1l6 0l0.6-0.4l25-1l0.4-0.6l10 0l0.6-0.4l1 0.4l3 0l0.4-0.4l44.6 0l0.4 0.4l12 0l0.6 0.6l16.4 0.4l0.6 0.6l6 0l0.4 0.4l1.6-0.4l0.4 0.4l6.6 0l4.4 1l5.6 0l5 1l15 1l3 1l8.4 0.6l3 1l4 0l4 1l7 0.4l3 1l4 0l0.6 0.6l20.4 3l2 1l9.6 1l2.4 1l13 2l1.6 1l3.4 0l2 1l5 0.4l6.6 2l11 2l4 1.6l3 0l1.4 1l2.6 0l5.4 2l2 0l2 1l2 0l10 2.4l1.6 1l2 0l1.4 1l2 0l9 2.6l0-1.6l3-9l-7.4-2.4l-2 0l-5.6-2l-7.4-1.6l-2-1l-4-0.4l-10-3l-4.6-0.6l-1.4-1l-3 0l-1.6-1l-5-0.4l-4-1.6l-2.4 0l-2.6-1l-7-1l-4.4-1.4l-3 0l-4.6-1.6l-8-1l-2.4-1l-3 0l-5-1.4l-3.6 0l-5-1.6l-2.4 0l-6.6-1.4l-3.4 0l-3-1l-3.6 0l-0.4-0.6l-6-0.4l-7-1.6l-3 0l-0.6-0.4l-8-0.6l-4-1l-21.4-2l-0.6-0.4l-10.4-0.6l-0.6-0.4l-4.4 0l-0.6-0.6l-6 0l-0.4-0.4l-6.6 0l-0.4-0.6l-18.6-0.4l-0.4-0.6l-62-0.4l-0.6 0.4l-14 0l-0.4 0.6l-30 1.4l-4.6 1l-5 0l-0.4 0.6l-5.6 0l-0.4 0.4l-13 1l-4 1l-11 1l-6.6 1.6l-7.4 0.4l-5.6 1.6l-3 0l-2.4 1l-3 0l-2 1l-7 0.4l-1.6 1l-3 0l-7.4 2l-10.6 1.6l-1.4 1l-3 0l-1.6 1l-2.4 0zM1295.2 563.2l4 11.6l6.6 7.4l12.4 9l18 9.6l27.6 11.4l3 0.6l1.4 1l17.6 5.4l1.4 1l11.6 3l3 1.6l2 0l4.4 2l6 1l3.6 1.4l21 5.6l-1-9l-12.6-3l-2-1l-9-2l-5-2l-12.4-3l-6-2.6l-2 0l-1-1l-3.6-0.4l-6-2.6l-1.4 0l-1.6-1l-6-1.4l-2.4-1.6l-3-0.4l-4-2l-8-2.6l-6-3l-2.6-0.4l-4.4-2.6l-2.6-0.4l-1-1l-13-6l-13.4-8.6l-4.6-3.4l-5.4-5.6l-3-5zM525.8 554.2l-0.6 0l-2 3.6l-5.4 5.4l-4.6 3.6l-7 4.4l-12.4 6.6l-23.6 9.4l-1.4 0l-1.6 1l-1.4 0l-7.6 3l-3.4 0.6l-4.6 2l-10.4 2.4l0 1.6l-2 5l0 2.4l13-3.4l1.4-1l2 0l1.6-1l6-1.6l7-3l5.4-1.4l13.6-5.6l1-1l1 0l14.4-7.4l10-7l5-5zM430.8 491.2l-2 8.6l2.4 0.4l1 1l2 0l1.6 1l10 2.6l1.4 1l13.6 4l4 2l2.4-0.6l0.6-3l1.4-3.4l-0.4-2.6l-6.6-2.4l-1.4 0l-1.6-1l-6-1.6l-1.4-1l-5-1l-4.6-2l-4-0.4l-1.4-1l-4-1z"/>
<path fill="#ff9800" d="M740.8 682.8l1 2.4l1 6.6l1 1l9-2.6l7-1l2-1l2.4 0l2.6-1l3.4 0l6.6-2l4 0l1.4-1l5.6-0.4l3-1l3.4 0l2.6-1l1.4 0.4l1.6-1l4 0l3-1l6.4-0.4l3.6-1l4 0l3-1l7.4-0.6l4-1l5.6 0l3.4-1l5.6 0l0.4-0.4l10-0.6l0.6-0.4l7 0l0.4-0.6l4.6 0l0.4-0.4l2 0.4l0.6-0.4l5 0l0.4-0.6l0.6 0.6l1.4-0.6l9.6 0l0.4-0.4l59.6-0.6l0.4 0.6l12 0l0.6 0.4l9 0l0.4 0.6l6.6 0l0.4 0.4l14.6 0.6l0.4 0.4l5 0l0.6 0.6l9.4 0.4l5 1l5 0l0.6 0.6l4 0l0.4 0.4l20 2l3.6 1l4 0l2.4 1l4 0l3 1l3 0l16 3l3 0l8 2l3 0l2 1l3 0l5 1.6l5.6 0.4l1.4 1l3 0l2 1l5.6 0.6l8.4 2.4l2.6 0l2 1l5 0.6l12 3.4l6.4 1l5.6 2l2.4 0l4 1.6l2 0l1.6 1l5.4 1l2 1l2 0l3.6 1.4l2 0l2.4-9l-0.4-1.4l-1.6 0l-3.4-1.6l-6-1l-1.6-1l-2 0l-13.4-4l-6.6-1l-4-1.4l-7-1l-1.4-1l-9-1.6l-2-1l-3 0l-2.6-1l-7-1l-2-1l-3 0l-1.4-1l-6-0.4l-12.6-3l-11.4-1.6l-2.6-1l-3 0l-3-1l-9.4-1l-6.6-1.4l-3.4 0l-7-1.6l-3.6 0l-3.4-1l-8.6-0.4l-0.4-0.6l-12-1l-0.6-0.4l-5 0l-4-1l-30.4-2l-0.6-0.6l-17-0.4l-0.4-0.6l-60-0.4l-0.6 0.4l-25 0.6l-0.4 0.4l-4.6 0l-0.4 0.6l-2-0.6l-0.6 0.6l-13 0.4l-4.4 1l-16.6 1l-8 1.6l-12.4 1l-9.6 2l-7 0.4l-3.4 1l-3 0l-2.6 1l-12 1.6l-1.4 1l-4 0l-6.6 2l-3.4 0l-18.6 4.4l-2.4 0zM1293.8 559.2l4.4 12l6.6 7l5 4l6 4l2.4 1l1.6 1.6l9.4 4.4l1 1l1 0l1 1l27.6 11.6l5.4 1.4l5.6 2.6l3 0.4l1.4 1l1.6 0l1.4 1l1.6 0l9 3l1.4 1l2 0l15 5l1.6 0l5.4 2l2 0l1.6 1l2 0l1.4 1l6 1l2 1l9 2l-1-8l-0.4-0.4l-20-5l-3.6-1.6l-2 0l-5-2l-3.4-0.4l-1.6-1l-2 0l-5-2l-6.4-1.6l-1.6-1l-6.4-1.4l-1.6-1l-11.4-3.6l-11-4.4l-1.6 0l-1-1l-2.4-0.6l-20-8.4l-3-2l-6-2.6l-15-9.4l-8.6-7.6zM526.8 551.8l-6.6 7l-4.4 3.4l-8.6 5.6l-14 7l-21.4 8.4l-4.6 1l-1.4 1l-15.6 5l-2 0l-3.4 1.6l-3.6 0.4l-2.4 8.6l7.4-1.6l26-8.4l6.6-3l7.4-2.6l17.6-8.4l12-8l6.4-6.6zM432.2 486.2l-2.4 9l3 0.6l1 1l2 0l1.4 1l3.6 0.4l3.4 1.6l1.6 0l4.4 2l1.6 0l4.4 2l1.6 0l1.4 1l1.6 0l4.4 2l3 0.4l2.6-7.4l-0.6-1.6l-6.4-2.4l-1.6 0l-1.4-1l-7.6-2l-1.4-1l-2 0l-2.6-1.6l-2 0l-5-2z"/>
<path fill="#ff8f00" d="M739.8 677.8l2 7.4l0 2l2 0.6l2-1l2.4 0l4.6-1.6l4.4-0.4l2-1l7.6-1l7.4-2l3 0l1.6-1l7-0.6l2-1l3 0l2.4-1l17-2l9-2l17-1.4l4.6-1l5 0l4.4-1l16.6-1l0.4-0.6l6.6 0l0.4-0.4l30-1l0.6-0.6l2 0.6l2.4-0.6l54.6 0.6l0.4 0.4l9.6 0l0.4 0.6l14.6 0.4l0.4 0.6l1.6-0.6l0.4 0.6l6 0l0.6 0.4l14.4 1l5 1l5 0l0.6 0.6l4 0l0.4 0.4l4 0l8 1.6l11.6 1l3 1l7 0.4l10 2l3.4 0l2.6 1l9 1l2.4 1l5.6 0.6l3 1l3 0l4.4 1.4l3.6 0l7 2l3 0l4.4 1.6l7 1l4 1.4l3 0l2 1l5 0.6l1.6 1l2 0l6.4 2l2.6 0l2 1l4 0.4l2 1l2 0l4 1.6l7.4 1.4l5.6 2l2 0l7 2.6l1.4-0.6l1-5.4l1.6-4l-8.6-3l-2 0l-1.4-1l-2 0l-12-3l-2-1l-8-1.6l-4-1.4l-7-1l-1.6-1l-5-0.6l-8.4-2.4l-5.6-0.6l-6.4-2l-3 0l-4.6-1.4l-3 0l-7-2l-3 0l-2.4-1l-9-1l-6-1.6l-3 0l-2.6-1l-3 0l-3-1l-3.4 0l-0.6-0.4l-6-0.6l-3.4-1l-3.6 0l-7-1.4l-4.4 0l-3.6-1l-16.4-1.6l-0.6-0.4l-5.4 0l-4.6-1l-10.4-0.6l-0.6-0.4l-4.4 0l-0.6-0.6l-7 0l-0.4-0.4l-14-0.6l-0.6-0.4l-9.4 0l-0.6-0.6l-14.4 0l-0.6-0.4l-3 0l-0.4 0.4l-1-0.4l-54.6 0.4l-0.4 0.6l-16 0.4l-0.6 0.6l-14.4 0.4l-0.6 0.6l-5 0l-0.4 0.4l-4.6 0l-0.4 0.6l-10.6 0.4l-0.4 0.6l-15.6 1.4l-4 1l-4.4 0l-3 1l-19 2.6l-2.6 1l-2.4 0l-6 1.4l-3.6 0l-2 1l-2.4 0l-8 2l-3 0l-2.6 1l-5 0.6l-1.4 1l-7 1zM1292.2 555.2l4.6 12l6.4 7l14.6 10l11.4 6l1 0l1 1l3 1l1 1l2.6 0.6l4.4 2.4l2.6 0.6l6 3l4 1l8 3.4l3 0.6l2.4 1.4l1.6 0l1.4 1l3 0.6l9 3.4l3.6 0.6l1 1l2 0l6 2.4l12.4 3l5 2l3.6 0.6l7.4 2.4l13.6 3l-1.6-8.4l-17-4l-1.4-1l-5.6-1l-10.4-3.6l-2 0l-3-1.4l-1.6 0l-3.4-1.6l-6.6-1.4l-1.4-1l-8-2l-7-3l-1.6 0l-4.4-2l-7-2l-5-2.6l-2.6-0.4l-8.4-4l-6-2l-1-1l-1 0l-13-6.6l-11.6-7l-8-6.4zM529.2 546.8l-5.4 6.4l-7.6 6l-8 5l-1 0l-9 5l-23.4 9.6l-13.6 4.4l-1.4 0l-1.6 1l-1.4 0l-14.6 4.6l-2 6l0 2l2 0l3.6-1.6l5.4-1l4.6-2l3.4-0.4l6-2.6l6-1.4l19-7.6l17-8.4l9-6l7.6-7zM433.2 482.2l-1.4 7l-1 2l5 1l1.4 1l4 0.6l4.6 2l5 1l1.4 1l6 1.4l1.6 1l1.4 0l7 3l1.6 0l2.4-9l-5.4-1.4l-4.6-2l-1.4 0l-4.6-2l-1.4 0l-1.6-1l-1.4 0l-1.6-1l-2 0l-6.4-2.6z"/>
<path fill="#ff8500" d="M738.8 672.8l2 10l1 0.4l1.4-1l15.6-3l2-1l2.4 0l2.6-1l3.4 0l6.6-2l4 0l1.4-1l12-1.4l2.6-1l1.4 0.4l15.6-3l3.4 0l3.6-1l11.4-1l0.6-0.4l4.4 0l4.6-1l4.4 0l4.6-1l6 0l0.4-0.6l10.6-0.4l0.4-0.6l8.6 0l0.4-0.4l6 0l0.6-0.6l2 0.6l0.4-0.6l6 0l0.6-0.4l2 0.4l0.4-0.4l12 0l0.6-0.6l56.4 0.6l0.6 0.4l9 0l0.4 0.6l23 1l0.6 0.4l15.4 1l5 1l5 0l0.6 0.6l8.4 0.4l4 1l8.6 0.6l0.4 0.4l10 1l3.6 1l3.4 0l12.6 2.6l3.4 0l3 1l3 0l2.6 1l11.4 1.4l12.6 3l6 0.6l1.4 1l3 0l2 1l7 1l2.6 1l3 0l3.4 1.4l5 0.6l4 1.4l2 0l4.6 1.6l2.4 0l2 1l4 0.4l2 1l2 0l12 3.6l2 0l1.6 1l2 0l10.4 3l2.6-8.6l0-2l-1.6 0l-3.4-1.4l-2.6 0l-1.4-1l-2 0l-9.6-3l-2 0l-1.4-1l-2.6 0l-3.4-1.6l-4.6-0.4l-8-2.6l-3 0l-1.4-1l-7-1l-2-1l-2.6 0l-6.4-2l-10-1.4l-2.6-1l-3 0l-2-1l-10.4-1.6l-2.6-1l-5.4-0.4l-6-1.6l-3 0l-2.6-1l-9.4-1l-6-1.4l-16.6-2l-0.4-0.6l-8.6-0.4l-6.4-1.6l-4.6 0l-0.4-0.4l-4 0l-5-1l-5.6 0l-4-1l-5.4 0l-0.6-0.6l-4.4 0l-0.6-0.4l-5.4 0l-0.6-0.6l-21.4-1l-0.6-0.4l-10.4 0l-0.6-0.6l-16.4 0l-0.6-0.4l-53.4 0.4l-0.6 0.6l-10 0l-0.4 0.4l-7 0l-0.6 0.6l-7 0l-0.4 0.4l-17.6 1l-5 1l-6 0l-0.4 0.6l-15.6 1.4l-4 1l-8 0.6l-3 1l-7 0.4l-0.4 0.6l-5.6 0.4l-2.4 1l-3.6 0l-3 1l-6 0.6l-1.4 1l-4 0l-1.6 1l-13.4 2l-2 1l-2.6 0l-11 3l-2.4 0zM1290.8 551.2l4 11l6 7l11.4 8.6l17.6 9.4l4.4 1.6l10.6 5l7.4 2.4l1 1l1.6 0l1.4 1l21 7l1.6 1l6.4 1.6l1.6 1l6.4 1.4l5 2l2 0l1.6 1l3.4 0.6l5 2l2 0l3.6 1.4l7.4 1.6l1.6 1l2 0l8 2.4l2.4 0l-0.4-0.4l-0.6-6l-1-2l-24-6l-3.4-1.6l-3.6-0.4l-3.4-1.6l-15-4l-1.6-1l-5-1l-3-1.4l-3-0.6l-1.4-1l-1.6 0l-1.4-1l-18-6l-2.6-1.4l-5-1.6l-15-6.4l-1-1l-1 0l-6-3.6l-1 0l-15.4-9.4l-8-7zM531.8 541.8l-0.6 0l-2 3.4l-6.4 6.6l-8.6 6l-9 5l-7.4 3l-2 1.4l-18 7l-10 3l-1.6 1l-5 1l-1.4 1l-2 0l-3 1.6l-7 1.4l-1.6 1l-2.4 0l-2.6 7l0 1.6l2.6 0l5.4-2l2 0l27-9l16-6.6l14-7l8.6-5.4l7.4-6.6l2-2.4zM434.2 478.8l0 1.4l-2 5.6l0.6 1.4l6.4 1.6l5 2l2 0l2.6 1.4l2 0l1.4 1l7.6 2l1.4 1l1.6 0l1.4 1l6.6 2l2.4-7l0-2l-3-1.4l-3-0.6l-3-1.4l-7.4-2l-1.6-1l-12-3l-1.4-1l-2 0l-3.6-1.6z"/>
<path fill="#ff7b00" d="M737.2 667.8l2 6.4l0.6 4l1 0l4-1.4l2.4 0l4.6-1.6l4.4-0.4l1.6-1l2.4 0l2.6-1l3 0l5-1.6l5.4-0.4l2-1l3.6 0l6-1.6l2.4 0l2.6-1l10.4-1l12.6-2.4l8-0.6l0.4-0.4l3.6 0l3.4-1l5 0l4.6-1l9-0.6l0.4-0.4l25-1.6l0.6-0.4l8.4 0l0.6-0.6l8 0l0.4-0.4l1 0.4l1.6-0.4l13.4 0l0.6-0.6l1.4 0.6l2.6-0.6l28.4 0l0.6 0.6l2-0.6l0.4 0.6l2.6 0l1.4-0.6l0.6 0.6l11 0l0.4 0.4l1.6-0.4l0.4 0.4l11 0l0.6 0.6l6.4 0l0.6 0.4l7 0l0.4 0.6l23 1.4l4.6 1l5.4 0l0.6 0.6l8.4 0.4l4 1l4 0l3.6 1l8 0.6l16 3l3.4 0l3 1l4 0l2.6 1l6 0.4l5.4 1.6l3.6 0l2.4 1l6 0.4l7 2l3 0l4.6 1.6l3 0l11 3l3 0l4 1.4l5 0.6l1.4 1l4.6 0.4l4.4 1.6l2.6 0l5.4 2l2 0l2 1l2 0l12 3l14.6 4.4l1-0.4l2.4-9l-0.4-1.6l-2.6 0l-5-2l-2 0l-2-1l-4-0.4l-1.4-1l-8-1.6l-16.6-4.4l-2.4 0l-3.6-1.6l-7.4-1l-1.6-1l-3 0l-4-1.4l-12.4-2l-2-1l-6-0.6l-2-1l-3 0l-2.6-1l-5-0.4l-8-2l-6-0.6l-0.4-0.4l-12-1.6l-6.6-1.4l-3 0l-3.4-1l-3 0l-3.6-1l-4 0l-3.4-1l-11.6-1l-0.4-0.6l-9-0.4l-0.6-0.6l-18.4-1.4l-0.6-0.6l-4.4 0l-0.6-0.4l-5.4 0l-0.6-0.6l-22.4-1l-0.6-0.4l-10 0l-0.4-0.6l-16 0l-0.6-0.4l-2 0.4l-0.4-0.4l-49.6 0.4l-0.4 0.6l-20.6 0.4l-0.4 0.6l-12.6 0.4l-0.4 0.6l-10.6 0.4l-0.4 0.6l-4.6 0l-0.4 0.4l-5.6 0l-0.4 0.6l-4 0l-7.6 1.4l-9 0.6l-6.4 1.4l-3.6 0l-3 1l-13.4 1.6l-7.6 2l-7 0.4l-1.4 1l-3 0l-10.6 2.6l-5.4 0.4l-6.6 2l-5 0.6l-2 1zM1289.2 547.2l4 11l5 6l8 6.6l7 4.4l17.6 9l1 0l1 1l6 2l3.4 2l7.6 2.6l5 2.4l7 2l4.4 2l1.6 0l7 3l11 3l1.4 1l3.6 0.6l3.4 1.4l3 0.6l1.6 1l2 0l3.4 1.4l1.6 0l5.4 2l2 0l12.6 4l10.4 2l-0.4-6l-1-2.4l-15.6-3.6l-5-2l-2 0l-3.4-1.4l-4-0.6l-1.6-1l-3.4-0.4l-8.6-3l-11.4-3l-1.6-1l-13.4-4l-1.6-1l-22.4-8l-2.6-1.6l-3.4-1l-1-1l-2.6-0.4l-3-2l-5.4-2l-9.6-5l-11.4-7.6l-10-9.4l-2-3.6zM532.8 539.2l-10 10l-11 7l-10 5l-18 7.6l-3 0.4l-8.6 3.6l-1.4 0l-3 1.4l-1.6 0l-5 2l-16.4 4.6l-2.6 8.4l12-3l21.6-7l18-7l13.4-6.4l1-1l1 0l8-5l7.6-6l3-3.6zM435.8 473.8l-2.6 8.4l0.6 1l7 1.6l6.4 2.4l2 0l1.6 1l1.4 0l1.6 1l1.4 0l15 5.6l2 0l2.6-7.6l-0.6-1.4l-11.4-3.6l-1.6-1l-8-2l-6-2.4l-4-0.6l-1.4-1l-2 0z"/>
<path fill="#ff7200" d="M736.2 662.8l2.6 10.4l1 0l2-1l7.4-1l1.6-1l9.4-1.4l4.6-1.6l3.4 0l5-1l1.6-1l4 0l1.4-1l3 0l6-1.4l1.6 0.4l2.4-1l16.6-2l10-2l4 0l7.4-1.4l4.6 0l0.4-0.6l9-0.4l5-1l17.6-1l0.4-0.6l7 0l0.6-0.4l18.4-0.6l0.6-0.4l17.4 0l0.6-0.6l48 0.6l0.4 0.4l12 0l0.6 0.6l14.4 0.4l0.6 0.6l6.4 0l0.6 0.4l5.4 0l0.6 0.6l4.4 0l0.6 0.4l5.4 0l4 1l5.6 0l4 1l10 0.6l6.4 1.4l12 1l3 1l6.6 0.6l13 2.4l3.4 0l2.6 1l9 1l3 1l2.4 0l2 1l14 2l2 1l3 0l2.6 1l5 0.6l1.4 1l12.6 2l2 1l4.4 0.4l6.6 2l2.4 0l7.6 2.6l2 0l2 1l2 0l6 2l4 0.4l6 2l2 0l3 1.6l2.4 0l4 1.4l1-1l2.6-9.4l-1.6 0l-5.4-2l-2 0l-5.6-2l-11.4-2.6l-2-1l-4.6-0.4l-8-2.6l-5-0.4l-3.4-1.6l-7.6-1l-2-1l-2.4 0l-4-1.4l-12.6-2l-2-1l-2.4 0l-13.6-3l-11.4-1.6l-5-1.4l-3 0l-6.6-1.6l-6-0.4l-3-1l-3.4 0l-7-1.6l-4 0l-10.6-2l-16.4-1.4l-0.6-0.6l-5 0l-4.4-1l-5 0l-0.6-0.4l-10.4-0.6l-0.6-0.4l-5 0l-0.4-0.6l-22-1l-0.6-0.4l-9.4 0l-0.6-0.6l-53-0.4l-0.4 0.4l-27.6 0.6l-0.4 0.4l-6 0l-0.6 0.6l-2-0.6l-0.4 0.6l-5.6 0l-0.4 0.4l-18.6 1l-4.4 1l-10.6 0.6l-4 1l-19 2l-7 1.4l-3.4 0l-9 2l-12 1.6l-2 1l-4 0l-1.6 1l-5 1l-4 0l-3.4 1.4l-1.6-0.4l-2 1l-7 1zM1287.8 543.2l3.4 10l4.6 6l7 6l15.4 9.6l1 0l1 1l6 2.4l1 1l5.6 2l4.4 2.6l10 3.4l2.6 1.6l18 6l1.4 1l6 1.4l3 1.6l5 1l1.6 1l15 4l3.4 1.4l3.6 0.6l3.4 1.4l25.6 6.6l-1-8.6l-18-4.4l-5.6-2l-2 0l-10.4-3.6l-2 0l-3-1.4l-8.6-2l-4.4-2l-9.6-2.6l-1.4-1l-1.6 0l-1.4-1l-1.6 0l-1.4-1l-12.6-4l-2.4-1.4l-4-1l-2.6-1.6l-2.4-0.4l-13-5.6l-13-6.4l-12-7.6l-4.6-3.4l-7-7l-2-3.6zM535.2 534.2l-3 4l-7 6.6l-7.4 5l-10 5.4l-10 4l-1 1l-6.6 2l-1 1l-5.4 1.6l-1.6 1l-1.4 0l-2.6 1.4l-3 0.6l-6 2.4l-5 1l-1.4 1l-2 0l-5 2l-1.6 0l-1.4 1l-2 0l-3.6 1.6l-1.4 0l-2 8l0.4 0.4l3-0.4l1.6-1l7-1.6l3-1.4l2 0l1.4-1l5-1l1.6-1l10-3l18-7l1-1l8.4-3.6l5.6-3l12-8l6-6zM436.8 469.8l-1.6 7l-1 2l20 5.4l1.6 1l7.4 2l4 2l2 0l2.6 1.6l2-0.6l2.4-8.4l-16.4-5.6l-1.6 0l-4.4-2l-3.6-0.4l-5-2l-2 0l-1.4-1z"/>
<path fill="#ff6800" d="M735.2 657.2l2 10.6l1.6 0.4l14-3.4l5-0.6l2-1l2.4 0l10.6-2.4l3 0l1.4-1l7-0.6l7.6-2l3.4 0l3.6-1l10-1l6.4-1.4l4.6 0l0.4-0.6l7-0.4l4-1l4.6 0l0.4-0.6l13.6-1l0.4-0.4l17.6-1l0.4-0.6l7 0l0.6-0.4l10.4 0l0.6-0.6l9.4 0l0.6-0.4l15.4 0l0.6-0.6l2 0.6l1.4-0.6l3 0l0.6 0.6l1.4-0.6l39 0.6l0.6 0.4l19 0.6l0.4 0.4l6 0l0.6 0.6l8.4 0l0.6 0.4l5.4 0l0.6 0.6l9.4 0.4l5 1l5 0l4.6 1l4.4 0l3.6 1l5 0l0.4 0.6l7.6 0.4l3.4 1l4 0l3.6 1l9.4 1l3 1l3 0l3 1l3.6 0l14 3l9 1l10 2.6l6 0.4l2 1l12.4 2l4 1.6l3 0l1.6 1l5 0.4l1.4 1l2 0l6.6 2l2.4 0l4 1.6l2 0l2 1l6.6 1l1.4 1l8 1.4l1.6 1l4.4 0.6l5 2l2.6 0l0.4 0.4l1 0l3-10.4l-4.4-1.6l-2 0l-3.6-1.4l-2 0l-4-1.6l-20-4.4l-2-1l-2.4 0l-8.6-2.6l-4.4-0.4l-2-1l-55.6-11l-3 0l-0.4-0.6l-15.6-2l-10-2l-3 0l-3.4-1l-4.6 0l-3.4-1l-4.6 0l-3.4-1l-8.6-0.4l-0.4-0.6l-8-0.4l-4.6-1l-5.4 0l-0.6-0.6l-17.4-1l-0.6-0.4l-5.4 0l-0.6-0.6l-16-0.4l-0.4-0.6l-11.6 0l-0.4-0.4l-2 0.4l-1-0.4l-19 0l-0.6-0.6l-5.4 0l-0.6 0.6l-0.4-0.6l-32 0.6l-0.6 0.4l-12.4 0l-0.6 0.6l-8 0l-0.4 0.4l-7 0l-0.6 0.6l-4.4 0l-0.6 0.4l-19 1l-4 1l-5.4 0l-4.6 1l-12.4 1l-7 1.6l-4 0l-3 1l-3.6 0l-3 1l-6.4 0.4l-2 1l-2.6 0l-3 1l-18.4 2.6l-4 1.4l-3 0l-2 1l-2.6 0l-11.4 3zM1286.2 539.2l4 11l8 8.6l11.6 8l12 6.4l1 0l7.4 4l2.6 0.6l1 1l3.4 1l2.6 1.4l2.4 0.6l21.6 8.4l13.4 4l1.6 1l1.4 0l18.6 6l3.4 0.6l5 2l2 0l9 3l4 0.4l5.6 2l7.4 1.6l-1-8.6l-0.4-0.4l-7.6-1.6l-2-1l-2 0l-1.4-1l-13-3l-3.6-1.4l-5.4-1l-1.6-1l-2 0l-3-1.6l-13.4-3.4l-1.6-1l-1.4 0l-29-10l-2.6-1.6l-9-3l-14.4-7l-1 0l-18.6-10.4l-8-6.6l-3.4-3.4l-2.6-4zM537.8 529.2l-0.6 0l-2 3.6l-8.4 8l-10 6.4l-1 0l-11 6l-21.6 8.6l-3 0.4l-1.4 1l-7.6 2l-9.4 3.6l-3.6 0.4l-1.4 1l-2 0l-2 1l-5 1l-1 1l-2 8l7.4-1.4l1.6-1l8.4-2l1.6-1l5-1l13-5l3-0.6l18-7.4l10-5l11-7l7.4-7zM438.2 465.2l-2.4 9l1 1l9.4 2l6 2.6l8 2l1.6 1l3 0.4l1.4 1l1.6 0l7 2.6l2.4-7l0-2.6l-16-5l-1.4-1l-3.6-0.4l-4.4-2l-5.6-1l-5-2z"/>
<path fill="#ff5e00" d="M733.8 652.2l2.4 11l2 0l11-3l7.6-1.4l3 0l3.4-1.6l4 0l5-1l1.6-1l4 0l2-1l3 0l9.4-2l3.6 0l6.4-1.4l7-0.6l2-1l3 0l0.6-0.4l8.4-0.6l7.6-1.4l14-1l4.4-1l18.6-1l0.4-0.6l8 0l0.6-0.4l8 0l0.4-0.6l26.6-0.4l0.4-0.6l2.6 0.6l1.4-0.6l22.6 0l0.4 0.6l3 0l0.6-0.6l2 0.6l0.4-0.6l0.6 0.6l12.4 0l0.6 0.4l1.4-0.4l0.6 0.4l11.4 0l0.6 0.6l6.4 0l0.6 0.4l15 0.6l0.4 0.4l9.6 0.6l0.4 0.4l1.6-0.4l0.4 0.4l13.6 1l4.4 1l18 1.6l10.6 2l4 0l2.4 1l8 0.4l11.6 2.6l7 0.4l5 1.6l2.4 0l3 1l8.6 1l5 1.4l8.4 1l2 1l2.6 0l10 2l4 1.6l2.4 0l2 1l5 0.4l1.6 1l9.4 1.6l5.6 2l4.4 0.4l2 1l2 0l10 2.6l1.6 1l4 0.4l3.4 1.6l2 0l6.6 2l1-5.6l2-6l-2.6 0l-6.4-2.4l-2.6 0l-4-1.6l-11.4-2.4l-2-1l-4.6-0.6l-2-1l-2 0l-6.4-2l-2.6 0l-3.4-1.4l-7.6-1l-8.4-2.6l-5-0.4l-10-2.6l-3 0l-2-1l-7.6-1.4l-3.4 0l-2.6-1l-8.4-1l-17.6-3.6l-6.4-0.4l-10-2l-3.6 0l-3.4-1l-4.6 0l-0.4-0.6l-3 0l-7.6-1.4l-13-1l-0.4-0.6l-15-1l-0.6-0.4l-4.4 0l-0.6-0.6l-12.4-0.4l-0.6-0.6l-6 0l-0.4-0.4l-17-0.6l-0.6-0.4l-14.4 0l-0.6-0.6l-48.4 0l-0.6 0.6l-2-0.6l-0.4 0.6l-13 0l-0.6 0.4l-17 0.6l-0.4 0.4l-4.6 0l-0.4 0.6l-19 1l-0.6 0.4l-9.4 0.6l-4.6 1l-4 0l-0.4 0.4l-19.6 2l-2.4 1l-3.6 0l-6.4 1.6l-7 0.4l-5 1.6l-6.6 0.4l-1.4 1l-6.6 0.6l-7.4 2l-3 0l-2 1l-2.6 0l-7.4 2l-5 0.4l-2 1zM1284.8 535.2l4 11l7.4 8l13 9l16.6 8.6l28.4 11.4l1.6 0l8.4 3.6l1.6 0l4.4 2l9.6 2.4l4.4 2l3.6 0.6l3.4 1.4l3 0.6l1.6 1l2 0l3.4 1.4l1.6 0l5.4 2l2 0l11 3.6l2 0l7.6 2.4l4 0.6l-1-8l-1.6-1.6l-19-4.4l-7-2.6l-2.4 0l-1.6-1l-1.4 0l-20.6-6.4l-5-1l-7.4-3l-1.6 0l-3-1.6l-7-2l-1.4-1l-4.6-1l-2.4-1.4l-1.6 0l-24-10l-12-6l-12-7.6l-4-3zM538.8 526.8l-5.6 6l-5.4 4.4l-8 5l-14 7l-23 9l-4.6 1l-1.4 1l-1.6 0l-14.4 5l-4 0.6l-1.6 1l-6.4 1.4l-2 5l-0.6 4l7.6-1.4l1.4-1l1.6 0l5-2l2 0l1.4-1l1.6 0l6.4-2.6l1.6 0l1.4-1l3-0.4l2.6-1.6l1.4 0l1.6-1l5.4-1.4l1-1l6.6-2l1-1l4.4-1.6l12-6l11-7l6.6-6zM439.2 460.8l-1.4 7l-1 2l0.4 1l15.6 4l1.4 1l11 3l9 3.4l2 0l1.6-5.4l1-1.6l0-2.4l-1.6 0l-5.4-2.6l-8-2l-6-2.4l-2 0l-3-1.6z"/>
<path fill="#ff5400" d="M732.8 646.8l2.4 11.4l36-8l7-0.4l9-2l2.6 0l2-1l1.4 0.4l2-1l7-0.4l3-1l6.6-0.6l3.4-1l4 0l8-1.4l5.6 0l4-1l4.4 0l0.6-0.6l4.4 0l0.6-0.4l4.4 0l0.6-0.6l4.4 0l0.6-0.4l0.4 0.4l7-0.4l0.6-0.6l4.4 0l0.6-0.4l28.4-1l0.6-0.6l2 0.6l1.4-0.6l52.6 0l0.4 0.6l12 0l0.6 0.4l8.4 0l0.6 0.6l22.4 1l4.6 1l5 0l0.4 0.4l5 0l0.6 0.6l9.4 0.4l5 1l4.6 0l7.4 1.6l4.6 0l7 1.4l4 0l3 1l4 0l9 2l4 0l12 2.6l11.4 1.4l2.6 1l3 0l5 1.6l5.4 0.4l4.6 1.6l10.4 1.4l8.6 2.6l2.4 0l17.6 4.4l2.4 0l2 1l20 4.6l2 1l11.6 2.4l2 1l1.4-0.4l2-8.6l1-2l-3.4-0.4l-7.6-2.6l-2 0l-1.4-1l-2 0l-10-2.4l-2-1l-8.6-1.6l-2-1l-2.4 0l-2-1l-11-2l-4.6-1.4l-2.4 0l-4-1.6l-3.6 0l-8.4-2.4l-8.6-1l-2-1l-5-1l-3.4 0l-2.6-1l-2.4 0l-2.6-1l-2.4 0l-9-2l-3 0l-0.6-0.6l-9-1l-3-1l-3 0l-7-1.4l-7-0.6l-3.4-1l-5 0l-3-1l-4 0l-0.6-0.4l-12-1l-4.4-1l-16-1l-0.6-0.6l-10-0.4l-0.4-0.6l-7 0l-0.6-0.4l-14.4-0.6l-0.6-0.4l-11 0l-0.4-0.6l-14.6 0l-0.4-0.4l-2 0.4l-1-0.4l-33 0l-0.6 0.4l-1.4-0.4l-0.6 0.4l-16.4 0l-0.6 0.6l-11.4 0l-0.6 0.4l-22.4 1l-0.6 0.6l-4.4 0l-0.6 0.4l-4.4 0l-0.6 0.6l-5 0l-0.4 0.4l-22.6 2l-0.4 0.6l-7 0.4l-6.6 1.6l-3.4 0l-2.6 1l-1.4-0.6l-3.6 1l-3 0l-5 1.6l-4 0l-5 1.4l-4 0l-1 1l-3 0l-8 2l-3 0l-2 1l-5.4 0.6zM1283.2 530.8l4 11.4l5 5.6l8 6.4l18.6 10.6l1 0l14.4 7l9 3l2.6 1.4l29 10l1.4 0l1.6 1l13.4 3.6l6.6 2.4l5.4 1l3.6 1.6l11 2.4l1.4 1l4 0.6l2 1l2 0l2 1l5 1l-1.4-9.6l-2 0l-4-1.4l-11.6-2.6l-1.4-1l-8-1.4l-3.6-1.6l-3.4-0.4l-1.6-1l-4-0.6l-4.4-2l-15-4l-6-2.4l-1.6 0l-1.4-1l-1.6 0l-9-3l-5.4-2.6l-5.6-1.4l-2.4-1.6l-1.6 0l-2.4-1.4l-12-4.6l-2-1.4l-3.6-1l-1-1l-3-1l-5-3l-1 0l-11.4-7l-7.6-6zM541.2 521.8l-7.4 8l-6 4.4l-7.6 4.6l-8 4l-1 0l-1 1l-15.4 6.4l-3 0.6l-4 2l-16.6 5.4l-8.4 2l-5 2l-8 1.6l-2.6 9.4l8.6-2.4l2 0l1.4-1l3.6-0.6l9.4-3.4l7.6-2l1.4-1l3-0.6l21.6-8.4l1-1l1 0l1-1l1 0l5-3l3-1l10-6.6l8-7.4zM440.2 457.2l-1 5l-1 2l0.6 2l12 3l3 1.6l5 1l1.4 1l17.6 5.4l0-1.4l2.4-6.6l0-2l-7.4-2l-9-3.4l-13.6-3.6l-1.4-1l-2 0l-1.6-1l-2.4-0.4z"/>
<path fill="#ff4b00" d="M731.2 641.8l2.6 9l0 2l2.4 0l2-1l2.6 0l8.4-2.6l7.6-1l12.4-3l6.6-0.4l1.4-1l6.6-0.6l3-1l3.4 0l2.6-1l10-1l3.4-1l7-0.4l3-1l3.6 0l0.4-0.6l3.6 0l4.4-1l5.6 0l4.4-1l4.6 0l4-1l19-1l0.4-0.4l4.6 0l0.4-0.6l8.6 0l0.4-0.4l2 0.4l0.6-0.4l21.4-0.6l0.6-0.4l60 0.4l0.4 0.6l25 1l0.6 0.4l4.4 0l0.6 0.6l12.4 0.4l4.6 1l6 0l4 1l5.4 0l8 1.6l4.6 0l0.4 0.4l3 0l7.6 1.6l4 0l6.4 1.4l4 0l6 1.6l7 0.4l3 1l3 0l2.6 1l3 0l3 1l8.4 1l2.6 1l3.4 0l7.6 1.6l2 1l3 0l2.4 1l7 1l2 1l3.6 0l4 1.4l9.4 1.6l1.6 1l7 1l6.4 2l2 0l3.6 1.4l4.4 0.6l10 2.4l1.6 1l8 1.6l7 2.4l2-0.4l0.4-3.6l2-6l-0.4-1.4l-1.6 0l-2-1l-2.4 0l-7-2.6l-2 0l-12-3l-2-1l-2 0l-2-1l-4.6-0.4l-6-2l-5-0.6l-1.4-1l-9.6-1.4l-4.4-1.6l-3 0l-2.6-1l-7-1l-2-1l-8.4-1l-10-2.4l-11-1.6l-3-1l-12-1.4l-9-2l-17.6-2l-3.4-1l-20.6-2l-4.4-1l-25-2l-0.6-0.6l-29-1.4l-0.4-0.6l-30-0.4l-0.6-0.6l-1.4 0.6l-2-0.6l-17.6 0l-0.4 0.6l-0.6-0.6l-2 0.6l-2.4-0.6l-0.6 0.6l-30.4 0.4l-0.6 0.6l-8.4 0l-0.6 0.4l-11.4 0.6l-0.6 0.4l-8.4 0l-0.6 0.6l-5 0l-5 1l-5 0l-4.4 1l-5 0l-0.6 0.4l-3.4 0l-4.6 1l-4 0l-7.4 1.6l-4 0l-2.6 1l-4 0l-3 1l-3 0l-2.4 1l-1.6-0.6l-8 2l-9 1l-1.4 1l-5.6 0.6l-2.4 1l-1.6-0.6l-4 1.6l-5.4 0.4zM1280.8 524.8l4.4 12.4l8 8.6l12.6 8.4l15.4 8l24 10l1.6 0l2.4 1.6l4.6 1l1.4 1l7 2l3 1.4l1.6 0l7.4 3l1.6 0l17 5.6l8.4 2l1.6 1l2.4 0l7 2.4l7.6 1.6l2 1l2 0l3.4 1.4l6 1l-1-9l-37-9.4l-1.4-1l-2 0l-1.6-1l-5-1l-3.4-1.6l-2 0l-1.6-1l-1.4 0l-1.6-1l-8-2l-13-5l-3-0.4l-5.4-2.6l-1.6 0l-23.4-9.4l-2-1.6l-1 0l-10-5l-12.6-7.4l-4-3l-7.4-7.6l-2.6-4.4zM543.8 516.8l-6 7l-7 5.4l-16 9l-1 0l-8 4l-5 1.6l-2.6 1.4l-1.4 0l-2.6 1.6l-7 2l-1.4 1l-24 7.4l-2 0l-1.6 1l-2 0l-5 1.6l-2 5.4l-0.4 3.6l2 0l2-1l3.4-0.6l1.6-1l4-0.4l29-9.6l16-6.4l14-7l8-5l8-7zM441.8 451.8l0 1.4l-2.6 7.6l0.6 1l12 3l3 1.4l2 0l1.4 1l1.6 0l1.4 1l6.6 1.6l7 3l4.4 1l0-1.6l2.6-6.4l0-2l-6-1.6l-6-2.4l-2 0l-1-1l-5.6-1l-3-1.6l-3.4-0.4l-5-2z"/>
<path fill="#ff4100" d="M730.2 636.8l2.6 11l12-3l5.4-0.6l1.6-1l5.4-0.4l2-1l3 0l8-2l3 0l1-1l7.6-0.6l1.4-1l4 0l2.6-1l3.4 0l3.6-1l3.4 0l0.6-0.4l6.4-0.6l2.6-1l7.4-0.4l4-1l4.6 0l3.4-1l15-1l0.6-0.6l8.4-0.4l0.6-0.6l13.4-0.4l0.6-0.6l6 0l0.4-0.4l8.6 0l0.4-0.6l30-0.4l0.6-0.6l2 0.6l1.4-0.6l24.6 0l1.4 0.6l0.6-0.6l0.4 0.6l15.6 0l0.4 0.4l1.6-0.4l0.4 0.4l9 0l0.6 0.6l24 1l0.4 0.4l4.6 0l0.4 0.6l25.6 2l0.4 0.4l12 1l3.6 1l12 1l7 1.6l4 0l15 3l7 0.4l5 1.6l3.4 0l2 1l3 0l8 2l6 0.4l2 1l8.6 1l8.4 2.6l3.6 0l4 1.4l2.4 0l4.6 1.6l9 1.4l6 2l4.4 0.6l6 2l2 0l10.6 3l2 0l1.4 1l6 1l5.6 2l2.4-0.6l0.6-3.4l2-5.6l0-1.4l-1.6-0.6l-2.4 0l-5-2l-2 0l-2-1l-4-0.4l-1.6-1l-6-1.6l-2.4 0l-8-2.4l-2.6 0l-2-1l-2 0l-13.4-3.6l-2.6 0l-6.4-2l-3 0l-2-1l-10-1.4l-2-1l-2.6 0l-2.4-1l-5.6-0.6l-11-2.4l-3 0l-2-1l-6.4-0.6l-5-1.4l-6.6-0.6l-13-2.4l-3.4 0l-6.6-1.6l-4 0l-3.4-1l-30-3l-0.6-0.4l-10-0.6l-5-1l-1.4 0.6l-0.6-0.6l-10.4-0.4l-0.6-0.6l-24.4-1l-0.6-0.4l-15 0l-0.4-0.6l-50 0l-0.6 0.6l-2-0.6l-0.4 0.6l-11 0l-0.6 0.4l-9.4 0l-0.6 0.6l-6 0l-0.4 0.4l-15.6 0.6l-0.4 0.4l-29.6 2.6l-4 1l-22 2.4l-6.4 1.6l-3 0l-2.6 1l-4.4 0l-7.6 2l-4 0l-2.4 0.4l-1.6 1l-6.4 0.6l-2.6 1l-2.4 0l-2.6 1l-5 0.4l-7.4 2l-2.6 0zM1278.8 519.8l5 13.4l5.4 6l10.6 8l8.4 5l1 0l2 1.6l6 2.4l1 1l3.6 1l2 1.6l12 4.4l2.4 1.6l1.6 0l2.4 1.4l5.6 1.6l15.4 6l3.6 0.4l6 2.6l15 4l4.4 2l4 0.4l1.6 1l3.4 0.6l3.6 1.4l2 0l5.4 2l13.6 3l5.4 2l1.6-0.4l-1.6-9l-6-1l-3.4-1.6l-2 0l-11.6-3.4l-2 0l-3.4-1.6l-4-0.4l-1.6-1l-3.4-0.6l-13.6-4.4l-7-1.6l-1.4-1l-6-1.4l-12-4l-1.6-1l-1.4 0l-4-2l-1.6 0l-28.4-11.6l-15.6-8l-10.4-7l-8-7.4l-3.6-6zM546.2 511.8l-0.4 0l-2 3.4l-6 6l-12 8l-11 5.6l-26.6 10.4l-3 0.6l-8 3l-3.4 0.4l-1.6 1l-1.4 0l-5 2l-2 0l-3.6 1.6l-8 2l-2 6.4l0 2l2.6 0l2-1l4-0.4l30-9.6l22.4-9l1-1l1 0l8-4l11-7l7.6-7zM443.2 447.2l-3 10l4 0.6l1.6 1l2 0l1.4 1l13.6 3.4l1.4 1l4.6 1l9.4 3.6l2.6 0l2.4-7.6l0-1.4l-17-6l-1.4 0l-5-2l-3.6-0.6l-3.4-1.4l-2 0l-1.6-1l-2 0z"/>
<path fill="#ff3800" d="M729.2 631.2l2 10.6l2 0.4l11.6-3l5.4-0.4l1.6-1l5.4-0.6l2-1l3.6 0l2.4-1l5.6-0.4l1.4-1l3.6 0l2.4-1l3 0l6-1.6l3.6 0l10-2l7-0.4l2.4-1l8.6-0.6l0.4-0.4l7-0.6l3.6-1l10.4-0.4l4.6-1l25-1.6l0.4-0.4l6.6 0l0.4-0.6l21-0.4l0.6-0.6l55.4 0l0.6 0.6l3-0.6l0.4 0.6l19.6 0.4l0.4 0.6l6.6 0l0.4 0.4l15 0.6l4 1l6.6 0l0.4 0.4l4.6 0l0.4 0.6l4.6 0l4.4 1l4.6 0l4 1l13 1l2.4 1l1.6-0.6l6 1.6l4.4 0l6 1.4l10.6 1l3 1l6 0.6l2.4 1l3.6 0l3 1l8.4 1l12.6 3l3 0l2.4 1l3 0l2 1l7 1l2.6 1l3 0l4.4 1.4l7 1l1.6 1l6.4 1l2 1l2.6 0l4 1.6l4.4 0.4l2 1l2 0l12 3l2 1l4 0.6l3.6 1.4l2.4 0l4 1.6l1 0l3-10.6l0-0.4l-1.4 0l-3.6-1.6l-8-1.4l-1.4-1l-2 0l-1.6-1l-2.4 0l-3.6-1.6l-11-2l-3.4-1.4l-2.6 0l-4-1.6l-2.4 0l-5-1.4l-4.6-0.6l-2-1l-2.4 0l-2-1l-2.6 0l-11.4-3l-8-1l-2-1l-6-0.4l-2.6-1l-14-2l-8-2l-7-0.6l-6-1.4l-10-1l-3.4-1l-3.6 0l-10.4-2l-9-0.6l-3.6-1l-5 0l-0.4-0.4l-12-1l-0.6-0.6l-5.4 0l-5-1l-18-1l-0.6-0.4l-7 0l-0.4-0.6l-19-0.4l-0.6-0.6l-16 0l-0.4-0.4l-38.6 0l-2 0.4l-1.4-0.4l-0.6 0.4l-13 0l-0.4 0.6l-10 0l-0.6 0.4l-7 0l-0.4 0.6l-9.6 0l-0.4 0.4l-11 0.6l-0.6 0.4l-4.4 0l-0.6 0.6l-5.4 0l-0.6 0.4l-4 0l-4.4 1l-5.6 0l-0.4 0.6l-11.6 1l-3.4 1l-4.6 0l-12.4 2.4l-7 0.6l-2.6 1l-9.4 1l-2.6 1l-3.4 0l-10.6 2.4l-3 0l-2 1l-7.4 1zM1277.2 515.8l5 13l8 8.4l8.6 6l18 9.6l1 0l2 1.4l23.4 9.6l1.6 0l5.4 2.4l3 0.6l1.6 1l10 3l1.4 1l6.6 1.4l6 2.6l2 0l3.4 1.4l5 1l1.6 1l2 0l1.4 1l5.6 1l9 3l2 0l1.4 1l6 1l12 3.6l2 0l-1.4-9l-13-3l-13-4l-2 0l-16-5l-3.6-0.6l-1.4-1l-5-1l-1.6-1l-3.4-0.4l-4.6-2l-2 0l-1.4-1l-4.6-1l-1.4-1l-6-1.6l-5.6-2.4l-7-2l-2.4-1.6l-11.6-4l-10-5l-4.4-1.4l-1-1l-8.6-4l-11-7l-7-6zM547.2 509.2l-5 5.6l-5.4 4.4l-10.6 6.6l-1 0l-1 1l-10.4 5l-15 6l-11.6 3.4l-1.4 1l-1.6 0l-4.4 2l-26 7l-2.6 7.6l0 1.4l8-1.4l1.6-1l2 0l24-7.6l1.4-1l7-2l2.6-1.4l1.4 0l2.6-1.6l5-1.4l3.4-2l5.6-2l4-2.6l1 0l11-6.4l9-7.6l1.4-2zM444.2 443.2l-2.4 9.6l15.4 4l3 1.4l2 0l3 1.6l5 1l1.6 1l1.4 0l6.6 2.4l2.4 0l2.6-7.4l0-1.6l-14-5l-5-1l-1.6-1l-2 0l-3-1.4l-7-1.6l-1.4-1z"/>
<path fill="#ff2e00" d="M727.8 625.8l2.4 11.4l12-3l5.6-0.4l1.4-1l8-1l4.6-1.6l6.4-0.4l1.6-1l2.4-0.6l4 0l7.6-2l1.4 0.6l5.6-1.6l10.4-1l2.6-1l4.4 0l6.6-1.4l7.4-0.6l4-1l5.6 0l0.4-0.4l3.6 0l4.4-1l12-0.6l4-1l6.6 0l0.4-0.4l15-0.6l0.6-0.4l1.4 0.4l0.6-0.4l21.4-0.6l0.6-0.4l1 0.4l1.4-0.4l59.6 0.4l0.4 0.6l10.6 0l0.4 0.4l7 0l0.6 0.6l13.4 0.4l0.6 0.6l4.4 0l0.6 0.4l6 0l4.4 1l6 0l4 1l26.6 2.6l6.4 1.4l3.6 0l0.4 0.6l7 0.4l6.6 1.6l3 0l2.4 1l10 1l2.6 1l3.4 0l5 1.4l3 0l11 2.6l5.6 0.4l2.4 1l2.6 0l2 1l10 1.6l2 1l3 0l6.4 2l7 1l1.6 1l3 0l6 2l11 2l2 1l10 2.4l2 0l1.4 1l2 0l2 1l2 0l3.6 1.6l2.4 0l0.6 0.4l2 0l3-10l-1-1l-5-1.4l-2.6 0l-3-1.6l-4.4-0.4l-1.6-1l-2 0l-6-2l-8.4-1.6l-2-1l-6.6-1l-8.4-2.4l-10-1.6l-2-1l-2.6 0l-4.4-1.4l-7.6-1l-2-1l-3 0l-7-2l-3 0l-8-2l-3 0l-2.4-1l-11.6-1.6l-12-2.4l-3.4 0l-0.6-0.6l-16.4-2l-0.6-0.4l-3.4 0l-0.6-0.6l-27-3l-0.4-0.4l-9-0.6l-0.6-0.4l-30.4-2l-0.6-0.6l-15.4-0.4l-0.6-0.6l-10.4 0l-0.6-0.4l-1.4 0.4l-0.6-0.4l-17.4 0l-0.6-0.6l-47 0.6l-0.4 0.4l-11 0l-0.6 0.6l-14.4 0.4l-0.6 0.6l-7 0l-0.4 0.4l-5 0l-0.6 0.6l-5 0l-0.4 0.4l-6 0l-0.6 0.6l-9.4 0.4l-0.6 0.6l-4.4 0l-8 1.4l-7.6 0.6l-7 1.4l-14 1.6l-2.4 1l-4 0l-6 1.4l-3.6 0l-1.4 1l-3 0l-0.6 0.6l-6 0.4l-5 1.6l-3 0l-2 1l-2.4 0l-10 2.4l-2 0l-2 1l-2.6 0l-2.4 1zM1275.8 511.8l5 13l6 6.4l11 8l18 9.6l28.4 11.4l1.6 0l4 2l1.4 0l1.6 1l12 4l1.4 0l6 2.6l7 1.4l5 2l3.6 0.6l1.4 1l7 1.4l1.6 1l4 0.6l3.4 1.4l2 0l9.6 3l4 0.6l3.4 1.4l7.6 1.6l-0.6-0.6l-1-8.4l-29-7.6l-5.4-2l-3.6-0.4l-1.4-1l-2 0l-12-4l-1.6 0l-1.4-1l-8.6-2l-1.4-1l-3-0.6l-9-3.4l-1.6 0l-7-3l-1.4 0l-2.6-1.6l-3-0.4l-24-10l-5-3l-6-2.6l-11.4-7l-4.6-3.4l-6.4-6.6l-2.6-4.4zM549.8 504.2l-7.6 8l-12 8l-11 5.6l-1 0l-1 1l-6 2l-6 3l-1.4 0l-15.6 6l-3.4 0.4l-1.6 1l-8 2l-1.4 1l-3.6 0.6l-3.4 1.4l-2 0l-10 3l0 1.6l-2 5.4l0 2l8.4-2l3.6-1.4l2 0l5-2l1.4 0l1.6-1l3.4-0.6l8-3l3-0.4l16-6.6l2.6-0.4l19-9l12-8l5.4-5.6zM445.2 439.2l-0.4 3.6l-1.6 3.4l0 2l22 6l9 3.6l6 1.4l1.6 1l2-0.4l2.4-7.6l0-1.4l-16-5.6l-3.4-0.4l-1.6-1l-2 0l-4.4-2l-4-0.6l-7.6-2.4z"/>
<path fill="#ff2400" d="M726.8 620.8l2.4 11l1.6 0l11.4-3l3 0l4-1.6l8-1l4.6-1.4l5-0.6l3-1l3.4 0l2.6-1l9.4-1l2.6-1l3.4 0l7-1.4l3.6 0l3-1l11-1l3.4-1l4.6 0l4.4-1l14.6-1l0.4-0.6l9-0.4l0.6-0.6l7.4 0l4-1l9.6 0l0.4-0.4l7 0l0.6-0.6l2 0.6l0.4-0.6l29-0.4l0.6-0.6l47 0.6l0.4 0.4l11.6 0l0.4 0.6l13.6 0.4l0.4 0.6l2-0.6l0.6 0.6l5 0l0.4 0.4l6.6 0l0.4 0.6l4.6 0l0.4 0.4l11 0.6l4 1l5 0l4 1l5 0l3.6 1l9 0.4l0.4 0.6l13.6 1.4l6.4 1.6l7 0.4l3 1l9 1l12 2.6l3 0l2.6 1l3 0l5 1.4l6 0.6l2 1l2.4 0l2.6 1l3 0l2.4 1l4.6 0.4l4.4 1.6l2.6 0l2 1l2.4 0l2 1l4.6 0.4l7 2l2.4 0l12 3.6l8.6 1.4l2 1l6 1l1.4 1l8 1.6l3.6 1.4l2.4 0l3-11l-7.4-1.4l-2-1l-2 0l-5.6-2l-4-0.6l-17-4.4l-2 0l-4-1.6l-2.4 0l-4.6-1.4l-6.4-1l-2-1l-5.6-0.6l-4-1.4l-3 0l-19.4-4.6l-3 0l-2.6-1l-6-0.4l-2.4-1l-3 0l-3-1l-2.6 0l-5.4-1.6l-3 0l-9.6-2l-7-0.4l-9.4-2l-8-0.6l-7.6-1.4l-25.4-2.6l-0.6-0.4l-5 0l-0.4-0.6l-10.6-0.4l-0.4-0.6l-5 0l-0.6-0.4l-13-0.6l-0.4-0.4l-29-1l-0.6-0.6l-2 0.6l-2-0.6l-52 0l-2 0.6l-1.4-0.6l-0.6 0.6l-20.4 0.4l-0.6 0.6l-6 0l-0.4 0.4l-2-0.4l-4 1l-7 0l-0.6 0.4l-1.4-0.4l-0.6 0.4l-5 0l-0.4 0.6l-9.6 0.4l-5 1l-5.4 0l-4 1l-12 1l-3.6 1l-4 0l-3 1l-3.4 0l-6.6 1.6l-3.4 0l-5 1.4l-2-0.4l-4.6 1.4l-9.4 1l-10 2.6l-1.6-0.6l-2 1l-8 1zM1274.8 508.8l4.4 12l4 4.4l12 9l14.6 8l4.4 1.6l10 5l11.6 4l2.4 1.4l7 2l5.6 2.6l6 1.4l1.4 1l4.6 1l1.4 1l2 0l4.6 2l3.4 0.6l1.6 1l5 1l1.4 1l3.6 0.4l16 5l2 0l13 4l4 0.6l5.4 2l4.6 0.4l-1-9l-15-3.4l-9.6-3l-2 0l-3.4-1.6l-4-0.4l-10.6-3.6l-5.4-1l-4.6-2l-8.4-2l-35-12l-3.6-2l-4-1l-3.4-2l-7-2.4l-17-8.6l-8-5l-7-5.4zM551.8 500.2l-5.6 6l-5 4l-9.4 6l-14.6 7l-18 7l-1.4 0l-1.6 1l-6 1.6l-6 2.4l-28 7.6l-2.4 9l8-1.6l7-2.4l12-3l9-3.6l1.4 0l1.6-1l16-5.4l11.4-5.6l1 0l5-3l1 0l10.6-6.4l7.4-6.6zM446.8 434.2l-2.6 9.6l5.6 1l1.4 1l7 1.4l3 1.6l2 0l1.6 1l5 1l13.4 5l2-0.6l2.6-7.4l0-1.6l-10-3l-4.6-2l-15.4-4l-3.6-1.4l-2 0l-1.4-1z"/>
<path fill="#ff1b00" d="M725.2 615.2l2.6 9.6l0 2l3-1l7-1l2-1l3 0l2.4-1l4.6-0.6l2-1l6-0.4l6.4-2l9.6-1l1.4-1l3.6 0l6-1.6l11-1l13-2.4l4 0l3.4-1l13.6-1l4.4-1l5 0l3.6-1l6 0l0.4-0.6l18-1l0.6-0.4l7.4 0l0.6-0.6l37.4-1l0.6-0.4l0.4 0.4l5 0l0.6-0.4l0.4 0.4l2.6 0l0.4-0.4l0.6 0.4l1.4-0.4l1 0.4l1.6-0.4l1 0.4l1.4-0.4l0.6 0.4l1.4-0.4l1 0.4l24 0l0.6 0.6l11.4 0l0.6 0.4l15.4 0.6l0.6 0.4l7 0l0.4 0.6l6.6 0l0.4 0.4l4.6 0l0.4 0.6l6 0l4 1l5.6 0l0.4 0.4l9.6 0.6l8 1.4l4.4 0l4 1l14.6 1.6l3 1l4 0l3 1l3.4 0l3.6 1l3.4 0l5.6 1.4l6.4 0.6l2 1l3.6 0l16.4 3.4l3 0l7 2l3 0l2 1l7.6 1l4.4 1.6l2.6 0l2 1l7.4 1l1.6 1l5 0.4l6 2l2.4 0l2 1l4.6 0.6l4 1.4l4 0.6l12 3.4l2 0l1.4 1l2.6 0l5.4 2l1.6 0l3-11l-7-1.4l-2-1l-2 0l-5.6-2l-2 0l-10-2.6l-2-1l-8.4-1.4l-2-1l-2.6 0l-2.4-1l-2.6 0l-4.4-1.6l-4.6-0.4l-1.4-1l-2.6 0l-16.4-4l-6-0.6l-2-1l-3 0l-2-1l-5.6-0.4l-5-1.6l-3 0l-2.4-1l-3 0l-6-1.4l-3.6 0l-3-1l-12-1.6l-3-1l-18-2l-0.4-0.4l-10-1l-0.6-0.6l-4 0l-4-1l-5.4 0l-3-1l-14.6-1l-0.4-0.4l-18-1l-0.6-0.6l-5 0l-0.4-0.4l-1.6 0.4l-0.4-0.4l-5 0l-0.6-0.6l-7.4 0l-0.6-0.4l-10.4 0l-0.6-0.6l-14 0l-0.4-0.4l-2.6 0l-0.4 0.4l-0.6-0.4l-39 0l-0.4 0.4l-0.6-0.4l-2.4 0l-1 0.4l-1.6-0.4l-0.4 0.4l-22 0.6l-0.6 0.4l-6 0l-0.4 0.6l-9 0l-0.6 0.4l-18 1l-0.4 0.6l-4.6 0l-0.4 0.4l-4.6 0l-0.4 0.6l-4.6 0l-4.4 1l-16.6 1.4l-0.4 0.6l-16.6 2l-2.4 1l-1.6-0.6l-5 1.6l-10 1l-1.4 1l-6.6 0.4l-7.4 2l-6 0.6l-2 1l-7.6 1.4l-3 0l-4 1.6l-2.4 0l-4.6 1.4zM1272.8 503.8l4.4 12l7 7.4l11.6 8l1 0l3.4 2.6l2 0.4l9 5l24 10l3 0.6l2.6 1.4l1.4 0l1.6 1l4 1l1.4 1l1.6 0l1.4 1l1.6 0l3 1.6l1.4 0l1.6 1l3 0.4l1.4 1l8.6 2l1.4 1l1.6 0l5 2l1.4 0l5.6 2l2 0l1.4 1l3.6 0.6l14.4 4.4l6 1l1.6 1l2 0l2 1l2 0l4 1.6l3.4 0.4l-1.4-9.4l-6.6-1l-3.4-1.6l-2 0l-15-4.4l-2 0l-2-1l-3.6-0.6l-21-6.4l-1.4 0l-1.6-1l-3.4-0.6l-6.6-2.4l-1.4 0l-1.6-1l-1.4 0l-1.6-1l-10.4-3l-2.6-1.6l-4.4-1l-28-11.4l-1-1l-1 0l-9-4.6l-13.6-8.4l-9.4-9l-1.6-3zM554.2 495.2l-7.4 8l-4.6 3.6l-11 6.4l-9.4 4.6l-27.6 10.4l-5 1l-1.4 1l-6.6 1.6l-6.4 2.4l-5.6 1l-1.4 1l-10 2l-2 6l-0.6 3.6l19.6-5l1.4-1l1.6 0l3.4-1.6l5-1l1.6-1l1.4 0l6-2.4l1.6 0l2.4-1.6l4-1l1.6-1l1.4 0l6-3l6-2l1-1l1 0l11-5.4l12-8l5-5zM448.2 429.8l-3 9.4l3.6 0.6l5 2l4 0.4l4.4 2l2 0l1.6 1l3.4 0.6l15.6 5.4l2-0.4l2.4-7.6l0-1.4l-16.4-5.6l-3.6-0.4l-1.4-1l-2 0l-3.6-1.6l-5-1l-1.4-1z"/>
<path fill="#ff1100" d="M724.2 610.2l2.6 11l2 0l2-1l4.4-0.4l4.6-1.6l2.4 0l8-2l2.6 0l2-1l3 0l7-2l12.4-1.4l2-1l4.6 0l2.4-1l6-0.6l6.6-1.4l3.4 0l0.6-0.6l18.4-2l4-1l4 0l0.6-0.4l10.4-0.6l0.6-0.4l15.4-1l0.6-0.6l13-0.4l0.4-0.6l16.6-0.4l0.4-0.6l1.6 0.6l0.4-0.6l11.6 0l0.4-0.4l0.6 0.4l1.4-0.4l48 0l0.6 0.4l24 0.6l0.4 0.4l7 0l0.6 0.6l7.4 0l0.6 0.4l18 1l0.4 0.6l10 0.4l8 1.6l5.6 0l0.4 0.4l3.6 0l4.4 1l4 0l0.6 0.6l3.4 0l0.6 0.4l6.4 0.6l7 1.4l3.6 0l3.4 1l7 0.6l0.6 0.4l8.4 1l2.6 1l3.4 0l8.6 2l3 0l2.4 1l6 0.6l2.6 1l3 0l5 1.4l5 0.6l2 1l12.4 2l2 1l9.6 1.4l11 3l2.4 0l2 1l8.6 1.6l4 1.4l8.4 1.6l1.6 1l2 0l16 4.4l3.4-11.4l-3 0l-5-2l-2.4 0l-3-1.6l-6.6-1l-1.4-1l-2.6 0l-8-2.4l-4.4-0.6l-2-1l-6.6-1l-11-3l-7.4-1l-2-1l-3 0l-4-1.4l-5.6-0.6l-2-1l-5.4-0.4l-7-2l-6-0.6l-2.6-1l-3 0l-13.4-3l-3.6 0l-2.4-1l-3.6 0l-9.4-2l-7-0.4l-3.6-1l-10.4-1l-0.6-0.6l-3 0l-7.4-1.4l-13.6-1l-4-1l-10.4-0.6l-4-1l-6.6 0l-0.4-0.4l-4.6 0l-0.4-0.6l-7.6 0l-0.4-0.4l-5 0l-0.6-0.6l-7.4 0l-0.6-0.4l-7.4 0l-0.6-0.6l-11.4 0l-0.6-0.4l-17 0l-0.4-0.6l-1.6 0.6l-0.4-0.6l-26.6 0l-2.4 0.6l-2.6-0.6l-0.4 0.6l-28.6 0.4l-0.4 0.6l-7.6 0l-0.4 0.4l-26.6 1.6l-0.4 0.4l-4.6 0l-0.4 0.6l-9.6 0.4l-0.4 0.6l-8.6 0.4l-4 1l-8.4 0.6l-0.6 0.4l-10 1l-6.4 1.6l-7 0.4l-5.6 1.6l-7 0.4l-1.4 1l-6.6 0.6l-7.4 2l-3 0l-2 1l-13.6 2zM1271.2 500.2l4.6 11.6l5 5.4l7 5.6l8 5l17 8.4l7 2.6l3.4 2l4 1l3.6 2l35 12l8.4 2l4.6 2l5.4 1l10.6 3.4l4 0.6l5 2l4 0.4l1.4 1l2.6 0l9.4 3l2 0l4 1.6l2.6 0l-1.6-9l-1-0.6l-4.4-0.4l-3.6-1.6l-10-2l-1.4-1l-6-1l-5.6-2l-14.4-3.4l-3-1.6l-5.6-1l-1.4-1l-2 0l-3-1.4l-3.6-0.6l-1.4-1l-18-5.4l-5.6-2.6l-6-1.4l-2.4-1.6l-4-1l-2.6-1.4l-8.4-3l-1-1l-2.6-0.6l-15.4-7.4l-10.6-6.6l-6.4-5zM556.2 491.2l-6 6.6l-5 4l-8 5l-12 6l-16 6.4l-1.4 0l-5.6 2.6l-12 4l-3.4 0.4l-3 1.6l-24.6 6.4l-2 5l-0.4 4l18.4-4.4l1.6-1l8.4-2l3-1.6l4.6-1l6-2.4l1.4 0l18-7l14.6-7l9.4-6l7.6-6.6zM449.2 425.2l-2.4 9.6l25.4 7l14 5l2-0.6l2.6-7.4l-0.6-1.6l-14.4-5l-5.6-1l-1.4-1l-3.6-0.4l-10.4-3.6l-4-0.4l-1-1z"/>
<path fill="#ff0700" d="M696.8 497.8l12 47l0 2l4 14.4l2 10.6l11 44.4l5-1l2-1l2.4 0l2-1l3 0l2.6-1l10-1.4l2-1l3 0l7.4-2l6.6-0.6l1.4-1l7-0.4l6-1.6l3.6 0l9.4-2l3.6 0l3-1l25.4-2.4l4-1l1.6 0.4l0.4-0.4l4 0l4-1l6.6 0l5-1l16-0.6l0.4-0.4l7.6 0l0.4-0.6l10 0l0.6-0.4l17 0l0.4-0.6l36 0l2.6 0.6l1-0.6l0.4 0.6l23 0.4l0.6 0.6l8.4 0l0.6 0.4l6 0l0.4 0.6l19.6 1l5 1l16 1l3 1l5.4 0l4 1l4 0l0.6 0.4l3.4 0l7 1.6l18 2l5.6 1.4l3.4 0l9 2l3.6 0l3 1l6 0.6l2.4 1l3 0l5 1.4l5.6 0.6l2 1l3 0l2 1l6 0.4l9 2.6l10 1.4l1.4 1l4.6 0.6l4.4 1.4l2.6 0l6 2l7 1l2 1l2 0l12 3.6l2 0l4 1.4l2 0l2 1l7.4 1.6l4.6-14.6l1-5.4l1-2l7-26l1-2l4.4-17.6l1-2l0-1.4l1-2l0-1.6l1-2l0-1.4l1-2l0-1.6l1-2l0-1.4l2.6-7l0.4-3.6l6.6-20.4l-8.6-2.6l-2.4 0l-3.6-1.4l-5-0.6l-4-1.4l-6.4-1l-6.6-2l-2.4 0l-2-1l-5-0.6l-2-1l-10-1.4l-4-1.6l-13-2l-1.6-1l-2.4 0l-5.6-1.4l-3 0l-2-1l-3.4 0l-4.6-1.6l-16.4-2.4l-2.6-1l-6-0.6l-5.4-1.4l-3.6 0l-15-3l-3.4 0l-2.6-1l-4 0l-0.4-0.6l-9-1l-0.6-0.4l-4 0l-6.4-1.6l-4 0l-0.6-0.4l-7.4-0.6l-4-1l-5 0l-3-1l-10-0.4l-4-1l-21-1.6l-0.6-0.4l-5.4 0l-0.6-0.6l-6 0l-0.4-0.4l-6 0l-0.6-0.6l-26.4-1l-0.6-0.4l-67-0.6l-0.4 0.6l-22.6 0.4l-0.4 0.6l-16.6 0.4l-0.4 0.6l-25 1.4l-5 1l-10.6 0.6l-0.4 0.4l-3.6 0l-4.4 1l-4 0l-0.6 0.6l-3.4 0l-4.6 1l-4.4 0l-6 1.4l-1.6-0.4l-13 2.4l-4.4 0l-5 1.6l-10.6 1l-2.4 1l-3.6 0l-14 3l-3 0l-2.4 1l-8.6 1l-2 1l-3 0zM1272.2 431.8l-8 24l0 1.4l-1 1.6l0 1.4l-2.4 6.6l-1.6 6l2 2l13 33l6.6 6.4l9 6.6l7 4l16.4 8l22.6 9l1.4 0l5.6 2.4l4.4 1l1.6 1l3 0.6l6 2.4l11.4 3l1.6 1l1.4 0l8.6 3l3.4 0.6l2 1l10.6 2.4l2 1l2 0l13 4l4 0.6l3.4 1.4l2.6 0l5 1.6l0-3l-0.6-0.6l-1-9.4l-2.4-13l0-3l-0.6-0.6l-1.4-12l-1.6-6.4l0-3l-1-3l0-3l-0.4-0.6l0-2.4l-0.6-0.6l0-2.4l-0.4-0.6l0-2.4l-0.6-0.6l0-2.4l-0.4-0.6l0-2.4l-0.6-0.6l0-2.4l-0.4-0.6l0-2.4l-0.6-0.6l0-2.4l-3-16l-2.4 0l-6.6-2l-6.4-1l-2-1l-2 0l-10-3l-2 0l-10.6-3l-2 0l-15-4.6l-2 0l-5-2l-6-1l-3.4-1.4l-15.6-4l-6.4-2.6l-5-1l-4.6-2l-1.4 0l-1.6-1l-1.4 0l-3-1.4l-1.6 0l-3-1.6l-4.4-1l-2.6-1.4l-1.4 0l-12-5zM478.8 330.2l-2 0.6l-1 4.4l-2 5l0 1.6l-7 22l-3 12l-2.6 7l-0.4 3.4l-1.6 3.6l0 1.4l-6 19.6l-0.4 3.4l-1.6 3.6l-3 12.4l4.6 1.6l2 0l1.4 1l5 1l3.6 1.4l2 0l1.4 1l3.6 0.6l14 5l1.4 0l1 1l0 1l-9.4 27.4l-0.6 3l-1 1.6l0 1.4l-3.4 9.6l0 1.4l-1 1.6l0 1.4l-3 8l0 1.6l-2.6 6.4l0 1.6l-2.4 6.4l0 1.6l-3 8l0 1.4l-4 12.6l2.4 0l6.6-2l2 0l1.4-1l5.6-1l35-11.6l21.4-9.4l11-6.6l4.6-3.4l5-5l27.4-54.6l17.6-32l8.4-14l-0.4-0.4l0 1l-7.6 6.4l-8 5l-10 5l-13.4 5.6l-35.6 11.4l-41 10l-0.4-1.4l12.4-35.6l14.6-37.4l7.4-17.6l2.6-4.4l0-2.6l-8-2l-3.6-1.4l-2 0l-2-1l-5.4-1l-1.6-1l-2 0l-1.4-1l-2 0z"/>
<path fill="#ff0000" d="M692.2 479.8l16.6 65l0 2l4 14.4l0 2l2 6.6l0 2l3.4 12.4l0 2l2.6 8.6l0 2l3.4 14l4.6-0.6l3.4-1.4l5.6-0.6l9.4-2.4l5.6-0.6l2-1l3 0l7.4-2l6.6-0.4l2.4-1l6-0.6l3-1l4 0l2.6-1l10-1l3.4-1l8.6-0.4l3.4-1l4 0l0.6-0.6l16.4-1.4l0.6-0.6l5.4 0l4-1l7.6 0l0.4-0.4l18.6-1l0.4-0.6l21.6-0.4l0.4-0.6l19.6 0l0.4-0.4l1.6 0.4l1.4-0.4l1 0.4l1.6-0.4l4.4 0l0.6 0.4l1.4-0.4l2 0.4l1.6-0.4l0.4 0.4l1.6-0.4l2 0.4l22 0l0.4 0.6l2-0.6l0.6 0.6l9.4 0l0.6 0.4l15.4 0.6l0.6 0.4l1.4-0.4l0.6 0.4l5 0l0.4 0.6l19.6 1l4 1l5 0l4.4 1l18.6 1.4l0.4 0.6l10 1l3.6 1l4 0l6 1.4l3.4 0l10.6 2l3 0l11.4 2.6l23.6 3.4l2 1l8 1l7 2l3 0l4 1.6l3 0l2 1l5 0.4l1.4 1l5.6 0.6l8 2.4l2.4 0l6 2l4.6 0.6l10.4 3l2 0l7.6 2.4l2.4 0l5 2l3.6 0l3-9l1-5.4l9-30l0.4-3.6l1-2l8-29.4l2.6-7l0.4-3.6l2-5l0.6-3.4l2-5l0.4-3.6l6.6-20.4l-0.6-1l-10-2l-4-1.6l-5-0.4l-2-1l-6.4-1l-15.6-4l-2.4 0l-2-1l-12.6-2l-2.4-1l-9.6-1.6l-10-2.4l-5.4-0.6l-2-1l-3 0l-2-1l-3.6 0l-7.4-2l-6-0.4l-5-1.6l-6.6-0.4l-2.4-1l-6-0.6l-5.6-1.4l-9.4-1l-3-1l-3.6 0l-3-1l-14-1.6l-3-1l-7.4-0.4l-3.6-1l-4.4 0l-3.6-1l-9-0.6l-0.4-0.4l-3.6 0l-8-1.6l-5 0l-4-1l-22.4-1.4l-0.6-0.6l-5 0l-0.4-0.4l-6.6 0l-0.4-0.6l-14.6-0.4l-0.4-0.6l-10 0l-0.6-0.4l-39-0.6l-0.4-0.4l-2.6 0.4l-0.4-0.4l-2.6 0l-0.4 0.4l-0.6-0.4l-1.4 0.4l-28 0l-0.6 0.6l-22.4 0.4l-0.6 0.6l-16.4 0.4l-0.6 0.6l-5.4 0l-0.6 0.4l-5.4 0l-0.6 0.6l-6 0l-0.4 0.4l-24.6 2l-4 1l-8.4 0.6l-0.6 0.4l-3.4 0l-0.6 0.6l-11.4 1l-7 1.4l-7 0.6l-6 1.4l-23 3l-8 2l-3 0l-3 1l-8.6 1l-10.4 2.6l-2.6 0l-2 1zM1275.8 421.2l-11.6 34.6l0 1.4l-1 1.6l0 1.4l-2.4 6.6l-1.6 6l2 2l11 28l5.6 6l6.4 5l10.6 6.4l15.4 7.6l2.6 0.4l1 1l8.4 3l2.6 1.6l4 1l2.4 1.4l6 1.6l5.6 2.4l12 4l1.4 0l6 2.6l3.6 0.4l6.4 2.6l5.6 1l3 1.4l9 2l5 2l4 0.6l7.4 2.4l8 1.6l2 1l2 0l3.6 1.4l6.4 1l-1-8.4l-1.4-6.6l0-3l-1-3.4l0-3l-2-9.6l0-3l-1.6-6.4l0-3l-1-3l0-3l-0.4-0.6l0-2.4l-0.6-0.6l0-2.4l-0.4-0.6l0-2.4l-0.6-0.6l0-2.4l-0.4-0.6l0-2.4l-0.6-0.6l0-2.4l-0.4-0.6l0-2.4l-0.6-0.6l0-2.4l-0.4-0.6l0-2.4l-0.6-0.6l0-2.4l-1-3l0-2.6l-0.4-0.4l0-2.6l-1-3l-2-13l-4.6-0.4l-6-2l-2 0l-21.4-5.6l-2 0l-11.6-3.4l-6.4-1l-1.6-1l-4-0.6l-5.4-2l-4-0.4l-2-1l-3.6-0.6l-1.4-1l-2 0l-2-1l-15.6-4l-6.4-2.4l-1.6 0l-5-2l-8-2l-1.4-1l-1.6 0l-13-5zM483.8 315.2l-2.6 0.6l0 1.4l-2.4 6.6l0 1.4l-12 38.6l0 1.4l-17.6 60l0.6 1l4 0.6l7 2.4l7 1.6l1.4 1l3.6 0.4l3 1.6l2 0l12 4.4l-11 33l0 1.6l-1.6 3l0 1.4l-3.4 9.6l0 1.4l-1 1.6l0 1.4l-13 40l-0.6 3.6l11.6-2.6l3.4-1.4l10.6-2.6l3-1.4l3.4-0.6l23-8l2.6-1.4l9.4-3.6l12-6l8-5l5-4l4-4.4l13-26.6l1-1l18-35l14.6-26l13-21.4l-0.6-0.6l-4 4.6l-9.4 6.4l-5.6 3l-17.4 7.6l-16 5.4l-1.6 0l-1.4 1l-5 1l-3 1.6l-7 1.4l-3.6 1.6l-45 11l-0.4-1l2.4-7.6l1-1.4l2-7l1-1.6l8.6-24l14.4-35l9.6-19.4l0-2l-6-1.6l-1.6-1l-2 0l-1.4-1l-2 0l-7.6-2.4l-2 0l-1.4-1l-2 0l-2-1l-4-0.6l-2-1l-4-0.4l-3-1.6l-2.6 0z"/>
<path fill="#fa0000" d="M687.8 463.8l9 34.4l5-0.4l2.4-1l2.6 0l10.4-2.6l5.6-0.4l2.4-1l2.6 0l8-2l3.4 0l2-1l19.6-2.6l5-1.4l4.4 0l10-2l4.6 0l2.4-1l5 0l3.6-1l5 0l0.4-0.6l7.6-0.4l3.4-1l5.6 0l0.4-0.6l14.6-1l5-1l12.4-0.4l0.6-0.6l6 0l0.4-0.4l8 0l0.6-0.6l8 0l0.4-0.4l27-0.6l0.6-0.4l58.4 0.4l0.6 0.6l12 0l0.4 0.4l22.6 1l0.4 0.6l6 0l0.6 0.4l5.4 0l0.6 0.6l21 1.4l4 1l10 0.6l3 1l13 1l0.4 0.4l10.6 1l10.4 2l3.6 0l6.4 1.6l7 0.4l3 1l6 0.6l6 1.4l3.6 0l8.4 2l3 0l8 2l6 0.6l9.6 2.4l3.4 0l2 1l3 0l12 3l3 0l1.6 1l3 0l2.4 1l2.6 0l2 1l2.4 0l2 1l14 2.6l6.6 2l5 0.4l8.4 2.6l6.6 1l2 1l2.4 0l2 1l7 1.4l10.6-34l-10-2.4l-2.6 0l-3.4-1.6l-5-0.4l-2-1l-11-2l-6.6-2l-2.4 0l-9.6-2.6l-10-1.4l-2-1l-7.4-1l-7-2l-3.6 0l-2.4-1l-2.6 0l-2-1l-5.4-0.6l-7.6-2l-6.4-0.4l-3-1l-2.6 0l-2-1l-6-0.6l-2.4-1l-3 0l-21-4l-4 0l-3-1l-20-2.4l-3.6-1l-3.4 0l-0.6-0.6l-3.4 0l-0.6-0.4l-7.4-0.6l-3.6-1l-4 0l-0.4-0.4l-8-0.6l-0.6-0.4l-4.4 0l-4-1l-5 0l-0.6-0.6l-4.4 0l-5-1l-5.6 0l-5-1l-13.4-0.4l-0.6-0.6l-6 0l-0.4-0.4l-6 0l-0.6-0.6l-8 0l-0.4-0.4l-10.6 0l-0.4-0.6l-69-0.4l-0.6 0.4l-13.4 0l-0.6 0.6l-27 1l-0.4 0.4l-24.6 1.6l-0.4 0.4l-15 1l-0.6 0.6l-8.4 0.4l-4 1l-8.6 0.6l-8 1.4l-4 0l-0.4 0.6l-10 1l-3.6 1l-4 0l-12.4 2.4l-3.6 0l-2.4 1l-3 0l-6.6 1.6l-3.4 0l-5 1.4l-12 1.6l-4.6 1.4l-3 0zM1272.8 430.2l0 2l1.4 1l35.6 12.6l5 1l6.4 2.4l15.6 4l3.4 1.6l6 1l5 2l2 0l15 4.4l2 0l10.6 3l2 0l1.4 1l2.6 0l10 3l2 0l14.4 3.6l-5-28.6l-5.4-1.4l-2.6 0l-4-1.6l-2.4 0l-2-1l-4.6-0.4l-2-1l-4-0.6l-6.4-2l-2 0l-10-3l-2.6 0l-2-1l-11.4-2.4l-2-1l-2 0l-1.6-1l-2 0l-4-1.6l-5.4-1l-3.6-1.4l-9-2l-15.4-5l-5-1l-14-5l-3-0.6zM623.2 369.8l-6.4 6l-8.6 5.4l-1 0l-1 1l-12 5.6l-13 5l-21.4 7l-2 0l-5 2l-2 0l-14.6 4.4l-6 1l-4 1.6l-4.4 0.4l-8 2.6l-2.6 0l-6.4 2l-6.6 1l-7 20.4l-1 1.6l-1.4 4.4l0 2l8-1.4l2-1l2 0l8.4-2.6l2 0l2-1l2 0l2-1l15-3.4l5-2l13-3.6l27.6-10l13.4-6.4l8-5l5.6-5l4-7.6zM485.8 301.8l-9 29l5.4 1l2 1l2 0l3.6 1.4l2 0l6 2l2 0l1.4 1l2 0l1.6 1l5.4 1l3.6 1.6l2 0l5 2l6.4 1.4l1.6-4l1-1l0-1l11-21l0-1.4l-8-2l-1.6-1l-2 0l-3.4-1.6l-6-1l-1.6-1l-4-0.4l-1.4-1l-2.6 0l-3.4-1.6l-8-1.4l-6-2z"/>
<path fill="#f10000" d="M684.2 450.8l8 30l24-5l2.6 0l2.4-1l6-0.6l8-2l3.6 0l2.4-1l6-0.4l3-1l10.6-1l6-1.6l7-0.4l7-1.6l4 0l0.4-0.4l11-1l0.6-0.6l13.4-1l4-1l4.6 0l0.4-0.4l4.6 0l0.4-0.6l4.6 0l0.4-0.4l4.6 0l0.4-0.6l7.6 0l0.4-0.4l5 0l0.6-0.6l21.4-1l0.6-0.4l24-0.6l0.4-0.4l58 0l0.6 0.4l12 0l0.4 0.6l26.6 1l0.4 0.4l6.6 0l0.4 0.6l5 0l0.6 0.4l4.4 0l0.6 0.6l16.4 1l0.6 0.4l9.4 0.6l0.6 0.4l3.4 0l8 1.6l5 0l7.6 1.4l3.4 0l7.6 1.6l3.4 0l4 1l14 1.4l5.6 1.6l7 0.4l5.4 1.6l3.6 0l5.4 1.4l12.6 1.6l2.4 1l8.6 1l7.4 2l3.6 0l2 1l3 0l2 1l5.4 0.4l10 2.6l9.6 1.4l2.4 1l2.6 0l2 1l9.4 1.6l2.6 1l2.4 0l4 1.4l5 0.6l4.6 1.4l4.4 0.6l4 1.4l2 0l18.6 4.6l8-27l1.4-0.6l-0.4-2l-6-1.4l-2.6 0l-9-2.6l-2 0l-2-1l-7-1l-4-1.4l-2.4 0l-7-2l-2.6 0l-7-2l-7-1l-2-1l-3 0l-12-3l-3 0l-12.4-3l-5.6-0.6l-2-1l-6.4-0.4l-7.6-2l-2.4 0l-6-1.6l-3.6 0l-2-1l-3.4 0l-17.6-3.4l-6.4-0.6l-10-2l-3.6 0l-0.4-0.4l-16-2l-0.6-0.6l-3.4 0l-0.6-0.4l-19-2l-4-1l-4 0l-0.4-0.6l-9.6-0.4l-4.4-1l-11-0.6l-0.6-0.4l-16-1l-0.4-0.6l-7.6 0l-0.4-0.4l-5 0l-0.6-0.6l-27.4-1l-0.6-0.4l-2 0.4l-0.4-0.4l-14 0l-0.6-0.6l-1.4 0.6l-0.6-0.6l-41 0l-0.4 0.6l-16 0l-0.6 0.4l-10.4 0l-0.6 0.6l-7 0l-0.4 0.4l-10 0l-0.6 0.6l-7 0l-0.4 0.4l-17.6 1l-0.4 0.6l-5 0l-0.6 0.4l-19 1.6l-4 1l-8.4 0.4l-0.6 0.6l-12 1l-7 1.4l-4 0l-3 1l-11 1l-6 1.6l-7 0.4l-5.4 1.6l-3.6 0l-5.4 1.4l-6.6 0.6l-2.4 1l-5.6 0.4l-5.4 1.6l-14 2l-2.6 1zM1280.2 409.8l-4 10l0 1.4l12.6 4l1.4 1l1.6 0l1.4 1l1.6 0l19.4 6.6l1.6 0l16 5l2 0l1.4 1l3.6 0.4l2 1l2 0l7.4 2.6l4 0.4l1.6 1l6.4 1l11.6 3.6l2 0l8.4 2.4l10.6 2l4 1.6l2.4 0l6 2l3.6 0l-4-22l-1-2.6l-2 0l-15.6-4l-4.4-0.4l-6-2l-2 0l-4.6-1.6l-6-1l-2-1l-2 0l-2-1l-12.4-2.4l-3.6-1.6l-2 0l-4-1.4l-4-0.6l-3.4-1.4l-6-1l-3.6-1.6l-2 0l-1.4-1l-5.6-1l-27-8.4l-1.4 0zM630.2 358.8l-0.4 0l-0.6 1.4l-6 5l-10 6l-1 0l-11 5.6l-12 4l-1.4 1l-4.6 1l-1.4 1l-3 0.4l-8 3l-7 1.6l-1.6 1l-11 2.4l-5.4 2l-2 0l-10 3l-2 0l-13 3.6l-2 0l-2 1l-13 2.4l-7 21l-1 1.6l0 2l10-2l8.4-2.6l2 0l2-1l2 0l4-1.4l6-1l2-1l21.6-5.6l1.4-1l6.6-1.4l1.4-1l1.6 0l16-5.6l17.4-7.4l10.6-6l6.4-5.6zM481.2 315.8l4 0.4l4 1.6l2.6 0l3 1.4l2 0l4 1.6l8 1.4l1.4 1l2 0l7.6 2.6l2 0l3 1.4l3.4 0.6l1.6 1l4.4 1l6.6-13l6-9.6l0.4-2l-1.4 0l-3-1.4l-5.6-1l-2-1l-2 0l-7-2.6l-6-1l-1.4-1l-2.6 0l-1.4-1l-4-0.4l-8-2.6l-2.6 0l-1.4-1l-2.6 0l-1.4-1l-5-1z"/>
<path fill="#e90101" d="M680.8 437.8l7.4 27l2.6-1l3 0l2.4-1l2.6 0l2.4-1l3 0l2-1l3 0l5.6-1.6l5.4-0.4l2.6-1l3 0l2.4-1l3.6 0l3-1l9-1l2.4-1l3.6 0l6-1.6l10.4-1l0.6-0.4l6.4-0.6l7-1.4l1.6 0.4l3-1l3.4 0l4-1l13-1l4.6-1l5.4 0l0.6-0.4l4 0l4.4-1l10.6-0.6l0.4-0.4l1.6 0.4l4.4-1l7.6 0l0.4-0.4l22-1l0.6-0.6l27.4-0.4l0.6-0.6l44.4 0l0.6 0.6l2-0.6l0.4 0.6l25.6 0.4l0.4 0.6l15.6 0.4l0.4 0.6l30.6 2l5 1l10 0.4l4 1l17.4 1.6l7 1.4l4 0l3.6 1l4.4 0l3.6 1l13.4 1.6l9.6 2l4 0l2.4 1l7 0.4l5.6 1.6l17.4 2.4l2 1l2.6 0l3 1l6.4 0.6l2.6 1l8 1l12 3l3 0l5 1.4l7.4 1l2 1l5 0.6l2 1l10 1.4l4.6 1.6l2.4 0l4.6 1.4l8.4 1.6l2 1l9 1.4l2 1l2.6 0l10.4 3l3.6-11.4l1.4-0.6l1-5.4l2.6-6.6l0-2.4l-1-0.6l-2 0l-8-2.4l-2.6 0l-2-1l-2.4 0l-2-1l-2.6 0l-6.4-2l-4.6-0.6l-2.4-1l-7-1l-4.6-1.4l-2.4 0l-12.6-3l-2.4 0l-2-1l-5-0.6l-7.6-2l-3 0l-12.4-3l-5.6-0.4l-2.4-1l-2.6 0l-19.4-4l-3.6 0l-2.4-1l-3.6 0l-8-2l-6.4-0.6l-3-1l-6.6-0.4l-0.4-0.6l-9.6-1l-6.4-1.4l-3.6 0l-3.4-1l-3.6 0l-3.4-1l-4 0l-0.6-0.6l-7-0.4l-8-1.6l-5 0l-0.4-0.4l-7.6-0.6l-4-1l-31.4-2.4l-0.6-0.6l-5.4 0l-0.6-0.4l-6 0l-0.4-0.6l-23.6-1l-0.4-0.4l-31-0.6l-0.6-0.4l-1.4 0.4l-1-0.4l-28 0l-0.6 0.4l-1.4-0.4l-0.6 0.4l-19.4 0l-0.6 0.6l-10 0l-0.4 0.4l-11 0l-0.6 0.6l-14.4 0.4l-0.6 0.6l-5.4 0l-0.6 0.4l-7 0l-0.4 0.6l-4.6 0l-0.4 0.4l-5.6 0l-5 1l-5.4 0l-0.6 0.6l-13.4 1l-4.6 1l-4.4 0l-0.6 0.4l-15 1.6l-7 1.4l-4.4 0l-6 1.6l-7.6 0.4l-2.4 1l-10.6 1l-6 1.6l-23.4 3.4zM1280.2 408.8l0 2.4l1.6 0l14 5l5 1l15.4 5l5.6 1l14.4 4.6l4 0.4l1.6 1l2 0l2 1l8 1.6l5.4 2l2.6 0l2 1l2 0l6 2l10.4 2l8 2.4l5 0.6l6 2l7 1l-4-21.6l-1.4-1l-4.6-0.4l-6.4-2l-2.6 0l-2-1l-4.4-0.6l-2-1l-6.6-1l-10.4-3l-4-0.4l-2-1l-4.6-0.6l-4-1.4l-8-1.6l-4-1.4l-2 0l-2-1l-13.4-3l-3.6-1.6l-18-4.4l-10.4-3.6l-2 0zM637.2 348.2l-0.4 0l-0.6 1.6l-4.4 3.4l-8.6 5.6l-1 0l-1 1l-9.4 4.4l-2.6 0.6l-9 4l-16.4 5.4l-15.6 4l-3.4 1.6l-2 0l-5.6 2l-20 5l-6.4 1l-4 1.4l-2.6 0l-2 1l-16.4 3.6l-7.6 21.4l3 0l11-3l2.6 0l8-2.4l4.4-0.6l2-1l8-1.4l3.6-1.6l2 0l9-3l2 0l5-2l2 0l27-9l15.4-6.4l12.6-7l5.4-4.6zM485.8 302.2l20 4.6l3.4 1.4l2.6 0l1.4 1l2 0l9 3l6 1l1.6 1l5.4 1l1.6 1l2.4 0l6-10.4l6.6-9l0-2l-8.6-2l-5.4-2l-2 0l-5.6-2l-5.4-1l-2-1l-2 0l-2-1l-2 0l-2-1l-10-2l-2-1l-2.6 0l-2-1l-7-1z"/>
<path fill="#e10101" d="M676.8 424.2l7.4 27l8-1l2.6-1l8-1l2.4-1l6-0.4l2-1l8.6-1l3-1l9.4-1l3-1l6-0.6l2.6-1l3.4 0l6-1.4l11-1l3-1l4 0l0.6-0.6l3 0l3.4-1l4.6 0l8-1.4l9.4-0.6l3-1l21-1.4l5-1l6 0l4.6-1l1.4 0.4l0.6-0.4l5.4 0l0.6-0.6l16-0.4l0.4-0.6l7 0l0.6-0.4l30.4-0.6l0.6-0.4l1.4 0.4l1.6-0.4l49 0.4l0.4 0.6l13 0l0.6 0.4l8 0l0.4 0.6l6.6 0l0.4 0.4l6.6 0l0.4 0.6l7.6 0l0.4 0.4l5.6 0l0.4 0.6l5 0l0.6 0.4l4.4 0l0.6 0.6l11 0.4l4.4 1l21.6 2l7.4 1.6l4.6 0l7 1.4l7.4 0.6l10 2l3.6 0l3 1l13.4 1.4l3 1l9 1l5.6 1.6l3.4 0l2 1l6.6 0.4l3 1l7.4 1l2.6 1l3 0l5.4 1.6l15.6 2.4l4.4 1.6l3 0l2.6 1l5 0.4l2.4 1l12 2l9 2.6l2.6 0l2.4 1l13.6 2.4l2 1l4.4 0.6l19 4.4l1-4.4l2.6-6.6l0-1.4l1-1.6l0-1.4l3.4-9.6l0-2l-8.4-1.4l-6-2l-9.6-1.6l-2-1l-7-1l-21-5l-2.4 0l-2-1l-3 0l-4.6-1.4l-10.4-1.6l-9.6-2.4l-3 0l-10.4-2.6l-5.6-0.4l-2.4-1l-6-0.6l-5-1.4l-6-0.6l-5.6-1.4l-6-0.6l-3-1l-2.4 0l-12.6-2.4l-3 0l-3-1l-3 0l-3.4-1l-3.6 0l-3.4-1l-17.6-2l-4-1l-3.4 0l-7.6-1.6l-20-2l-0.4-0.4l-5 0l-0.6-0.6l-4.4 0l-0.6-0.4l-14-1l-0.4-0.6l-5.6 0l-0.4-0.4l-6 0l-0.6-0.6l-6 0l-0.4-0.4l-6 0l-0.6-0.6l-6 0l-0.4-0.4l-8 0l-0.6-0.6l-9.4 0l-0.6-0.4l-34.4-0.6l-0.6-0.4l-43.4 0.4l-0.6 0.6l-11.4 0l-0.6 0.4l-26 1l-0.4 0.6l-5 0l-0.6 0.4l-7 0l-0.4 0.6l-5 0l-0.6 0.4l-11.4 0.6l-0.6 0.4l-4 0l-0.4 0.6l-4 0l-5 1l-9.6 0.4l-7.4 1.6l-9 0.4l-4 1l-11 1l-2.6 1l-3 0l-4 1l-4.4 0l-3 1l-10 1l-6 1.6l-3.6 0l-3 1l-6 0.4l-2.4 1l-12 1.6zM1283.2 400.2l0.6 2.6l13 3.4l1.4 1l1.6 0l5.4 2l1.6 0l3.4 1.6l5.6 1l1.4 1l2 0l3.6 1.4l6 1l3.4 1.6l2 0l4 1.4l4 0.6l3.6 1.4l12.4 2.6l10 3l2 0l4.6 1.4l6 1l2 1l4.4 0.6l8.6 2.4l2.4 0l8 2l-4.4-22.4l-7.6-2l-2.4 0l-9-2.6l-2 0l-2-1l-2 0l-7-2l-2 0l-17-4.4l-2 0l-4-1.6l-2 0l-10-3l-4-0.4l-6-2l-7.6-1.6l-2-1l-5.4-1l-16.6-5l-2 0l-0.4 2.6zM644.2 338.2l-9.4 7l-7.6 4l-1 0l-1 1l-17.4 7l-12 4l-1.6 0l-1.4 1l-1.6 0l-19.4 6l-3.6 0.6l-2 1l-2 0l-6 2l-10 2l-2 1l-4.4 0.4l-8.6 2.6l-2.4 0l-2 1l-4.6 0.4l-7 2l-7 1l-7 18l-1 4.6l4.6-0.6l19.4-5l8.6-1.4l4-1.6l8-1.4l5.4-2l11-2.6l1.6-1l7-1.4l8-3l3-0.6l1.4-1l4.6-1l17-6.4l13-6.6l8-5.4zM489.2 290.8l2.6 1l2 0l1.4 1l2.6 0l1.4 1l2.6 0l4 1.4l8 1.6l1.4 1l2.6 0l1.4 1l6 1l7 2.4l7.6 1.6l5 2l2.4 0l9-13l5-5.6l1-2.4l-11-3.6l-2 0l-1.4-1l-2 0l-3.6-1.4l-4-0.6l-3.4-1.4l-2 0l-8-2.6l-10.6-2l-4-1.4l-6.4-1l-1.6-1l-5-1z"/>
<path fill="#da0202" d="M672.2 410.2l3 8.6l0 1.4l1.6 3.6l4 14.4l4-1l3 0l2.4-1l2.6 0l2.4-1l3.6 0l2-1l2.4 0l5.6-1.4l9.4-1l8-2l3 0l16-3l3.6 0l2.4-1l4 0l9.6-2l12.4-1l10.6-2l1.4 0.4l4-1l4.6 0l7.4-1.4l6 0l3.6-1l5.4 0l5-1l6.6 0l0.4-0.6l4.6 0l0.4-0.4l6 0l0.6-0.6l5.4 0l0.6-0.4l1.4 0.4l0.6-0.4l6 0l0.4-0.6l6 0l0.6-0.4l23-0.6l0.4-0.4l0.6 0.4l1.4-0.4l18 0l0.6-0.6l47 0.6l0.4 0.4l10 0l0.6 0.6l10.4 0l0.6 0.4l6.4 0l0.6 0.6l8 0l0.4 0.4l12 0.6l0.6 0.4l5 0l0.4 0.6l4.6 0l0.4 0.4l4.6 0l0.4 0.6l6 0l0.6 0.4l17.4 1.6l4 1l9 0.4l0.6 0.6l15 1.4l0.4 0.6l9.6 1l10.4 2l3.6 0l6.4 1.4l6.6 0.6l3 1l9.4 1l5 1.4l3.6 0l2.4 1l6.6 0.6l3 1l2.4 0l5.6 1.4l2.4 0l8 2l15.6 2.6l2.4 1l3 0l2.6 1l7.4 1l2 1l5 0.4l7.6 2l7.4 1l6.6 2l2.4 0l5 1.6l4.6 0.4l6.4 2l7 1l4 1.6l2.6 0l6 2l4.4 0.4l6-18l0-1.4l2.6-6l0-2l-5.6-1l-6-2l-7.4-1l-6.6-2l-9.4-1.6l-7-2l-2 0l-4.6-1.4l-2.4 0l-2.6-1l-2.4 0l-5-1.6l-12.6-2.4l-2.4 0l-5-1.6l-2.6 0l-2.4-1l-3 0l-2.6-1l-19-3l-2-1l-9-1l-5-1.4l-12-1.6l-3-1l-3 0l-5.4-1.4l-10-1l-3-1l-6.6-0.6l-0.4-0.4l-12-1.6l-0.6-0.4l-3.4 0l-3.6-1l-15-1.6l-3.4-1l-4.6 0l-8-1.4l-4.4 0l-4-1l-8.6-0.6l-0.4-0.4l-4.6 0l-0.4-0.6l-4.6 0l-0.4-0.4l-4.6 0l-0.4-0.6l-5.6 0l-0.4-0.4l-4.6 0l-0.4-0.6l-5.6 0l-0.4-0.4l-6 0l-0.6-0.6l-7.4 0l-0.6-0.4l-15-0.6l-0.4-0.4l-10.6 0l-0.4-0.6l-68.6-0.4l-0.4 0.4l-13.6 0l-0.4 0.6l-8.6 0l-0.4 0.4l-8.6 0l-0.4 0.6l-9.6 0l-0.4 0.4l-5.6 0l-0.4 0.6l-7 0l-0.6 0.4l-5 0l-0.4 0.6l-11.6 0.4l-5 1l-5 0l-0.4 0.6l-4.6 0l-0.4 0.4l-8 0.6l-0.6 0.4l-4.4 0l-0.6 0.6l-7.4 0.4l-3.6 1l-5 0l-3 1l-15.4 1.6l-6 1.4l-8 0.6l-12.6 2.4l-3.4 0l-3 1l-9 1l-2.6 1l-3.4 0l-11.6 2.6l-6 0.4l-2.4 1l-2.6 0l-2.4 1l-3 0l-2.6 1zM1286.2 392.2l0 1.6l21.6 6l2 1l5.4 1l3.6 1.4l13.4 3l2 1l4 0.6l8 2.4l2 0l4 1.6l2 0l2 1l2 0l15 4l6.6 1l6 2l18.4 3.4l-2.4-10l-1-7l-1-2.4l-0.6-3.6l-1-0.4l-18.4-3.6l-2-1l-4.6-0.4l-2-1l-6.4-1l-4.6-1.6l-2.4 0l-1.6-1l-2.4 0l-2-1l-6.6-1l-10-3l-12.4-2.4l-5.6-2l-2 0l-8-2.6l-2 0l-9.4-3l-3 0zM645.2 333.2l-2 0l-8 4.6l-14.4 6l-35 11l-44.6 11l-5 0.4l-2 1l-4.4 0.6l-12 3l-3 0l-8.6 21.4l0 2l12.6-3l4.4-0.4l2-1l2.6 0l2-1l8.4-1.6l20-5l5.6-2l2 0l3.4-1.4l15.6-4l28-10l9.4-4.6l1-1l1 0l11-7.4l10-14.6l1 0zM1305.2 287.8l-3-8.6l-4 0.6l-2 1l-2.4 0l-6.6 2l-2 0l0 1zM492.8 280.2l6.4 1l2 1l2.6 0l2 1l4 0.6l12 3.4l2 0l2 1l5.4 1l5.6 2l2 0l2 1l13.4 3.6l7-9l6.6-6.6l5.4-4l0.6-1.4l-16.6-5l-4-0.6l-3.4-1.4l-2 0l-6-2l-8-1.6l-1.6-1l-2 0l-8-2.4l-4.4-0.6l-4-1.4l-2.6 0l-2-1l-8-1.6z"/>
<path fill="#d20303" d="M668.2 395.8l0 1.4l4 11.6l0 1.4l4.6 14.6l4-0.6l2.4-1l3 0l2.6-1l5.4-0.4l8-2l3 0l2.6-1l15.4-2l2.6-1l3 0l9-2l10-1l3-1l4.4 0l0.6-0.6l6.4-0.4l2.6-1l3.4 0l0.6-0.6l15-1.4l0.4-0.6l4.6 0l4-1l4.4 0l3.6-1l5 0l0.4-0.4l14-1l0.6-0.6l5.4 0l0.6-0.4l4.4 0l0.6-0.6l12.4-0.4l0.6-0.6l5 0l0.4-0.4l7.6 0l0.4-0.6l7.6 0l0.4-0.4l25.6-0.6l0.4-0.4l28 0l0.6-0.6l0.4 0.6l44 0.4l0.6 0.6l9.4 0l0.6 0.4l8 0l0.4 0.6l25.6 1.4l0.4 0.6l16 1l0.6 0.4l8.4 0.6l0.6 0.4l5 0l0.4 0.6l20 2l7.6 1.4l3.4 0l4 1l14 1.6l3 1l3.6 0l6.4 1.4l10 1l0.6 0.6l14.4 2l3 1l6 0.4l5.6 1.6l6 0.4l10.4 2.6l8.6 1l12.4 3l3 0l2.6 1l10 1.4l2.4 1l12 2l2.6 1l5 0.6l4.4 1.4l5 0.6l7 2l4.6 0.4l2 1l7.4 1l2 1l4.6 0.6l4 1.4l10 1.6l1.4-6l1-1.6l5.6-17.4l1-1.6l-0.6-1.4l-2 0l-6.4-2l-2.6 0l-4.4-1.6l-2.6 0l-2-1l-2.4 0l-2-1l-5-0.4l-2-1l-7-1l-7-2l-12.6-2l-7-2l-3 0l-7.4-1.6l-2-1l-11-1.4l-2.6-1l-2.4 0l-7.6-2l-3.4 0l-5.6-1.6l-2.4 0l-5-1.4l-3 0l-3-1l-14-2l-6-1.6l-3.6 0l-2.4-1l-10-1l-8.6-2l-10-1l-3.4-1l-3.6 0l-3-1l-10.4-1l-4-1l-11.6-1l-3.4-1l-21-2l-0.6-0.4l-4.4 0l-0.6-0.6l-4.4 0l-0.6-0.4l-4.4 0l-0.6-0.6l-4.4 0l-0.6-0.4l-4.4 0l-0.6-0.6l-18-1l-0.4-0.4l-24-1l-0.6-0.6l-11 0l-0.4-0.4l-62.6-0.6l-0.4 0.6l-15 0l-0.6 0.4l-20 0.6l-0.4 0.4l-6 0l-0.6 0.6l-8 0l-0.4 0.4l-5.6 0l-0.4 0.6l-5.6 0l-0.4 0.4l-12 0.6l-0.6 0.4l-4.4 0l-0.6 0.6l-4 0l-5 1l-10 0.4l-4 1l-5 0l-0.4 0.6l-11 1l-0.6 0.4l-4 0l-0.4 0.6l-10.6 1l-6.4 1.4l-4.6 0l-3 1l-13.4 1.6l-6 1.4l-3 0l-0.6 0.6l-9.4 1l-9 2l-3 0l-8.6 2l-8.4 1l-2.6 1l-3 0l-7.4 2zM1289.8 383.2l0 1.6l2.4 1l5.6 1l3.4 1.4l20.6 5l2 1l6 1l4 1.6l10 2l2 1l4 0.4l17 4.6l6.4 1l4 1.4l4.6 0.6l9 2.4l2.4 0l6.6 2l2 0l-2-10.4l-1.6-4.6l0-2l-2-6.4l-6-1l-4.4-1.6l-2.6 0l-4.4-1.4l-2 0l-2-1l-9.6-1.6l-2-1l-2 0l-8.4-2.4l-2.6 0l-4-1.6l-6.4-1l-2-1l-6.6-1l-16.4-4.4l-2 0l-13.6-4l-2.4 0zM645.8 334.2l-3-6.4l-2-0.6l-13.6 5.6l-31 9.4l-38 9.6l-2 0l-2.4 1l-4.6 0.4l-2 1l-2.4 0l-4.6 1.6l-5 0.4l-2.4 1l-13.6 2.6l-9 23l3 0l2.6-1l2.4 0l7-2l4.6-0.6l2-1l2.4 0l8.6-2.4l4.4-0.6l2-1l10-2l6-2l2 0l2-1l3.6-0.4l2-1l19-5l1.4-1l1.6 0l12-4l17.4-7l1-1l1 0l7.6-4l7.4-5.6l1-2l2-1.4zM1305.2 287.8l-2.4-6.6l0-1.4l-4-12.6l-5.6 1.6l-2.4 0l-2 1l-7 1l-2 1l-3 0l-2 1l-4.6 0.4l-8 2.6l-5.4 1l0.4 1.4zM496.8 268.8l4.4 0.4l1.6 1l6.4 1l4 1.6l2 0l16.6 4.4l2 0l3.4 1.6l4 0.4l3.6 1.6l2 0l1.4 1l2 0l11 3.4l1.6 0l8-7.4l9-5.6l4-1.4l12.4-2l0-1l-16.4-4.6l-3.6-1.4l-2 0l-5.4-2l-3.6-0.6l-5.4-2l-2 0l-4-1.4l-46-11l-2.6 0z"/>
<path fill="#ca0303" d="M1293.2 374.2l0 1.6l7.6 1.4l3.4 1.6l2 0l8 2.4l2 0l5.6 2l12.4 2.6l2 1l6 1l6.6 2l2 0l2 1l2.4 0l1.6 1l2.4 0l4.6 1.4l2 0l4 1.6l7 1l2 1l20.4 4l-5.4-23.6l-15.6-3l-2-1l-9.4-1.4l-2-1l-9-1.6l-15.6-4l-2 0l-4-1.4l-4.4-0.6l-2-1l-2.6 0l-2-1l-21-5l-1.4 0.6zM663.2 381.8l9.6 29l6.4-1l2.6-1l6-0.6l2.4-1l5.6-0.4l3-1l2.4 0l3-1l6-0.6l9.6-2l3 0l2.4-1l3.6 0l5.4-1.4l7.6-0.6l2-1l8-0.4l6-1.6l23.4-2.4l0.6-0.6l7-0.4l4-1l1.4 0.4l3.6-1l14-1l5-1l6 0l4.4-1l18.6-1l0.4-0.4l5.6 0l0.4-0.6l9.6 0l0.4-0.4l19.6-0.6l0.4-0.4l14 0l0.6-0.6l64 0.6l0.4 0.4l19 0.6l0.6 0.4l14.4 0.6l0.6 0.4l12 0.6l0.4 0.4l4.6 0l0.4 0.6l5.6 0l0.4 0.4l23.6 2l4 1l4.4 0l8 1.6l4.6 0l3.4 1l4 0l10.6 2l14 1.4l6.4 1.6l6.6 0.4l3 1l3.4 0l3.6 1l6 0.6l2.4 1l3 0l3 1l12 1.4l5 1.6l3.6 0l2.4 1l3 0l2 1l19 3l2.6 1l3 0l2.4 1l2.6 0l5 1.4l5 0.6l2 1l5.4 0.4l11.6 3l2.4 0l2.6 1l2.4 0l9.6 2.6l7 1l2 1l5 0.4l2 1l7.4 1l2 1l6 1l2.6 1l2.4 0l3.6-11.4l1-1.6l4.4-13l-0.4-2.4l-2 0l-7-2l-2.6 0l-9-2.6l-2.4 0l-2-1l-5-0.4l-2-1l-19.6-3.6l-2.4-1l-2.6 0l-5-1.4l-2.4 0l-12-3l-3 0l-2.6-1l-7.4-1l-2.6-1l-5.4-0.6l-3-1l-2.6 0l-27.4-5.4l-3 0l-5.6-1.6l-12-1.4l-3-1l-3.4 0l-2.6-1l-3 0l-13-2.6l-7-0.4l-0.4-0.6l-2.6 0l-6.4-1.4l-3.6 0l-7-1.6l-3.4 0l-0.6-0.4l-11-1l-0.4-0.6l-4 0l-3.6-1l-13-1l-4.4-1l-4 0l-0.6-0.4l-5 0l-0.4-0.6l-9-0.4l-5-1l-11.6-0.6l-0.4-0.4l-7 0l-0.6-0.6l-5 0l-0.4-0.4l-16-0.6l-0.6-0.4l-9 0l-0.4-0.6l-74-0.4l-0.6 0.4l-32.4 1l-0.6 0.6l-7 0l-0.4 0.4l-24.6 1.6l-0.4 0.4l-19.6 1.6l-5 1l-5 0l-0.4 0.4l-8 0.6l-0.6 0.4l-10.4 1l-0.6 0.6l-4.4 0l-10.6 2l-12 1l-3 1l-20.4 2.4l-2.6 1l-3 0l-6.4 1.6l-3.6 0l-3 1l-2.4 0l-15 3l-6 0.4l-2.6 1l-3 0l-10.4 2.6zM644.8 332.2l-5.6-12l-2 0l-16 5.6l-7 1.4l-7 2.6l-4 0.4l-3.4 1.6l-10 2l-2 1l-2 0l-4.6 1.4l-4 0.6l-2 1l-22.4 4.4l-2 1l-4.6 0.6l-2.4 1l-2.6 0l-7.4 2l-9.6 1.4l-9 21l0 2l1.6 0.6l7-2l11.4-2l2-1l5-0.6l6.6-2l4.4-0.4l2-1l2 0l2-1l2 0l8-2.6l8-1.4l2-1l7.6-1.6l10.4-3.4l5-1l19.6-6.6l10-4l13-6.4zM1302.8 279.8l-8-24.6l-5.6 1.6l-2.4 0l-2 1l-7.6 1l-17.4 4.4l-2.6 0l-2 1l-2 0l-2 1l-15.4 3.6l-1.6 1l-2 0l-4.4 1.4l0 1l12 2l2.4 1l19.6 3.6l2.4 1l20 4zM500.8 256.8l7.4 1.4l2 1l2.6 0l4 1.6l4.4 0.4l8 2.6l2 0l1.6 1l2 0l4 1.4l10 2l3.4 1.6l4 0.4l16.6 5l2 0l1-1l8-3.4l41-7l0-1l-9-3l-1.6 0l-6.4-2.6l-3.6-0.4l-6.4-2.6l-3.6-0.4l-12.4-4l-2 0l-4-1l-1.6-1l-8-1.6l-3.4-1.4l-2.6 0l-9.4-3l-2 0l-6.6-2l-13-2.6l-2-1l-4.4-0.4l-2-1l-2 0l-2-1l-7-1z"/>
<path fill="#c20404" d="M1297.2 364.8l0 1.4l12.6 3l2 1l4 0.6l2 1l2 0l10.4 3l12.6 2.4l2 1l2 0l6.4 2l2.6 0l8.4 2.6l7 1l2 1l4.6 0.4l4.4 1.6l2.6 0l9 2.4l3 0l-6-23l-1.6-1l-11.4-2l-9-2.4l-5-0.6l-2-1l-7-1l-6.6-2l-2.4 0l-39-9.4l-1.6 0zM658.2 367.8l1.6 3l3 10l1 1.4l4.4 14.6l9.6-1.6l2.4-1l6-0.4l2.6-1l5.4-0.6l3-1l14.6-2l3-1l4 0l2.4-1l3 0l6.6-1.4l3.4 0l3.6-1l9.4-1l3-1l4.6 0l6.4-1.6l12-1l3.6-1l4.4 0l3.6-1l4.4 0l8-1.4l10-0.6l0.6-0.4l9.4-0.6l0.6-0.4l4.4 0l0.6-0.6l5.4 0l0.6-0.4l17-1l0.4-0.6l14.6-0.4l0.4-0.6l21.6-0.4l0.4-0.6l18.6 0l0.4-0.4l55.6 0.4l0.4 0.6l11 0l0.6 0.4l24 1l0.4 0.6l5.6 0l0.4 0.4l5.6 0l0.4 0.6l5 0l0.6 0.4l4.4 0l0.6 0.6l5.4 0l0.6 0.4l14.4 1l0.6 0.6l8.4 0.4l7.6 1.6l5 0l3.4 1l11.6 1l4 1l3.4 0l3 1l24 3l8.6 2l3 0l3.4 1l3.6 0l2.4 1l3.6 0l6 1.4l6 0.6l11 2.4l3 0l2 1l5.4 0.6l8 2l3.6 0l10 2.4l5.4 0.6l2 1l2.6 0l13 3l2.4 0l2 1l12.6 2l4.4 1.4l3 0l4 1.6l12.6 2l2 1l2.4 0l2 1l2.6 0l4.4 1.4l2.6 0l10 2.6l5-15l5-12.6l-0.6-1.4l-2 0l-2.4-1l-3 0l-6.6-2l-2.4 0l-9-2.6l-5-0.4l-2-1l-2.6 0l-10-2.6l-4.4-0.4l-2.6-1l-2.4 0l-5-1.6l-10-1.4l-2.6-1l-3 0l-12.4-3l-8-1l-2.6-1l-5.4-0.6l-2.6-1l-3 0l-5-1.4l-6-0.6l-19.4-4l-6-0.4l-9-2l-3 0l-2.6-1l-3 0l-0.4-0.6l-12.6-1.4l-6.4-1.6l-10-1l-6.6-1.4l-18-2l-7.4-1.6l-12-1l-0.6-0.4l-8-0.6l-0.4-0.4l-34-3l-0.6-0.6l-13-0.4l-0.4-0.6l-5.6 0l-0.4-0.4l-7.6 0l-0.4-0.6l-8.6 0l-0.4-0.4l-24-0.6l-0.6-0.4l-1.4 0.4l-0.6-0.4l-64 0.4l-0.4 0.6l-21.6 0.4l-0.4 0.6l-6.6 0l-0.4 0.4l-6.6 0l-0.4 0.6l-6 0l-0.6 0.4l-6.4 0l-0.6 0.6l-5 0l-0.4 0.4l-4.6 0l-0.4 0.6l-5 0l-0.6 0.4l-4.4 0l-0.6 0.6l-22.4 2l-4 1l-4.6 0l-4 1l-4.4 0l-4 1l-7.6 0.4l-3 1l-8 0.6l-2.4 1l-4.6 0l-6.4 1.4l-3.6 0l-3 1l-3 0l-0.4 0.6l-9.6 1l-3 1l-3.4 0l-9 2l-3 0l-3 1l-11.6 1.4l-6 1.6l-3 0zM642.2 326.2l-6.4-13l-2.6-0.4l-20.4 6l-8 1.4l-2 1l-6 1l-6.6 2l-2 0l-2 1l-9 1.6l-2.4 1l-2 0l-4.6 1.4l-2.4 0l-14 3.6l-5 0.4l-2.6 1l-14.4 2.6l-9 19.4l-1 4l7-1l7.4-2l2.6 0l9-2.4l2.4 0l2-1l15.6-3l2-1l4-0.6l25.4-6.4l9-3l3.6-0.6l6.4-2.4l1.6 0l16-5.6l8.4-3.4zM1298.8 267.8l-8.6-24.6l-3.4 1l-2.6 0l-2 1l-3 0l-9.4 2.6l-2.6 0l-2 1l-2.4 0l-4 1.4l-17.6 3.6l-4 1.4l-4 0.6l-14.4 4.4l-7 1.6l-10.6 3.4l0 1.6l7 1l2.6 1l12 2l2.4 1l14.6 2.4l2.4 1l12.6 2.6l2.4 0l14-4l4.6-0.6l2-1l3 0l2-1l7-1l2-1l2.4 0zM505.2 244.2l0 1l6.6 1l6 2l2.4 0l6 2l6.6 1l4 1.6l2 0l2 1l4 0.4l12 3.6l2 0l14.4 4.4l2 0l3.6 1.6l3.4 0.4l13.6 4.6l19-3l6-1.6l2.4 0l0.6-0.4l2.4 0l3-1l8.6-1l3-1l5.4-0.6l6-1.4l0-1l-8-2.6l-1.4-1l-38.6-12l-22.4-5.4l-5.6-2l-2 0l-4-1.6l-8-1.4l-2-1l-4.4-0.6l-2-1l-2 0l-2-1l-4.6-0.4l-6.4-2l-10.6-2l-2-1l-5-0.6l-4-1.4l-2.4 0z"/>
<path fill="#bb0505" d="M1301.2 355.2l0.6 2l8.4 1.6l2 1l2 0l10 3l2.6 0l2 1l4.4 0.4l4 1.6l6.6 1l15.4 4l4.6 0.4l2 1l4.4 0.6l2.6 1l2.4 0l2 1l4.6 0.4l7 2l5 0.6l-6.6-23.6l-1-0.4l-9.4-1.6l-11.6-3l-2.4 0l-2-1l-5-0.4l-2-1l-7-1l-2.6-1l-2 0l-2.4-1l-2 0l-4.6-1.6l-4.4-0.4l-18.6-4.6zM653.2 353.2l5.6 16l1 1.6l3 10l1 1.4l3 0l8-2l3 0l14-3l3.4 0l2.6-1l12-1.4l9.4-2l3 0l6-1.6l3.6 0l6.4-1.4l4 0l6-1.6l12-1l3.6-1l19.4-2l0.6-0.4l11-1l0.4-0.6l10.6-0.4l4.4-1l15.6-1l0.4-0.6l5.6 0l5-1l7.4 0l0.6-0.4l23.4-1l0.6-0.6l8.4 0l0.6-0.4l15 0l0.4-0.6l68 0.6l0.6 0.4l27 1l0.4 0.6l5 0l0.6 0.4l12.4 0.6l0.6 0.4l10.4 0.6l0.6 0.4l4.4 0l5 1l5 0l0.6 0.6l4 0l4.4 1l13 1l3.6 1l4 0l7.4 1.4l4 0l3.6 1l14 1.6l10 2l3.4 0l3 1l3.6 0l6.4 1.4l3 0l2.6 1l3.4 0l3 1l12 1.6l5.6 1.4l3 0l27.4 5.6l8 1l2.6 1l8 1l5 1.4l7.4 1l7.6 2l5 0.6l2.4 1l2.6 0l7 2l3 0l2.4 1l4.6 0.4l2 1l10 1.6l2 1l2.4 0l11 3l2.6 0l9 2l3.4-10.6l7-17l0-1.4l-5.4-0.6l-9-2.4l-9.6-1.6l-2-1l-12.4-2l-2-1l-12-2l-2.6-1l-3 0l-2.4-1l-2.6 0l-2.4-1l-5-0.4l-5-1.6l-7.6-1l-2.4-1l-3 0l-8-2l-5-0.4l-2.6-1l-5.4-0.6l-19.6-4l-3 0l-8-2l-3 0l-20.4-4l-3.6 0l-6-1.4l-16-2l-3-1l-3.4 0l-0.6-0.6l-3 0l-3.4-1l-3 0l-0.6-0.4l-10-1l-7.4-1.6l-3.6 0l-4-1l-4.4 0l-3.6-1l-4 0l-0.4-0.4l-21.6-2l-0.4-0.6l-4.6 0l-0.4-0.4l-4.6 0l-0.4-0.6l-16.6-1l-0.4-0.4l-5 0l-0.6-0.6l-6.4 0l-0.6-0.4l-7 0l-0.4-0.6l-31.6-1l-0.4-0.4l-58.6 0l-0.4 0.4l-13.6 0l-0.4 0.6l-18.6 0.4l-0.4 0.6l-20.6 1l-0.4 0.4l-22 1.6l-5 1l-5.6 0l-0.4 0.4l-21.6 2l-4 1l-3.4 0l-0.6 0.6l-11 1l-0.4 0.4l-4 0l-3 1l-3.6 0l-0.4 0.6l-14.6 1.4l-3 1l-10.4 1l-3.6 1l-3 0l-3.4 1l-9.6 1l-3 1l-6 0.6l-3 1l-3.4 0l-2.6 1l-9 1l-3 1l-3 0zM638.8 319.2l-7-13.4l-1-1l-2 0l-2 1l-14 3.4l-2 0l-22 5.6l-4.6 0.4l-4.4 1.6l-2.6 0l-2 1l-2.4 0l-7.6 2l-30 5.4l-6 12l0 1l-1 1l0 1l-3.4 7l0 1.6l27-5l2-1l7-1l4.4-1.6l11-2l4-1.4l8.6-1.6l8-2.4l4-0.6l3.4-1.4l4-0.6l30.6-9.4zM1294.8 255.2l-1-1.4l-2.6-8.6l-2-4l-3.4-10l-2 0l-5 1.6l-2.6 0l-2.4 1l-3 0l-2.6 1l-4.4 0.4l-2 1l-7.6 1l-4 1.6l-5 0.4l-8 2.6l-2 0l-6.4 2l-6 1l-2 1l-2 0l-4 1.4l-2 0l-29 9l-1.6 1l-7.4 2.6l0 1l14.4 3.4l7 1l2.6 1l24 4.6l2.4 1l4 0l4-1.6l2 0l1.6-1l16-4l2 0l3.4-1.4l2.6 0l17.4-4.6l16-3zM509.8 232.2l0 1l6 1l6 2l2.4 0l4 1.6l4.6 0.4l6.4 2l10.6 2l3.4 1.6l2 0l4 1.4l2.6 0l3.4 1.6l2 0l2 1l4 0.4l1.6 1l6 1l12.4 4l3.6 0.6l6.4 2.4l3.6 0.6l17.4 6l55-9.6l0-1l-1 0l-1-1l-10.4-4.4l-23-8l-1.6 0l-1.4-1l-10-2.6l-1.6-1l-3.4-0.4l-3.6-1.6l-2 0l-1.4-1l-2 0l-20.6-6l-2 0l-4-1.4l-22-5l-2-1l-4.4-0.6l-2-1l-4.6-0.4l-2-1l-13-2.6l-9-2.4l-7-1l-2-1l-2.4 0l-8.6 21z"/>
<path fill="#b30606" d="M1305.8 345.8l0.4 2l10.6 2l2 1l2.4 0l2 1l2 0l19.6 5l7 1l2 1l7 1l6.4 2l2.6 0l7 2l14 2.4l-6-20l-1-1.4l-13.6-2.6l-4.4-1.4l-2.6 0l-2.4-1l-18.6-3.6l-2-1l-4.4-0.4l-2.6-1l-4.4-0.6l-14.6-3.4zM648.2 341.2l2 4l8.6 23l9.4-2l3 0l5.6-1.4l6-0.6l2.4-1l8.6-1l3-1l15.4-2l3-1l3 0l10.6-2l3.4 0l6-1.4l7.6-0.6l2.4-1l8-0.4l3-1l7.6-0.6l4-1l4.4 0l0.6-0.4l4 0l8-1.6l14-1l4-1l21-1.4l0.4-0.6l5.6 0l0.4-0.4l5 0l0.6-0.6l22.4-1l0.6-0.4l7 0l0.4-0.6l26-0.4l0.6-0.6l47.4 0l0.6 0.6l14.4 0l0.6 0.4l20 0.6l0.4 0.4l7.6 0l0.4 0.6l5.6 0l0.4 0.4l5.6 0l0.4 0.6l6 0l0.6 0.4l5.4 0l0.6 0.6l4.4 0l0.6 0.4l4.4 0l0.6 0.6l5 0l0.4 0.4l30 3l4 1l4 0l0.6 0.6l7 0.4l4 1l7 0.6l3 1l3.4 0l3.6 1l10 1l0.4 0.4l15.6 2l3.4 1l3 0l2.6 1l3 0l9 2l3 0l6 1.6l5.4 0.4l2.6 1l5.4 0.6l3 1l6 0.4l5 1.6l3 0l2.6 1l5.4 0.4l2.6 1l8 1l12.4 3l5 0.6l5 1.4l2.6 0l2.4 1l2.6 0l5 1.6l7.4 1l2.6 1l7 1l5 1.4l2.4 0l2 1l2.6 0l2 1l7.4 1l6.6 2l3 0l5 1.6l1.4-0.6l3-9l6.6-15l0-1.4l-3-1l-7.6-1l-4.4-1.6l-2.6 0l-4.4-1.4l-2.6 0l-14.4-3.6l-12.6-2l-12-3l-8-1l-2.4-1l-2.6 0l-2.4-1l-10.6-1.4l-18.4-4l-8.6-1l-7.4-2l-3 0l-5.6-1.6l-6-0.4l-3-1l-5.4-0.6l-2.6-1l-6.4-0.4l-2.6-1l-3 0l-6-1.6l-9.4-1l-2.6-1l-3.4 0l-6-1.4l-3 0l-3.6-1l-3.4 0l-3.6-1l-3 0l-0.4-0.6l-3 0l-0.6-0.4l-13.4-1.6l-4-1l-3.6 0l-4-1l-11.4-1l-4-1l-17-1.4l-0.6-0.6l-5.4 0l-0.6-0.4l-4 0l-5-1l-5.4 0l-0.6-0.6l-16.4-1l-0.6-0.4l-23.4-1l-0.6-0.6l-12 0l-0.4-0.4l-14.6 0l-0.4-0.6l-60.6 0.6l-0.4 0.4l-19 0.6l-0.6 0.4l-14.4 0.6l-0.6 0.4l-29.4 2l-0.6 0.6l-9.4 0.4l-0.6 0.6l-8 0.4l-0.4 0.6l-9.6 0.4l-7.4 1.6l-5 0l-0.6 0.4l-15 1.6l-0.4 0.4l-6.6 0.6l-7.4 1.4l-4 0l-3 1l-7.6 0.6l-2.4 1l-7.6 0.4l-9.4 2l-6.6 0.6l-3 1l-9.4 1l-12 2.4l-6 0.6l-3 1l-3 0l-5.6 1.4l-5.4 0.6l-3 1zM635.2 312.2l-7-12.4l-1.4-1.6l-1.6 0l-8.4 2.6l-2 0l-20.6 5l-2.4 0l-7 2l-12 2l-2.6 1l-2.4 0l-2.6 1l-2.4 0l-16 3.4l-2.6 0l-2.4 1l-1.6-0.4l-10.4 20.4l0 1l3 0l2.4-1l17.6-3l2.4-1l7-1l4.6-1.4l2.4 0l4.6-1.6l13.4-2.4l2-1l10.6-2l6-2l2 0l8-2.6l5.4-1l2-1l3.6-0.4l8.4-2.6zM1290.2 242.8l-8.4-21l-1-0.6l-20 4l-2.6 1l-2.4 0l-5 1.6l-9.6 1.4l-43 10.6l-3.4 1.4l-8.6 2l-21.4 7.6l-10.6 5l0 1l32.6 6.4l2.4 1l7 1l2.6 1l3 0l1.4-1l3-0.4l6.6-2.6l7-1.4l7-2.6l8-1.4l7.4-2.6l17.6-3.4l8.4-2.6l2.6 0l9.4-2.4l3 0l2-1l5-0.6zM514.2 221.2l2 0l6.6 2l2.4 0l2 1l2 0l15 4l4.6 0.6l6 2l4.4 0.4l2 1l8 1.6l4 1.4l2 0l17 5l2 0l2 1l22.6 6l6.4 2.6l1.6 0l25 9l3 0l3-1l2.4 0l3-1l5.6-0.6l3-1l2.4 0l3-1l2.6 0l3-1l16-2.4l-0.6-2l-16.4-8l-16-5.6l-1.6-1l-1.4 0l-23-7.4l-3.6-0.6l-5-2l-4-0.4l-1.4-1l-7.6-1.6l-9.4-3l-16-3.4l-2-1l-2 0l-14.6-4l-6.4-1l-2-1l-2.6 0l-4-1.6l-13.4-2.4l-4.6-1.6l-11.4-2l-5.6-1.4l-1 1.4z"/>
<path fill="#ac0606" d="M1310.2 336.8l0.6 1.4l4 0.6l6.4 2l11 2l13.6 3.4l7 1l2 1l5 0.6l2 1l2.4 0l4.6 1.4l2.4 0l4.6 1.6l2.4 0l9 2l-6.4-19l-32-6.6l-2.6-1l-18.4-3.4l-7-2l-2.6 0zM643.2 329.8l0.6 3l1.4 2.4l0 2l1 0l1 1l6 15.6l12.6-2l3-1l3 0l3-1l3 0l3-1l11.4-1.6l3-1l3.6 0l3-1l9.4-1l3-1l16-2l0.6-0.4l3.4 0l3-1l4 0l3.6-1l11-1l3-1l12-1l0.4-0.6l7-0.4l4-1l14-1l4-1l5 0l0.6-0.6l9.4-0.4l5-1l6 0l5-1l20-1l0.6-0.6l6 0l0.4-0.4l10 0l0.6-0.6l8 0l0.4-0.4l13.6 0l0.4-0.6l54 0l0.6 0.6l2-0.6l0.4 0.6l31.6 1l0.4 0.4l7 0l0.6 0.6l6.4 0l0.6 0.4l5 0l0.4 0.6l5 0l0.6 0.4l11 0.6l0.4 0.4l4.6 0l0.4 0.6l4.6 0l0.4 0.4l9 0.6l0.6 0.4l8 0.6l4.4 1l4 0l3.6 1l8 0.4l3.4 1l3.6 0l0.4 0.6l7.6 0.4l0.4 0.6l3 0l0.6 0.4l6 0.6l7 1.4l3.4 0l3 1l16 2l6 1.6l3.6 0l0.4 0.4l5.6 0.6l2.4 1l3 0l20 4l3 0l8.6 2l3 0l8 2l5.4 0.4l5 1.6l2.6 0l10.4 2.4l7.6 1l2.4 1l2.6 0l18 4l2.4 0l4.6 1.6l3 0l2 1l7.4 1l7.6 2l2.4 0l2 1l2.6 0l4.4 1.4l2.6 0l12.4 3l3 0l9.6-21.4l0-1.6l-11.6-2l-2.4-1l-7-1l-9.6-2.4l-5-0.6l-5-1.4l-2.4 0l-2-1l-2.6 0l-15-3l-2.4-1l-10.6-1.6l-7.4-2l-5.6-0.4l-18-4l-8.4-1l-5-1.6l-8.6-1l-19.4-4l-15-2l-2.6-1l-3 0l-3-1l-6-0.4l-15.4-3l-3.6 0l-3.4-1l-3 0l-6.6-1.6l-3 0l-3.4-1l-7-0.4l-0.6-0.6l-6.4-0.4l-7.6-1.6l-3.4 0l-0.6-0.4l-7.4-0.6l-0.6-0.4l-3.4 0l-0.6-0.6l-3.4 0l-4.6-1l-4 0l-0.4-0.4l-4 0l-0.6-0.6l-4 0l-0.4-0.4l-4.6 0l-0.4-0.6l-9.6-0.4l-0.4-0.6l-4.6 0l-0.4-0.4l-4.6 0l-0.4-0.6l-12-0.4l-0.6-0.6l-23-1l-0.4-0.4l-12 0l-0.6-0.6l-53.4-0.4l-0.6 0.4l-15.4 0l-0.6 0.6l-22.4 0.4l-0.6 0.6l-7 0l-0.4 0.4l-7 0l-0.6 0.6l-5 0l-0.4 0.4l-18 1l-0.6 0.6l-10 0.4l-0.4 0.6l-4.6 0l-0.4 0.4l-4 0l-5 1l-13.6 1l-3.4 1l-4 0l-0.6 0.6l-12 1l-3 1l-4 0l-7.4 1.4l-4 0l-3.6 1l-7.4 0.6l-0.6 0.4l-13 1.6l-10 2l-3 0l-3 1l-6.4 0.4l-18.6 3.6l-3 0l-3 1l-3 0l-3 1l-3 0l-3 1zM630.8 304.2l-8-12.4l-3.6 1l-14 2.4l-7 2l-2.4 0l-5 1.6l-2.6 0l-2.4 1l-12.6 2.4l-2.4 0l-5 1.6l-3 0l-7.6 2l-10 1.4l-9.4 17l0 1.6l13.4-2l2.6-1l45-9l2-1l4.4-0.6l8.6-2.4l2 0l17-4.6zM1277.2 211.8l-2.4 0l-8 2l-3 0l-7 2l-8 1l-7 2l-5 0.4l-20.6 5l-2 0l-6 2l-2 0l-25 6.6l-3.4 1.4l-3.6 0.6l-25 9l-10 5.4l-3 2.6l0 1l15.6 3l7 2l4.4 0.4l2.6 1l4.4 0.6l2.6 1l2.4 0l9.6-4l29-9l2 0l12-3.6l10.4-2l8-2.4l5-0.6l4-1.4l2.6 0l14-3.6l3 0l2.4-1l8.6-1.4zM519.2 209.2l2 0l2 1l25 5l6 2l4.6 0.6l2 1l4.4 0.4l2 1l6 1l20 5.6l2 0l7.6 2.4l2 0l11 3.6l2 0l1.4 1l2 0l3.6 1.4l3.4 0.6l1.6 1l10 2.4l1.4 1l1.6 0l9 3.6l6 1.4l14 5.6l7 3.4l15-3l2.4 0l5.6-1.4l2.4 0l5.6-1.6l2.4 0l5.6-1.4l0-1l-3.6-3l-4.4-3l-10-5l-18-7l-3-0.6l-1.6-1l-1.4 0l-1.6-1l-11-3l-5-2l-7-1.4l-20-6l-2 0l-2-1l-2 0l-2-1l-14-3.6l-2 0l-2-1l-2 0l-6-2l-2 0l-8.4-2.4l-4.6-0.6l-2-1l-2 0l-2.4-1l-2 0l-4.6-1.4l-2 0l-25-6l-4.4-0.6l-7-2l-2 0l-1 1.6l0 1l-1 1l0 1z"/>
<path fill="#a40707" d="M1314.2 329.2l0.6 1.6l4 0.4l4.4 1.6l16 3l2 1l7 1l14 3.4l2.6 0l4.4 1.6l5 0.4l7.6 2l2.4 0l-5.4-15l-2.6-4l-4.4-0.4l-2.6-1l-9.4-1.6l-2.6-1l-9.4-1.4l-2.6-1l-9.4-1.6l-12.6-3zM637.8 318.2l0 1.6l7.4 15.4l0 2l1 0l1 1l1.6 3.6l3 0l14.4-3l3 0l3-1l3 0l3-1l6-0.6l0.6-0.4l8.4-1l6-1.6l6.6-0.4l12.4-2.6l3.6 0l0.4-0.4l10-1l3-1l3.6 0l3-1l4 0l0.4-0.6l10.6-1l0.4-0.4l6.6-0.6l4-1l13-1l3.4-1l5 0l0.6-0.4l12.4-1l0.6-0.6l9.4-0.4l4.6-1l5.4 0l0.6-0.6l11.4-0.4l0.6-0.6l5.4 0l0.6-0.4l5.4 0l0.6-0.6l14.4-0.4l0.6-0.6l19-0.4l0.4-0.6l58.6-0.4l0.4 0.4l14.6 0l0.4 0.6l21 0.4l0.6 0.6l7 0l0.4 0.4l7 0l0.6 0.6l5.4 0l0.6 0.4l5 0l0.4 0.6l5 0l0.6 0.4l5.4 0l0.6 0.6l14.4 1l0.6 0.4l12 1l0.4 0.6l4.6 0l4 1l3.4 0l0.6 0.4l3.4 0l0.6 0.6l3.4 0l4 1l18 2l0.6 0.4l9.4 1l3.6 1l3.4 0l12.6 2.6l3.4 0l2.6 1l3 0l12.4 2.4l3 0l2.6 1l6.4 0.6l2.6 1l5.4 0.4l6 1.6l3 0l5.6 1.4l3 0l2.4 1l2.6 0l2.4 1l8.6 1l3 1l2.4 0l13 3l2.6 0l10.4 2.6l2.6 0l2.4 1l5 0.4l2.6 1l10 1.6l7.4 2l5 0.4l2 1l2.6 0l12.4 3l2.6 0l4.4 1.6l2.6 0l4.4 1.4l7.6 1l2.4 1l2 0l3.6-9l6.4-13l0-1.4l-16.4-3l-4.6-1.6l-2.4 0l-2.6-1l-2.4 0l-7.6-2l-2.4 0l-2.6-1l-5-0.4l-2.4-1l-25-5l-2.6 0l-10.4-2.6l-2.6 0l-2.4-1l-2.6 0l-2.4-1l-13.6-2l-30-6l-5.4-0.4l-5.6-1.6l-3 0l-5.4-1.4l-2.6 0l-12.4-2.6l-3 0l-3-1l-3 0l-18.6-3.4l-3.4 0l-3-1l-3 0l-3.6-1l-3 0l-0.4-0.6l-3 0l-3.6-1l-10.4-1l-0.6-0.4l-3 0l-0.4-0.6l-3 0l-7.6-1.4l-4 0l-4-1l-25-2.6l-0.4-0.4l-4 0l-0.6-0.6l-4.4 0l-0.6-0.4l-4.4 0l-0.6-0.6l-4.4 0l-0.6-0.4l-5.4 0l-0.6-0.6l-5.4 0l-0.6-0.4l-6 0l-0.4-0.6l-6 0l-0.6-0.4l-29-1l-0.4-0.6l-22 0l-0.6-0.4l-40.4 0.4l-0.6 0.6l-11.4 0l-0.6 0.4l-25 1l-0.4 0.6l-6.6 0l-0.4 0.4l-5.6 0l-0.4 0.6l-5.6 0l-0.4 0.4l-5.6 0l-0.4 0.6l-4.6 0l-0.4 0.4l-4.6 0l-0.4 0.6l-5 0l-0.6 0.4l-9 0.6l-0.4 0.4l-3.6 0l-4.4 1l-4.6 0l-8 1.6l-8.4 0.4l-0.6 0.6l-3 0l-7.4 1.4l-8 0.6l-3.6 1l-14.4 1.4l-10 2l-3.6 0l-3.4 1l-6.6 0.6l-3 1l-3 0l-16 3l-9.4 1l-3 1l-3 0l-3 1l-3 0l-6 1.4l-12 1.6l-2.6 1l-6 0.4zM626.8 297.8l-9-12l-2.6 0l-5 1.4l-22.4 4.6l-2.6 0l-8 2l-2.4 0l-8 2l-13.6 2l-2.4 1l-8.6 13.4l-1.4 3l0 1.6l5-0.6l7.4-2l3 0l2.6-1l7.4-1l2.6-1l2.4 0l2.6-1l12-2l7-2l9.4-1.4l4.6-1.6l17.4-3.4l2.6-1zM1281.8 221.8l-9.6-20l-2.4 0l-8 2l-3 0l-2.6 1l-10 1.4l-2.4 1l-5.6 0.6l-2 1l-5 0.4l-2.4 1l-9.6 1.6l-4.4 1.4l-15.6 3l-4.4 1.6l-4 0.4l-2 1l-2 0l-2 1l-4 0.6l-2 1l-4 0.4l-3.6 1.6l-2 0l-3.4 1.4l-10 2.6l-15.6 5.4l-11.4 5.6l-4.6 3l-2.4 2.4l-1.6 2.6l0 2l32 7.4l3.6 0l5.4-3l11-4.4l27-8.6l43-10.4l9.6-1.6l5-1.4l2.4 0l2.6-1zM523.8 199.2l12 3l4.4 0.6l4.6 1.4l13.4 2.6l4 1.4l2.6 0l2 1l6.4 1l4 1.6l12.6 2.4l2 1l16 3.6l9.4 3l2 0l2 1l3.6 0.4l1.4 1l4 0.6l5 2l3.6 0.4l23 7.6l1.4 0l7 3l1.6 0l17 7l9.4 5.4l6-0.4l5.6-1.6l2.4 0l22.6-4.4l-0.6-3l-1.4-2.6l-3-3l-5-3.4l-12-6l-25-9l-1.6 0l-13.4-4.6l-3.6-0.4l-1.4-1l-28-7l-2-1l-6-1l-4-1.6l-2 0l-16.6-4.4l-6.4-1l-2-1l-15.6-3l-2-1l-7-1l-22.4-5.6l-2.6 0l-2-1l-5-0.4l-2-1l-8-1.6l-6.4 11.6l0 1l-1 1l0 1z"/>
<path fill="#9c0808" d="M1318.8 321.8l0 1.4l3.4 1l11.6 2l2.4 1l18.6 3.6l9.4 2.4l2.6 0l9.4 2.6l4.6 0.4l-4-10.4l-4.6-8.6l-17-3l-2.4-1l-7-1l-12-3l-5.6-0.4zM622.2 291.2l-10-11.4l-3 0l-26.4 5.4l-25 4l-11 15.6l-1 3l10.4-1.6l7.6-2l3 0l5-1.4l2.4 0l12.6-2.6l2.4-1l10-1.4l7-2l7-1l2.6-1l6.4-1zM631.2 305.8l0 1.4l1.6 2l10 21l3 0l0.4-0.4l11.6-1.6l8.4-2l3 0l3-1l3 0l3-1l3 0l18.6-3.4l10-1l3-1l3.4 0l6-1.6l7.6-0.4l6-1.6l7.4-0.4l3.6-1l4 0l0.4-0.6l11-1l3-1l4.6 0l8-1.4l4 0l3.4-1l22.6-2l0.4-0.6l26-2l0.6-0.4l7 0l0.4-0.6l5 0l0.6-0.4l24-1l0.4-0.6l29-0.4l0.6-0.6l33 0l0.4 0.6l29.6 0.4l0.4 0.6l9 0l0.6 0.4l7.4 0l0.6 0.6l19 1l0.4 0.4l4.6 0l0.4 0.6l4.6 0l0.4 0.4l5 0l5 1l18 1.6l0.6 0.4l23.4 2.6l7.6 1.4l3.4 0l6.6 1.6l4 0l0.4 0.4l6 0.6l13 2.4l3.6 0l15.4 3l3 0l6 1.6l3 0l2.6 1l6.4 0.4l3 1l5.6 0.6l19.4 4l8.6 1l5 1.4l2.4 0l8 2l3 0l5.6 1.6l2.4 0l2.6 1l5 0.4l7.4 2l5.6 0.6l7.4 2l2.6 0l15 3l2.4 1l5 0.4l7.6 2l2.4 0l4.6 1.6l7.4 1l2.6 1l9.4 1.4l5 1.6l3 0l1.6-4l9.4-18l0-1.6l-3.4-1l-7.6-1l-9.4-2.4l-2.6 0l-5-1.6l-2.4 0l-2.6-1l-2.4 0l-2.6-1l-2.4 0l-2.6-1l-10-1.4l-10-2.6l-2.4 0l-18-4l-2.6 0l-7.4-2l-5.6-0.4l-10.4-2.6l-2.6 0l-2.4-1l-8-1l-5.6-1.4l-3 0l-5.4-1.6l-16.6-2.4l-14-3l-3 0l-5.4-1.6l-3 0l-6-1.4l-6-0.6l-9.6-2l-3 0l-15.4-3l-3 0l-3.6-1l-3 0l-0.4-0.4l-3 0l-0.6-0.6l-3 0l-3.4-1l-17.6-2l-7.4-1.4l-8-0.6l-0.6-0.4l-20-2l-0.4-0.6l-9-0.4l-0.6-0.6l-27.4-2l-0.6-0.4l-6.4 0l-0.6-0.6l-30.4-1l-0.6-0.4l-55 0l-0.4 0.4l-12.6 0l-0.4 0.6l-8.6 0l-0.4 0.4l-22.6 1l-0.4 0.6l-32.6 2.4l-0.4 0.6l-4 0l-0.6 0.4l-4 0l-0.4 0.6l-4 0l-0.6 0.4l-4 0l-4.4 1l-20.6 2l-4 1l-11 1l-3.4 1l-18 2l-3.6 1l-3.4 0l-3 1l-3.6 0l-10 2l-10 1l-0.4 0.6l-9 1l-6 1.4l-12.6 1.6l-3 1l-3 0l-12 2.4l-6 0.6l-0.4 0.4zM1273.8 204.2l-7.6-13l-32.4 6.6l-2.6 0l-2.4 1l-2.6 0l-7.4 2l-9.6 1.4l-2.4 1l-7 1l-2.6 1l-4.4 0.6l-2.6 1l-4.4 0.4l-21 5.6l-2 0l-2 1l-5.6 1l-2 1l-15.4 4l-1.6 1l-1.4 0l-12.6 4.4l-10 5l-3 2l-4 4l-1 5l0.6 2l2 2.6l25 6l5.4 0.4l7-5l6-3l25-9l3.6-0.4l14.4-4.6l14-3.4l2 0l6-2l9-1.6l2-1l2.6 0l9-2.4l5-0.6l7-2l2.4 0l12.6-3l3 0l2.4-1l7-1zM528.8 189.8l3.4 0.4l4.6 1.6l16 3l4.4 1.4l2 0l13.6 3.6l6.4 1l2 1l4.6 0.4l8.4 2.6l2 0l6 2l2 0l2 1l2 0l14 3.4l2 1l6 1l2 1l5.6 1l12.4 4l7 1.6l5 2l11 3l1.6 1l1.4 0l1.6 1l3 0.4l18 7l10 5l8.4 6.6l2.6 0l28.4-6l1.6-1.6l1.4-3l0-3l-1-2.4l-4-4.6l-3-2l-13-6.4l-17.4-6.6l-1.6 0l-21.4-7l-5.6-1l-9-3l-13.4-3l-4-1.4l-2 0l-14.6-4l-2 0l-6-2l-4.4-0.6l-6-2l-9-1.4l-6.6-2l-15.4-3l-13.6-3.6l-5-0.4l-4.4-1.6l-2.6 0l-11.4-3l-7-1l-7.6-2l-3.4 5z"/>
<path fill="#930808" d="M1323.8 314.8l0 1.4l8.4 1.6l2.6 1l42.4 8.4l-7-14l-3-4l-33-6.4l-6.4 6.4zM617.2 285.2l-5-5.4l-6.4-5l-6 0.4l-3 1l-2.6 0l-3 1l-2.4 0l-20 4l-3.6 0l-9.4 10.6l-4 5.4l0 1.6l16-2.6l8-2l2.4 0l8-2l2.6 0l28.4-6zM624.2 294.8l0.6 2l8 12.4l4.4 9.6l19-3l2.6-1l3 0l6-1.6l3 0l3-1l3 0l3-1l9.4-1l16-3l6.6-0.4l9.4-2l3.6 0l0.4-0.6l16-2l0.6-0.4l7.4-0.6l3.6-1l4 0l0.4-0.4l3.6 0l0.4-0.6l3 0l7.6-1.4l8.4-0.6l0.6-0.4l12-1l0.4-0.6l3.6 0l4.4-1l4.6 0l0.4-0.4l9.6-0.6l0.4-0.4l4.6 0l0.4-0.6l5.6 0l0.4-0.4l4.6 0l0.4-0.6l5.6 0l0.4-0.4l5.6 0l0.4-0.6l22-1l0.6-0.4l21.4-0.6l0.6-0.4l23.4 0l0.6-0.6l1.4 0.6l1.6-0.6l8.4 0l1.6 0.6l0.4-0.6l0.6 0.6l34.4 0.4l0.6 0.6l8.4 0l0.6 0.4l7.4 0l0.6 0.6l7 0l0.4 0.4l18 1l0.6 0.6l4.4 0l0.6 0.4l4.4 0l0.6 0.6l4.4 0l0.6 0.4l13 1l4.4 1l4 0l0.6 0.6l3.4 0l0.6 0.4l3.4 0l4 1l4 0l0.6 0.6l3 0l0.4 0.4l3 0l7.6 1.6l10.4 1l3.6 1l6.4 0.4l9.6 2l3.4 0l18.6 3.6l3 0l3 1l3 0l0.4 0.4l14.6 2l5.4 1.6l3 0l5.6 1.4l25 4l10.4 2.6l8 1l5 1.4l5.6 0.6l7.4 2l2.6 0l5.4 1.4l2.6 0l25 5l2.4 1l5 0.6l2.6 1l2.4 0l7.6 2l2.4 0l4.6 1.4l2.4 0l2.6 1l7.4 1l7.6 2l3 0l4-8.4l8-13l0-1.6l-12-2l-9.6-2.4l-2.4 0l-7.6-2l-2.4 0l-2.6-1l-2.4 0l-2.6-1l-2.4 0l-12.6-3l-5-0.6l-2.4-1l-10.6-1.4l-10-2.6l-10.4-1.4l-18-4l-5.6-0.6l-35-7l-2.4 0l-3-1l-2.6 0l-3-1l-14-2l-3-1l-3 0l-3-1l-5.4-0.4l-15-3l-3 0l-9-2l-3 0l-6.6-1.6l-3 0l-6.4-1.4l-6.6-0.6l-7-1.4l-3.4 0l-0.6-0.6l-13-1.4l-0.4-0.6l-3.6 0l-0.4-0.4l-27-3l-0.6-0.6l-4.4 0l-0.6-0.4l-19-1.6l-0.4-0.4l-11.6-0.6l-0.4-0.4l-22.6-1l-0.4-0.6l-11 0l-0.6-0.4l-26 0l-0.4-0.6l-3.6 0l-0.4 0.6l-1-0.6l-2.6 0.6l-23 0l-0.4 0.4l-11.6 0l-0.4 0.6l-16.6 0.4l-0.4 0.6l-6.6 0l-0.4 0.4l-28.6 2l-0.4 0.6l-9 0.4l-0.6 0.6l-4 0l-0.4 0.4l-4 0l-0.6 0.6l-4 0l-0.4 0.4l-4 0l-0.6 0.6l-4 0l-4 1l-12 1l-7.4 1.4l-8 0.6l-0.6 0.4l-7 0.6l-0.4 0.4l-13.6 1.6l-7 1.4l-7 0.6l-3 1l-7 0.4l-6.4 1.6l-16 2l-3 1l-16 2l-6 1.4l-9 1l-0.6 0.6l-2.4 0l-0.6 0.4l-2.4 0l-6 1.6l-3 0l-0.6 0.4l-2.4 0zM1266.8 191.8l-6.6-9.6l-3 0l-30 6l-8 1l-8 2l-2.4 0l-22.6 5l-2.4 0l-2 1l-2.6 0l-2.4 1l-24.6 5l-35.4 9.6l-16.6 6l-10 5.4l-3 3l-1 2l0 4.6l1 2l3 3l7.6 4.4l21 5.6l2 0l1.4-3.6l3-3l4.6-3l11.4-5.4l15.6-5.6l10-2.4l3.4-1.6l2 0l3.6-1.4l4-0.6l2-1l4-0.4l2-1l2 0l2-1l4-0.6l4.4-1.4l15.6-3l4.4-1.6l9.6-1.4l2.4-1l5-0.6l2-1l5.6-0.4l2.4-1l7.6-1l5-1.6l3 0l2.4-1l7-1zM533.8 179.8l7.4 1.4l2 1l5 0.6l2 1l2.6 0l2.4 1l15.6 3l4.4 1.4l7 1l2 1l15.6 3l2 1l2 0l2.4 1l6 1l2 1l12.6 2.6l4 1.4l2 0l6 2l15 3.6l2 1l5.4 1l2 1l3.6 0.4l1.4 1l3.6 0.6l13.4 4.4l1.6 0l3 1.6l1.4 0l15.6 5.4l12.4 5.6l9.6 6l3.4 3.4l1.6 2.6l0 1.4l3.4 0l20-4.4l9-5l3.6-3.6l1-2l0-3.4l-1.6-3l-3-3l-5.4-3.6l-13.6-6l-22.4-7.4l-1.6 0l-16-5l-5.4-1l-2-1l-9.6-2l-2-1l-2 0l-2-1l-2 0l-4-1.6l-12.4-2.4l-2-1l-2 0l-15-4l-2 0l-2.6-1l-2 0l-4.4-1.6l-4.6-0.4l-4.4-1.6l-6.6-1l-2-1l-5-0.4l-2-1l-7-1l-7-2l-4.4-0.6l-4.6-1.4l-7-1l-7-2l-2.4 0l-9.6-2.6l-7.4-1l-7-2l-2 0.6l-7.6 11z"/>
<path fill="#8a0808" d="M611.2 279.2l-2.4-2.4l-4.6-3l-5.4-2.6l-5 0l-9 2l-11.6 1.6l-6.4 5l-8.6 9l0 1l3 0l20-4l2.6 0l5.4-1.6l2.6 0l3-1l2.4 0l2.6-1l11.4-2zM615.8 283.8l0 1.4l8 9.6l5.4 8.4l1.6 3l3 0l0.4-0.4l9.6-1l2.4-1l6-0.6l15-3l3 0l3-1l12.6-1.4l6-1.6l3 0l10-2l3.4 0l13-2.4l3.6 0l3-1l3.4 0l3.6-1l7-0.6l0.4-0.4l10.6-1l3.4-1l3.6 0l0.4-0.6l7-0.4l8-1.6l3.6 0l0.4-0.4l3.6 0l0.4-0.6l8.6-0.4l0.4-0.6l17-1.4l0.6-0.6l5 0l5-1l4.4 0l0.6-0.4l23-1.6l0.4-0.4l6 0l0.6-0.6l6.4 0l0.6-0.4l17-0.6l0.4-0.4l12.6 0l0.4-0.6l53 0l0.6 0.6l12 0l0.4 0.4l10 0l0.6 0.6l7.4 0l0.6 0.4l19 1l0.4 0.6l4.6 0l0.4 0.4l5 0l0.6 0.6l23 2l4 1l16 1.4l0.4 0.6l38 5l3.6 1l3 0l6.4 1.4l3 0l3 1l9.6 1l6 1.6l15 2l5.4 1.4l3 0l14 3l16.6 2.6l5.4 1.4l3 0l29 6l5.6 0.6l7.4 2l2.6 0l18 4l7.4 1l5 1.4l10 1.6l2.6 1l2.4 0l2.6 1l2.4 0l2.6 1l2.4 0l5 1.4l2.6 0l2.4 1l14.6 2.6l2.4 1l2.6 0l3.4-6.6l5-7.4l5-6l0.6-1.6l44 9l-5.6-9.4l-6-6.6l-13.4-2.4l-2.6-1l-4-0.6l-3 1.6l-3.4 2.4l-6.6 7l-10-2.4l-2.4 0l-12.6-3l-5-0.6l-5-1.4l-5-0.6l-2.4-1l-5-0.4l-2.6-1l-2.4 0l-5-1.6l-2.6 0l-2.4-1l-2.6 0l-2.4-1l-2.6 0l-13-3l-2.4 0l-13-3l-2.6 0l-5-1.4l-13-2l-13-3l-2.4 0l-19-4l-5.6-0.6l-2.4-1l-2.6 0l-3-1l-2.4 0l-3-1l-2.6 0l-3-1l-2.4 0l-3-1l-2.6 0l-3-1l-2.4 0l-3-1l-5.6-0.4l-3-1l-8.4-1l-3-1l-11.6-1.6l-15-3l-3 0l-0.4-0.4l-12-1.6l-6.6-1.4l-3 0l-3.4-1l-3 0l-0.6-0.6l-3 0l-3.4-1l-7-0.4l-0.6-0.6l-3 0l-7.4-1.4l-3.6 0l-4-1l-4 0l-4-1l-23-2l-0.4-0.6l-4.6 0l-0.4-0.4l-18-1l-0.6-0.6l-7.4 0l-0.6-0.4l-9.4 0l-0.6-0.6l-15 0l-0.4-0.4l-44 0.4l-0.6 0.6l-10 0l-0.4 0.4l-21 1l-0.6 0.6l-5.4 0l-0.6 0.4l-5.4 0l-0.6 0.6l-19.4 1.4l-0.6 0.6l-17 1.4l-0.4 0.6l-3.6 0l-4.4 1l-4 0l-4 1l-4 0l-7.6 1.4l-3.4 0l-0.6 0.6l-7 0.4l-7 1.6l-3.4 0l-0.6 0.4l-17 2l-3.4 1l-10 1l-0.6 0.6l-19 2.4l-6.4 1.6l-13 1.4l-9 2l-3.6 0l-0.4 0.6l-2.6 0l-0.4 0.4l-14.6 2l-3 1l-3 0l-0.4 0.6l-2.6 0l-0.4 0.4zM1259.2 180.8l-7.4-8l-11.6 2.4l-16.4 2.6l-3 1l-5.6 0.4l-5.4 1.6l-2.6 0l-3 1l-2.4 0l-3 1l-2.6 0l-33.4 7l-2.6 0l-2.4 1l-32.6 6.4l-24.4 6l-23 7l-10 4.6l-5.6 4l-1.4 2.4l0 3.6l1 2l3 3l10 5.4l22.4 8l3.6 0.6l4 1.4l2 0l-2-5l0.4-2l5-5.4l7.6-4.6l13.4-5.4l25-7.6l30.6-7.4l4.4-0.6l2.6-1l4.4-0.4l2.6-1l7-1l2.4-1l9.6-1.6l7.4-2l2.6 0l2.4-1l10.6-1.4l5-1.6l3 0l2.4-1l3 0l2.6-1l8-1zM539.8 170.2l14 2.6l11.4 3l2.6 0l4.4 1.4l5 0.6l13.6 3.4l15.4 3l6.6 2l9 1.6l6 2l4.4 0.4l6 2l2 0l14.6 4l2 0l4 1.6l13.4 3l9 3l5.6 1l3.4 1.4l1.6 0l16.4 5.6l3 0.4l19.6 7.6l12.4 7l3.6 3.4l2 4l-0.6 2.6l-2.4 3l0 1l20.4-5l17-6l7.6-4l3.4-3l1-2l0-3.6l-1-2l-4.4-4l-11-5.4l-20-7l-1.6 0l-16-5l-3.4-0.6l-2-1l-55.6-13.4l-2 0l-24.4-6l-2.6 0l-9-2.6l-4.4-0.4l-2.6-1l-4.4-0.6l-2.6-1l-4.4-0.4l-2.6-1l-4.4-0.6l-2.6-1l-7-1l-2.4-1l-31-6l-2.6-1l-9.4-1.4l-7.6-2l-2.4 0l-4 4l-5.6 7z"/>
<path fill="#820707" d="M545.8 160.8l22.4 4.4l2.6 1l2.4 0l7 2l7 1l16 4l7 1l2 1l5 0.6l2 1l15.6 3l9 2.4l2 0l66 16.6l27.4 8.4l16.6 6.6l9.4 5.4l4.6 5l0.4 3l-1 2l-4 4l-9 5l-6 1.6l-2 0l-7 2l-30 6l-2.4 0l-5.6 1.4l-2.4 0l-5.6 1.6l-2.4 0l-25 5l-2.6 0l-11.4 2.4l-14 2l-3 1l-20 3l-3 1l-11.6 1.6l-3 1l-11.4 1.4l-9 2.6l-9 5.4l-4 3.6l0 1.4l39-7l6.4 5l4.6 4.6l8 10.4l2.4 0l3-1l8.6-1l9-2l3 0l12-2.4l9-1l6-1.6l16-2l3-1l3 0l0.4-0.4l12.6-1.6l3.4-1l10-1l3-1l7-0.4l0.6-0.6l3 0l3.4-1l3.6 0l0.4-0.4l3 0l0.6-0.6l10-1l4-1l8-0.4l7.4-1.6l12-1l0.6-0.4l12-1l0.4-0.6l4 0l0.6-0.4l4 0l0.4-0.6l4 0l0.6-0.4l9-0.6l0.4-0.4l28.6-2l0.4-0.6l6.6 0l0.4-0.4l16.6-0.6l0.4-0.4l11.6 0l0.4-0.6l55 0l0.6 0.6l11 0l0.4 0.4l22.6 1l0.4 0.6l5.6 0l0.4 0.4l5.6 0l0.4 0.6l5 0l0.6 0.4l9 0.6l5 1l4.4 0l0.6 0.4l16 1.6l0.4 0.4l7 0.6l4 1l3.6 0l0.4 0.4l10 1l3.6 1l3.4 0l7 1.6l6.6 0.4l6.4 1.6l3 0l6.6 1.4l3 0l9 2l3 0l15 3l5.4 0.6l3 1l3 0l3 1l14 2l3 1l2.6 0l3 1l2.4 0l35 7l5.6 0.4l7.4 2l2.6 0l8 2l10.4 1.6l10 2.4l10.6 1.6l2.4 1l5 0.4l2.6 1l12.4 2l2.6 1l2.4 0l12.6 3l2.4 0l2.6 1l17 3l3.4 1l7-10l6.6-6.4l2.4 0l27.6 6l3 0l-2-3l-6-6l-6.6-3.6l-46.4-9l-2.6-1.4l-4.4-0.6l-2.6-1l-97.4-19.4l-2.6-1l-16.4-3l-2.6-1l-4.4-0.6l-2.6-1l-4.4-0.4l-2.6-1l-4.4-0.6l-2.6-1l-2 0l-2.4-1l-4.6-0.4l-13.4-3.6l-6.6-1l-6.4-2l-2 0l-21-5.4l-7.6-4.6l-3.4-3.4l-1-2l0-2.6l1-2l3.4-3.4l10-5.6l16.6-6l35.4-9.4l2 0l4.6-1.6l9-1.4l11.4-3l2.6 0l2-1l2.4 0l5-1.6l12.6-2l2.4-1l5-0.4l13.6-3l2.4 0l10.6-2.6l22-3.4l-4-5l-8-8l-5-3.6l-6-3l-1.6 0l-2-1l-8.4-0.4l-0.6 0.4l-2.4 0l-0.6 0.6l-2.4 0l-0.6 0.4l-2.4 0l-0.6 0.6l-2.4 0l-0.6 0.4l-2.4 0l-0.6 0.6l-2.4 0l-0.6 0.4l-2.4 0l-0.6 0.6l-2.4 0l-0.6 0.4l-2.4 0l-0.6 0.6l-2.4 0l-0.6 0.4l-2.4 0l-0.6 0.6l-2.4 0l-0.6 0.4l-2.4 0l-0.6 0.6l-2.4 0l-18.6 3.4l-3 0l-15.4 3l-3 0l-6.6 1.6l-12.4 1.4l-6.6 1.6l-3 0l-3.4 1l-3 0l-3.6 1l-6.4 0.4l-3.6 1l-6.4 0.6l-0.6 0.4l-20 2.6l-0.4 0.4l-3.6 0l-7.4 1.6l-3.6 0l-0.4 0.4l-3.6 0l-0.4 0.6l-3.6 0l-0.4 0.4l-3.6 0l-0.4 0.6l-3.6 0l-4.4 1l-4 0l-4.6 1l-25 2l-0.4 0.4l-5.6 0l-0.4 0.6l-6 0l-0.6 0.4l-16.4 0.6l-0.6 0.4l-47 0.6l-0.4-0.6l-21.6-0.4l-0.4-0.6l-6.6 0l-0.4-0.4l-6 0l-0.6-0.6l-15.4-1l-0.6-0.4l-25-2.6l-0.4-0.4l-20.6-2.6l-3.4-1l-3 0l-3.6-1l-3 0l-0.4-0.4l-29.6-4.6l-3-1l-5.4-0.4l-3-1l-5.6-0.6l-19.4-4l-2.6 0l-32-6.4l-2.4 0l-130-26l-9 0.4l-7 3l-6 4.6l-6 6zM921.2 212.2l0.6-0.4l3 0l0.4 0.4l11.6 0l2.4-0.4l0.6 0.4l-1.6 1l0 1l1.6 1l-0.6 0.6l-5.4-0.6l-0.6-0.4l-11.4 0.4l-0.6-0.4l1-1l0-1z"/>
<path fill="#7a0606" d="M553.2 152.2l33.6 6.6l2.4 1l2.6 0l16.4 4l35 7l9 2.4l2.6 0l4.4 1.6l2 0l31 7.4l2 0l42.6 10.6l2 1l3.4 0.4l2 1l15.6 4l20 7l11 5.6l5 4.4l1 2l0 1.6l-1 2l-5.6 4.4l-6 3l-17 6l-17 4.6l-55 11l-2.4 0l-25 5l-5.6 0.4l-8.4 2l-5.6 0.6l-3 1l-5.4 0.4l-3 1l-8.6 1l-3 1l-8.4 1l-3 1l-11.6 1.6l-3 1l-2.4 0l-15.6 3l-6.4 3l-0.6 1.4l11.6-1.4l9-2l3 0l5.4 2.4l4.6 3l7.4 7l6-0.4l3-1l3 0l3-1l9-1l3-1l15-2l3-1l2.6 0l12.4-2.6l3.6 0l9-2l16-2l0.4-0.4l15.6-2l3.4-1l3 0l3.6-1l10-1l0.4-0.6l20-2.4l0.6-0.6l3.4 0l7-1.4l11-1l7.6-1.6l20-2l0.4-0.4l4 0l0.6-0.6l4 0l0.4-0.4l13-1l5-1l10-0.6l0.6-0.4l25.4-1.6l0.6-0.4l7 0l0.4-0.6l27-0.4l0.6-0.6l25 0l0.4 0.6l15 0l0.6 0.4l17.4 0.6l0.6 0.4l6 0l0.4 0.6l21.6 1.4l0.4 0.6l9 0.4l0.6 0.6l4 0l0.4 0.4l4 0l4 1l11.6 1l0.4 0.6l27.6 3.4l3.4 1l3 0l6.6 1.6l3 0l0.4 0.4l38.6 6l3 1l8.4 1l3 1l5.6 0.6l3 1l2.4 0l3 1l2.6 0l3 1l19 3l2.4 1l5.6 0.4l19 4l2.4 0l13 3l13 2l5 1.6l2.6 0l13 3l2.4 0l13 3l2.6 0l2.4 1l2.6 0l2.4 1l2.6 0l5 1.4l2.4 0l2.6 1l5 0.6l2.4 1l5 0.4l5 1.6l5 0.4l12.6 3l2.4 0l10 2.6l1.6 0l7-7l5.4-3.6l3 0l2.6 1l12.4 2.6l2.6 0l-5-4l-5.6-2l-44.4-8.6l-2.6-1.4l-4.4-0.6l-2.6-1l-32-6l-2.4-1l-19.6-3.4l-2.4-1l-60-12l-2.6-1l-30-6l-44.4-10.6l-20.6-6.4l-7.4-3l-7-3.6l-3-2l-3.6-3.4l-1-2l0-1.6l1.6-2.4l3.4-3l12.6-6l17.4-5.6l30-7.4l2 0l21-5l2.6 0l9.4-2.6l2.6 0l52.4-10.4l2.6 0l17-3.6l16.4-2.4l-3.4-4l-5-3.6l-6-3l-1.6 0l-2-1l-8.4-0.4l-0.6 0.4l-2.4 0l-0.6 0.6l-2.4 0l-0.6 0.4l-2.4 0l-0.6 0.6l-2.4 0l-0.6 0.4l-2.4 0l-0.6 0.6l-2.4 0l-0.6 0.4l-2.4 0l-0.6 0.6l-2.4 0l-0.6 0.4l-2.4 0l-0.6 0.6l-2.4 0l-0.6 0.4l-2.4 0l-0.6 0.6l-2.4 0l-0.6 0.4l-2.4 0l-0.6 0.6l-2.4 0l-18.6 3.4l-3 0l-15.4 3l-3 0l-6.6 1.6l-12.4 1.4l-6.6 1.6l-3 0l-3.4 1l-3 0l-3.6 1l-6.4 0.4l-3.6 1l-6.4 0.6l-0.6 0.4l-20 2.6l-0.4 0.4l-3.6 0l-7.4 1.6l-3.6 0l-0.4 0.4l-3.6 0l-0.4 0.6l-3.6 0l-0.4 0.4l-3.6 0l-0.4 0.6l-3.6 0l-4.4 1l-4 0l-4.6 1l-25 2l-0.4 0.4l-5.6 0l-0.4 0.6l-6 0l-0.6 0.4l-16.4 0.6l-0.6 0.4l-47 0.6l-0.4-0.6l-21.6-0.4l-0.4-0.6l-6.6 0l-0.4-0.4l-6 0l-0.6-0.6l-15.4-1l-0.6-0.4l-25-2.6l-0.4-0.4l-20.6-2.6l-3.4-1l-3 0l-3.6-1l-3 0l-0.4-0.4l-29.6-4.6l-3-1l-5.4-0.4l-3-1l-5.6-0.6l-19.4-4l-2.6 0l-32-6.4l-2.4 0l-130-26l-6.6 0l-5.4 1.4l-5.6 3z"/>
<path d="M1509.8 969.8l0.4 3l7 14.4l6 10l2 0.6l0-1l-7-11l-5.4-12zM1329.2 308.8l-1.4 0.4l-5 6.6l-8.6 13.4l-10 19.6l0 1l-6.4 13.4l-12 30l-8.6 25l-1 1.6l-12 36l0 1.4l-1 1.6l-4 14.4l1.6 0.6l0-2.6l1-2l0-1.4l15.4-47l1-1.6l8.6-25l12-30l14.4-30.4l10.6-17l5-6zM608.2 277.2l0 1l10.6 10.6l9 12.4l5 8.6l9 18l0 1l3.4 7l0 1.4l1.6 0l-0.6-3l-3.4-7l0-1l-9-18l-5-8.4l-12-16l-7-6.6zM1099.8 243.2l0 1l47.4 11.6l4.6 0.4l2.4 1l32.6 6.6l2.4 1l7 1l2.6 1l9.4 1.4l2.6 1l12 2l2.4 1l14.6 2.6l2.4 1l63 12.4l-0.4-1.4l-78-15.6l-2.6-1l-12-2l-2.4-1l-9.6-1.4l-12-3l-7-1l-2.4-1l-30-6l-26.6-6.6l-2 0l-16.4-4.4zM754.2 238.8l-59 12l-2.4 0l-3 1l-2.6 0l-19.4 4l-5.6 0.4l-8.4 2l-5.6 0.6l-11.4 2.4l-2.6 0l-9 2l-2.4 0l-9 2l-31 5l-8 3.6l-8 6l-9 9.4l-11 15.6l-9.6 16.4l-8 16l0 1l-1 1l-12 27.6l-14.4 37.4l-10.6 31l-1 1.6l-28.4 88l0 1.4l-4.6 13l-1.4 6.6l-1 1.4l-1.6 6.6l-2.4 6.4l0 1.6l-15.6 49l0 1.4l-3.4 10l-1.6 6.6l-5.4 16l-3.6 13l-9.4 28.4l-3 11l-18 54.6l-1.6 3l0 1.4l-1 1.6l-2.4 8.4l-1 1.6l-2.6 8.4l-1 1.6l-9 26l-7.4 18.4l-0.6 2.6l-1.4 2.4l-1.6 5l-1.4 2.6l-1.6 5l-13.4 31.4l-7 14l0 1l-6 11l-0.6 2l-1 1l-8.4 16.6l-6 9.4l0 1l1 0l1-1l5-8.4l8.4-16.6l1-1l0.6-2l1-1l9-18.4l0-1l3-5.6l10-23l17.4-44.4l1-4l9-23.6l2.6-8.4l1-1.6l2.4-8.4l1-1.6l0-1.4l1.6-3l18-54.6l0-1.4l10-30l0-1.6l2.4-6.4l3.6-13l3.4-9.6l0-1.4l2-5l1.6-6.6l2-5l1.4-6.4l4.6-13l3-11.6l2.4-6.4l0-1.6l8-24.4l1.6-6.6l1-1.4l0-1.6l4-11.4l2-8l28.4-88l1-1.6l10.6-31l14.4-37.4l12-27.6l1-1l0-1l8-16l9.6-16.4l9-13l11-12l8-6l8-3.6l31-5l9-2l2.4 0l3-1l8.6-1l3-1l5.4-0.4l3-1l5.6-0.6l3-1l2.4 0l3-1l5.6-0.4l3-1l2.4 0l3-1l19-3l5.6-1.6l2.4 0l5.6-1.4l2.4 0l30-6l7-2l2 0l3-1z" fill="#300" fill-opacity="0.35"/>
<path d="M231.2 981.3l12.9-11.6l13.5-15.3l12.9-17.8l13.3-21.7l13.3-24.8l13.3-28l13.8-32.2l13.7-35.4l23.3-66.5l25.1-80.4l23.3-80.1l49.1-174.8l21.3-72l19.3-59l8.8-24.4l8.4-21l8.7-19.7l8.7-16.9l8.6-14l8.1-10.4l8.4-7.9l7.9-4.3l3.9-1.1l3.9-0.3l3.9 0.5l3.8 1.2M252.6 984.1l13-11.6l13.4-15.3l13-17.9l13.3-21.7l13.4-24.9l13.3-28l13.3-31l13.8-35.3l23.3-66.3l25.3-80.1l23.4-80l49.2-174.3l21.4-71.8l19.4-58.9l8.9-24.4l8.8-22.1l9.2-20.6l8.7-16.7l8.6-13.8l8.1-10.2l8.4-7.6l7.9-4.2l3.9-0.9l3.9-0.3l3.9 0.5l3.8 1.3M274.3 975.5l12.1-10.7l12.5-13.8l12.4-16.6l12.5-19.4M486.9 450.9l25.9-87.9l20.4-64.4l17.9-50.1l8.4-20.9l8.3-18.7l8.3-16.3l7.7-13.1l7.7-10.8l7.2-7.9l7.5-5.9l7-3.2l7.3-0.9l7.2 1.6M296.3 955.1l7.8-6.4l7.7-7.5l15.4-18.1M557.9 291.5l13.7-36.8l12.6-29.9l12-24.4l11.3-18.8l5.9-7.9l5.4-6.1l5.7-5.2l5.3-3.6l5.3-2.3l5.2-1.1l5.1 0.1l5.5 1.5M318.7 923l14.6-12.6l15-16.8l15-20.5l14.9-24.3M587.6 270.5l12.6-30.3l11.6-24.4l11.5-20.4l10.9-15.4l5.4-6.2l5.3-5l5.3-3.9l5.2-2.8l4.8-1.6l5.2-0.6l5.1 0.5l5.1 1.6M341.6 879.3l10.2-8.2l10.7-10.4l10.7-12.2l10.7-13.9l10.6-15.8l10.6-17.5l10.6-19.2l11.1-21.8M429.7 754.4l2.4-5.1M611 265.9l12.6-27.7l12-23.1l11.4-18.5l10.9-14l10.7-10.1l5.2-3.5l5.3-2.5l4.8-1.4l5.1-0.6l5.1 0.4l5.1 1.5M365 824.2l13.2-10.3l13.1-12.9l13.2-15.4l13.5-18.6l13.6-21.3l13.6-23.7l14-27.1l14.5-30.5M476.2 659.1l1.9-4.3M633.7 262l12.5-25l12-20.9l11.4-16.7l11.3-13.3l11.1-9.5l5.3-3.2l5.2-2.3l5.2-1.4l5.2-0.6l5.1 0.4l5.5 1.4M388.8 758.7l15.7-11.6l15.7-15l16.1-18.8l16.1-22.1l16.5-26l17-30.1l17.4-34l18.4-38.8M522.7 560.2l3.4-7.5M655.7 258.2l13.5-23.5l12.4-19l12.2-15.7l11.7-11.7l11.5-8.4l5.7-2.9l5.2-1.8l5.6-1.1l5.6-0.3l5.5 0.7l5.4 1.5M413.3 684.4l8.9-5.6l9.3-6.9l8.9-7.5l9.3-8.9l18.6-20.7l18.5-24.5l19.5-29.4l19.9-33.6l21.3-39.3l24.2-47.6M677.2 254.5l13.8-21l13.3-17.5l12.6-13.9l12.1-10.5l11.9-7.5l6.1-2.7l5.6-1.7l5.6-0.9l6-0.3l5.5 0.5l5.9 1.4M438.3 603.9l9.4-5.3l9.9-6.4l9.9-7.4l9.8-8.4l20.1-19.9l20.5-24l20.9-27.9l22.4-33.1l24.1-38.7l31.7-53.5M697.6 251l14.7-18.7l14.1-15.6l13.4-12.4l12.9-9.4l12.8-6.7l12.1-3.8l12.4-1.2l12.2 1.6M803 185l1.7 0.4M463.9 520.9l19.3-9.9l19.8-13.1l20.1-16.4l20.6-19.5l20.9-22.5l22.3-26.4l24-30.7l34.9-46.4M716.9 247.2l16.4-16.7l15.8-14l15.2-11.1l14.6-8.3l14.4-5.7l13.7-3l14-0.5l13.8 2.1M489.9 440.6l17-6.9l17.3-8.7l17.3-10.2l18.1-12.4l18.5-14.2l19.4-16.2l21.2-19.2l24.4-23.3M734.2 243.8l18.6-14.6l17.6-11.8l16.9-9.6l16.2-7.2l16.1-5l15.4-2.7l15.6-0.7l15.9 1.6M516.3 369.1l27.4-9.1l28.6-12.2l29.8-15.2l33.3-19.6M748.2 240.8l23.1-12.8l21.5-10.4l20.3-8.2l19.7-6.2l18.9-4.2l19.1-2.4l19.3-0.5l19.4 1.3M542.9 313.1l38.3-9.8l40.6-12.8M756.6 238.8l28.5-10.3l25.9-8.5l24.2-6.9l23.5-5.6l23.1-4.3l22.9-3l22.9-1.8l23.8-0.7M956.2 197.6l3.3 0.1M569.4 278.8l32.9-6.3M736.5 243.3l1.4-0.3M739.3 242.7l1.4-0.3M741.6 242.2l86.1-19l67.5-12.9l65.5-10.1l75.1-8.9M1036.6 191.2l2.8-0.3M1040.6 190.8l2.3-0.3M1044.9 190.3l2-0.2M1048.8 189.9l1.6-0.2M1052.7 189.5l1.2-0.1M595.7 270.7l637.4-108.4M621.6 290.7l83.1-17.1l169.7-38.7l39-8.1l36.9-6.9l36.2-5.9l37.6-5.4l159.4-18.6l38-5.2l35.9-5.8M646.9 337.8l40.7-11l43.4-14.4l40.2-15.4l88.7-36.2l41.3-15.3l38.7-11.9l18.6-4.7l17.9-3.7l17.7-3l18-2.2l18.1-1.5l18.7-0.7l40.8 0.7l81.8 5.6l34.9 1.1l19.5-0.3l18.5-1.1l18.1-2l17.9-2.9M671.8 408l18.4-6.2l18.3-7.4l18.6-8.6l19.5-10.2l21.3-12.3l22.6-14.2l85.9-58.3l36-22.7l19.8-11l18.6-9.2l18-7.4l17.2-5.8l20.5-4.9l20.5-2.7l20.7-0.4l21 1.8l20.3 3.8l22.3 6l23.1 7.8l39.4 14.8M1274 282l14.3-1.1l13.9-2.3M696.2 495.5l20.3-9l20.8-11.8l21-14.3l22.5-17.6l20.3-17.8l22.2-21l75.4-76.8l28.3-27.3l15.1-13.5l14.5-12l13.4-10l13.4-8.8l15.8-8.7l15.5-6.7l15-4.4l15.1-2.3l14.9-0.2l15.1 1.9l15.2 4.1l15.3 6.2M720.3 593.9l10.9-5.7l10.8-6.6l10.9-7.6l10.8-8.5l22.6-20.6l23.5-25.1l20.5-24.4l22.8-29.6l72.5-100.8l25.4-34l25.5-30.8l11.9-12.9l11.3-11.1l13-11.3l12.8-9.4l12.2-7.1l12-5.1l11.9-3.1l11.6-1.2l11.5 0.9l11.8 2.8M744.2 696.8l10.9-6.8l11.3-8.4l11.3-9.7l11.3-11l11.4-12.2l11.8-14.1l12.3-15.8l12.3-17.1l21.1-32l23.6-38.7l22.5-39.1l50.9-91l24.4-41.5l24.5-38l11.1-15.5l10.6-13.5l11.8-13.5l11.6-11.4l11.5-9.1l10.8-6.7l10.7-4.4l10.5-2.2l10.4-0.1l10.5 2.3M768.1 798.9l11.3-8.2l11.8-10.2l11.3-11.4l11.9-13.6l11.8-15.2l12.4-17.5l12.3-19.1l12.9-21.4l22.3-40.5l23.8-47l22.8-47.9l51.8-111.5l24.3-49.9l23.4-44.1l10.9-18.3l10.2-16l11.5-16l10.9-13.1l10.6-10.6l10.6-8.1l10.3-5.5l9.7-2.8l9.9-0.4l9.7 2.3M1260 471.7l0.9 2.3M792.2 895.9l11.8-9.5l11.7-11.5l11.8-13.5l12.4-16.1l12.3-18.1l12.4-20.1l12.9-22.9l13.5-25.7l23-48.2l24.6-56.1l23.6-57.3l52.7-131.1l24.2-57.6l22.8-49.6l10.5-20.7l9.9-18l10.7-17.4l10.6-14.8l10.3-12.2l9.7-8.9l9.5-6.2l9.3-3.5l9.1-0.7l4.5 0.7l4.8 1.5M1261.8 464.1l23.6 71.3l17.9 48.8M816.6 984.9l12.2-10.8l12.2-13.1l12.3-15.6l12.9-18.7l12.9-21l12.9-23.5l13-25.7l13.5-29l23.8-55.4l25.4-64.9l23.9-65l53-147.8l24.2-64.3l22.7-55.4l10.2-22.6l9.5-19.5l10.4-19.1l10.2-16.3l9.9-13.5l9.4-9.9l9.1-6.9l8.9-4l4.2-0.9l4.5-0.2l4.5 0.7l4.4 1.4M1268.7 443.7l29.2 108l13.9 49l14.6 46.3l13.4 37.1M1340.4 685.6l1 2.2M841.4 1063.9l12.2-11.4l12.7-14.7l12.8-17.5l12.8-20.1l12.9-22.8l13.5-26.4l13.6-29.1l14.1-32.9l24.5-62.1l26.2-72.9l24.8-73.4l53.3-162.2l24-69.8l22.1-58.9l9.8-23.9l9.7-21.8l10.5-21.2l9.8-17.3l9.6-14.2l9-10.6l8.7-7.5l8.5-4.4l4.2-1l4.1-0.3l4 0.6l4 1.2M1278.8 413.3l14.1 57.3l32 138l14.7 58.7l9.5 33.8l8.9 28.8l9.1 25.7l8.9 21.8M866.8 1131.7l12.6-12.6l13.2-16.2l12.8-18.5l13.3-22.3l13.5-25.3l13.5-28.3l13.6-31.2l14.3-35.2l24.6-66.7l27-80l25.7-81l54.7-177.4l23.8-73.9l21.8-62.2l10-25.8l9.3-22.3l10.1-21.8l9.4-17.8l9.2-14.7l9-11.5l8.7-8l8.1-4.4l3.8-1l4-0.3l4.1 0.6l4 1.4M1291.6 379.9l8.6 33.7l9.4 41.4l39.8 193.9l9.8 44.7l9.4 39l10.8 40.4l10.8 34.1l11 28.9l11 22.8M892.8 1187.5l13.1-13.6l13.1-16.9l13.3-20.2l13.4-23.3l13.5-26.6l14-30.8l14.2-34.1l14.4-37.1l24.8-70.5l27.3-84.7l26-85.8l55.3-188.5l24.2-78.7l21.6-64.5l19-49.9l9.7-22.2l9.5-19.1l8.8-15l8.6-11.8l8.3-8.4l8.1-5.1l3.7-1.2l4.1-0.4l3.7 0.4l3.9 1.3M1305.5 345.7l6.1 20.3l6.2 23.5l12.6 56.3l12.3 63l33.5 181.9l10.8 53l10.1 44.4l12.1 45.1l12 36.9l6 15.4l6.1 13.5l6.2 11.8l6.3 9.9M919.5 1230.9l13-13.9l13.2-17.4l13.3-20.7l13.9-24.9l13.5-27.5l14.1-31.8l14.3-35.1l14.9-39.9l25.5-74.7l28.1-90l26.2-89.6l55.4-195l24.5-82.2l21.3-65.9l19.1-52.1l9.8-23.1l9.1-18.9l8.8-15.7l8.6-12.3l8.4-8.7l7.6-4.9l3.7-1.2l4.1-0.5l3.6 0.5l4 1.5M1320.9 318.8l8 20.9l7.6 25.2l7.9 31.2l8.2 37.4l14.3 76.5l26.2 156.6l11 61.8l11.8 60.4l11.2 49.9l6.5 24.8l6.5 22.4l6.6 20.1l6.8 17.7l6.9 15.3l6.8 12.3l6.8 10.1l7.4 8.1M1512.8 977.8l2.3-0.9M947 1261.7l13-14.2l13.7-18.4l13.3-21.1l13.9-25.6l14-29.1l14.2-32.7l14.3-36.1l15-40.9l25.7-76.6l28.2-92.4l26.5-92.1l55.9-200.5l24.1-82.7l21.5-67.9l19.3-53.6l9.8-23.8l9.1-19.4l8.9-16l8.6-12.5l8.3-8.9l7.7-4.9l3.7-1.1l3.6-0.4l3.6 0.6l3.9 1.5M1336.2 301.2l5.1 7.4l4.9 9.1l4.8 10.9l4.9 13.5l9.7 33.1l9.8 42l8.1 41.1l8.5 48.7l29.1 183l12.3 72.9l12.8 66.3l12.5 53.6l6.9 25.1l6.8 21.5l7.3 19.4l7.1 16l7.2 13.3l7.7 11l7.6 7.8l8.1 5.3M1529.6 1004.7l5.2-0.7l5.6-1.9M975.4 1279.7l11.6-12.5l12.2-16.1l11.7-18.2l12.4-21.8l12.5-24.7l12.6-27.6l12.7-30.4l13.4-34.5l13.5-37.5l14.2-41.7l30.3-97l30.3-104.8l72.1-258.7l19.8-66.8l17.3-54.1l10.2-29.4l10-26.4l9.3-22.1l8.6-17.9l8.4-14.8l8.1-11.6l7.9-8.2l7.2-4.6l3.7-1.2l3.6-0.3l3.6 0.5l3.9 1.6l6.8 5.5l6.9 9.3l6.5 12.7l6.7 16.8l6.3 20l6.4 24.1l10 46.1l10.7 59.3l10 61.8l24.7 162.2l14.5 85.7l7.7 39.7l7.6 34.9l7.8 31.2l7.7 26.6l8.1 23.6l8.1 19.2l8.4 15.5l8.5 11.9l4.3 4.4l4.5 3.8l4.4 2.7l4.7 1.9l4.4 1l4.8 0.1l4.9-0.9l5-1.8M231.2 981.3l6.4 2.1l6 1l6 0l6-0.8l6.1-1.7l6.1-2.6l6.1-3.6l6.1-4.4l12.4-11.7l12.5-15.4l12.6-19l13.1-23.6l12.9-26.5l13.5-31.1l13.7-34.9l14.4-39.5l27.8-84l50.6-163.6l19.3-60.1l19.9-57.7l18.1-45.8l10.6-23.5l10.6-20.4l10.1-16.1l9.6-12.2l9.5-8.9l4.8-3.1l4.7-2.3l4.8-1.4l4.7-0.5l4.7 0.5l4.7 1.4l4.2 2l4.6 3.1l8.8 8.3l8.7 11.6l9.2 15.6l9.1 18.9l9 22.1l9.5 26.3l9.4 29.1l15.7 54.6l17.4 67.8l62.8 267l28 112l15.1 55.5l14.3 48.5l13.9 43.4l14.1 40l14.8 37.5l14.5 32.4l15.3 29.5l14.9 24.5l15.3 20.5l7.7 8.8l7.7 7.8l7.9 6.8l7.9 5.7l7.9 4.8l8.1 3.7M256 956.4l6 1.9l5.6 1l6 0.2l5.6-0.6l6.1-1.5l5.6-2.2l11.4-6.7M315.1 937.3l9.4-10.5l9.4-12.5l9.5-14.6l9.6-16.6l9.7-18.6l9.7-20.5l20.7-49.2l17.8-47.3l19.5-56.6l59.3-184.3l18.8-56.5l17.9-50.1l15.9-39.9l14.9-32.3l7.4-14.1l7-11.6l6.9-10.2l6.9-8.6l6.9-6.9l6.3-5M606.5 267.4l5.3-1.4l5.2-0.3l5.3 0.8l5.2 1.8l5.2 3l5.1 4.1l5.2 5.1l5.1 6.2l10.2 15.6l10.6 20.6l11.1 26l10.9 30l17.6 56.7l19.4 71.4l18.7 75.3l50.2 209.1l15.3 60.9l14.1 52.6l15.6 54.8l14.8 47.7l14.5 42.5l14.6 38.8l13.9 32.6l14 29.2l14.3 25.7l13.9 21.3l14.7 18.6l14.4 14.4l7.3 6l7.4 5.1l7.4 4.2l7.5 3.4M280.7 920.3l10.7 2.8l10.8-0.1l10.9-2.8l10.5-5.3M360.6 876.8l16-25.3l16.2-30.6l16.4-35.7l17.7-43l15.1-39.8l16.7-47.1l69-203.3l16.3-44.5l14.3-36l13.8-31.2l13.3-26l12.8-20.7l6.3-8.7l5.9-6.7M631.5 263l5.8-1.4l5.2-0.3l5.3 0.8l5.2 1.8l5.1 2.9l5.2 3.9l5.2 4.9l5.6 6.5l10.7 15.8l10.6 19.9l11 25l10.9 28.8l17.7 54.1l19.8 70.1l18.7 72l50.2 200.1l15.3 58.4l14.1 50.5l15.6 52.6l14.8 45.8l14.6 40.9l14.7 37.3l13.8 31.4l13.6 27l14.3 24.7l13.9 20.5l14.2 17.3l14.4 14l7.3 5.7l7.4 4.9l7.4 4.1l6.9 3M305.2 873.4l10.4 2.6l9.9 0.2l10.5-2.2l10.1-4.5M406.6 798.9l12.6-23.3l13.2-27.2l13.8-31.2l14.6-35.3l26.1-68.6l58.8-162.4l14.1-36.9l12.7-31.2l13.2-30.1l12.2-25l11.7-21.1l11.1-17.1M655.1 258.9l5.8-1.5l5.2-0.4l5.8 0.6l5.2 1.6l5.2 2.5l5.7 3.8l5.1 4.5l5.6 6l10.7 14.5l11.2 19.3l11 23.1l11.4 28l8.9 24.4l9.3 27.7l20.3 67.3l19.3 69.3l51.3 191.9l15.4 54.9l14.1 47.6l15.3 48l14.9 43.3l14.5 38.6l14.8 35.2l13.4 28.6l13.6 25.5l13.8 22.6l13.5 18.7l14.2 16.4l13.9 12.9l14.1 9.8l7.5 4l6.9 2.9M329.8 815.9l9.9 2.5l10 0.3l10-1.8l10.1-4M455.5 702.5l19.2-40.2l20.5-47.4l19.9-48.9l46.9-118.9l23.5-56.3l12.1-26.8l11-22.8l10.6-20l10.6-17.9M679.5 254.3l5.8-1.3l5.7-0.3l5.8 0.7l5.1 1.5l5.2 2.3l5.7 3.6l5.7 4.6l5.6 5.6l11.2 14l11.2 17.9l11.5 22.3l11.4 25.9l9.4 23.7l9.4 25.6l20.9 63.5l19.9 65.7l51.6 177.2l15.6 50.8l14.2 44l15.4 44.5l15 40.2l14.7 35.8l14.3 31.6l13.5 26.5l13.2 22.9l13.4 20.3l13.5 17.6l13.7 14.8l13.4 11.6l14.2 9.3l13.8 6.3M354.3 748.6l9.9 2.4l9.6 0.4l9.7-1.5l9.7-3.2M504.1 599.6l1.4-3M506.5 594.6l23.6-50.6l47.6-107.3l19.7-42.9l20.9-42.4l18.9-34M701 250.5l10.4-2l5.2 0l5.2 0.8l9.9 3.5l10.3 6.6l10.3 9.4l10.2 12.3l10.1 14.9l10.6 18.3l10 19.9l10.4 23.1l10.9 26.5l11.3 29.7l24 68.6l53.6 164.5l25.1 73.6l13.9 38.2l13.5 35l13.2 31.7l12.8 28.5l15.5 31.3l15.2 27.3l15.4 24l15.1 20.1l15.4 16.9l15.6 13.7l7.9 5.7l8 4.8l8 3.9l7.6 3M378.8 672.5l9.6 2.2l10 0.6l9.7-1.1l9.8-2.9M556.6 490l54.8-106l16.5-30.1l15.1-25.5M724.2 245.8l11-1.7l10.4 1l10.3 3.4l10.9 6.2l10.3 8.4l10.7 11.3l10.7 13.8l11.1 17l10.6 18.4l11 21.4l11 23.4l11.9 27.3l24.7 61.7l54.4 144.8l24.9 63.7l14.1 33.8l13.2 29.9l12.8 27.2l12.9 25.4l15.2 27.2l14.8 23.6l15.1 21l15.2 18.3l15.5 15.4l15.2 12.1l15.4 9.3l15.6 6.5M403.4 589.4l9.6 2.2l9.7 0.7l9.7-0.7l10.2-2.3M611.6 388.2l34.2-53.1M743.6 241.7l11.4-1.8l11.5 0.5l11.4 3l11.3 5.3l11.3 7.6l11.3 10l11.8 12.9l11.7 15.1l11.1 16.4l11.2 18.2l11.6 20.7l12.5 24.2l26.1 54.6l55.2 123.5l25.4 54.6l27.2 53.7l13 23.4l12.6 21.1l15.4 23.5l15.1 20.6l14.6 17.6l14.9 15.4l15.1 13l14.7 10.4l14.9 8l15.2 5.8M428 502.1l10.5 2.2l10.2 0.8l10.2-0.5l10.8-2M757 238.6l12.9-2.6l12.5-0.4l12.9 1.8l12.4 4.1l12.4 6.2l12.9 8.7l12.9 11l12.8 13.2l11.8 13.8l12.2 16.1l12.8 18.3l13.7 21.3l27.5 46.5l56.7 102.1l25.4 44l27.2 43.6l12.7 18.7l12.8 17.6l15.1 19l14.7 16.7l14.9 14.9l14.5 12.6l14.7 10.8l14.3 8.6l15 7.2l14.6 5.1M452.6 414l11.5 2.4l11.5 1l11.6-0.3l11.7-1.7M754.2 239.4l16-5.2l15.5-2.7l15.5-0.5l15 1.9l14.9 4.2l15.6 6.7l15.5 9.1l15.5 11.5l13.4 11.6l13.9 13.7l14.5 15.7l15.4 18.4l29.5 38l59.4 81.9l25.9 34.5l27.2 33.6l25.5 28.1l14.8 14.6l14.4 12.9l14.5 11.6l14.1 9.9l14.3 8.7l14.4 7.3l14.6 5.9l14.1 4.4M477.1 330.1l13.7 2.6l13.9 1.3l13.9 0l14.1-1.3M726.9 245.3l22.7-8.8l20.9-6l20.4-3.5l19.5-1.1l19.6 1.5l19.1 3.9l19.2 6.3l19.7 9.1l16.1 9.2l16.6 11.1l17.2 13l18.3 15.3l34.1 31.5l64.2 63.7l26.4 25.3l27.8 24.9l25.4 20.4l14.6 10.6l14 9.4l14.2 8.5l13.7 7.4l13.9 6.5l13.4 5.5l14.1 4.8l13.6 3.8M501.4 255.6l21.9 3.9l22 1.9l22.8-0.1l24.5-2.1l20.6-3.1l22.6-4.5l73.5-18l26.7-5.9l25.4-4.4l23.2-2.6l21.7-1l20.9 0.7l20.5 2.2l20.6 3.8l22.8 6.2l23.4 8.3l24.1 10.6l25.2 13l21.2 12.2l23.9 14.8l78.2 51.8l29.7 18.9l28.9 17.2l27.1 14.5l25.6 12.2l24.9 10l24.6 8.3l24.9 6.5M525.4 196.4l21.4 4.1l21.7 3.2l22.3 2.4l24 1.6l42.6 1.1l99.4-0.2l48.7 2l22.1 1.9l21.8 2.7l21 3.3l21.1 4.1l23.3 5.5l23.4 6.4l24.7 7.7l25.9 9l46.1 17.6l109.3 44.8l55.6 20.5l25.3 8.3l25.1 7.4l24.2 6.3l24.4 5.7M548.8 157.4l42.7 8.2l45.8 7.9l189.8 29.2l44.2 7.8l42.5 8.3l47.3 10.2l51.3 12l213 53.3l49.6 11.3l48 10.3M571.6 141.9l773.7 155.3M791.8 183.3l1.5 0.2M794.7 183.7l1.5 0.2M797.1 184l2 0.3M800 184.5l84.2 13.2l73.5 13.6l74.9 16.3l91.2 22.2M1124.9 250.1l2.7 0.6M1336.8 300.8l28.5 5.8M884.3 195.5l2.5 0.2M888.8 195.8l26.5 2.1l25.2 3l24.9 4l24.6 5.1l25.3 6.3l25.5 7.3l26.7 8.7l29.1 10.5M1317.1 325.7l33 9l33 7.6M935.5 197.8l20.8 0.3l20.3 1.8l19.9 3.3l19.9 4.8l20.6 6.5l20.6 8.1l21.3 9.8l22.8 11.9M1298.1 363.2l25.9 12l25 9.9l24.8 8l25.1 6.4M969.2 197.2l17.8-0.8l17.3 1l17.3 3.1l17.4 5.1l17.4 7l17.8 9.2l18.4 11.5l19 13.6M1283 402.7l17.3 13.5l16.4 11.6l16.5 10.6l16.1 9.2l16.3 8.1l15.9 6.6l16.1 5.5l15.7 4.1M998.6 195.4l3.1-0.5M1004.3 194.6l14.8-0.8l14.7 1.4l14.8 3.5l14.7 5.7l14.7 7.9l14.7 9.9l15.1 12.3l16.1 15.1M1271.5 435.6l21.3 24.8l19.9 21.2l19.2 18.1l18.9 15.5l18.7 13l18.9 10.7l19.2 8.3l18.9 5.8M1028.4 192.3l13.8-1.4l13.8 1.1l13.2 3.5l13.6 6.1l13.6 8.8l14 11.6l13.9 14.1l14.3 16.9M1263.6 457.6l24.5 39.5l22.8 33.4l21.6 28.1l21.4 23.9l10.7 10.3l10.7 9.4l10.8 8.4l10.4 7.1l10.5 6.1l10.6 5.2l10.7 4.2l10.9 3.3M1052.9 189.4l12.8-1.7l6.6 0.3l6.1 0.9l12.7 4l12.5 6.9l12.4 9.6l12.9 12.9l12.7 15.6l13.1 18.8M1260.4 469.8l28.3 58.9l24.4 46.2l11.9 20.5l11.5 18.5l11.1 16.5l11.2 15.3l11.4 14l11.5 12.6l11.6 11.3l11.3 9.4l11.9 8.5l11.6 6.7l11.6 5.3l11.9 3.9M1078.2 185.7l6.2-1l5.6-0.2l6.1 0.5l5.5 1.2l11.6 4.6l11.4 7.6l11.4 10.5l11.6 13.9l12.1 17.4l11.9 20.2M1265.6 485.4l29.7 74.9l25 57.4l12 25l12.1 23.5l11.8 21l11.4 18.5l12.1 17.6l11.8 15.2l11.9 13.5l11.6 11.3l12.2 10l12 7.8l12.6 6.4l12.3 4.4M1098.7 183l6.1-1.4l5.6-0.4l5.6 0.4l5.6 1.2l5.5 2l5.5 2.8l5.4 3.6l6 4.8l11.2 11.8l11 15l11.4 18.8l11.7 22.8M1304.2 586.9l22.8 61.5l21.5 51.3l10.4 22.5l10.6 21l10.2 18.5l10.4 17.1l10.5 15.6l10.7 14l10.8 12.4l10.4 10.3l11.1 9.2l10.8 7.2l11.4 5.9l11.1 4.1M1121.5 179.3l5.6-1.1l5.6-0.2l5.6 0.7l5 1.4l5 2.2l5.5 3.3l5.4 4.2l5.3 5l10.6 12.8l10.5 16l10.7 20.1l10.6 23.2M1342 689.8l18.3 48.3l18.1 42.2l17.7 35.2l9.3 16.2l8.8 14.1l9.5 13.5l9.1 11.5l9.3 10.2l9.3 8.9l9.5 7.7l9.7 6.3l9.7 5l10 3.7M1141 176.4l5.7-1.3l5.6-0.4l5.5 0.7l5 1.4l5 2.4l5.4 3.5l5.4 4.5l5.3 5.4l10.5 13.9l10.3 17.5l10.6 21.9l10.4 25.3M1385.2 799.5l14.4 33.2l14.2 28.8l14.5 25.1l14.4 20.9l15.2 18.1l7.8 7.6l7.3 6.2l7.9 5.8l7.5 4.5l8.1 3.9l7.7 2.8M1161.9 172.9l5.6-1.2l5.1-0.2l5.5 0.8l5 1.7l5 2.6l5.4 3.9l4.8 4.4l5.3 6l10.4 14.9l10.2 18.8l10.4 23.5l10.2 27.1M1431.5 896.1l10.5 18.9l10.3 16.1l10.9 14.9l10.6 12.3l11.3 10.9l11 8.4l11.2 6.5l11.5 4.6M1181 169.9l5.6-1.4l5.1-0.2l5.5 0.8l5 1.7l4.9 2.7l5.4 4l5.3 5.1l5.3 6.3l10.3 15.7l10 19.8l10.3 24.8l10.6 29.7M1483.8 972.4l12.2 13l12.4 10.5l12.7 8l12.9 5.4M1201.4 166.3l5.7-1.1l5 0l5.5 1.1l5 2l4.9 3l5.3 4.4l5.3 5.6l5.2 6.7l10.2 16.7l10 20.8l10.1 25.8l10.8 32.3M1539.3 1014.1l10.8 4.3M1219.7 163.3l5.6-1.2l5.5-0.1l5.5 1.1l5.5 2.3l5.3 3.4l5.3 4.7l5.3 5.8l5.1 6.9l10.6 18l10.4 22.6l10.5 27.8l10.7 33.2M1509.7 969.9l13.9 16.8l14.2 13.3l7.3 5.4l7.3 4.5l7.5 3.7l7 2.6" fill="none" stroke="#a8a8a8" stroke-width="1.2" stroke-opacity="0.36" stroke-linejoin="round"/></g>
<g id="axes"><g stroke-linecap="butt"><path d="M206.7 105.9L206 1079.8L946 1394.3L1559.7 1098.9" stroke="#151515" stroke-width="3.9" fill="none" stroke-linejoin="miter"/><line x1="206" y1="1079.8" x2="193.2" y2="1084" stroke="#151515" stroke-width="3.0"/><line x1="206.1" y1="987.5" x2="199.9" y2="989.5" stroke="#151515" stroke-width="3.0"/><line x1="206.2" y1="894.2" x2="193.2" y2="898" stroke="#151515" stroke-width="3.0"/><line x1="206.2" y1="799.8" x2="200" y2="801.5" stroke="#151515" stroke-width="3.0"/><line x1="206.3" y1="704.2" x2="193.2" y2="707.5" stroke="#151515" stroke-width="3.0"/><line x1="206.4" y1="607.5" x2="200.1" y2="609" stroke="#151515" stroke-width="3.0"/><line x1="206.5" y1="509.6" x2="193.2" y2="512.4" stroke="#151515" stroke-width="3.0"/><line x1="206.5" y1="410.5" x2="200.1" y2="411.7" stroke="#151515" stroke-width="3.0"/><line x1="206.6" y1="310.2" x2="193.3" y2="312.4" stroke="#151515" stroke-width="3.0"/><line x1="206.7" y1="208.7" x2="200.2" y2="209.6" stroke="#151515" stroke-width="3.0"/><line x1="206.7" y1="105.9" x2="193.3" y2="107.5" stroke="#151515" stroke-width="3.0"/><line x1="206" y1="1079.8" x2="193.3" y2="1086" stroke="#151515" stroke-width="3.0"/><line x1="286.9" y1="1114.1" x2="281.1" y2="1117.1" stroke="#151515" stroke-width="3.0"/><line x1="370.7" y1="1149.8" x2="358.2" y2="1156.3" stroke="#151515" stroke-width="3.0"/><line x1="457.7" y1="1186.7" x2="452" y2="1189.8" stroke="#151515" stroke-width="3.0"/><line x1="547.9" y1="1225.1" x2="535.5" y2="1232" stroke="#151515" stroke-width="3.0"/><line x1="641.7" y1="1264.9" x2="636" y2="1268.2" stroke="#151515" stroke-width="3.0"/><line x1="739.1" y1="1306.3" x2="726.9" y2="1313.6" stroke="#151515" stroke-width="3.0"/><line x1="840.5" y1="1349.4" x2="834.9" y2="1352.9" stroke="#151515" stroke-width="3.0"/><line x1="946" y1="1394.3" x2="934.1" y2="1402" stroke="#151515" stroke-width="3.0"/><line x1="946" y1="1394.3" x2="958.9" y2="1401.5" stroke="#151515" stroke-width="3.0"/><line x1="1035.3" y1="1351.3" x2="1041" y2="1354.4" stroke="#151515" stroke-width="3.0"/><line x1="1120.5" y1="1310.2" x2="1133.7" y2="1317.1" stroke="#151515" stroke-width="3.0"/><line x1="1201.9" y1="1271.1" x2="1207.7" y2="1274" stroke="#151515" stroke-width="3.0"/><line x1="1279.8" y1="1233.6" x2="1293.1" y2="1240.2" stroke="#151515" stroke-width="3.0"/><line x1="1354.3" y1="1197.7" x2="1360.1" y2="1200.6" stroke="#151515" stroke-width="3.0"/><line x1="1425.6" y1="1163.4" x2="1439" y2="1169.8" stroke="#151515" stroke-width="3.0"/><line x1="1494" y1="1130.5" x2="1499.9" y2="1133.2" stroke="#151515" stroke-width="3.0"/><line x1="1559.7" y1="1098.9" x2="1573.2" y2="1105" stroke="#151515" stroke-width="3.0"/></g></g>
<g id="labels" fill="#000"><text transform="matrix(0.5784 -0.0875 0.0123 0.7849 181.5 101.6)" font-size="100" text-anchor="end">1.2</text>
<text transform="matrix(0.5623 -0.0931 -0.004 0.755 180 310)" font-size="100" text-anchor="end">1.1</text>
<text transform="matrix(0.5728 -0.1186 -0.0301 0.7494 183.5 511)" font-size="100" text-anchor="end">1.0</text>
<text transform="matrix(0.5834 -0.1401 -0.0701 0.7417 180 707.8)" font-size="100" text-anchor="end">0.9</text>
<text transform="matrix(0.5567 -0.144 -0.1101 0.7368 178.5 900.5)" font-size="100" text-anchor="end">0.8</text>
<text transform="matrix(0.5513 -0.1633 -0.1205 0.72 176 1088.5)" font-size="100" text-anchor="end">0.7</text>
<text transform="matrix(0.605 -0.2051 0.5543 0.244 207.3 1116.8)" font-size="100" text-anchor="end">-90</text>
<text transform="matrix(0.6049 -0.2229 0.5967 0.2626 375.8 1189.8)" font-size="100" text-anchor="end">-45</text>
<text transform="matrix(0.5959 -0.24 0.6437 0.2805 557 1268.4)" font-size="100" text-anchor="end">0</text>
<text transform="matrix(0.5957 -0.264 0.6972 0.3057 753.3 1353.4)" font-size="100" text-anchor="end">45</text>
<text transform="matrix(0.5884 -0.2894 0.7574 0.332 966 1445.5)" font-size="100" text-anchor="end">90</text>
<text transform="matrix(0.6838 0.291 -0.6757 0.3327 951.5 1417.7)" font-size="100" text-anchor="start">0</text>
<text transform="matrix(0.6778 0.2686 -0.6135 0.3046 1127.6 1331.7)" font-size="100" text-anchor="start">45</text>
<text transform="matrix(0.6664 0.2473 -0.5602 0.2782 1288.2 1253.3)" font-size="100" text-anchor="start">90</text>
<text transform="matrix(0.6581 0.23 -0.5124 0.2566 1435 1181.5)" font-size="100" text-anchor="start">135</text>
<text transform="matrix(0.6457 0.2133 -0.4714 0.2361 1570 1115.6)" font-size="100" text-anchor="start">180</text>
<text transform="matrix(0.6389 0.2934 -0.7659 0.279 97.9 1202.6)" font-size="100" text-anchor="start">Polar</text>
<text transform="matrix(0.6847 0.3144 -0.7654 0.3014 249.1 1272.7)" font-size="100" text-anchor="start">angle</text>
<text transform="matrix(0.7175 0.3295 -0.7639 0.3176 416.3 1350)" font-size="100" text-anchor="start">θ</text>
<text transform="matrix(0.581 0.2673 -0.612 0.258 450.7 1365.9)" font-size="100" text-anchor="start">s</text>
<text transform="matrix(0.7741 0.3554 -0.7595 0.3455 488.5 1383.9)" font-size="100" text-anchor="start">(degree)</text>
<text transform="matrix(0.6473 -0.3434 0.8268 0.3387 1141.8 1500.2)" font-size="100" text-anchor="start">Azimuth</text>
<text transform="matrix(0.5797 -0.3075 0.8091 0.3063 1380.6 1372.3)" font-size="100" text-anchor="start">angle</text>
<text transform="matrix(0.5483 -0.2908 0.7994 0.2913 1518.7 1298.5)" font-size="100" text-anchor="start">φ</text>
<text transform="matrix(0.3345 -0.1789 0.4968 0.1793 1556.7 1284)" font-size="100" text-anchor="start">s</text>
<text transform="matrix(0.5055 -0.2681 0.7846 0.2707 1578.6 1265.9)" font-size="100" text-anchor="start">(degree)</text>
<text transform="matrix(0 0.878 -0.75 0.2 42 512.6)" font-size="100" text-anchor="start">ODF</text>
<text x="0" y="0" font-size="84" font-style="italic" transform="matrix(1 0 -0.13 1 1380 1128)">(f)</text></g>
<g id="colorbar"><defs><linearGradient id="cbg" gradientUnits="userSpaceOnUse" x1="0" y1="96" x2="0" y2="1003.4"><stop offset="0" stop-color="#690000"/><stop offset="0.036" stop-color="#7d0000"/><stop offset="0.1" stop-color="#a50000"/><stop offset="0.15" stop-color="#c80000"/><stop offset="0.2" stop-color="#f00000"/><stop offset="0.225" stop-color="#ff0000"/><stop offset="0.3385" stop-color="#ff0000"/><stop offset="0.395" stop-color="#ff6400"/><stop offset="0.429" stop-color="#ffa500"/><stop offset="0.505" stop-color="#ffff00"/><stop offset="0.587" stop-color="#aaff00"/><stop offset="0.672" stop-color="#00f000"/><stop offset="0.7" stop-color="#00ff80"/><stop offset="0.729" stop-color="#00ffff"/><stop offset="0.757" stop-color="#00c8ff"/><stop offset="0.795" stop-color="#008cff"/><stop offset="0.855" stop-color="#0000ff"/><stop offset="0.908" stop-color="#8000ff"/><stop offset="0.946" stop-color="#9600c8"/><stop offset="0.984" stop-color="#800080"/><stop offset="1" stop-color="#700070"/></linearGradient></defs>
<rect x="1704.5" y="87" width="73" height="9" fill="#fff"/>
<rect x="1704.5" y="96" width="73" height="907.4" fill="url(#cbg)"/>
<rect x="1704.5" y="1003.4" width="73" height="10.1" fill="#000"/>
<path d="M1704.5 1013.5L1704.5 87L1777.5 87L1777.5 1013.5" fill="none" stroke="#444" stroke-width="1.6"/>
<line x1="1777.5" y1="96" x2="1799" y2="96" stroke="#333" stroke-width="3.0"/><line x1="1777.5" y1="186.7" x2="1799" y2="186.7" stroke="#333" stroke-width="3.0"/><line x1="1777.5" y1="277.5" x2="1799" y2="277.5" stroke="#333" stroke-width="3.0"/><line x1="1777.5" y1="368.2" x2="1799" y2="368.2" stroke="#333" stroke-width="3.0"/><line x1="1777.5" y1="459" x2="1799" y2="459" stroke="#333" stroke-width="3.0"/><line x1="1777.5" y1="549.7" x2="1799" y2="549.7" stroke="#333" stroke-width="3.0"/><line x1="1777.5" y1="640.4" x2="1799" y2="640.4" stroke="#333" stroke-width="3.0"/><line x1="1777.5" y1="731.2" x2="1799" y2="731.2" stroke="#333" stroke-width="3.0"/><line x1="1777.5" y1="821.9" x2="1799" y2="821.9" stroke="#333" stroke-width="3.0"/><line x1="1777.5" y1="912.7" x2="1799" y2="912.7" stroke="#333" stroke-width="3.0"/><line x1="1777.5" y1="1003.4" x2="1799" y2="1003.4" stroke="#333" stroke-width="3.0"/>
<g font-family="Liberation Serif,Times New Roman,Times,serif" font-size="60.3" fill="#000"><text x="1821" y="116">1.158</text><text x="1821" y="206.7">1.117</text><text x="1821" y="297.5">1.076</text><text x="1821" y="388.2">1.034</text><text x="1817.5" y="479" letter-spacing="0.9">0.9932</text><text x="1817.5" y="569.7" letter-spacing="0.9">0.9520</text><text x="1817.5" y="660.4" letter-spacing="0.9">0.9108</text><text x="1817.5" y="751.2" letter-spacing="0.9">0.8696</text><text x="1817.5" y="841.9" letter-spacing="0.9">0.8284</text><text x="1817.5" y="932.7" letter-spacing="0.9">0.7872</text><text x="1817.5" y="1023.4" letter-spacing="0.9">0.7460</text></g></g>
</svg>
</body></html>
